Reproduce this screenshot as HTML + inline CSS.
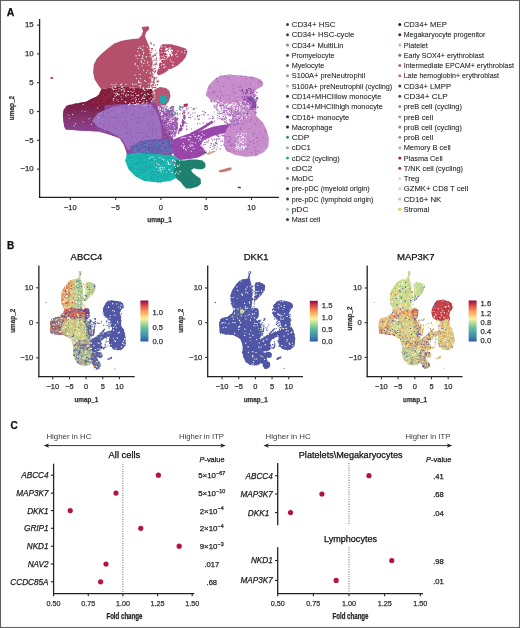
<!DOCTYPE html>
<html><head><meta charset="utf-8"><style>
html,body{margin:0;padding:0;background:#fff;}
body{width:520px;height:628px;overflow:hidden;}
svg{display:block;font-family:"Liberation Sans", sans-serif;will-change:transform;filter:blur(0.3px);}
</style></head><body>
<svg width="520" height="628" viewBox="0 0 520 628">
<rect x="0" y="0" width="520" height="628" fill="#fff"/>
<text x="6.80" y="15.86" font-size="10.5" font-weight="bold" fill="#111" stroke="#111" stroke-width="0.25">A</text>
<defs><linearGradient id="gml" gradientUnits="userSpaceOnUse" x1="0" y1="100" x2="0" y2="131"><stop offset="0" stop-color="#781a3e"/><stop offset="0.3" stop-color="#7c2450"/><stop offset="0.6" stop-color="#86346e"/><stop offset="1" stop-color="#8c4294"/></linearGradient></defs>
<path d="M63.8,109.4 L66.7,105.6 L74.4,103.7 L86.0,101.7 L91.7,98.8 L100.4,95.0 L120.0,94.0 L150.0,97.0 L157.0,104.0 L161.5,119.6 L168.5,123.0 L172.0,135.0 L176.0,150.0 L170.0,156.0 L150.0,157.0 L130.0,158.0 L127.3,160.0 L126.3,151.9 L123.5,144.2 L119.6,138.5 L111.9,135.6 L98.5,131.5 L79.2,130.6 L65.8,129.6 L64.3,126.7 L63.4,121.0 L62.9,114.2Z" fill="#8e4898"/>
<path d="M63.8,109.4 L66.7,105.6 L74.4,103.7 L86.0,101.7 L91.7,98.8 L100.4,95.0 L106.0,100.0 L104.0,110.0 L100.0,122.0 L98.5,131.5 L79.2,130.6 L65.8,129.6 L64.3,126.7 L63.4,121.0 L62.9,114.2Z" fill="url(#gml)"/>
<path d="M98.0,113.0 L115.0,106.0 L135.0,104.0 L150.0,104.0 L157.0,112.0 L161.0,125.0 L162.0,138.0 L155.0,146.0 L140.0,147.0 L128.0,150.0 L124.0,142.0 L118.0,136.0 L108.0,131.0 L98.0,127.0 L92.0,121.0Z" fill="#9e70c0"/>
<path d="M101.3,89.2 L117.7,86.3 L140.8,88.3 L152.0,89.0 L154.0,96.0 L150.0,103.0 L140.0,104.0 L120.0,104.0 L106.0,105.0 L96.0,107.0 L90.0,104.0 L94.0,99.0 L98.5,95.0Z" fill="#84203e"/>
<path d="M141.5,26.9 L148.5,26.2 L149.2,29.2 L146.2,32.3 L145.0,36.0 L146.5,40.0 L149.2,46.2 L150.8,53.8 L152.3,63.1 L152.3,72.3 L151.0,80.0 L150.0,88.0 L140.8,88.3 L117.7,86.3 L101.3,89.2 L98.5,85.4 L94.6,79.6 L93.1,72.3 L93.8,64.6 L96.9,58.5 L101.5,53.8 L107.7,48.5 L113.8,43.8 L121.5,40.8 L130.8,39.2 L138.5,38.5 L141.5,35.4 L143.0,31.0Z" fill="#b4506c"/>
<path d="M162.5,44.3 L171.2,44.3 L178.8,46.2 L185.6,48.6 L187.5,51.5 L185.6,57.2 L182.7,61.1 L176.9,65.9 L169.2,69.7 L163.5,73.6 L158.7,75.5 L156.7,73.6 L158.7,66.8 L159.6,57.2 L159.1,49.5 L160.6,45.7Z" fill="#b84c6c"/>
<path d="M155.0,89.0 L160.0,87.0 L166.0,88.0 L169.5,91.0 L170.5,96.0 L169.0,101.0 L166.0,105.0 L161.0,106.5 L156.0,104.5 L153.0,99.0 L152.0,93.0Z" fill="#b45874"/>
<path d="M160.0,96.0 L164.0,95.0 L167.0,97.0 L167.5,101.0 L165.0,104.0 L161.0,104.5 L159.5,101.0Z" fill="#28a4a8"/>
<path d="M169.6,107.0 L174.2,107.5 L173.5,111.5 L170.0,111.0Z" fill="#40a8b0"/>
<path d="M183.5,104.0 L188.0,103.5 L187.5,106.5 L184.0,107.0Z" fill="#b03050"/>
<path d="M157.0,104.0 L165.0,108.0 L172.0,112.0 L177.0,118.0 L178.0,128.0 L175.0,136.0 L170.0,138.0 L166.0,125.0 L161.5,119.6Z" fill="#9a56ae"/>
<path d="M130.0,147.0 L140.0,141.0 L155.0,139.0 L170.0,140.0 L176.0,147.0 L173.0,154.0 L160.0,154.0 L145.0,153.0 L132.0,153.0Z" fill="#6462b0"/>
<path d="M126.9,154.0 L137.0,153.0 L155.0,154.0 L172.0,155.0 L182.0,161.0 L180.0,172.0 L177.1,177.4 L170.2,180.9 L158.1,182.6 L144.2,180.9 L135.6,176.5 L128.7,169.6 L125.2,161.0Z" fill="#16b6ae"/>
<path d="M176.0,160.0 L184.2,160.6 L190.0,159.6 L196.7,159.6 L202.5,160.6 L205.4,163.5 L205.4,167.3 L202.5,169.2 L197.7,169.2 L193.8,168.3 L191.0,170.2 L192.9,173.1 L196.7,176.0 L200.6,178.8 L201.0,183.7 L197.7,186.5 L191.0,188.5 L186.2,188.5 L183.3,185.6 L180.4,181.7 L176.5,178.8 L174.0,172.0Z" fill="#1e806e"/>
<path d="M172.0,140.0 L176.9,138.0 L188.0,134.0 L200.0,131.2 L213.8,126.5 L225.0,124.5 L233.8,124.2 L235.0,128.0 L233.8,131.2 L225.0,133.0 L213.8,135.8 L204.0,140.0 L200.0,145.0 L204.0,149.0 L205.0,154.0 L198.0,157.5 L190.0,159.0 L180.0,160.0 L174.0,156.0 L172.0,148.0Z" fill="#9846aa"/>
<path d="M190.0,133.0 L200.0,128.0 L212.0,120.5 L213.5,122.5 L202.0,130.0 L192.0,135.5Z" fill="#9846aa"/>
<path d="M183.5,114.5 L186.0,115.0 L184.5,124.0 L181.0,133.0 L177.5,134.0 L180.5,124.0Z" fill="#9846aa"/>
<path d="M214.4,79.4 L220.2,75.8 L228.8,74.4 L243.3,75.8 L254.8,77.3 L260.6,79.4 L263.5,83.0 L262.0,86.6 L256.3,89.5 L253.4,93.8 L251.9,96.7 L256.3,108.3 L256.1,115.8 L262.9,122.5 L266.9,130.6 L268.9,138.6 L268.3,146.7 L264.2,152.1 L256.1,156.1 L245.4,156.8 L234.6,154.8 L226.5,150.8 L223.8,144.0 L223.8,136.0 L226.5,129.2 L230.6,123.8 L231.9,117.1 L229.0,110.0 L222.0,106.0 L215.9,102.5 L211.5,101.1 L205.8,95.3 L207.2,89.5 L208.7,85.2Z" fill="#c78cca"/>
<path d="M247.6,96.7 L252.0,96.0 L256.3,103.0 L256.3,108.3 L252.0,108.0 L249.0,102.0Z" fill="#8c4ea8"/>
<path d="M50.5,77.2 L53.0,77.2 L53.0,78.8 L50.5,78.8Z" fill="#a03040"/>
<path d="M218.5,170.5 L224.0,169.0 L229.0,167.5 L232.0,167.8 L231.0,170.0 L226.0,171.5 L220.0,172.5Z" fill="#c47a74"/>
<path d="M206.0,153.5 L214.0,150.5 L216.0,151.5 L208.0,155.0Z" fill="#d8a090"/>
<path d="M204.5,152.0 L206.5,151.8 L206.5,153.2 L204.5,153.4Z" fill="#444444"/>
<path d="M238.0,186.4 L241.0,187.0 L240.5,188.5 L237.5,188.0Z" fill="#6a3a6a"/>
<path d="M167.0 48.3h1.2v1.2h-1.2zM169.6 47.6h1.2v1.2h-1.2zM168.7 50.4h1.2v1.2h-1.2zM167.8 54.8h1.2v1.2h-1.2zM165.4 49.0h1.2v1.2h-1.2zM169.0 50.7h1.2v1.2h-1.2zM171.3 49.7h1.2v1.2h-1.2zM166.9 54.7h1.2v1.2h-1.2zM165.8 52.4h1.2v1.2h-1.2zM169.5 50.4h1.2v1.2h-1.2zM168.8 47.5h1.2v1.2h-1.2zM164.9 48.9h1.2v1.2h-1.2zM169.8 51.0h1.2v1.2h-1.2zM166.9 52.5h1.2v1.2h-1.2zM168.0 49.7h1.2v1.2h-1.2zM170.8 53.5h1.2v1.2h-1.2zM166.4 52.4h1.2v1.2h-1.2zM168.6 55.2h1.2v1.2h-1.2zM170.2 49.6h1.2v1.2h-1.2zM167.7 54.1h1.2v1.2h-1.2zM165.6 51.5h1.2v1.2h-1.2zM170.5 52.3h1.2v1.2h-1.2zM171.4 49.9h1.2v1.2h-1.2zM170.0 52.5h1.2v1.2h-1.2zM169.0 51.2h1.2v1.2h-1.2zM168.2 53.2h1.2v1.2h-1.2zM171.0 49.6h1.2v1.2h-1.2zM167.5 53.3h1.2v1.2h-1.2zM165.7 48.0h1.2v1.2h-1.2zM165.4 49.3h1.2v1.2h-1.2zM167.5 55.2h1.2v1.2h-1.2zM168.8 55.3h1.2v1.2h-1.2zM171.0 55.1h1.2v1.2h-1.2zM166.6 50.8h1.2v1.2h-1.2zM167.3 55.3h1.2v1.2h-1.2zM165.8 49.1h1.2v1.2h-1.2zM166.3 51.5h1.2v1.2h-1.2zM169.1 49.4h1.2v1.2h-1.2zM167.4 52.3h1.2v1.2h-1.2zM168.5 52.8h1.2v1.2h-1.2zM169.8 47.4h1.2v1.2h-1.2zM171.6 54.3h1.2v1.2h-1.2zM171.4 54.5h1.2v1.2h-1.2z" fill="#ffffff"/>
<path d="M160.2 61.0h1.1v1.1h-1.1zM158.2 60.7h1.1v1.1h-1.1zM161.7 58.8h1.1v1.1h-1.1zM159.2 60.6h1.1v1.1h-1.1zM160.7 61.8h1.1v1.1h-1.1zM159.8 59.8h1.1v1.1h-1.1zM163.3 58.9h1.1v1.1h-1.1zM161.1 58.8h1.1v1.1h-1.1zM163.5 63.7h1.1v1.1h-1.1zM159.3 60.8h1.1v1.1h-1.1zM161.2 64.5h1.1v1.1h-1.1zM159.8 59.5h1.1v1.1h-1.1zM163.2 64.1h1.1v1.1h-1.1zM159.0 62.1h1.1v1.1h-1.1zM157.6 60.0h1.1v1.1h-1.1zM223.1 101.5h1.1v1.1h-1.1zM242.7 110.2h1.1v1.1h-1.1zM221.8 109.5h1.1v1.1h-1.1zM238.7 115.6h1.1v1.1h-1.1zM240.7 102.4h1.1v1.1h-1.1zM248.4 106.5h1.1v1.1h-1.1zM236.4 108.4h1.1v1.1h-1.1zM243.9 104.2h1.1v1.1h-1.1zM222.3 105.3h1.1v1.1h-1.1zM236.9 107.3h1.1v1.1h-1.1zM233.8 105.0h1.1v1.1h-1.1zM247.0 115.1h1.1v1.1h-1.1zM232.3 119.1h1.1v1.1h-1.1zM216.7 104.0h1.1v1.1h-1.1zM252.4 108.4h1.1v1.1h-1.1zM249.6 110.2h1.1v1.1h-1.1zM237.7 114.3h1.1v1.1h-1.1zM221.0 108.3h1.1v1.1h-1.1zM217.7 104.3h1.1v1.1h-1.1zM240.1 104.3h1.1v1.1h-1.1zM241.3 103.9h1.1v1.1h-1.1zM225.2 104.3h1.1v1.1h-1.1zM246.4 112.6h1.1v1.1h-1.1zM214.2 101.9h1.1v1.1h-1.1zM228.8 112.7h1.1v1.1h-1.1zM239.6 101.6h1.1v1.1h-1.1zM229.5 106.2h1.1v1.1h-1.1zM225.2 113.0h1.1v1.1h-1.1zM227.2 109.4h1.1v1.1h-1.1zM227.5 104.2h1.1v1.1h-1.1zM243.5 104.3h1.1v1.1h-1.1zM230.1 119.1h1.1v1.1h-1.1zM229.3 120.6h1.1v1.1h-1.1zM231.7 103.4h1.1v1.1h-1.1zM239.6 121.3h1.1v1.1h-1.1zM227.8 111.6h1.1v1.1h-1.1zM217.9 106.2h1.1v1.1h-1.1zM234.4 121.7h1.1v1.1h-1.1zM220.1 102.5h1.1v1.1h-1.1zM252.2 108.8h1.1v1.1h-1.1zM247.7 103.3h1.1v1.1h-1.1zM246.0 104.8h1.1v1.1h-1.1zM229.2 119.8h1.1v1.1h-1.1zM247.9 103.8h1.1v1.1h-1.1zM221.0 109.0h1.1v1.1h-1.1zM234.2 108.7h1.1v1.1h-1.1zM216.9 105.4h1.1v1.1h-1.1zM244.8 100.4h1.1v1.1h-1.1zM248.3 102.3h1.1v1.1h-1.1zM237.8 112.7h1.1v1.1h-1.1zM239.0 106.8h1.1v1.1h-1.1zM229.9 113.4h1.1v1.1h-1.1zM230.2 115.3h1.1v1.1h-1.1zM231.1 110.0h1.1v1.1h-1.1zM233.0 105.1h1.1v1.1h-1.1zM231.6 103.8h1.1v1.1h-1.1zM232.3 102.0h1.1v1.1h-1.1zM239.5 101.4h1.1v1.1h-1.1zM243.7 118.1h1.1v1.1h-1.1zM233.6 108.5h1.1v1.1h-1.1zM233.1 122.4h1.1v1.1h-1.1zM251.8 103.4h1.1v1.1h-1.1zM244.7 103.3h1.1v1.1h-1.1zM250.9 106.0h1.1v1.1h-1.1zM247.3 102.9h1.1v1.1h-1.1zM233.5 121.5h1.1v1.1h-1.1zM220.6 105.8h1.1v1.1h-1.1zM233.7 107.1h1.1v1.1h-1.1zM239.4 108.1h1.1v1.1h-1.1zM249.9 112.8h1.1v1.1h-1.1zM237.0 120.6h1.1v1.1h-1.1zM239.2 108.9h1.1v1.1h-1.1zM246.5 105.8h1.1v1.1h-1.1zM227.3 117.8h1.1v1.1h-1.1zM230.9 103.7h1.1v1.1h-1.1zM244.2 100.6h1.1v1.1h-1.1zM247.5 105.5h1.1v1.1h-1.1zM237.2 115.4h1.1v1.1h-1.1zM238.6 109.8h1.1v1.1h-1.1zM234.0 120.9h1.1v1.1h-1.1zM217.3 104.9h1.1v1.1h-1.1zM237.4 104.4h1.1v1.1h-1.1zM238.9 110.8h1.1v1.1h-1.1zM222.2 103.0h1.1v1.1h-1.1zM229.1 105.8h1.1v1.1h-1.1zM236.2 107.9h1.1v1.1h-1.1zM239.9 110.1h1.1v1.1h-1.1zM229.3 105.2h1.1v1.1h-1.1zM233.8 114.8h1.1v1.1h-1.1zM247.2 103.6h1.1v1.1h-1.1zM225.1 106.7h1.1v1.1h-1.1zM244.2 110.6h1.1v1.1h-1.1zM244.1 110.3h1.1v1.1h-1.1zM221.4 102.0h1.1v1.1h-1.1zM242.8 105.8h1.1v1.1h-1.1zM235.8 109.9h1.1v1.1h-1.1zM246.1 112.0h1.1v1.1h-1.1zM222.9 105.1h1.1v1.1h-1.1zM244.3 107.3h1.1v1.1h-1.1zM250.2 107.3h1.1v1.1h-1.1zM239.2 116.1h1.1v1.1h-1.1zM232.1 119.6h1.1v1.1h-1.1zM230.7 116.8h1.1v1.1h-1.1zM236.5 106.8h1.1v1.1h-1.1zM217.8 100.1h1.1v1.1h-1.1zM226.6 102.9h1.1v1.1h-1.1zM212.7 100.4h1.1v1.1h-1.1zM241.9 114.7h1.1v1.1h-1.1zM242.1 117.1h1.1v1.1h-1.1zM216.2 104.4h1.1v1.1h-1.1zM216.4 100.3h1.1v1.1h-1.1zM239.4 119.3h1.1v1.1h-1.1zM239.2 106.3h1.1v1.1h-1.1zM215.8 101.8h1.1v1.1h-1.1zM244.8 104.4h1.1v1.1h-1.1zM225.5 109.6h1.1v1.1h-1.1zM227.6 107.1h1.1v1.1h-1.1zM248.9 114.3h1.1v1.1h-1.1zM230.7 118.0h1.1v1.1h-1.1zM226.7 116.4h1.1v1.1h-1.1zM235.1 104.6h1.1v1.1h-1.1zM249.4 101.6h1.1v1.1h-1.1zM247.5 103.5h1.1v1.1h-1.1zM233.1 118.6h1.1v1.1h-1.1zM223.9 104.6h1.1v1.1h-1.1zM242.2 111.4h1.1v1.1h-1.1zM242.1 118.3h1.1v1.1h-1.1zM239.1 108.0h1.1v1.1h-1.1zM229.1 108.9h1.1v1.1h-1.1zM250.6 101.5h1.1v1.1h-1.1zM220.5 105.8h1.1v1.1h-1.1zM251.1 111.5h1.1v1.1h-1.1zM221.7 110.5h1.1v1.1h-1.1zM234.8 117.6h1.1v1.1h-1.1zM244.6 115.0h1.1v1.1h-1.1zM226.8 107.3h1.1v1.1h-1.1zM240.6 117.3h1.1v1.1h-1.1zM245.5 113.4h1.1v1.1h-1.1zM250.4 105.2h1.1v1.1h-1.1zM219.9 106.7h1.1v1.1h-1.1zM218.3 103.2h1.1v1.1h-1.1zM222.3 107.3h1.1v1.1h-1.1zM234.4 103.3h1.1v1.1h-1.1zM225.9 104.0h1.1v1.1h-1.1zM243.7 109.9h1.1v1.1h-1.1zM216.2 104.4h1.1v1.1h-1.1zM229.0 118.4h1.1v1.1h-1.1zM242.0 111.5h1.1v1.1h-1.1zM239.3 110.6h1.1v1.1h-1.1zM229.3 117.2h1.1v1.1h-1.1zM251.4 109.8h1.1v1.1h-1.1zM236.7 117.4h1.1v1.1h-1.1zM230.0 104.9h1.1v1.1h-1.1zM245.5 116.3h1.1v1.1h-1.1zM239.7 110.3h1.1v1.1h-1.1zM225.2 114.5h1.1v1.1h-1.1zM245.9 116.6h1.1v1.1h-1.1zM239.2 105.5h1.1v1.1h-1.1zM230.1 110.4h1.1v1.1h-1.1zM238.8 109.3h1.1v1.1h-1.1zM245.7 108.8h1.1v1.1h-1.1zM233.0 122.8h1.1v1.1h-1.1zM235.3 116.7h1.1v1.1h-1.1zM234.0 114.8h1.1v1.1h-1.1zM247.9 112.0h1.1v1.1h-1.1zM228.7 117.8h1.1v1.1h-1.1zM223.5 109.0h1.1v1.1h-1.1zM230.0 116.2h1.1v1.1h-1.1zM226.9 105.8h1.1v1.1h-1.1zM228.7 104.5h1.1v1.1h-1.1zM247.1 114.7h1.1v1.1h-1.1zM232.1 112.9h1.1v1.1h-1.1zM227.0 114.8h1.1v1.1h-1.1zM232.0 106.5h1.1v1.1h-1.1zM235.6 102.5h1.1v1.1h-1.1zM248.1 108.0h1.1v1.1h-1.1zM248.9 105.9h1.1v1.1h-1.1zM228.0 105.5h1.1v1.1h-1.1zM230.2 103.9h1.1v1.1h-1.1zM223.8 105.3h1.1v1.1h-1.1zM224.7 111.0h1.1v1.1h-1.1zM230.3 114.7h1.1v1.1h-1.1zM240.5 108.1h1.1v1.1h-1.1zM236.1 146.5h1.1v1.1h-1.1zM245.4 145.8h1.1v1.1h-1.1zM237.0 146.6h1.1v1.1h-1.1zM242.4 132.7h1.1v1.1h-1.1zM235.6 148.6h1.1v1.1h-1.1zM242.7 136.7h1.1v1.1h-1.1zM236.6 134.9h1.1v1.1h-1.1zM238.0 145.6h1.1v1.1h-1.1zM239.3 135.0h1.1v1.1h-1.1zM245.4 145.9h1.1v1.1h-1.1zM237.3 147.6h1.1v1.1h-1.1zM242.1 145.7h1.1v1.1h-1.1zM242.8 147.6h1.1v1.1h-1.1zM244.1 146.7h1.1v1.1h-1.1zM237.6 144.2h1.1v1.1h-1.1zM241.3 145.1h1.1v1.1h-1.1zM240.3 147.5h1.1v1.1h-1.1zM241.6 136.9h1.1v1.1h-1.1zM238.0 134.8h1.1v1.1h-1.1zM240.9 133.4h1.1v1.1h-1.1zM240.6 134.9h1.1v1.1h-1.1zM240.9 140.9h1.1v1.1h-1.1zM241.4 147.1h1.1v1.1h-1.1zM235.5 146.7h1.1v1.1h-1.1zM240.6 142.0h1.1v1.1h-1.1zM242.8 146.7h1.1v1.1h-1.1zM239.6 139.6h1.1v1.1h-1.1zM246.0 133.7h1.1v1.1h-1.1zM242.5 143.3h1.1v1.1h-1.1zM235.8 142.8h1.1v1.1h-1.1zM243.0 148.3h1.1v1.1h-1.1zM239.1 149.1h1.1v1.1h-1.1zM241.1 140.7h1.1v1.1h-1.1zM245.3 133.0h1.1v1.1h-1.1zM243.4 143.1h1.1v1.1h-1.1zM239.2 147.1h1.1v1.1h-1.1zM239.5 140.5h1.1v1.1h-1.1zM241.2 145.5h1.1v1.1h-1.1zM237.8 139.8h1.1v1.1h-1.1zM240.1 141.9h1.1v1.1h-1.1zM244.5 137.4h1.1v1.1h-1.1zM244.6 139.3h1.1v1.1h-1.1zM241.0 137.1h1.1v1.1h-1.1zM241.0 149.0h1.1v1.1h-1.1zM242.7 145.9h1.1v1.1h-1.1zM239.1 137.8h1.1v1.1h-1.1zM238.7 142.4h1.1v1.1h-1.1zM242.4 145.8h1.1v1.1h-1.1zM235.9 144.7h1.1v1.1h-1.1zM245.2 141.7h1.1v1.1h-1.1zM236.0 137.6h1.1v1.1h-1.1zM235.5 135.7h1.1v1.1h-1.1zM245.6 142.8h1.1v1.1h-1.1zM242.7 145.9h1.1v1.1h-1.1zM245.5 142.8h1.1v1.1h-1.1zM242.2 143.1h1.1v1.1h-1.1zM243.1 142.6h1.1v1.1h-1.1zM242.9 136.1h1.1v1.1h-1.1zM242.8 140.2h1.1v1.1h-1.1zM243.8 134.2h1.1v1.1h-1.1zM237.4 133.1h1.1v1.1h-1.1zM244.0 148.0h1.1v1.1h-1.1zM242.7 138.7h1.1v1.1h-1.1zM244.5 145.8h1.1v1.1h-1.1zM241.6 136.8h1.1v1.1h-1.1zM179.3 126.9h1.1v1.1h-1.1zM158.1 108.2h1.1v1.1h-1.1zM176.1 113.3h1.1v1.1h-1.1zM173.6 128.5h1.1v1.1h-1.1zM163.9 107.5h1.1v1.1h-1.1zM170.4 109.0h1.1v1.1h-1.1zM163.4 108.2h1.1v1.1h-1.1zM177.2 109.9h1.1v1.1h-1.1zM180.9 124.2h1.1v1.1h-1.1zM169.6 114.7h1.1v1.1h-1.1zM180.3 119.2h1.1v1.1h-1.1zM162.9 105.3h1.1v1.1h-1.1zM177.1 121.7h1.1v1.1h-1.1zM164.2 117.0h1.1v1.1h-1.1zM161.0 112.4h1.1v1.1h-1.1zM180.8 114.5h1.1v1.1h-1.1zM175.8 110.4h1.1v1.1h-1.1zM170.3 112.9h1.1v1.1h-1.1zM163.9 110.1h1.1v1.1h-1.1zM177.5 113.1h1.1v1.1h-1.1zM179.9 114.7h1.1v1.1h-1.1zM180.6 120.8h1.1v1.1h-1.1zM161.8 117.8h1.1v1.1h-1.1zM177.1 109.9h1.1v1.1h-1.1zM158.7 106.3h1.1v1.1h-1.1zM174.1 119.8h1.1v1.1h-1.1zM164.4 110.2h1.1v1.1h-1.1zM174.2 126.8h1.1v1.1h-1.1zM180.0 122.7h1.1v1.1h-1.1zM162.3 105.6h1.1v1.1h-1.1zM177.7 116.9h1.1v1.1h-1.1zM180.0 114.5h1.1v1.1h-1.1zM182.8 119.2h1.1v1.1h-1.1zM181.7 112.2h1.1v1.1h-1.1zM167.1 108.8h1.1v1.1h-1.1zM167.2 123.1h1.1v1.1h-1.1zM169.4 120.5h1.1v1.1h-1.1zM180.1 132.0h1.1v1.1h-1.1zM167.5 128.2h1.1v1.1h-1.1zM184.1 119.8h1.1v1.1h-1.1zM171.3 121.0h1.1v1.1h-1.1zM161.7 106.8h1.1v1.1h-1.1zM176.7 109.9h1.1v1.1h-1.1zM173.2 120.7h1.1v1.1h-1.1zM181.7 127.1h1.1v1.1h-1.1zM157.8 107.5h1.1v1.1h-1.1zM170.8 120.0h1.1v1.1h-1.1zM164.6 107.5h1.1v1.1h-1.1zM168.2 108.0h1.1v1.1h-1.1zM173.6 131.9h1.1v1.1h-1.1zM167.7 117.3h1.1v1.1h-1.1zM180.8 120.8h1.1v1.1h-1.1zM179.0 114.6h1.1v1.1h-1.1zM163.4 114.5h1.1v1.1h-1.1zM180.1 131.4h1.1v1.1h-1.1zM163.7 117.4h1.1v1.1h-1.1zM174.8 115.5h1.1v1.1h-1.1zM169.0 120.1h1.1v1.1h-1.1zM184.6 129.1h1.1v1.1h-1.1zM183.6 124.3h1.1v1.1h-1.1zM175.1 112.2h1.1v1.1h-1.1zM176.1 112.5h1.1v1.1h-1.1zM172.2 134.0h1.1v1.1h-1.1zM174.5 111.7h1.1v1.1h-1.1zM171.5 117.8h1.1v1.1h-1.1zM184.0 112.9h1.1v1.1h-1.1zM165.3 124.8h1.1v1.1h-1.1zM184.2 120.4h1.1v1.1h-1.1zM164.2 118.8h1.1v1.1h-1.1zM171.9 108.3h1.1v1.1h-1.1zM160.0 107.8h1.1v1.1h-1.1zM165.0 116.9h1.1v1.1h-1.1zM164.8 111.5h1.1v1.1h-1.1zM180.8 123.6h1.1v1.1h-1.1zM173.0 124.9h1.1v1.1h-1.1zM169.8 121.5h1.1v1.1h-1.1zM174.2 118.9h1.1v1.1h-1.1zM165.5 111.4h1.1v1.1h-1.1zM162.9 120.4h1.1v1.1h-1.1zM167.6 122.8h1.1v1.1h-1.1zM181.4 111.3h1.1v1.1h-1.1zM172.6 119.7h1.1v1.1h-1.1zM161.0 105.7h1.1v1.1h-1.1zM181.7 118.0h1.1v1.1h-1.1zM169.2 127.7h1.1v1.1h-1.1zM159.6 110.9h1.1v1.1h-1.1zM184.3 127.8h1.1v1.1h-1.1zM160.9 114.6h1.1v1.1h-1.1zM166.7 125.7h1.1v1.1h-1.1zM174.3 131.5h1.1v1.1h-1.1zM180.3 120.5h1.1v1.1h-1.1zM177.9 128.0h1.1v1.1h-1.1zM178.5 119.1h1.1v1.1h-1.1zM179.2 126.8h1.1v1.1h-1.1zM178.7 122.8h1.1v1.1h-1.1zM170.9 135.2h1.1v1.1h-1.1zM173.0 117.2h1.1v1.1h-1.1zM179.2 132.3h1.1v1.1h-1.1zM174.1 116.0h1.1v1.1h-1.1zM169.6 118.6h1.1v1.1h-1.1zM177.4 113.1h1.1v1.1h-1.1zM167.8 121.8h1.1v1.1h-1.1zM167.6 114.1h1.1v1.1h-1.1zM179.3 131.5h1.1v1.1h-1.1zM170.9 118.1h1.1v1.1h-1.1zM161.8 113.5h1.1v1.1h-1.1zM183.1 114.1h1.1v1.1h-1.1zM180.9 131.1h1.1v1.1h-1.1zM172.8 119.9h1.1v1.1h-1.1zM183.1 129.0h1.1v1.1h-1.1zM171.5 120.5h1.1v1.1h-1.1zM176.3 116.3h1.1v1.1h-1.1zM166.8 123.1h1.1v1.1h-1.1zM176.1 120.8h1.1v1.1h-1.1zM168.1 122.0h1.1v1.1h-1.1zM173.1 132.5h1.1v1.1h-1.1zM184.4 119.5h1.1v1.1h-1.1zM169.2 124.1h1.1v1.1h-1.1zM185.3 114.8h1.1v1.1h-1.1zM171.8 130.4h1.1v1.1h-1.1zM161.4 113.9h1.1v1.1h-1.1zM182.4 126.2h1.1v1.1h-1.1zM182.2 117.3h1.1v1.1h-1.1zM161.0 113.0h1.1v1.1h-1.1zM171.3 120.1h1.1v1.1h-1.1zM161.9 109.5h1.1v1.1h-1.1zM174.7 123.4h1.1v1.1h-1.1zM168.4 129.4h1.1v1.1h-1.1zM180.9 122.8h1.1v1.1h-1.1zM175.8 109.9h1.1v1.1h-1.1zM170.9 121.7h1.1v1.1h-1.1zM173.1 117.0h1.1v1.1h-1.1zM160.0 108.6h1.1v1.1h-1.1zM159.4 109.1h1.1v1.1h-1.1zM171.6 130.6h1.1v1.1h-1.1zM174.2 130.1h1.1v1.1h-1.1zM178.8 114.1h1.1v1.1h-1.1zM177.2 115.1h1.1v1.1h-1.1zM161.4 112.2h1.1v1.1h-1.1zM173.3 115.0h1.1v1.1h-1.1zM169.5 116.2h1.1v1.1h-1.1zM173.3 135.1h1.1v1.1h-1.1zM169.2 123.9h1.1v1.1h-1.1zM180.1 113.5h1.1v1.1h-1.1zM173.9 135.1h1.1v1.1h-1.1zM170.8 134.8h1.1v1.1h-1.1zM163.5 116.3h1.1v1.1h-1.1zM177.3 110.8h1.1v1.1h-1.1zM170.5 129.6h1.1v1.1h-1.1zM163.5 109.2h1.1v1.1h-1.1zM166.8 109.6h1.1v1.1h-1.1zM184.6 113.0h1.1v1.1h-1.1zM171.9 116.2h1.1v1.1h-1.1z" fill="#ffffff"/>
<path d="M121.4 98.7h1.0v1.0h-1.0zM153.5 93.3h1.0v1.0h-1.0zM153.4 91.5h1.0v1.0h-1.0zM119.6 88.5h1.0v1.0h-1.0zM118.5 88.0h1.0v1.0h-1.0zM138.2 103.3h1.0v1.0h-1.0zM148.2 94.0h1.0v1.0h-1.0zM139.5 101.1h1.0v1.0h-1.0zM113.4 98.0h1.0v1.0h-1.0zM151.3 100.7h1.0v1.0h-1.0zM144.0 94.0h1.0v1.0h-1.0zM117.7 100.9h1.0v1.0h-1.0zM124.8 101.1h1.0v1.0h-1.0zM154.2 92.2h1.0v1.0h-1.0zM128.0 104.3h1.0v1.0h-1.0zM142.8 87.2h1.0v1.0h-1.0zM115.3 86.8h1.0v1.0h-1.0zM151.1 101.2h1.0v1.0h-1.0zM125.6 95.6h1.0v1.0h-1.0zM115.5 83.8h1.0v1.0h-1.0zM154.2 97.8h1.0v1.0h-1.0zM133.7 104.0h1.0v1.0h-1.0zM129.5 102.7h1.0v1.0h-1.0zM147.5 88.1h1.0v1.0h-1.0zM121.1 89.9h1.0v1.0h-1.0zM120.6 96.4h1.0v1.0h-1.0zM121.4 92.7h1.0v1.0h-1.0zM125.8 93.6h1.0v1.0h-1.0zM136.3 103.4h1.0v1.0h-1.0zM128.8 103.7h1.0v1.0h-1.0zM132.6 95.2h1.0v1.0h-1.0zM133.6 83.9h1.0v1.0h-1.0zM129.7 87.5h1.0v1.0h-1.0zM117.4 93.9h1.0v1.0h-1.0zM142.9 95.7h1.0v1.0h-1.0zM124.5 94.9h1.0v1.0h-1.0zM135.1 100.8h1.0v1.0h-1.0zM114.4 95.8h1.0v1.0h-1.0zM120.9 89.6h1.0v1.0h-1.0zM145.0 94.7h1.0v1.0h-1.0zM135.3 100.2h1.0v1.0h-1.0zM151.5 93.3h1.0v1.0h-1.0zM137.7 94.6h1.0v1.0h-1.0zM133.1 98.7h1.0v1.0h-1.0zM130.3 95.2h1.0v1.0h-1.0zM131.5 104.2h1.0v1.0h-1.0zM141.7 102.8h1.0v1.0h-1.0zM152.8 89.2h1.0v1.0h-1.0zM135.2 104.3h1.0v1.0h-1.0zM148.1 86.5h1.0v1.0h-1.0zM115.1 93.2h1.0v1.0h-1.0zM112.8 88.8h1.0v1.0h-1.0zM112.9 98.2h1.0v1.0h-1.0zM145.6 103.2h1.0v1.0h-1.0zM116.6 99.3h1.0v1.0h-1.0zM139.9 86.6h1.0v1.0h-1.0zM150.1 104.8h1.0v1.0h-1.0zM127.8 94.2h1.0v1.0h-1.0zM116.9 93.0h1.0v1.0h-1.0zM133.2 91.0h1.0v1.0h-1.0zM118.5 90.5h1.0v1.0h-1.0zM135.0 93.2h1.0v1.0h-1.0zM138.2 94.8h1.0v1.0h-1.0zM145.8 104.9h1.0v1.0h-1.0zM114.3 89.3h1.0v1.0h-1.0zM121.9 86.4h1.0v1.0h-1.0zM128.9 103.6h1.0v1.0h-1.0zM147.2 89.2h1.0v1.0h-1.0zM135.7 98.9h1.0v1.0h-1.0zM113.6 84.8h1.0v1.0h-1.0zM141.2 92.9h1.0v1.0h-1.0zM138.7 101.1h1.0v1.0h-1.0zM130.4 91.0h1.0v1.0h-1.0zM134.9 103.9h1.0v1.0h-1.0zM121.8 86.3h1.0v1.0h-1.0zM133.7 88.7h1.0v1.0h-1.0zM114.5 87.1h1.0v1.0h-1.0zM111.8 87.9h1.0v1.0h-1.0zM123.9 90.2h1.0v1.0h-1.0zM144.4 89.9h1.0v1.0h-1.0zM132.5 87.4h1.0v1.0h-1.0zM125.5 83.9h1.0v1.0h-1.0zM121.0 83.8h1.0v1.0h-1.0zM143.2 95.6h1.0v1.0h-1.0zM118.2 93.9h1.0v1.0h-1.0zM147.2 93.0h1.0v1.0h-1.0zM132.3 101.9h1.0v1.0h-1.0zM127.6 94.6h1.0v1.0h-1.0zM141.1 105.1h1.0v1.0h-1.0zM125.3 101.8h1.0v1.0h-1.0zM142.0 97.5h1.0v1.0h-1.0zM128.1 91.1h1.0v1.0h-1.0zM112.0 86.4h1.0v1.0h-1.0zM112.8 99.8h1.0v1.0h-1.0zM121.3 87.1h1.0v1.0h-1.0zM149.5 98.3h1.0v1.0h-1.0zM122.5 88.8h1.0v1.0h-1.0zM123.0 93.6h1.0v1.0h-1.0zM116.7 93.3h1.0v1.0h-1.0zM154.2 95.5h1.0v1.0h-1.0zM123.7 91.3h1.0v1.0h-1.0zM131.3 94.6h1.0v1.0h-1.0zM118.7 94.6h1.0v1.0h-1.0zM113.6 92.3h1.0v1.0h-1.0zM111.4 84.0h1.0v1.0h-1.0zM123.5 88.6h1.0v1.0h-1.0zM136.4 95.1h1.0v1.0h-1.0zM144.0 98.0h1.0v1.0h-1.0zM142.4 102.8h1.0v1.0h-1.0zM127.4 90.7h1.0v1.0h-1.0zM142.8 97.7h1.0v1.0h-1.0zM150.5 97.3h1.0v1.0h-1.0zM143.3 101.4h1.0v1.0h-1.0zM115.9 95.0h1.0v1.0h-1.0zM132.7 101.9h1.0v1.0h-1.0zM146.5 101.7h1.0v1.0h-1.0zM136.4 103.1h1.0v1.0h-1.0zM140.9 98.8h1.0v1.0h-1.0zM120.1 84.2h1.0v1.0h-1.0zM115.6 91.4h1.0v1.0h-1.0zM135.2 97.3h1.0v1.0h-1.0zM138.3 98.5h1.0v1.0h-1.0zM132.0 83.6h1.0v1.0h-1.0zM146.2 100.0h1.0v1.0h-1.0zM132.6 95.3h1.0v1.0h-1.0zM139.8 85.0h1.0v1.0h-1.0zM143.4 89.0h1.0v1.0h-1.0zM112.9 89.3h1.0v1.0h-1.0zM143.0 88.0h1.0v1.0h-1.0zM143.5 105.0h1.0v1.0h-1.0zM132.2 91.9h1.0v1.0h-1.0zM131.5 98.5h1.0v1.0h-1.0zM144.8 97.1h1.0v1.0h-1.0zM139.1 85.2h1.0v1.0h-1.0zM116.3 89.1h1.0v1.0h-1.0zM143.7 90.2h1.0v1.0h-1.0zM135.6 83.8h1.0v1.0h-1.0zM135.5 55.3h1.0v1.0h-1.0zM145.9 72.2h1.0v1.0h-1.0zM146.0 56.1h1.0v1.0h-1.0zM143.3 63.1h1.0v1.0h-1.0zM142.4 49.2h1.0v1.0h-1.0zM149.7 52.5h1.0v1.0h-1.0zM151.1 82.0h1.0v1.0h-1.0zM134.8 62.9h1.0v1.0h-1.0zM148.4 83.2h1.0v1.0h-1.0zM142.1 55.2h1.0v1.0h-1.0zM138.1 82.3h1.0v1.0h-1.0zM138.1 67.8h1.0v1.0h-1.0zM136.9 65.5h1.0v1.0h-1.0zM148.4 64.8h1.0v1.0h-1.0zM149.6 72.6h1.0v1.0h-1.0zM138.4 80.4h1.0v1.0h-1.0zM142.8 45.5h1.0v1.0h-1.0zM134.6 64.2h1.0v1.0h-1.0zM142.2 56.6h1.0v1.0h-1.0zM136.9 58.3h1.0v1.0h-1.0zM139.9 78.1h1.0v1.0h-1.0zM134.5 74.5h1.0v1.0h-1.0zM148.8 49.3h1.0v1.0h-1.0zM150.2 73.0h1.0v1.0h-1.0zM149.8 56.1h1.0v1.0h-1.0zM140.8 60.2h1.0v1.0h-1.0zM140.6 61.6h1.0v1.0h-1.0zM139.2 46.4h1.0v1.0h-1.0zM136.2 77.9h1.0v1.0h-1.0zM139.4 81.9h1.0v1.0h-1.0zM138.7 55.1h1.0v1.0h-1.0zM143.2 52.1h1.0v1.0h-1.0zM140.8 82.7h1.0v1.0h-1.0zM149.5 77.0h1.0v1.0h-1.0zM145.2 81.0h1.0v1.0h-1.0zM150.5 66.5h1.0v1.0h-1.0zM146.7 46.5h1.0v1.0h-1.0zM146.9 62.5h1.0v1.0h-1.0zM147.3 70.3h1.0v1.0h-1.0zM139.4 46.5h1.0v1.0h-1.0zM142.5 58.2h1.0v1.0h-1.0zM139.6 74.1h1.0v1.0h-1.0zM145.7 56.5h1.0v1.0h-1.0zM144.0 60.3h1.0v1.0h-1.0zM137.3 51.0h1.0v1.0h-1.0zM138.0 80.7h1.0v1.0h-1.0zM143.0 53.3h1.0v1.0h-1.0zM149.9 84.4h1.0v1.0h-1.0zM142.1 50.1h1.0v1.0h-1.0zM137.8 48.1h1.0v1.0h-1.0zM140.3 48.1h1.0v1.0h-1.0zM138.6 54.8h1.0v1.0h-1.0zM144.2 80.0h1.0v1.0h-1.0zM147.2 61.0h1.0v1.0h-1.0zM141.5 65.5h1.0v1.0h-1.0zM140.9 58.0h1.0v1.0h-1.0zM135.6 55.6h1.0v1.0h-1.0zM143.1 69.7h1.0v1.0h-1.0zM149.2 53.1h1.0v1.0h-1.0zM139.1 54.4h1.0v1.0h-1.0zM141.3 62.3h1.0v1.0h-1.0zM150.7 78.4h1.0v1.0h-1.0zM149.3 45.4h1.0v1.0h-1.0zM158.4 65.8h1.0v1.0h-1.0zM160.7 49.1h1.0v1.0h-1.0zM172.6 65.0h1.0v1.0h-1.0zM170.8 61.0h1.0v1.0h-1.0zM158.6 68.0h1.0v1.0h-1.0zM176.2 53.6h1.0v1.0h-1.0zM161.2 52.1h1.0v1.0h-1.0zM160.8 46.6h1.0v1.0h-1.0zM172.7 62.0h1.0v1.0h-1.0zM168.8 51.2h1.0v1.0h-1.0zM166.2 58.3h1.0v1.0h-1.0zM164.3 51.9h1.0v1.0h-1.0zM172.0 64.7h1.0v1.0h-1.0zM169.7 52.2h1.0v1.0h-1.0zM167.3 57.1h1.0v1.0h-1.0zM177.3 50.4h1.0v1.0h-1.0zM172.1 50.7h1.0v1.0h-1.0zM181.3 51.4h1.0v1.0h-1.0zM163.9 67.3h1.0v1.0h-1.0zM171.9 50.1h1.0v1.0h-1.0zM164.0 57.0h1.0v1.0h-1.0zM161.7 56.3h1.0v1.0h-1.0zM161.6 46.1h1.0v1.0h-1.0zM159.2 56.3h1.0v1.0h-1.0zM176.8 55.9h1.0v1.0h-1.0zM168.3 54.5h1.0v1.0h-1.0zM165.6 55.0h1.0v1.0h-1.0zM167.8 69.1h1.0v1.0h-1.0zM158.9 58.7h1.0v1.0h-1.0zM163.1 55.4h1.0v1.0h-1.0zM169.4 68.9h1.0v1.0h-1.0zM158.5 46.4h1.0v1.0h-1.0zM184.2 52.2h1.0v1.0h-1.0zM167.3 52.7h1.0v1.0h-1.0zM165.1 66.0h1.0v1.0h-1.0zM166.7 52.8h1.0v1.0h-1.0zM157.6 67.2h1.0v1.0h-1.0zM164.3 58.8h1.0v1.0h-1.0zM168.7 52.0h1.0v1.0h-1.0zM170.0 59.3h1.0v1.0h-1.0zM184.4 50.0h1.0v1.0h-1.0zM175.1 54.3h1.0v1.0h-1.0zM166.8 55.4h1.0v1.0h-1.0zM163.2 67.1h1.0v1.0h-1.0zM164.7 46.4h1.0v1.0h-1.0zM158.5 61.1h1.0v1.0h-1.0zM157.8 163.9h1.0v1.0h-1.0zM158.3 164.1h1.0v1.0h-1.0zM148.8 157.9h1.0v1.0h-1.0zM175.1 167.0h1.0v1.0h-1.0zM178.7 164.4h1.0v1.0h-1.0zM161.5 157.5h1.0v1.0h-1.0zM169.4 159.7h1.0v1.0h-1.0zM172.0 160.3h1.0v1.0h-1.0zM172.4 159.2h1.0v1.0h-1.0zM171.8 172.6h1.0v1.0h-1.0zM168.9 169.7h1.0v1.0h-1.0zM158.1 170.1h1.0v1.0h-1.0zM160.0 167.0h1.0v1.0h-1.0zM162.4 169.0h1.0v1.0h-1.0zM159.9 168.4h1.0v1.0h-1.0zM168.9 163.9h1.0v1.0h-1.0zM160.6 171.2h1.0v1.0h-1.0zM179.6 171.2h1.0v1.0h-1.0zM166.8 161.3h1.0v1.0h-1.0zM171.4 172.0h1.0v1.0h-1.0zM158.8 167.6h1.0v1.0h-1.0zM167.9 161.7h1.0v1.0h-1.0zM160.3 169.2h1.0v1.0h-1.0zM175.0 161.2h1.0v1.0h-1.0zM161.9 167.2h1.0v1.0h-1.0zM175.2 173.2h1.0v1.0h-1.0zM175.1 172.8h1.0v1.0h-1.0zM166.9 161.0h1.0v1.0h-1.0zM176.4 171.6h1.0v1.0h-1.0zM159.3 157.2h1.0v1.0h-1.0zM166.3 171.4h1.0v1.0h-1.0zM179.2 160.2h1.0v1.0h-1.0zM168.1 169.1h1.0v1.0h-1.0zM163.3 159.6h1.0v1.0h-1.0zM174.4 164.7h1.0v1.0h-1.0zM173.8 160.2h1.0v1.0h-1.0zM177.6 165.9h1.0v1.0h-1.0zM163.7 167.3h1.0v1.0h-1.0zM153.9 159.3h1.0v1.0h-1.0zM159.8 166.8h1.0v1.0h-1.0zM161.2 165.8h1.0v1.0h-1.0zM152.6 156.4h1.0v1.0h-1.0zM167.8 162.4h1.0v1.0h-1.0zM176.9 165.2h1.0v1.0h-1.0zM166.8 160.7h1.0v1.0h-1.0zM174.0 164.0h1.0v1.0h-1.0zM179.7 170.8h1.0v1.0h-1.0zM154.3 159.1h1.0v1.0h-1.0zM150.3 156.5h1.0v1.0h-1.0zM167.8 163.4h1.0v1.0h-1.0zM156.2 166.8h1.0v1.0h-1.0zM170.3 163.4h1.0v1.0h-1.0zM162.7 158.7h1.0v1.0h-1.0zM156.2 162.5h1.0v1.0h-1.0zM178.2 173.6h1.0v1.0h-1.0zM183.2 148.0h1.0v1.0h-1.0zM190.0 136.4h1.0v1.0h-1.0zM185.2 137.2h1.0v1.0h-1.0zM199.4 138.3h1.0v1.0h-1.0zM184.2 145.6h1.0v1.0h-1.0zM182.3 136.9h1.0v1.0h-1.0zM192.8 148.2h1.0v1.0h-1.0zM203.6 134.7h1.0v1.0h-1.0zM190.1 145.9h1.0v1.0h-1.0zM190.8 150.7h1.0v1.0h-1.0zM194.6 136.0h1.0v1.0h-1.0zM193.1 134.1h1.0v1.0h-1.0zM200.7 136.7h1.0v1.0h-1.0zM190.5 136.4h1.0v1.0h-1.0zM197.7 135.8h1.0v1.0h-1.0zM194.9 142.4h1.0v1.0h-1.0zM187.6 146.9h1.0v1.0h-1.0zM191.0 144.7h1.0v1.0h-1.0zM196.5 137.7h1.0v1.0h-1.0zM184.8 148.5h1.0v1.0h-1.0zM189.1 144.8h1.0v1.0h-1.0zM182.8 142.7h1.0v1.0h-1.0zM190.3 141.5h1.0v1.0h-1.0zM188.8 136.0h1.0v1.0h-1.0zM183.3 145.8h1.0v1.0h-1.0zM188.0 139.6h1.0v1.0h-1.0zM183.5 137.0h1.0v1.0h-1.0zM199.4 138.5h1.0v1.0h-1.0zM191.9 144.7h1.0v1.0h-1.0zM200.5 136.5h1.0v1.0h-1.0zM204.9 138.5h1.0v1.0h-1.0zM198.4 135.1h1.0v1.0h-1.0zM188.6 139.1h1.0v1.0h-1.0zM180.7 137.7h1.0v1.0h-1.0zM198.6 135.1h1.0v1.0h-1.0zM201.0 136.6h1.0v1.0h-1.0zM192.5 145.2h1.0v1.0h-1.0zM182.8 147.3h1.0v1.0h-1.0zM185.8 149.8h1.0v1.0h-1.0zM202.0 133.2h1.0v1.0h-1.0zM200.3 139.4h1.0v1.0h-1.0zM198.3 140.6h1.0v1.0h-1.0zM181.1 145.5h1.0v1.0h-1.0zM192.4 141.7h1.0v1.0h-1.0z" fill="#ffffff"/>
<path d="M72.2 114.1h0.9v0.9h-0.9zM98.4 117.2h0.9v0.9h-0.9zM82.7 104.0h0.9v0.9h-0.9zM64.7 107.7h0.9v0.9h-0.9zM77.8 102.4h0.9v0.9h-0.9zM88.7 118.3h0.9v0.9h-0.9zM71.4 103.8h0.9v0.9h-0.9zM81.6 110.7h0.9v0.9h-0.9zM97.2 107.5h0.9v0.9h-0.9zM73.6 125.6h0.9v0.9h-0.9zM67.8 114.7h0.9v0.9h-0.9zM74.9 123.3h0.9v0.9h-0.9zM82.8 121.4h0.9v0.9h-0.9zM68.8 118.2h0.9v0.9h-0.9zM84.7 111.2h0.9v0.9h-0.9zM90.9 123.8h0.9v0.9h-0.9zM66.8 105.4h0.9v0.9h-0.9z" fill="#ffffff"/>
<path d="M119.1 100.1h1.0v1.0h-1.0zM112.5 95.7h1.0v1.0h-1.0zM102.4 103.7h1.0v1.0h-1.0zM148.7 96.1h1.0v1.0h-1.0zM139.3 89.5h1.0v1.0h-1.0zM118.3 94.9h1.0v1.0h-1.0zM97.6 95.2h1.0v1.0h-1.0zM140.5 101.9h1.0v1.0h-1.0zM129.4 93.9h1.0v1.0h-1.0zM127.7 86.8h1.0v1.0h-1.0zM118.6 89.6h1.0v1.0h-1.0zM117.1 101.2h1.0v1.0h-1.0zM119.1 90.8h1.0v1.0h-1.0zM99.9 101.2h1.0v1.0h-1.0zM103.5 94.6h1.0v1.0h-1.0zM140.7 99.9h1.0v1.0h-1.0zM147.1 97.7h1.0v1.0h-1.0zM123.8 94.0h1.0v1.0h-1.0zM132.3 99.6h1.0v1.0h-1.0zM107.5 89.9h1.0v1.0h-1.0zM100.6 103.7h1.0v1.0h-1.0zM141.5 94.6h1.0v1.0h-1.0zM142.6 93.9h1.0v1.0h-1.0zM133.2 99.3h1.0v1.0h-1.0zM98.3 104.9h1.0v1.0h-1.0zM105.8 103.6h1.0v1.0h-1.0zM114.1 91.3h1.0v1.0h-1.0zM132.0 97.0h1.0v1.0h-1.0zM137.0 93.0h1.0v1.0h-1.0zM150.5 98.6h1.0v1.0h-1.0zM151.7 96.5h1.0v1.0h-1.0zM150.7 92.3h1.0v1.0h-1.0zM92.2 104.4h1.0v1.0h-1.0zM139.7 89.8h1.0v1.0h-1.0zM124.0 94.7h1.0v1.0h-1.0zM119.6 97.7h1.0v1.0h-1.0zM129.7 95.2h1.0v1.0h-1.0zM139.6 98.9h1.0v1.0h-1.0zM104.5 93.8h1.0v1.0h-1.0zM110.8 103.6h1.0v1.0h-1.0zM108.1 87.7h1.0v1.0h-1.0zM117.8 102.7h1.0v1.0h-1.0zM150.8 89.6h1.0v1.0h-1.0zM151.0 98.2h1.0v1.0h-1.0zM150.5 90.1h1.0v1.0h-1.0zM132.3 99.8h1.0v1.0h-1.0zM116.0 90.7h1.0v1.0h-1.0zM134.8 93.9h1.0v1.0h-1.0zM124.0 98.5h1.0v1.0h-1.0zM109.6 99.5h1.0v1.0h-1.0zM116.5 87.1h1.0v1.0h-1.0zM118.5 87.4h1.0v1.0h-1.0zM125.6 91.5h1.0v1.0h-1.0zM145.2 97.1h1.0v1.0h-1.0zM113.9 98.8h1.0v1.0h-1.0zM143.5 90.4h1.0v1.0h-1.0zM129.3 100.3h1.0v1.0h-1.0zM126.5 101.1h1.0v1.0h-1.0zM128.6 92.7h1.0v1.0h-1.0zM106.1 102.1h1.0v1.0h-1.0zM126.8 92.7h1.0v1.0h-1.0zM97.2 104.2h1.0v1.0h-1.0zM103.6 94.1h1.0v1.0h-1.0zM132.2 102.8h1.0v1.0h-1.0zM146.5 91.5h1.0v1.0h-1.0zM134.1 93.2h1.0v1.0h-1.0zM136.1 100.7h1.0v1.0h-1.0zM116.5 88.4h1.0v1.0h-1.0zM145.4 92.4h1.0v1.0h-1.0zM109.4 99.2h1.0v1.0h-1.0zM132.2 92.7h1.0v1.0h-1.0zM109.6 99.9h1.0v1.0h-1.0zM114.0 89.9h1.0v1.0h-1.0zM108.2 102.0h1.0v1.0h-1.0zM127.4 103.2h1.0v1.0h-1.0zM142.3 95.6h1.0v1.0h-1.0zM128.1 102.9h1.0v1.0h-1.0zM131.2 98.2h1.0v1.0h-1.0zM148.5 89.2h1.0v1.0h-1.0zM140.1 94.0h1.0v1.0h-1.0zM112.5 92.2h1.0v1.0h-1.0zM114.7 89.9h1.0v1.0h-1.0zM150.6 91.7h1.0v1.0h-1.0zM147.1 90.8h1.0v1.0h-1.0zM118.8 92.3h1.0v1.0h-1.0zM146.5 100.7h1.0v1.0h-1.0zM138.5 98.3h1.0v1.0h-1.0zM144.5 88.2h1.0v1.0h-1.0zM102.9 91.9h1.0v1.0h-1.0zM143.8 95.6h1.0v1.0h-1.0zM129.3 100.5h1.0v1.0h-1.0z" fill="#6a1030"/>
<path d="M259.6 131.7h1.0v1.0h-1.0zM237.3 119.5h1.0v1.0h-1.0zM250.1 120.8h1.0v1.0h-1.0zM256.4 119.8h1.0v1.0h-1.0zM245.9 78.2h1.0v1.0h-1.0zM229.5 97.8h1.0v1.0h-1.0zM253.6 122.5h1.0v1.0h-1.0zM206.5 94.7h1.0v1.0h-1.0zM245.8 120.8h1.0v1.0h-1.0zM221.8 94.7h1.0v1.0h-1.0zM215.8 78.3h1.0v1.0h-1.0zM227.8 136.1h1.0v1.0h-1.0zM254.5 112.2h1.0v1.0h-1.0zM231.8 100.9h1.0v1.0h-1.0zM245.1 142.8h1.0v1.0h-1.0zM231.0 145.4h1.0v1.0h-1.0zM233.4 91.2h1.0v1.0h-1.0zM238.8 134.6h1.0v1.0h-1.0zM257.9 83.3h1.0v1.0h-1.0zM239.7 117.0h1.0v1.0h-1.0zM257.7 150.6h1.0v1.0h-1.0zM236.7 123.0h1.0v1.0h-1.0zM236.6 101.4h1.0v1.0h-1.0zM240.3 108.5h1.0v1.0h-1.0zM255.3 151.3h1.0v1.0h-1.0zM228.1 77.4h1.0v1.0h-1.0zM212.5 90.4h1.0v1.0h-1.0zM246.3 143.6h1.0v1.0h-1.0zM257.4 138.3h1.0v1.0h-1.0zM239.7 84.8h1.0v1.0h-1.0zM213.3 93.2h1.0v1.0h-1.0zM260.3 139.2h1.0v1.0h-1.0zM247.1 148.5h1.0v1.0h-1.0zM223.2 102.0h1.0v1.0h-1.0zM236.4 131.9h1.0v1.0h-1.0zM220.4 87.1h1.0v1.0h-1.0zM249.2 140.9h1.0v1.0h-1.0zM245.4 133.9h1.0v1.0h-1.0zM220.2 90.9h1.0v1.0h-1.0zM234.5 92.6h1.0v1.0h-1.0zM257.7 141.1h1.0v1.0h-1.0zM229.2 141.7h1.0v1.0h-1.0zM220.8 105.1h1.0v1.0h-1.0zM244.6 75.8h1.0v1.0h-1.0zM209.1 93.5h1.0v1.0h-1.0zM233.8 121.0h1.0v1.0h-1.0zM255.6 153.6h1.0v1.0h-1.0zM253.3 88.5h1.0v1.0h-1.0zM208.0 91.8h1.0v1.0h-1.0zM251.8 76.5h1.0v1.0h-1.0zM216.1 78.3h1.0v1.0h-1.0zM240.4 127.6h1.0v1.0h-1.0zM223.7 135.1h1.0v1.0h-1.0zM220.5 75.4h1.0v1.0h-1.0zM237.9 114.2h1.0v1.0h-1.0zM230.5 145.0h1.0v1.0h-1.0zM255.1 124.1h1.0v1.0h-1.0zM260.6 123.3h1.0v1.0h-1.0zM244.8 147.9h1.0v1.0h-1.0zM253.6 91.7h1.0v1.0h-1.0zM264.4 131.0h1.0v1.0h-1.0zM240.6 86.8h1.0v1.0h-1.0zM215.0 91.3h1.0v1.0h-1.0zM256.0 137.1h1.0v1.0h-1.0zM246.5 97.6h1.0v1.0h-1.0zM252.6 78.4h1.0v1.0h-1.0zM233.4 150.7h1.0v1.0h-1.0zM255.7 112.2h1.0v1.0h-1.0zM244.9 116.0h1.0v1.0h-1.0zM213.2 91.3h1.0v1.0h-1.0zM263.2 137.1h1.0v1.0h-1.0zM250.5 83.4h1.0v1.0h-1.0zM232.9 88.5h1.0v1.0h-1.0zM229.0 150.6h1.0v1.0h-1.0zM219.8 97.0h1.0v1.0h-1.0zM247.1 100.4h1.0v1.0h-1.0zM236.4 137.3h1.0v1.0h-1.0zM216.3 77.8h1.0v1.0h-1.0zM252.5 140.1h1.0v1.0h-1.0zM217.0 80.9h1.0v1.0h-1.0zM219.8 99.4h1.0v1.0h-1.0zM244.0 143.4h1.0v1.0h-1.0zM226.6 94.7h1.0v1.0h-1.0zM253.9 132.4h1.0v1.0h-1.0zM254.2 149.8h1.0v1.0h-1.0zM260.2 82.5h1.0v1.0h-1.0zM235.3 125.2h1.0v1.0h-1.0zM216.1 101.2h1.0v1.0h-1.0zM250.4 76.8h1.0v1.0h-1.0zM240.0 129.0h1.0v1.0h-1.0zM250.7 118.8h1.0v1.0h-1.0zM216.5 95.8h1.0v1.0h-1.0zM240.7 75.5h1.0v1.0h-1.0zM209.1 87.2h1.0v1.0h-1.0zM251.0 151.9h1.0v1.0h-1.0zM237.7 97.0h1.0v1.0h-1.0zM238.2 86.9h1.0v1.0h-1.0zM257.0 144.8h1.0v1.0h-1.0zM259.9 80.9h1.0v1.0h-1.0zM258.3 80.4h1.0v1.0h-1.0zM261.3 84.8h1.0v1.0h-1.0zM211.2 91.5h1.0v1.0h-1.0zM253.6 143.0h1.0v1.0h-1.0zM224.7 144.2h1.0v1.0h-1.0zM236.7 101.1h1.0v1.0h-1.0zM248.9 144.5h1.0v1.0h-1.0zM250.8 108.1h1.0v1.0h-1.0zM230.6 150.4h1.0v1.0h-1.0zM243.1 123.4h1.0v1.0h-1.0zM238.1 123.6h1.0v1.0h-1.0zM233.1 84.8h1.0v1.0h-1.0zM252.9 133.4h1.0v1.0h-1.0zM241.7 144.3h1.0v1.0h-1.0zM229.2 142.3h1.0v1.0h-1.0zM235.3 100.0h1.0v1.0h-1.0zM233.7 145.0h1.0v1.0h-1.0zM249.0 128.2h1.0v1.0h-1.0zM236.4 113.8h1.0v1.0h-1.0zM224.1 76.0h1.0v1.0h-1.0zM241.4 107.3h1.0v1.0h-1.0zM229.9 79.6h1.0v1.0h-1.0zM241.8 147.8h1.0v1.0h-1.0zM227.0 78.6h1.0v1.0h-1.0zM243.9 139.1h1.0v1.0h-1.0zM264.5 129.1h1.0v1.0h-1.0zM250.5 141.6h1.0v1.0h-1.0zM246.6 99.8h1.0v1.0h-1.0zM220.9 103.5h1.0v1.0h-1.0zM234.7 117.9h1.0v1.0h-1.0zM254.3 147.0h1.0v1.0h-1.0zM227.0 150.6h1.0v1.0h-1.0zM223.3 85.8h1.0v1.0h-1.0zM245.8 91.0h1.0v1.0h-1.0z" fill="#9858b0"/>
<path d="M113.4 119.5h1.0v1.0h-1.0zM159.3 128.9h1.0v1.0h-1.0zM131.6 142.0h1.0v1.0h-1.0zM116.8 111.2h1.0v1.0h-1.0zM144.3 129.5h1.0v1.0h-1.0zM139.9 132.8h1.0v1.0h-1.0zM131.9 129.7h1.0v1.0h-1.0zM135.0 108.6h1.0v1.0h-1.0zM111.5 113.1h1.0v1.0h-1.0zM120.6 117.3h1.0v1.0h-1.0zM128.1 143.8h1.0v1.0h-1.0zM159.6 134.5h1.0v1.0h-1.0zM144.2 133.2h1.0v1.0h-1.0zM140.8 133.7h1.0v1.0h-1.0zM137.9 109.7h1.0v1.0h-1.0zM107.7 130.0h1.0v1.0h-1.0zM104.7 126.3h1.0v1.0h-1.0zM134.8 116.1h1.0v1.0h-1.0zM159.1 133.9h1.0v1.0h-1.0zM125.7 138.8h1.0v1.0h-1.0zM115.4 123.2h1.0v1.0h-1.0zM124.8 122.3h1.0v1.0h-1.0zM129.0 119.6h1.0v1.0h-1.0zM130.5 130.1h1.0v1.0h-1.0zM126.1 142.8h1.0v1.0h-1.0zM137.0 109.1h1.0v1.0h-1.0zM130.4 129.4h1.0v1.0h-1.0zM112.1 118.7h1.0v1.0h-1.0zM139.2 138.2h1.0v1.0h-1.0zM158.4 134.9h1.0v1.0h-1.0zM137.9 104.8h1.0v1.0h-1.0zM144.2 123.5h1.0v1.0h-1.0zM130.3 129.6h1.0v1.0h-1.0zM102.2 122.3h1.0v1.0h-1.0zM129.0 136.5h1.0v1.0h-1.0zM153.3 118.1h1.0v1.0h-1.0zM121.5 127.7h1.0v1.0h-1.0zM104.1 128.4h1.0v1.0h-1.0zM129.1 113.0h1.0v1.0h-1.0zM140.1 118.1h1.0v1.0h-1.0zM110.2 108.1h1.0v1.0h-1.0zM118.8 122.3h1.0v1.0h-1.0zM107.8 126.0h1.0v1.0h-1.0zM109.0 109.9h1.0v1.0h-1.0zM121.8 127.3h1.0v1.0h-1.0zM146.2 137.1h1.0v1.0h-1.0zM135.7 130.2h1.0v1.0h-1.0zM153.6 125.5h1.0v1.0h-1.0zM136.4 107.9h1.0v1.0h-1.0zM131.8 143.7h1.0v1.0h-1.0zM143.3 107.4h1.0v1.0h-1.0zM154.8 135.4h1.0v1.0h-1.0zM113.8 119.4h1.0v1.0h-1.0zM117.6 131.6h1.0v1.0h-1.0zM137.9 119.5h1.0v1.0h-1.0zM117.8 109.5h1.0v1.0h-1.0zM127.7 142.3h1.0v1.0h-1.0zM142.6 104.9h1.0v1.0h-1.0zM143.4 126.5h1.0v1.0h-1.0zM121.6 119.0h1.0v1.0h-1.0zM97.0 115.2h1.0v1.0h-1.0zM149.3 114.1h1.0v1.0h-1.0zM133.8 140.6h1.0v1.0h-1.0zM104.7 111.7h1.0v1.0h-1.0zM149.0 131.8h1.0v1.0h-1.0zM125.7 120.8h1.0v1.0h-1.0zM147.8 118.9h1.0v1.0h-1.0zM118.6 136.2h1.0v1.0h-1.0zM146.8 123.9h1.0v1.0h-1.0zM131.0 137.3h1.0v1.0h-1.0zM158.1 117.2h1.0v1.0h-1.0zM114.9 108.0h1.0v1.0h-1.0zM153.2 124.5h1.0v1.0h-1.0zM159.7 125.8h1.0v1.0h-1.0zM105.6 114.8h1.0v1.0h-1.0zM132.9 106.3h1.0v1.0h-1.0zM96.4 120.5h1.0v1.0h-1.0zM140.4 139.5h1.0v1.0h-1.0zM154.1 136.5h1.0v1.0h-1.0zM155.8 117.8h1.0v1.0h-1.0zM147.7 108.7h1.0v1.0h-1.0zM117.7 110.6h1.0v1.0h-1.0zM159.9 128.9h1.0v1.0h-1.0zM152.4 109.3h1.0v1.0h-1.0zM153.7 115.3h1.0v1.0h-1.0zM140.6 137.5h1.0v1.0h-1.0zM109.6 129.5h1.0v1.0h-1.0zM131.8 104.2h1.0v1.0h-1.0zM127.7 135.2h1.0v1.0h-1.0zM121.5 108.2h1.0v1.0h-1.0zM134.4 107.7h1.0v1.0h-1.0zM140.9 119.6h1.0v1.0h-1.0zM101.1 112.3h1.0v1.0h-1.0zM151.3 123.3h1.0v1.0h-1.0zM133.4 108.5h1.0v1.0h-1.0zM157.9 125.5h1.0v1.0h-1.0zM110.1 119.2h1.0v1.0h-1.0zM154.0 109.7h1.0v1.0h-1.0zM145.4 116.4h1.0v1.0h-1.0zM153.6 133.5h1.0v1.0h-1.0zM98.7 114.4h1.0v1.0h-1.0zM120.3 116.6h1.0v1.0h-1.0zM129.4 108.8h1.0v1.0h-1.0zM101.2 115.7h1.0v1.0h-1.0zM155.4 115.6h1.0v1.0h-1.0zM131.3 116.5h1.0v1.0h-1.0zM155.5 129.6h1.0v1.0h-1.0zM102.0 111.1h1.0v1.0h-1.0zM157.9 136.3h1.0v1.0h-1.0zM156.8 118.5h1.0v1.0h-1.0zM141.9 106.1h1.0v1.0h-1.0zM117.7 107.4h1.0v1.0h-1.0zM140.8 104.9h1.0v1.0h-1.0zM110.7 114.6h1.0v1.0h-1.0zM156.0 111.3h1.0v1.0h-1.0zM99.1 113.0h1.0v1.0h-1.0zM137.2 123.3h1.0v1.0h-1.0zM152.8 115.9h1.0v1.0h-1.0zM140.5 130.6h1.0v1.0h-1.0zM101.1 125.7h1.0v1.0h-1.0zM132.5 121.8h1.0v1.0h-1.0zM119.0 110.3h1.0v1.0h-1.0zM132.5 127.3h1.0v1.0h-1.0zM137.2 127.5h1.0v1.0h-1.0zM143.5 126.8h1.0v1.0h-1.0zM141.5 111.2h1.0v1.0h-1.0zM108.2 117.1h1.0v1.0h-1.0zM134.7 117.7h1.0v1.0h-1.0zM148.4 112.3h1.0v1.0h-1.0zM134.6 139.7h1.0v1.0h-1.0zM109.6 118.5h1.0v1.0h-1.0zM143.5 107.3h1.0v1.0h-1.0zM106.0 120.9h1.0v1.0h-1.0zM140.3 105.1h1.0v1.0h-1.0zM154.2 135.6h1.0v1.0h-1.0zM125.1 136.5h1.0v1.0h-1.0zM138.8 135.3h1.0v1.0h-1.0zM133.0 116.7h1.0v1.0h-1.0zM109.3 125.8h1.0v1.0h-1.0zM146.3 104.8h1.0v1.0h-1.0zM116.4 108.3h1.0v1.0h-1.0zM96.5 121.2h1.0v1.0h-1.0zM132.9 139.6h1.0v1.0h-1.0zM132.3 139.8h1.0v1.0h-1.0zM137.5 109.8h1.0v1.0h-1.0zM148.5 106.3h1.0v1.0h-1.0zM105.2 120.6h1.0v1.0h-1.0zM138.7 133.8h1.0v1.0h-1.0zM96.8 125.5h1.0v1.0h-1.0zM124.7 112.3h1.0v1.0h-1.0zM114.8 110.3h1.0v1.0h-1.0zM145.3 106.2h1.0v1.0h-1.0zM146.3 139.3h1.0v1.0h-1.0zM145.8 104.1h1.0v1.0h-1.0zM145.7 112.2h1.0v1.0h-1.0zM109.3 130.3h1.0v1.0h-1.0zM132.8 131.3h1.0v1.0h-1.0zM106.7 127.1h1.0v1.0h-1.0zM144.3 122.8h1.0v1.0h-1.0z" fill="#a878c8"/>
<path d="M155.1 130.8h1.0v1.0h-1.0zM103.1 124.6h1.0v1.0h-1.0zM128.9 109.1h1.0v1.0h-1.0zM130.7 133.6h1.0v1.0h-1.0zM155.9 129.5h1.0v1.0h-1.0zM149.3 129.0h1.0v1.0h-1.0zM117.1 106.3h1.0v1.0h-1.0zM133.1 113.7h1.0v1.0h-1.0zM116.5 117.3h1.0v1.0h-1.0zM139.4 113.0h1.0v1.0h-1.0zM135.9 121.9h1.0v1.0h-1.0zM130.7 145.7h1.0v1.0h-1.0zM116.7 114.2h1.0v1.0h-1.0zM131.2 119.0h1.0v1.0h-1.0zM135.3 105.7h1.0v1.0h-1.0zM99.3 116.0h1.0v1.0h-1.0zM130.9 104.1h1.0v1.0h-1.0zM150.5 110.1h1.0v1.0h-1.0zM134.3 109.7h1.0v1.0h-1.0zM138.4 117.0h1.0v1.0h-1.0zM152.6 111.1h1.0v1.0h-1.0zM152.0 127.8h1.0v1.0h-1.0zM146.0 137.0h1.0v1.0h-1.0zM155.8 132.7h1.0v1.0h-1.0zM132.8 114.5h1.0v1.0h-1.0zM108.4 125.9h1.0v1.0h-1.0zM104.2 120.9h1.0v1.0h-1.0zM108.4 108.3h1.0v1.0h-1.0zM142.7 132.6h1.0v1.0h-1.0zM132.3 105.4h1.0v1.0h-1.0zM124.8 117.6h1.0v1.0h-1.0zM125.4 120.2h1.0v1.0h-1.0zM133.0 142.7h1.0v1.0h-1.0zM132.6 106.8h1.0v1.0h-1.0zM126.6 132.9h1.0v1.0h-1.0zM153.1 129.6h1.0v1.0h-1.0zM145.0 116.3h1.0v1.0h-1.0zM130.1 128.6h1.0v1.0h-1.0zM149.2 114.0h1.0v1.0h-1.0zM142.7 136.9h1.0v1.0h-1.0zM124.8 105.7h1.0v1.0h-1.0zM143.3 119.0h1.0v1.0h-1.0zM132.7 112.9h1.0v1.0h-1.0zM152.4 113.7h1.0v1.0h-1.0zM155.9 114.0h1.0v1.0h-1.0zM151.4 114.7h1.0v1.0h-1.0zM140.9 139.0h1.0v1.0h-1.0zM125.7 108.3h1.0v1.0h-1.0zM145.0 112.6h1.0v1.0h-1.0zM126.6 137.1h1.0v1.0h-1.0zM108.4 113.0h1.0v1.0h-1.0zM123.6 125.0h1.0v1.0h-1.0zM155.2 112.5h1.0v1.0h-1.0zM123.2 122.7h1.0v1.0h-1.0zM152.2 131.7h1.0v1.0h-1.0zM147.3 123.7h1.0v1.0h-1.0zM141.7 105.2h1.0v1.0h-1.0zM138.7 118.1h1.0v1.0h-1.0zM129.7 131.1h1.0v1.0h-1.0zM103.8 110.5h1.0v1.0h-1.0zM140.5 117.1h1.0v1.0h-1.0zM117.4 106.0h1.0v1.0h-1.0zM151.9 123.0h1.0v1.0h-1.0zM126.2 111.8h1.0v1.0h-1.0zM135.0 118.1h1.0v1.0h-1.0zM148.4 105.0h1.0v1.0h-1.0zM124.8 137.9h1.0v1.0h-1.0zM152.6 125.0h1.0v1.0h-1.0zM115.3 127.8h1.0v1.0h-1.0zM159.5 137.3h1.0v1.0h-1.0zM160.2 124.0h1.0v1.0h-1.0zM142.5 117.3h1.0v1.0h-1.0zM113.1 110.0h1.0v1.0h-1.0zM112.5 126.4h1.0v1.0h-1.0zM137.8 122.0h1.0v1.0h-1.0zM139.4 107.1h1.0v1.0h-1.0zM109.6 117.7h1.0v1.0h-1.0zM121.4 107.4h1.0v1.0h-1.0zM150.7 111.3h1.0v1.0h-1.0zM110.1 110.5h1.0v1.0h-1.0zM159.5 127.2h1.0v1.0h-1.0zM126.6 132.3h1.0v1.0h-1.0zM120.2 127.4h1.0v1.0h-1.0zM148.8 124.0h1.0v1.0h-1.0zM144.6 133.9h1.0v1.0h-1.0zM130.9 125.6h1.0v1.0h-1.0zM99.8 122.2h1.0v1.0h-1.0zM113.4 118.1h1.0v1.0h-1.0zM137.6 122.2h1.0v1.0h-1.0zM126.5 120.4h1.0v1.0h-1.0zM148.6 130.9h1.0v1.0h-1.0zM102.8 114.0h1.0v1.0h-1.0zM115.0 117.3h1.0v1.0h-1.0zM140.3 132.1h1.0v1.0h-1.0zM129.5 146.1h1.0v1.0h-1.0zM130.9 137.1h1.0v1.0h-1.0zM138.4 132.3h1.0v1.0h-1.0zM101.2 117.3h1.0v1.0h-1.0zM119.4 121.3h1.0v1.0h-1.0zM157.5 136.1h1.0v1.0h-1.0zM102.1 115.0h1.0v1.0h-1.0zM115.0 106.1h1.0v1.0h-1.0zM122.8 112.0h1.0v1.0h-1.0zM151.5 134.6h1.0v1.0h-1.0zM146.5 123.0h1.0v1.0h-1.0zM150.9 120.4h1.0v1.0h-1.0zM127.2 123.5h1.0v1.0h-1.0zM131.3 104.5h1.0v1.0h-1.0zM108.5 124.0h1.0v1.0h-1.0zM119.5 115.3h1.0v1.0h-1.0zM103.5 125.2h1.0v1.0h-1.0zM129.0 109.3h1.0v1.0h-1.0zM158.7 119.4h1.0v1.0h-1.0zM124.7 127.6h1.0v1.0h-1.0zM145.7 135.2h1.0v1.0h-1.0zM155.6 127.8h1.0v1.0h-1.0zM149.3 104.5h1.0v1.0h-1.0zM148.4 106.8h1.0v1.0h-1.0zM107.3 111.9h1.0v1.0h-1.0zM117.9 123.3h1.0v1.0h-1.0zM130.1 141.7h1.0v1.0h-1.0zM152.9 120.9h1.0v1.0h-1.0zM103.3 116.1h1.0v1.0h-1.0zM160.4 128.1h1.0v1.0h-1.0zM102.9 112.1h1.0v1.0h-1.0zM116.3 120.1h1.0v1.0h-1.0zM152.9 135.0h1.0v1.0h-1.0zM111.7 116.5h1.0v1.0h-1.0zM125.7 106.8h1.0v1.0h-1.0zM147.7 136.0h1.0v1.0h-1.0zM124.9 105.6h1.0v1.0h-1.0zM115.7 116.6h1.0v1.0h-1.0zM136.9 117.3h1.0v1.0h-1.0zM125.9 108.8h1.0v1.0h-1.0zM125.6 126.2h1.0v1.0h-1.0z" fill="#8a56b0"/>
<path d="M170.7 157.6h1.0v1.0h-1.0zM128.6 157.3h1.0v1.0h-1.0zM150.7 177.9h1.0v1.0h-1.0zM143.6 170.5h1.0v1.0h-1.0zM153.5 154.7h1.0v1.0h-1.0zM158.5 158.6h1.0v1.0h-1.0zM130.0 167.6h1.0v1.0h-1.0zM167.0 167.8h1.0v1.0h-1.0zM145.7 156.4h1.0v1.0h-1.0zM160.4 163.4h1.0v1.0h-1.0zM162.3 157.4h1.0v1.0h-1.0zM164.9 164.9h1.0v1.0h-1.0zM142.6 162.7h1.0v1.0h-1.0zM174.0 162.0h1.0v1.0h-1.0zM157.4 171.2h1.0v1.0h-1.0zM160.9 167.8h1.0v1.0h-1.0zM136.6 161.6h1.0v1.0h-1.0zM167.6 170.3h1.0v1.0h-1.0zM167.9 157.3h1.0v1.0h-1.0zM162.9 164.2h1.0v1.0h-1.0zM138.3 168.8h1.0v1.0h-1.0zM160.8 161.5h1.0v1.0h-1.0zM170.4 155.1h1.0v1.0h-1.0zM150.5 173.2h1.0v1.0h-1.0zM158.1 181.4h1.0v1.0h-1.0zM141.5 169.5h1.0v1.0h-1.0zM145.7 165.9h1.0v1.0h-1.0zM152.2 171.5h1.0v1.0h-1.0z" fill="#5a60a8"/>
<path d="M107.4 105.5h1.0v1.0h-1.0zM162.3 120.8h1.0v1.0h-1.0zM165.0 136.0h1.0v1.0h-1.0zM104.0 130.4h1.0v1.0h-1.0zM165.5 128.3h1.0v1.0h-1.0zM164.1 130.9h1.0v1.0h-1.0zM166.5 134.2h1.0v1.0h-1.0zM125.5 146.5h1.0v1.0h-1.0zM113.9 134.6h1.0v1.0h-1.0zM102.3 131.4h1.0v1.0h-1.0zM170.2 140.1h1.0v1.0h-1.0zM169.6 138.2h1.0v1.0h-1.0zM153.1 100.4h1.0v1.0h-1.0zM99.8 131.4h1.0v1.0h-1.0zM117.0 135.4h1.0v1.0h-1.0zM162.5 124.4h1.0v1.0h-1.0zM153.6 105.1h1.0v1.0h-1.0zM166.5 138.0h1.0v1.0h-1.0zM152.1 103.2h1.0v1.0h-1.0zM162.9 136.7h1.0v1.0h-1.0zM130.1 103.7h1.0v1.0h-1.0zM168.4 135.2h1.0v1.0h-1.0zM120.5 104.6h1.0v1.0h-1.0zM158.8 116.8h1.0v1.0h-1.0zM164.6 132.3h1.0v1.0h-1.0zM158.6 116.9h1.0v1.0h-1.0zM156.0 107.3h1.0v1.0h-1.0zM151.4 100.1h1.0v1.0h-1.0z" fill="#a060b0"/>
<path d="M155.9 174.1h1.0v1.0h-1.0zM154.0 160.9h1.0v1.0h-1.0zM125.8 159.2h1.0v1.0h-1.0zM172.7 168.2h1.0v1.0h-1.0zM151.8 159.7h1.0v1.0h-1.0zM137.4 157.1h1.0v1.0h-1.0zM150.4 159.2h1.0v1.0h-1.0zM163.5 154.6h1.0v1.0h-1.0zM169.9 170.8h1.0v1.0h-1.0zM164.8 160.2h1.0v1.0h-1.0zM136.0 163.4h1.0v1.0h-1.0zM150.6 177.0h1.0v1.0h-1.0zM141.7 162.9h1.0v1.0h-1.0zM146.2 162.9h1.0v1.0h-1.0zM169.3 165.2h1.0v1.0h-1.0zM162.0 160.0h1.0v1.0h-1.0zM172.4 168.4h1.0v1.0h-1.0zM130.0 167.7h1.0v1.0h-1.0zM168.5 172.4h1.0v1.0h-1.0zM156.0 156.0h1.0v1.0h-1.0zM152.8 166.5h1.0v1.0h-1.0zM156.7 160.7h1.0v1.0h-1.0zM171.7 162.9h1.0v1.0h-1.0zM148.5 166.7h1.0v1.0h-1.0zM157.3 176.8h1.0v1.0h-1.0zM169.3 160.0h1.0v1.0h-1.0zM157.0 162.5h1.0v1.0h-1.0zM163.7 170.2h1.0v1.0h-1.0zM160.3 181.7h1.0v1.0h-1.0zM128.4 154.1h1.0v1.0h-1.0zM144.8 154.5h1.0v1.0h-1.0zM156.1 156.2h1.0v1.0h-1.0zM125.5 159.3h1.0v1.0h-1.0zM137.5 161.4h1.0v1.0h-1.0zM156.0 164.0h1.0v1.0h-1.0zM131.0 166.2h1.0v1.0h-1.0zM143.1 171.5h1.0v1.0h-1.0zM166.3 171.3h1.0v1.0h-1.0zM153.8 174.0h1.0v1.0h-1.0zM145.1 161.0h1.0v1.0h-1.0zM159.8 166.2h1.0v1.0h-1.0zM149.8 159.9h1.0v1.0h-1.0zM172.4 172.9h1.0v1.0h-1.0zM166.8 162.0h1.0v1.0h-1.0zM174.1 167.0h1.0v1.0h-1.0zM142.5 178.8h1.0v1.0h-1.0zM145.4 169.9h1.0v1.0h-1.0zM164.8 175.3h1.0v1.0h-1.0zM139.6 157.9h1.0v1.0h-1.0zM154.4 159.3h1.0v1.0h-1.0zM135.9 161.5h1.0v1.0h-1.0z" fill="#1a9aa0"/>
<path d="M243.2 131.0h1.0v1.0h-1.0zM251.8 149.7h1.0v1.0h-1.0zM239.0 154.8h1.0v1.0h-1.0zM234.4 89.4h1.0v1.0h-1.0zM250.1 134.1h1.0v1.0h-1.0zM227.0 79.2h1.0v1.0h-1.0zM229.8 79.7h1.0v1.0h-1.0zM230.5 111.9h1.0v1.0h-1.0zM225.3 99.3h1.0v1.0h-1.0zM252.8 85.3h1.0v1.0h-1.0zM207.1 95.1h1.0v1.0h-1.0zM231.2 98.3h1.0v1.0h-1.0zM248.6 149.5h1.0v1.0h-1.0zM209.5 93.3h1.0v1.0h-1.0zM242.0 85.9h1.0v1.0h-1.0zM241.8 103.6h1.0v1.0h-1.0zM249.4 93.0h1.0v1.0h-1.0zM234.9 109.1h1.0v1.0h-1.0zM226.9 128.2h1.0v1.0h-1.0zM228.8 106.8h1.0v1.0h-1.0zM248.2 124.1h1.0v1.0h-1.0zM217.8 78.2h1.0v1.0h-1.0zM235.2 108.3h1.0v1.0h-1.0zM234.4 126.0h1.0v1.0h-1.0zM235.0 77.0h1.0v1.0h-1.0zM252.6 113.2h1.0v1.0h-1.0zM230.9 78.2h1.0v1.0h-1.0zM244.5 153.2h1.0v1.0h-1.0zM253.3 132.0h1.0v1.0h-1.0zM259.1 128.0h1.0v1.0h-1.0zM240.2 140.4h1.0v1.0h-1.0zM221.3 103.8h1.0v1.0h-1.0zM208.1 96.6h1.0v1.0h-1.0zM229.2 77.6h1.0v1.0h-1.0zM227.3 74.9h1.0v1.0h-1.0zM217.7 91.9h1.0v1.0h-1.0zM231.3 96.6h1.0v1.0h-1.0zM208.8 91.0h1.0v1.0h-1.0zM254.5 90.7h1.0v1.0h-1.0zM255.9 84.2h1.0v1.0h-1.0zM219.8 94.0h1.0v1.0h-1.0zM245.1 91.8h1.0v1.0h-1.0zM240.4 116.9h1.0v1.0h-1.0zM227.2 136.4h1.0v1.0h-1.0zM251.1 138.0h1.0v1.0h-1.0zM215.5 85.0h1.0v1.0h-1.0zM230.7 150.9h1.0v1.0h-1.0zM238.3 76.5h1.0v1.0h-1.0zM250.9 81.8h1.0v1.0h-1.0zM222.8 78.7h1.0v1.0h-1.0zM237.5 78.7h1.0v1.0h-1.0zM233.0 136.3h1.0v1.0h-1.0zM213.5 81.4h1.0v1.0h-1.0zM247.4 101.2h1.0v1.0h-1.0zM240.8 109.5h1.0v1.0h-1.0zM236.8 134.9h1.0v1.0h-1.0zM244.1 116.8h1.0v1.0h-1.0zM212.8 84.1h1.0v1.0h-1.0zM226.5 92.5h1.0v1.0h-1.0zM230.9 151.0h1.0v1.0h-1.0zM207.3 90.9h1.0v1.0h-1.0zM229.7 147.3h1.0v1.0h-1.0zM262.3 148.0h1.0v1.0h-1.0zM227.9 93.5h1.0v1.0h-1.0zM232.0 108.9h1.0v1.0h-1.0zM250.6 124.7h1.0v1.0h-1.0zM221.7 79.3h1.0v1.0h-1.0zM220.2 81.1h1.0v1.0h-1.0zM251.2 143.6h1.0v1.0h-1.0zM266.2 141.8h1.0v1.0h-1.0zM243.4 138.2h1.0v1.0h-1.0zM226.8 104.5h1.0v1.0h-1.0zM220.6 104.1h1.0v1.0h-1.0zM261.4 151.3h1.0v1.0h-1.0zM263.5 147.4h1.0v1.0h-1.0zM249.8 139.8h1.0v1.0h-1.0zM236.9 81.3h1.0v1.0h-1.0zM237.4 76.5h1.0v1.0h-1.0zM230.9 136.3h1.0v1.0h-1.0zM221.8 90.6h1.0v1.0h-1.0zM258.0 147.8h1.0v1.0h-1.0zM256.4 130.8h1.0v1.0h-1.0zM232.4 123.7h1.0v1.0h-1.0zM235.2 127.8h1.0v1.0h-1.0zM217.5 77.9h1.0v1.0h-1.0zM221.4 100.6h1.0v1.0h-1.0zM223.1 94.6h1.0v1.0h-1.0zM243.6 99.8h1.0v1.0h-1.0zM229.2 146.5h1.0v1.0h-1.0zM261.4 130.8h1.0v1.0h-1.0zM261.9 84.7h1.0v1.0h-1.0zM256.5 80.0h1.0v1.0h-1.0zM256.0 144.9h1.0v1.0h-1.0zM236.2 120.6h1.0v1.0h-1.0zM252.7 83.7h1.0v1.0h-1.0zM260.0 138.6h1.0v1.0h-1.0zM259.6 141.0h1.0v1.0h-1.0zM238.8 98.0h1.0v1.0h-1.0zM220.9 80.7h1.0v1.0h-1.0zM232.4 150.8h1.0v1.0h-1.0zM227.1 141.8h1.0v1.0h-1.0zM249.0 130.8h1.0v1.0h-1.0zM211.3 96.5h1.0v1.0h-1.0zM238.9 80.1h1.0v1.0h-1.0zM263.4 126.5h1.0v1.0h-1.0zM239.7 90.1h1.0v1.0h-1.0zM237.4 127.4h1.0v1.0h-1.0zM225.0 144.3h1.0v1.0h-1.0zM249.9 135.8h1.0v1.0h-1.0zM222.9 88.4h1.0v1.0h-1.0zM263.1 129.0h1.0v1.0h-1.0zM236.2 138.1h1.0v1.0h-1.0zM255.2 77.2h1.0v1.0h-1.0zM233.2 110.1h1.0v1.0h-1.0zM211.6 90.2h1.0v1.0h-1.0zM206.3 91.7h1.0v1.0h-1.0zM254.0 140.0h1.0v1.0h-1.0zM245.8 146.7h1.0v1.0h-1.0zM217.6 99.6h1.0v1.0h-1.0zM243.6 90.0h1.0v1.0h-1.0zM242.5 100.7h1.0v1.0h-1.0zM220.2 84.0h1.0v1.0h-1.0zM241.9 128.8h1.0v1.0h-1.0zM237.8 107.5h1.0v1.0h-1.0zM254.9 110.1h1.0v1.0h-1.0zM236.7 95.1h1.0v1.0h-1.0zM249.6 116.1h1.0v1.0h-1.0zM210.9 89.2h1.0v1.0h-1.0zM220.7 87.0h1.0v1.0h-1.0zM247.9 112.6h1.0v1.0h-1.0zM232.4 139.3h1.0v1.0h-1.0zM234.6 83.6h1.0v1.0h-1.0zM245.4 143.4h1.0v1.0h-1.0zM231.2 124.9h1.0v1.0h-1.0zM258.2 152.2h1.0v1.0h-1.0zM240.7 107.3h1.0v1.0h-1.0zM225.6 97.1h1.0v1.0h-1.0zM230.8 125.1h1.0v1.0h-1.0zM236.7 94.4h1.0v1.0h-1.0zM245.6 86.6h1.0v1.0h-1.0zM230.0 75.2h1.0v1.0h-1.0zM229.5 125.9h1.0v1.0h-1.0zM224.2 140.5h1.0v1.0h-1.0zM240.0 139.3h1.0v1.0h-1.0zM263.6 149.0h1.0v1.0h-1.0zM249.7 146.3h1.0v1.0h-1.0zM246.7 101.8h1.0v1.0h-1.0zM254.2 126.2h1.0v1.0h-1.0zM246.4 137.3h1.0v1.0h-1.0zM262.1 144.1h1.0v1.0h-1.0zM242.1 81.4h1.0v1.0h-1.0zM241.0 113.2h1.0v1.0h-1.0zM247.9 125.7h1.0v1.0h-1.0zM225.7 107.7h1.0v1.0h-1.0zM268.0 142.3h1.0v1.0h-1.0zM240.9 104.4h1.0v1.0h-1.0zM250.0 88.1h1.0v1.0h-1.0zM231.9 131.0h1.0v1.0h-1.0zM230.3 74.1h1.0v1.0h-1.0zM255.3 77.4h1.0v1.0h-1.0zM264.1 150.1h1.0v1.0h-1.0zM234.9 133.2h1.0v1.0h-1.0zM251.7 87.7h1.0v1.0h-1.0zM242.4 107.1h1.0v1.0h-1.0zM227.6 84.5h1.0v1.0h-1.0zM244.3 112.6h1.0v1.0h-1.0zM231.1 76.4h1.0v1.0h-1.0zM263.2 130.5h1.0v1.0h-1.0zM250.5 140.0h1.0v1.0h-1.0zM232.4 133.9h1.0v1.0h-1.0zM232.0 111.0h1.0v1.0h-1.0zM244.5 129.9h1.0v1.0h-1.0zM259.2 82.5h1.0v1.0h-1.0z" fill="#d0a0d8"/>
<path d="M103.6 99.2h1.0v1.0h-1.0zM130.5 99.3h1.0v1.0h-1.0zM121.1 96.8h1.0v1.0h-1.0zM111.4 87.8h1.0v1.0h-1.0zM118.5 89.5h1.0v1.0h-1.0zM103.8 97.6h1.0v1.0h-1.0zM104.0 92.3h1.0v1.0h-1.0zM136.9 93.9h1.0v1.0h-1.0zM145.5 92.0h1.0v1.0h-1.0zM127.5 88.6h1.0v1.0h-1.0zM130.0 102.0h1.0v1.0h-1.0zM113.5 98.9h1.0v1.0h-1.0zM142.4 92.0h1.0v1.0h-1.0zM137.4 101.2h1.0v1.0h-1.0zM136.0 101.9h1.0v1.0h-1.0zM104.6 96.5h1.0v1.0h-1.0zM135.5 92.3h1.0v1.0h-1.0zM129.3 88.2h1.0v1.0h-1.0zM133.9 96.9h1.0v1.0h-1.0zM144.9 92.6h1.0v1.0h-1.0zM122.5 91.8h1.0v1.0h-1.0zM113.8 103.3h1.0v1.0h-1.0zM149.2 99.4h1.0v1.0h-1.0zM108.7 103.1h1.0v1.0h-1.0zM121.5 99.7h1.0v1.0h-1.0zM125.3 87.6h1.0v1.0h-1.0zM135.3 102.3h1.0v1.0h-1.0zM113.4 102.7h1.0v1.0h-1.0zM112.1 91.4h1.0v1.0h-1.0zM145.8 94.4h1.0v1.0h-1.0zM111.7 99.4h1.0v1.0h-1.0zM125.7 97.0h1.0v1.0h-1.0zM104.2 101.2h1.0v1.0h-1.0zM146.1 90.2h1.0v1.0h-1.0zM132.7 97.1h1.0v1.0h-1.0zM138.7 91.5h1.0v1.0h-1.0zM148.9 89.0h1.0v1.0h-1.0zM148.2 98.5h1.0v1.0h-1.0zM130.3 103.0h1.0v1.0h-1.0zM131.7 94.6h1.0v1.0h-1.0zM105.9 89.0h1.0v1.0h-1.0zM106.0 97.3h1.0v1.0h-1.0zM138.6 100.5h1.0v1.0h-1.0zM134.3 87.7h1.0v1.0h-1.0zM109.3 87.7h1.0v1.0h-1.0zM98.1 101.7h1.0v1.0h-1.0zM116.8 99.8h1.0v1.0h-1.0zM119.3 89.4h1.0v1.0h-1.0zM110.6 90.5h1.0v1.0h-1.0zM119.8 88.5h1.0v1.0h-1.0zM125.7 92.5h1.0v1.0h-1.0zM120.1 86.3h1.0v1.0h-1.0zM130.5 94.2h1.0v1.0h-1.0zM108.8 95.6h1.0v1.0h-1.0zM106.1 96.4h1.0v1.0h-1.0zM101.8 104.1h1.0v1.0h-1.0zM115.4 97.5h1.0v1.0h-1.0zM108.9 95.0h1.0v1.0h-1.0zM142.1 90.4h1.0v1.0h-1.0zM103.1 94.8h1.0v1.0h-1.0zM119.0 91.2h1.0v1.0h-1.0zM97.7 104.8h1.0v1.0h-1.0zM145.6 101.8h1.0v1.0h-1.0zM112.8 102.1h1.0v1.0h-1.0zM135.7 100.5h1.0v1.0h-1.0zM146.1 101.0h1.0v1.0h-1.0zM134.6 99.1h1.0v1.0h-1.0zM130.2 101.0h1.0v1.0h-1.0zM99.0 105.1h1.0v1.0h-1.0zM137.6 102.0h1.0v1.0h-1.0zM121.1 101.0h1.0v1.0h-1.0zM110.2 93.9h1.0v1.0h-1.0zM149.3 98.5h1.0v1.0h-1.0zM94.7 104.3h1.0v1.0h-1.0zM92.4 101.6h1.0v1.0h-1.0zM139.5 89.0h1.0v1.0h-1.0zM144.3 91.5h1.0v1.0h-1.0zM118.7 99.1h1.0v1.0h-1.0zM114.4 101.8h1.0v1.0h-1.0zM114.9 92.3h1.0v1.0h-1.0zM114.5 101.1h1.0v1.0h-1.0zM111.5 91.4h1.0v1.0h-1.0zM110.9 102.7h1.0v1.0h-1.0zM112.9 86.7h1.0v1.0h-1.0zM132.6 90.7h1.0v1.0h-1.0zM103.2 92.6h1.0v1.0h-1.0zM151.5 90.6h1.0v1.0h-1.0z" fill="#a03050"/>
<path d="M153.4 143.6h1.0v1.0h-1.0zM158.1 143.7h1.0v1.0h-1.0zM168.9 146.8h1.0v1.0h-1.0zM145.0 151.7h1.0v1.0h-1.0zM150.9 142.2h1.0v1.0h-1.0zM140.0 152.1h1.0v1.0h-1.0zM169.9 142.4h1.0v1.0h-1.0zM154.2 148.4h1.0v1.0h-1.0zM137.8 142.6h1.0v1.0h-1.0zM144.3 151.8h1.0v1.0h-1.0zM162.6 147.2h1.0v1.0h-1.0zM144.5 151.9h1.0v1.0h-1.0zM165.1 140.3h1.0v1.0h-1.0zM162.5 148.4h1.0v1.0h-1.0zM165.7 145.0h1.0v1.0h-1.0zM157.2 141.9h1.0v1.0h-1.0zM146.9 150.5h1.0v1.0h-1.0zM169.1 148.9h1.0v1.0h-1.0zM157.1 140.7h1.0v1.0h-1.0zM158.7 142.8h1.0v1.0h-1.0zM134.9 151.3h1.0v1.0h-1.0zM146.2 151.2h1.0v1.0h-1.0zM135.2 146.6h1.0v1.0h-1.0zM148.1 151.9h1.0v1.0h-1.0zM138.0 145.4h1.0v1.0h-1.0zM139.1 147.0h1.0v1.0h-1.0zM142.7 150.5h1.0v1.0h-1.0zM143.6 147.9h1.0v1.0h-1.0zM144.2 144.2h1.0v1.0h-1.0zM141.4 149.3h1.0v1.0h-1.0zM149.2 142.9h1.0v1.0h-1.0zM134.5 149.5h1.0v1.0h-1.0zM146.7 144.0h1.0v1.0h-1.0zM167.0 148.4h1.0v1.0h-1.0zM170.9 141.9h1.0v1.0h-1.0zM137.7 142.8h1.0v1.0h-1.0z" fill="#22aeae"/>
<path d="M158.7 179.4h1.0v1.0h-1.0zM146.7 177.0h1.0v1.0h-1.0zM143.5 174.0h1.0v1.0h-1.0zM153.0 159.2h1.0v1.0h-1.0zM145.6 159.4h1.0v1.0h-1.0zM148.7 177.4h1.0v1.0h-1.0zM160.9 165.6h1.0v1.0h-1.0zM126.1 155.3h1.0v1.0h-1.0zM155.6 172.8h1.0v1.0h-1.0zM140.3 174.1h1.0v1.0h-1.0zM151.8 155.0h1.0v1.0h-1.0zM157.3 174.8h1.0v1.0h-1.0zM133.7 170.3h1.0v1.0h-1.0zM152.6 169.6h1.0v1.0h-1.0zM151.1 157.4h1.0v1.0h-1.0zM161.1 166.6h1.0v1.0h-1.0zM132.1 154.1h1.0v1.0h-1.0zM137.0 153.5h1.0v1.0h-1.0zM160.6 163.5h1.0v1.0h-1.0zM152.9 162.3h1.0v1.0h-1.0zM170.1 157.4h1.0v1.0h-1.0zM164.7 165.3h1.0v1.0h-1.0zM136.3 166.3h1.0v1.0h-1.0zM170.5 162.7h1.0v1.0h-1.0zM133.4 173.7h1.0v1.0h-1.0zM140.2 153.8h1.0v1.0h-1.0zM167.4 179.4h1.0v1.0h-1.0zM136.7 161.1h1.0v1.0h-1.0zM154.5 179.5h1.0v1.0h-1.0zM135.0 165.9h1.0v1.0h-1.0zM157.3 155.0h1.0v1.0h-1.0zM150.1 174.2h1.0v1.0h-1.0zM130.5 158.9h1.0v1.0h-1.0zM166.0 163.4h1.0v1.0h-1.0zM140.7 177.2h1.0v1.0h-1.0zM165.5 164.3h1.0v1.0h-1.0zM144.1 159.6h1.0v1.0h-1.0zM128.3 161.8h1.0v1.0h-1.0zM163.2 169.8h1.0v1.0h-1.0zM159.0 169.5h1.0v1.0h-1.0zM153.2 165.0h1.0v1.0h-1.0zM127.3 159.3h1.0v1.0h-1.0zM134.9 169.6h1.0v1.0h-1.0zM141.9 163.4h1.0v1.0h-1.0zM136.9 153.3h1.0v1.0h-1.0zM163.1 170.9h1.0v1.0h-1.0zM155.9 159.2h1.0v1.0h-1.0zM154.3 159.8h1.0v1.0h-1.0zM170.5 170.1h1.0v1.0h-1.0zM135.3 161.0h1.0v1.0h-1.0zM170.0 167.9h1.0v1.0h-1.0zM151.0 162.0h1.0v1.0h-1.0zM147.7 172.2h1.0v1.0h-1.0zM130.1 162.6h1.0v1.0h-1.0zM158.5 158.1h1.0v1.0h-1.0zM169.8 176.4h1.0v1.0h-1.0zM163.1 163.5h1.0v1.0h-1.0zM127.0 165.6h1.0v1.0h-1.0zM168.6 168.4h1.0v1.0h-1.0zM127.2 156.7h1.0v1.0h-1.0zM165.5 159.8h1.0v1.0h-1.0zM159.4 155.4h1.0v1.0h-1.0zM155.1 167.5h1.0v1.0h-1.0zM151.9 172.5h1.0v1.0h-1.0zM147.8 164.0h1.0v1.0h-1.0zM155.6 155.6h1.0v1.0h-1.0z" fill="#40c0c0"/>
<path d="M170.7 149.1h1.0v1.0h-1.0zM146.1 141.0h1.0v1.0h-1.0zM150.3 141.9h1.0v1.0h-1.0zM150.5 145.3h1.0v1.0h-1.0zM152.7 146.9h1.0v1.0h-1.0zM167.5 144.3h1.0v1.0h-1.0zM151.5 142.7h1.0v1.0h-1.0zM152.4 143.1h1.0v1.0h-1.0zM171.9 150.5h1.0v1.0h-1.0zM155.5 145.3h1.0v1.0h-1.0zM134.9 149.4h1.0v1.0h-1.0zM145.8 150.7h1.0v1.0h-1.0zM160.4 143.3h1.0v1.0h-1.0zM150.7 150.2h1.0v1.0h-1.0zM166.8 139.8h1.0v1.0h-1.0zM171.1 149.5h1.0v1.0h-1.0zM146.4 145.5h1.0v1.0h-1.0zM158.1 149.7h1.0v1.0h-1.0zM141.2 142.4h1.0v1.0h-1.0zM141.5 149.4h1.0v1.0h-1.0zM162.8 144.5h1.0v1.0h-1.0zM137.9 143.6h1.0v1.0h-1.0zM163.1 147.5h1.0v1.0h-1.0zM163.7 152.6h1.0v1.0h-1.0zM163.6 148.5h1.0v1.0h-1.0zM134.3 144.5h1.0v1.0h-1.0zM172.0 152.5h1.0v1.0h-1.0zM140.3 141.4h1.0v1.0h-1.0zM143.2 148.1h1.0v1.0h-1.0zM135.1 148.7h1.0v1.0h-1.0zM137.2 150.7h1.0v1.0h-1.0zM160.4 147.8h1.0v1.0h-1.0zM134.3 150.3h1.0v1.0h-1.0zM138.7 147.0h1.0v1.0h-1.0zM143.6 148.6h1.0v1.0h-1.0zM139.6 147.3h1.0v1.0h-1.0zM136.4 151.6h1.0v1.0h-1.0zM166.0 142.9h1.0v1.0h-1.0zM169.2 150.8h1.0v1.0h-1.0zM140.7 150.5h1.0v1.0h-1.0zM136.5 151.8h1.0v1.0h-1.0zM131.2 150.9h1.0v1.0h-1.0zM161.1 151.7h1.0v1.0h-1.0zM154.8 152.4h1.0v1.0h-1.0zM157.6 149.1h1.0v1.0h-1.0zM146.4 144.8h1.0v1.0h-1.0zM169.4 146.9h1.0v1.0h-1.0zM160.4 141.6h1.0v1.0h-1.0zM170.3 150.2h1.0v1.0h-1.0zM145.8 142.9h1.0v1.0h-1.0zM140.9 150.6h1.0v1.0h-1.0zM147.3 145.6h1.0v1.0h-1.0zM167.4 151.9h1.0v1.0h-1.0zM156.1 139.4h1.0v1.0h-1.0zM161.6 145.7h1.0v1.0h-1.0zM162.6 143.8h1.0v1.0h-1.0zM146.5 151.0h1.0v1.0h-1.0zM160.0 141.9h1.0v1.0h-1.0zM154.7 151.0h1.0v1.0h-1.0zM142.2 149.6h1.0v1.0h-1.0zM147.7 151.6h1.0v1.0h-1.0zM164.0 150.0h1.0v1.0h-1.0zM147.2 141.5h1.0v1.0h-1.0zM156.0 143.8h1.0v1.0h-1.0zM165.0 141.9h1.0v1.0h-1.0zM164.4 140.0h1.0v1.0h-1.0zM149.9 142.5h1.0v1.0h-1.0zM138.7 142.3h1.0v1.0h-1.0zM135.5 147.5h1.0v1.0h-1.0zM138.9 151.7h1.0v1.0h-1.0zM168.9 150.9h1.0v1.0h-1.0zM130.4 148.9h1.0v1.0h-1.0zM143.5 140.9h1.0v1.0h-1.0zM163.6 144.0h1.0v1.0h-1.0zM146.3 144.1h1.0v1.0h-1.0zM154.2 142.6h1.0v1.0h-1.0z" fill="#9a68bc"/>
<path d="M166.4 136.6h1.0v1.0h-1.0zM152.7 104.3h1.0v1.0h-1.0zM161.9 120.6h1.0v1.0h-1.0zM159.7 116.0h1.0v1.0h-1.0zM108.1 108.0h1.0v1.0h-1.0zM107.1 130.7h1.0v1.0h-1.0zM107.7 130.7h1.0v1.0h-1.0zM150.7 102.2h1.0v1.0h-1.0zM167.1 130.7h1.0v1.0h-1.0zM166.4 139.0h1.0v1.0h-1.0zM133.5 103.6h1.0v1.0h-1.0zM121.6 140.4h1.0v1.0h-1.0zM164.1 153.8h1.0v1.0h-1.0zM165.1 134.2h1.0v1.0h-1.0zM104.5 109.0h1.0v1.0h-1.0zM112.2 134.9h1.0v1.0h-1.0zM156.2 110.5h1.0v1.0h-1.0z" fill="#7a3a8a"/>
<path d="M171.2 145.6h1.0v1.0h-1.0zM158.6 140.2h1.0v1.0h-1.0zM168.4 142.8h1.0v1.0h-1.0zM156.5 151.6h1.0v1.0h-1.0zM151.9 142.5h1.0v1.0h-1.0zM162.1 142.7h1.0v1.0h-1.0zM133.4 145.9h1.0v1.0h-1.0zM151.2 142.5h1.0v1.0h-1.0zM143.4 142.5h1.0v1.0h-1.0zM145.1 146.2h1.0v1.0h-1.0zM145.6 140.3h1.0v1.0h-1.0zM156.7 143.1h1.0v1.0h-1.0zM163.8 148.0h1.0v1.0h-1.0zM137.7 151.1h1.0v1.0h-1.0zM165.5 147.7h1.0v1.0h-1.0zM168.5 140.8h1.0v1.0h-1.0zM131.5 151.7h1.0v1.0h-1.0zM157.9 149.1h1.0v1.0h-1.0zM145.2 152.2h1.0v1.0h-1.0zM145.4 140.9h1.0v1.0h-1.0zM170.1 150.4h1.0v1.0h-1.0zM154.8 139.3h1.0v1.0h-1.0zM153.1 147.6h1.0v1.0h-1.0zM169.1 147.3h1.0v1.0h-1.0zM149.0 146.8h1.0v1.0h-1.0zM148.1 147.9h1.0v1.0h-1.0zM170.5 145.8h1.0v1.0h-1.0zM139.0 142.1h1.0v1.0h-1.0zM148.5 139.7h1.0v1.0h-1.0zM141.0 141.1h1.0v1.0h-1.0zM141.7 147.1h1.0v1.0h-1.0zM154.0 147.3h1.0v1.0h-1.0zM144.2 143.1h1.0v1.0h-1.0zM170.3 153.2h1.0v1.0h-1.0zM135.9 145.8h1.0v1.0h-1.0zM131.1 148.6h1.0v1.0h-1.0zM151.1 149.8h1.0v1.0h-1.0zM168.0 143.2h1.0v1.0h-1.0z" fill="#4a50a0"/>
<path d="M151.2 76.9h1.1v1.1h-1.1zM150.1 65.9h1.1v1.1h-1.1zM151.8 76.8h1.1v1.1h-1.1zM153.6 54.6h1.1v1.1h-1.1zM155.4 55.2h1.1v1.1h-1.1zM152.1 69.8h1.1v1.1h-1.1zM152.3 83.9h1.1v1.1h-1.1zM150.0 61.7h1.1v1.1h-1.1zM154.6 70.8h1.1v1.1h-1.1zM153.1 82.1h1.1v1.1h-1.1zM156.0 57.6h1.1v1.1h-1.1zM150.7 48.1h1.1v1.1h-1.1zM151.3 56.5h1.1v1.1h-1.1zM153.3 77.8h1.1v1.1h-1.1zM150.1 59.1h1.1v1.1h-1.1zM156.0 57.8h1.1v1.1h-1.1zM153.9 67.9h1.1v1.1h-1.1zM151.3 70.6h1.1v1.1h-1.1zM152.6 69.1h1.1v1.1h-1.1zM154.9 69.9h1.1v1.1h-1.1zM151.9 48.1h1.1v1.1h-1.1zM154.6 77.1h1.1v1.1h-1.1zM152.5 60.4h1.1v1.1h-1.1zM154.0 68.2h1.1v1.1h-1.1zM154.6 59.5h1.1v1.1h-1.1zM153.6 59.4h1.1v1.1h-1.1zM151.9 73.3h1.1v1.1h-1.1zM154.8 55.1h1.1v1.1h-1.1zM150.3 52.2h1.1v1.1h-1.1zM152.7 84.1h1.1v1.1h-1.1zM154.8 65.5h1.1v1.1h-1.1zM152.1 55.4h1.1v1.1h-1.1zM150.3 57.8h1.1v1.1h-1.1zM152.0 75.6h1.1v1.1h-1.1zM155.9 62.6h1.1v1.1h-1.1zM155.9 59.6h1.1v1.1h-1.1zM152.5 74.3h1.1v1.1h-1.1zM153.5 44.2h1.1v1.1h-1.1zM151.7 62.5h1.1v1.1h-1.1zM155.2 70.5h1.1v1.1h-1.1zM149.8 60.4h1.1v1.1h-1.1zM153.2 44.2h1.1v1.1h-1.1zM151.8 83.7h1.1v1.1h-1.1zM150.6 42.8h1.1v1.1h-1.1zM151.4 60.7h1.1v1.1h-1.1zM151.5 69.5h1.1v1.1h-1.1zM154.0 71.8h1.1v1.1h-1.1zM154.7 63.9h1.1v1.1h-1.1zM150.8 43.5h1.1v1.1h-1.1zM150.5 52.1h1.1v1.1h-1.1z" fill="#b4506c"/>
<path d="M152.4 68.5h1.1v1.1h-1.1zM155.4 62.6h1.1v1.1h-1.1zM154.7 53.6h1.1v1.1h-1.1zM151.0 80.6h1.1v1.1h-1.1zM156.0 52.6h1.1v1.1h-1.1zM149.8 68.0h1.1v1.1h-1.1zM149.7 68.3h1.1v1.1h-1.1zM154.9 49.7h1.1v1.1h-1.1zM151.5 49.7h1.1v1.1h-1.1zM153.6 78.1h1.1v1.1h-1.1zM153.7 72.4h1.1v1.1h-1.1zM156.0 64.0h1.1v1.1h-1.1zM151.5 74.7h1.1v1.1h-1.1zM154.1 63.4h1.1v1.1h-1.1zM153.2 64.4h1.1v1.1h-1.1zM150.9 49.6h1.1v1.1h-1.1zM153.5 44.9h1.1v1.1h-1.1zM154.1 71.7h1.1v1.1h-1.1zM151.3 51.7h1.1v1.1h-1.1zM153.0 55.4h1.1v1.1h-1.1zM155.3 63.9h1.1v1.1h-1.1zM150.9 60.8h1.1v1.1h-1.1zM151.3 58.4h1.1v1.1h-1.1zM152.7 56.3h1.1v1.1h-1.1zM153.5 54.8h1.1v1.1h-1.1zM152.4 64.4h1.1v1.1h-1.1zM149.5 61.5h1.1v1.1h-1.1zM153.4 80.3h1.1v1.1h-1.1zM150.5 78.9h1.1v1.1h-1.1zM152.2 76.7h1.1v1.1h-1.1zM150.7 70.9h1.1v1.1h-1.1zM153.1 71.0h1.1v1.1h-1.1zM155.2 67.9h1.1v1.1h-1.1zM150.1 42.1h1.1v1.1h-1.1zM149.5 56.5h1.1v1.1h-1.1z" fill="#c06a80"/>
<path d="M246.6 90.4h1.1v1.1h-1.1zM244.0 96.5h1.1v1.1h-1.1zM254.9 105.6h1.1v1.1h-1.1zM252.1 107.3h1.1v1.1h-1.1zM251.5 98.4h1.1v1.1h-1.1zM257.4 106.9h1.1v1.1h-1.1zM255.4 104.7h1.1v1.1h-1.1zM246.0 93.0h1.1v1.1h-1.1zM257.4 98.2h1.1v1.1h-1.1zM252.3 103.4h1.1v1.1h-1.1zM246.3 100.7h1.1v1.1h-1.1zM247.1 90.3h1.1v1.1h-1.1zM253.5 96.6h1.1v1.1h-1.1zM250.9 92.4h1.1v1.1h-1.1zM241.6 90.9h1.1v1.1h-1.1zM249.6 100.3h1.1v1.1h-1.1zM249.9 93.0h1.1v1.1h-1.1zM255.4 100.3h1.1v1.1h-1.1zM257.1 106.6h1.1v1.1h-1.1zM250.6 92.5h1.1v1.1h-1.1zM249.4 98.7h1.1v1.1h-1.1zM241.8 89.0h1.1v1.1h-1.1zM249.1 107.6h1.1v1.1h-1.1zM245.4 92.5h1.1v1.1h-1.1zM247.5 103.8h1.1v1.1h-1.1zM251.0 104.6h1.1v1.1h-1.1zM244.3 98.6h1.1v1.1h-1.1zM248.1 87.9h1.1v1.1h-1.1zM246.6 91.6h1.1v1.1h-1.1zM256.3 97.6h1.1v1.1h-1.1zM242.0 89.9h1.1v1.1h-1.1zM242.3 102.2h1.1v1.1h-1.1zM255.5 101.5h1.1v1.1h-1.1zM251.2 107.6h1.1v1.1h-1.1zM246.1 97.9h1.1v1.1h-1.1zM246.1 88.9h1.1v1.1h-1.1z" fill="#7a3a98"/>
<path d="M247.4 99.3h1.1v1.1h-1.1zM250.3 88.3h1.1v1.1h-1.1zM256.3 99.5h1.1v1.1h-1.1zM254.2 95.9h1.1v1.1h-1.1zM256.0 97.0h1.1v1.1h-1.1zM253.3 95.6h1.1v1.1h-1.1zM251.3 97.5h1.1v1.1h-1.1zM253.7 93.9h1.1v1.1h-1.1zM253.4 97.6h1.1v1.1h-1.1zM249.7 88.1h1.1v1.1h-1.1zM248.0 101.3h1.1v1.1h-1.1zM245.9 92.7h1.1v1.1h-1.1zM252.8 94.9h1.1v1.1h-1.1zM252.3 108.5h1.1v1.1h-1.1zM250.3 106.9h1.1v1.1h-1.1zM252.5 90.2h1.1v1.1h-1.1zM247.2 100.3h1.1v1.1h-1.1zM242.1 97.4h1.1v1.1h-1.1zM253.1 99.0h1.1v1.1h-1.1zM247.7 98.8h1.1v1.1h-1.1zM254.3 94.2h1.1v1.1h-1.1zM242.5 102.2h1.1v1.1h-1.1zM245.2 90.0h1.1v1.1h-1.1zM252.8 94.5h1.1v1.1h-1.1zM244.8 105.4h1.1v1.1h-1.1zM250.3 89.8h1.1v1.1h-1.1zM246.2 102.7h1.1v1.1h-1.1zM242.5 97.5h1.1v1.1h-1.1zM244.6 96.2h1.1v1.1h-1.1zM256.8 97.0h1.1v1.1h-1.1zM250.3 88.7h1.1v1.1h-1.1zM254.8 104.3h1.1v1.1h-1.1zM252.4 92.3h1.1v1.1h-1.1zM246.5 95.8h1.1v1.1h-1.1zM249.6 88.6h1.1v1.1h-1.1zM243.6 99.8h1.1v1.1h-1.1zM250.8 100.7h1.1v1.1h-1.1zM250.3 101.9h1.1v1.1h-1.1zM256.2 92.0h1.1v1.1h-1.1zM242.5 93.1h1.1v1.1h-1.1zM241.5 96.2h1.1v1.1h-1.1zM251.2 106.1h1.1v1.1h-1.1zM245.5 104.0h1.1v1.1h-1.1zM247.3 97.0h1.1v1.1h-1.1zM249.4 103.0h1.1v1.1h-1.1zM248.0 100.7h1.1v1.1h-1.1zM250.5 90.6h1.1v1.1h-1.1zM243.5 104.0h1.1v1.1h-1.1zM247.7 97.7h1.1v1.1h-1.1zM255.2 101.0h1.1v1.1h-1.1zM243.4 98.9h1.1v1.1h-1.1zM251.9 103.4h1.1v1.1h-1.1zM255.3 95.0h1.1v1.1h-1.1zM254.4 99.1h1.1v1.1h-1.1zM247.1 89.8h1.1v1.1h-1.1zM252.4 102.6h1.1v1.1h-1.1zM244.6 99.6h1.1v1.1h-1.1zM255.6 98.6h1.1v1.1h-1.1zM244.9 93.1h1.1v1.1h-1.1zM256.4 97.1h1.1v1.1h-1.1zM251.7 105.7h1.1v1.1h-1.1zM243.1 91.7h1.1v1.1h-1.1zM246.9 91.5h1.1v1.1h-1.1zM239.7 89.9h1.1v1.1h-1.1zM252.1 91.9h1.1v1.1h-1.1zM172.5 126.8h1.1v1.1h-1.1zM165.9 125.0h1.1v1.1h-1.1zM169.4 131.9h1.1v1.1h-1.1zM172.8 109.2h1.1v1.1h-1.1zM168.4 116.7h1.1v1.1h-1.1zM172.3 122.1h1.1v1.1h-1.1zM167.9 114.2h1.1v1.1h-1.1zM171.5 131.3h1.1v1.1h-1.1zM164.7 120.5h1.1v1.1h-1.1zM167.5 114.7h1.1v1.1h-1.1zM171.9 127.5h1.1v1.1h-1.1zM177.2 119.1h1.1v1.1h-1.1zM170.1 129.3h1.1v1.1h-1.1zM168.8 127.9h1.1v1.1h-1.1zM176.6 127.3h1.1v1.1h-1.1zM160.2 105.2h1.1v1.1h-1.1zM168.9 134.1h1.1v1.1h-1.1zM166.8 132.1h1.1v1.1h-1.1zM168.4 116.0h1.1v1.1h-1.1zM164.1 126.8h1.1v1.1h-1.1zM166.2 121.3h1.1v1.1h-1.1zM175.9 128.4h1.1v1.1h-1.1zM175.4 123.9h1.1v1.1h-1.1zM165.2 114.4h1.1v1.1h-1.1zM174.6 131.5h1.1v1.1h-1.1zM163.1 121.7h1.1v1.1h-1.1zM163.4 118.1h1.1v1.1h-1.1zM168.9 133.1h1.1v1.1h-1.1zM170.3 109.9h1.1v1.1h-1.1zM176.3 122.6h1.1v1.1h-1.1zM177.3 117.9h1.1v1.1h-1.1zM171.7 124.7h1.1v1.1h-1.1zM167.7 128.9h1.1v1.1h-1.1zM161.6 120.1h1.1v1.1h-1.1zM162.4 116.7h1.1v1.1h-1.1zM163.5 124.5h1.1v1.1h-1.1zM166.8 117.5h1.1v1.1h-1.1zM173.3 113.8h1.1v1.1h-1.1zM174.4 135.5h1.1v1.1h-1.1zM165.8 129.1h1.1v1.1h-1.1zM175.1 127.4h1.1v1.1h-1.1zM164.3 114.5h1.1v1.1h-1.1zM169.3 110.5h1.1v1.1h-1.1zM170.0 127.8h1.1v1.1h-1.1zM166.3 110.5h1.1v1.1h-1.1zM167.6 118.5h1.1v1.1h-1.1zM165.6 112.8h1.1v1.1h-1.1zM162.6 126.5h1.1v1.1h-1.1zM167.1 134.0h1.1v1.1h-1.1zM169.5 115.2h1.1v1.1h-1.1zM171.1 128.7h1.1v1.1h-1.1zM167.6 127.5h1.1v1.1h-1.1zM174.8 124.2h1.1v1.1h-1.1zM167.9 131.1h1.1v1.1h-1.1zM197.0 116.0h1.1v1.1h-1.1zM189.9 117.2h1.1v1.1h-1.1zM204.8 112.1h1.1v1.1h-1.1zM213.0 117.5h1.1v1.1h-1.1zM223.8 118.2h1.1v1.1h-1.1zM212.2 122.0h1.1v1.1h-1.1zM184.6 122.3h1.1v1.1h-1.1zM186.4 129.1h1.1v1.1h-1.1zM218.9 118.2h1.1v1.1h-1.1zM197.6 118.3h1.1v1.1h-1.1zM206.5 122.7h1.1v1.1h-1.1zM230.0 120.3h1.1v1.1h-1.1zM214.0 120.5h1.1v1.1h-1.1zM200.7 143.3h1.1v1.1h-1.1zM193.1 139.2h1.1v1.1h-1.1zM230.3 138.2h1.1v1.1h-1.1zM202.9 137.5h1.1v1.1h-1.1zM193.0 144.7h1.1v1.1h-1.1zM217.7 138.5h1.1v1.1h-1.1zM227.3 141.5h1.1v1.1h-1.1zM225.5 148.3h1.1v1.1h-1.1zM213.7 138.8h1.1v1.1h-1.1zM232.6 144.7h1.1v1.1h-1.1zM217.3 134.5h1.1v1.1h-1.1zM215.8 138.6h1.1v1.1h-1.1zM222.7 135.2h1.1v1.1h-1.1zM207.9 140.2h1.1v1.1h-1.1zM216.1 140.5h1.1v1.1h-1.1zM216.6 143.5h1.1v1.1h-1.1zM203.7 137.5h1.1v1.1h-1.1zM205.3 137.1h1.1v1.1h-1.1zM228.4 140.0h1.1v1.1h-1.1zM200.3 143.6h1.1v1.1h-1.1zM217.3 135.7h1.1v1.1h-1.1zM204.2 150.4h1.1v1.1h-1.1zM203.5 150.8h1.1v1.1h-1.1zM203.3 144.3h1.1v1.1h-1.1zM221.6 140.2h1.1v1.1h-1.1zM210.7 143.1h1.1v1.1h-1.1zM197.1 144.3h1.1v1.1h-1.1zM216.0 142.6h1.1v1.1h-1.1zM216.0 134.7h1.1v1.1h-1.1zM206.5 141.5h1.1v1.1h-1.1zM198.8 141.2h1.1v1.1h-1.1z" fill="#8a48a8"/>
<path d="M169.9 111.6h1.1v1.1h-1.1zM173.2 132.5h1.1v1.1h-1.1zM174.0 119.6h1.1v1.1h-1.1zM167.0 125.6h1.1v1.1h-1.1zM169.3 108.5h1.1v1.1h-1.1zM166.6 132.3h1.1v1.1h-1.1zM165.6 126.7h1.1v1.1h-1.1zM163.7 115.3h1.1v1.1h-1.1zM170.2 128.5h1.1v1.1h-1.1zM162.2 117.3h1.1v1.1h-1.1zM167.4 112.5h1.1v1.1h-1.1zM164.4 124.3h1.1v1.1h-1.1zM162.7 105.4h1.1v1.1h-1.1zM176.4 124.0h1.1v1.1h-1.1zM166.2 116.6h1.1v1.1h-1.1zM163.1 116.9h1.1v1.1h-1.1zM161.2 115.6h1.1v1.1h-1.1zM177.4 123.5h1.1v1.1h-1.1zM173.5 110.4h1.1v1.1h-1.1zM164.6 109.0h1.1v1.1h-1.1zM176.9 114.3h1.1v1.1h-1.1zM166.2 116.5h1.1v1.1h-1.1zM165.4 117.6h1.1v1.1h-1.1zM172.8 133.1h1.1v1.1h-1.1zM172.1 120.4h1.1v1.1h-1.1zM165.7 120.4h1.1v1.1h-1.1zM162.7 119.0h1.1v1.1h-1.1zM162.5 123.4h1.1v1.1h-1.1zM169.4 125.2h1.1v1.1h-1.1zM170.6 110.6h1.1v1.1h-1.1zM174.2 127.3h1.1v1.1h-1.1zM168.6 131.0h1.1v1.1h-1.1zM176.0 124.5h1.1v1.1h-1.1zM172.4 122.4h1.1v1.1h-1.1zM163.5 126.4h1.1v1.1h-1.1zM170.9 125.0h1.1v1.1h-1.1zM175.5 113.0h1.1v1.1h-1.1zM165.9 107.0h1.1v1.1h-1.1zM173.7 128.1h1.1v1.1h-1.1zM168.3 128.1h1.1v1.1h-1.1zM164.5 117.7h1.1v1.1h-1.1zM167.0 121.3h1.1v1.1h-1.1zM163.0 124.0h1.1v1.1h-1.1zM166.6 130.3h1.1v1.1h-1.1zM172.7 108.8h1.1v1.1h-1.1zM171.7 110.8h1.1v1.1h-1.1zM168.7 124.3h1.1v1.1h-1.1zM167.5 128.0h1.1v1.1h-1.1zM168.6 130.8h1.1v1.1h-1.1zM165.1 125.4h1.1v1.1h-1.1zM170.5 116.6h1.1v1.1h-1.1zM164.6 124.3h1.1v1.1h-1.1zM172.8 127.3h1.1v1.1h-1.1zM176.5 129.6h1.1v1.1h-1.1zM160.2 104.9h1.1v1.1h-1.1zM172.7 125.8h1.1v1.1h-1.1zM174.6 111.6h1.1v1.1h-1.1zM172.8 111.5h1.1v1.1h-1.1zM171.3 112.3h1.1v1.1h-1.1zM167.8 112.1h1.1v1.1h-1.1zM176.9 116.7h1.1v1.1h-1.1zM170.6 126.9h1.1v1.1h-1.1zM164.0 116.5h1.1v1.1h-1.1zM174.8 113.4h1.1v1.1h-1.1zM166.0 107.7h1.1v1.1h-1.1zM167.1 131.8h1.1v1.1h-1.1zM173.6 117.9h1.1v1.1h-1.1zM164.9 109.8h1.1v1.1h-1.1zM160.9 104.2h1.1v1.1h-1.1zM168.1 115.0h1.1v1.1h-1.1zM176.0 129.1h1.1v1.1h-1.1zM163.9 106.7h1.1v1.1h-1.1zM162.0 107.3h1.1v1.1h-1.1zM164.9 124.3h1.1v1.1h-1.1zM166.3 111.3h1.1v1.1h-1.1zM161.1 105.3h1.1v1.1h-1.1zM170.3 131.3h1.1v1.1h-1.1zM160.7 107.5h1.1v1.1h-1.1zM169.3 135.0h1.1v1.1h-1.1zM164.8 115.6h1.1v1.1h-1.1zM173.6 136.5h1.1v1.1h-1.1zM174.6 132.6h1.1v1.1h-1.1zM167.3 115.8h1.1v1.1h-1.1zM175.0 112.3h1.1v1.1h-1.1zM165.1 107.8h1.1v1.1h-1.1zM195.6 107.5h1.1v1.1h-1.1zM194.0 108.8h1.1v1.1h-1.1zM186.3 109.1h1.1v1.1h-1.1zM209.6 118.0h1.1v1.1h-1.1zM194.3 112.0h1.1v1.1h-1.1zM182.7 109.8h1.1v1.1h-1.1zM203.2 113.4h1.1v1.1h-1.1zM192.4 109.1h1.1v1.1h-1.1zM222.0 119.6h1.1v1.1h-1.1zM203.6 111.1h1.1v1.1h-1.1zM192.2 112.6h1.1v1.1h-1.1zM190.8 128.3h1.1v1.1h-1.1zM184.1 113.6h1.1v1.1h-1.1zM201.4 114.3h1.1v1.1h-1.1zM208.4 118.5h1.1v1.1h-1.1zM225.8 117.1h1.1v1.1h-1.1zM190.6 107.0h1.1v1.1h-1.1zM191.8 116.0h1.1v1.1h-1.1zM190.0 114.6h1.1v1.1h-1.1zM188.1 116.9h1.1v1.1h-1.1zM183.4 115.9h1.1v1.1h-1.1zM230.0 115.5h1.1v1.1h-1.1zM205.9 123.3h1.1v1.1h-1.1zM199.3 122.9h1.1v1.1h-1.1zM213.6 111.4h1.1v1.1h-1.1zM196.8 114.7h1.1v1.1h-1.1zM203.3 149.8h1.1v1.1h-1.1zM220.3 132.9h1.1v1.1h-1.1zM218.8 137.9h1.1v1.1h-1.1zM221.7 141.2h1.1v1.1h-1.1zM214.7 144.6h1.1v1.1h-1.1zM205.5 141.5h1.1v1.1h-1.1zM233.5 140.3h1.1v1.1h-1.1zM217.5 138.4h1.1v1.1h-1.1zM214.9 144.4h1.1v1.1h-1.1zM219.4 138.4h1.1v1.1h-1.1zM212.0 140.2h1.1v1.1h-1.1zM215.0 144.6h1.1v1.1h-1.1zM228.8 148.2h1.1v1.1h-1.1zM207.4 142.2h1.1v1.1h-1.1zM212.9 143.5h1.1v1.1h-1.1zM216.6 146.8h1.1v1.1h-1.1zM210.3 144.9h1.1v1.1h-1.1zM201.3 139.7h1.1v1.1h-1.1zM234.6 140.2h1.1v1.1h-1.1zM203.4 138.5h1.1v1.1h-1.1zM219.7 148.4h1.1v1.1h-1.1zM203.2 147.8h1.1v1.1h-1.1zM226.9 148.2h1.1v1.1h-1.1zM219.4 135.6h1.1v1.1h-1.1zM222.9 144.2h1.1v1.1h-1.1zM231.7 142.5h1.1v1.1h-1.1zM208.9 150.5h1.1v1.1h-1.1zM213.4 148.1h1.1v1.1h-1.1zM201.3 145.9h1.1v1.1h-1.1zM223.5 135.3h1.1v1.1h-1.1zM226.0 141.5h1.1v1.1h-1.1zM200.6 149.5h1.1v1.1h-1.1zM189.7 143.8h1.1v1.1h-1.1zM212.5 145.9h1.1v1.1h-1.1zM208.3 138.2h1.1v1.1h-1.1zM219.8 140.7h1.1v1.1h-1.1zM224.0 143.5h1.1v1.1h-1.1zM195.3 142.5h1.1v1.1h-1.1zM194.7 148.0h1.1v1.1h-1.1zM205.2 150.7h1.1v1.1h-1.1z" fill="#b282c8"/>
<path d="M170.2 127.3h1.1v1.1h-1.1zM173.8 135.4h1.1v1.1h-1.1zM163.1 119.5h1.1v1.1h-1.1zM176.7 122.4h1.1v1.1h-1.1zM167.6 122.2h1.1v1.1h-1.1zM174.2 124.1h1.1v1.1h-1.1zM168.2 127.8h1.1v1.1h-1.1zM176.7 113.3h1.1v1.1h-1.1zM175.6 132.3h1.1v1.1h-1.1zM164.3 114.3h1.1v1.1h-1.1zM165.8 124.4h1.1v1.1h-1.1zM174.0 120.1h1.1v1.1h-1.1zM172.3 116.6h1.1v1.1h-1.1zM170.8 120.5h1.1v1.1h-1.1zM171.5 126.5h1.1v1.1h-1.1zM166.7 105.9h1.1v1.1h-1.1zM169.5 121.0h1.1v1.1h-1.1zM169.7 114.4h1.1v1.1h-1.1zM165.2 127.8h1.1v1.1h-1.1zM162.8 122.1h1.1v1.1h-1.1zM176.4 120.7h1.1v1.1h-1.1zM166.8 109.6h1.1v1.1h-1.1zM167.5 122.4h1.1v1.1h-1.1zM172.5 118.8h1.1v1.1h-1.1zM171.8 122.6h1.1v1.1h-1.1zM172.5 115.1h1.1v1.1h-1.1zM174.0 124.8h1.1v1.1h-1.1zM175.2 124.3h1.1v1.1h-1.1zM175.8 119.3h1.1v1.1h-1.1zM174.7 119.1h1.1v1.1h-1.1zM171.9 109.2h1.1v1.1h-1.1zM176.7 124.4h1.1v1.1h-1.1zM171.9 108.5h1.1v1.1h-1.1zM174.5 134.7h1.1v1.1h-1.1zM175.2 121.6h1.1v1.1h-1.1zM162.9 114.7h1.1v1.1h-1.1zM169.1 122.7h1.1v1.1h-1.1zM163.2 116.0h1.1v1.1h-1.1zM176.3 123.0h1.1v1.1h-1.1zM173.4 128.8h1.1v1.1h-1.1zM170.7 112.9h1.1v1.1h-1.1zM169.4 113.7h1.1v1.1h-1.1zM165.8 110.2h1.1v1.1h-1.1zM169.6 110.2h1.1v1.1h-1.1zM173.9 132.2h1.1v1.1h-1.1zM166.6 114.8h1.1v1.1h-1.1zM165.2 122.7h1.1v1.1h-1.1zM166.9 114.3h1.1v1.1h-1.1zM170.8 128.2h1.1v1.1h-1.1zM167.5 130.3h1.1v1.1h-1.1zM165.3 105.4h1.1v1.1h-1.1zM164.0 126.9h1.1v1.1h-1.1zM165.8 120.7h1.1v1.1h-1.1zM164.2 125.2h1.1v1.1h-1.1zM167.1 130.4h1.1v1.1h-1.1zM175.6 119.0h1.1v1.1h-1.1zM170.1 132.6h1.1v1.1h-1.1zM221.0 118.7h1.1v1.1h-1.1zM202.6 122.3h1.1v1.1h-1.1zM196.9 123.3h1.1v1.1h-1.1zM192.9 108.0h1.1v1.1h-1.1zM226.6 113.9h1.1v1.1h-1.1zM187.5 107.6h1.1v1.1h-1.1zM184.4 121.0h1.1v1.1h-1.1zM198.9 115.2h1.1v1.1h-1.1zM188.5 116.8h1.1v1.1h-1.1zM198.5 115.1h1.1v1.1h-1.1zM194.6 118.5h1.1v1.1h-1.1zM212.0 117.9h1.1v1.1h-1.1zM207.5 114.3h1.1v1.1h-1.1zM185.9 125.6h1.1v1.1h-1.1zM186.3 122.9h1.1v1.1h-1.1zM193.5 107.9h1.1v1.1h-1.1zM216.8 114.7h1.1v1.1h-1.1zM186.1 128.5h1.1v1.1h-1.1zM202.0 110.7h1.1v1.1h-1.1zM198.7 118.8h1.1v1.1h-1.1zM217.2 117.4h1.1v1.1h-1.1zM184.2 111.5h1.1v1.1h-1.1zM212.0 115.9h1.1v1.1h-1.1zM203.6 114.3h1.1v1.1h-1.1zM213.5 144.8h1.1v1.1h-1.1zM221.7 134.6h1.1v1.1h-1.1zM217.9 135.8h1.1v1.1h-1.1zM190.0 142.7h1.1v1.1h-1.1zM217.1 132.8h1.1v1.1h-1.1zM214.7 142.7h1.1v1.1h-1.1zM204.9 139.0h1.1v1.1h-1.1zM211.5 148.7h1.1v1.1h-1.1zM194.3 146.1h1.1v1.1h-1.1zM229.6 144.3h1.1v1.1h-1.1zM224.4 145.8h1.1v1.1h-1.1zM209.5 146.9h1.1v1.1h-1.1zM214.1 146.7h1.1v1.1h-1.1zM204.2 141.9h1.1v1.1h-1.1zM216.7 132.8h1.1v1.1h-1.1zM219.5 148.5h1.1v1.1h-1.1zM208.9 136.1h1.1v1.1h-1.1zM215.0 142.0h1.1v1.1h-1.1zM215.8 149.2h1.1v1.1h-1.1zM221.4 135.2h1.1v1.1h-1.1zM220.7 144.9h1.1v1.1h-1.1zM211.0 138.7h1.1v1.1h-1.1zM225.9 136.4h1.1v1.1h-1.1zM229.3 135.9h1.1v1.1h-1.1zM204.7 143.8h1.1v1.1h-1.1zM205.1 138.6h1.1v1.1h-1.1zM198.9 149.9h1.1v1.1h-1.1zM204.1 150.6h1.1v1.1h-1.1zM223.5 133.4h1.1v1.1h-1.1zM224.9 136.5h1.1v1.1h-1.1zM196.3 141.8h1.1v1.1h-1.1zM205.4 137.6h1.1v1.1h-1.1zM191.9 142.7h1.1v1.1h-1.1zM217.0 109.1h1.1v1.1h-1.1zM233.7 115.2h1.1v1.1h-1.1zM247.5 102.2h1.1v1.1h-1.1zM239.1 116.7h1.1v1.1h-1.1zM230.8 109.8h1.1v1.1h-1.1zM235.3 107.2h1.1v1.1h-1.1zM226.6 112.3h1.1v1.1h-1.1zM230.9 121.4h1.1v1.1h-1.1zM235.6 108.9h1.1v1.1h-1.1zM227.2 123.1h1.1v1.1h-1.1zM216.7 108.9h1.1v1.1h-1.1zM230.4 119.4h1.1v1.1h-1.1zM234.1 116.0h1.1v1.1h-1.1zM238.5 112.9h1.1v1.1h-1.1zM244.0 108.0h1.1v1.1h-1.1zM221.9 113.4h1.1v1.1h-1.1zM223.3 105.3h1.1v1.1h-1.1zM227.3 124.3h1.1v1.1h-1.1zM223.4 107.5h1.1v1.1h-1.1zM236.7 113.8h1.1v1.1h-1.1zM250.0 108.7h1.1v1.1h-1.1zM238.2 119.7h1.1v1.1h-1.1zM252.5 108.8h1.1v1.1h-1.1zM232.8 120.3h1.1v1.1h-1.1zM243.1 117.1h1.1v1.1h-1.1zM238.3 103.7h1.1v1.1h-1.1zM233.3 124.8h1.1v1.1h-1.1zM228.8 119.3h1.1v1.1h-1.1zM247.4 111.5h1.1v1.1h-1.1zM231.0 112.4h1.1v1.1h-1.1zM236.7 119.4h1.1v1.1h-1.1zM229.9 126.1h1.1v1.1h-1.1zM242.7 118.0h1.1v1.1h-1.1zM247.9 109.0h1.1v1.1h-1.1zM239.3 105.1h1.1v1.1h-1.1zM226.3 111.6h1.1v1.1h-1.1zM224.1 110.3h1.1v1.1h-1.1zM226.5 107.4h1.1v1.1h-1.1zM224.7 121.9h1.1v1.1h-1.1zM231.5 123.4h1.1v1.1h-1.1zM249.8 109.5h1.1v1.1h-1.1zM251.9 110.5h1.1v1.1h-1.1zM214.3 106.6h1.1v1.1h-1.1zM238.9 118.0h1.1v1.1h-1.1zM235.7 118.0h1.1v1.1h-1.1zM250.6 105.4h1.1v1.1h-1.1zM251.4 108.8h1.1v1.1h-1.1zM217.3 102.7h1.1v1.1h-1.1zM229.3 121.5h1.1v1.1h-1.1zM249.7 113.0h1.1v1.1h-1.1zM247.1 112.8h1.1v1.1h-1.1zM232.5 120.4h1.1v1.1h-1.1zM210.4 100.1h1.1v1.1h-1.1zM216.7 104.2h1.1v1.1h-1.1zM233.4 121.5h1.1v1.1h-1.1zM236.2 119.6h1.1v1.1h-1.1zM251.0 106.3h1.1v1.1h-1.1zM242.0 102.8h1.1v1.1h-1.1zM226.1 122.6h1.1v1.1h-1.1zM213.3 101.4h1.1v1.1h-1.1zM228.4 115.5h1.1v1.1h-1.1zM247.4 114.3h1.1v1.1h-1.1zM229.7 114.8h1.1v1.1h-1.1zM219.0 105.3h1.1v1.1h-1.1zM235.1 111.1h1.1v1.1h-1.1zM220.3 117.7h1.1v1.1h-1.1zM216.3 106.6h1.1v1.1h-1.1zM250.5 105.6h1.1v1.1h-1.1zM221.7 119.2h1.1v1.1h-1.1zM215.6 104.4h1.1v1.1h-1.1zM233.7 120.1h1.1v1.1h-1.1zM229.0 113.6h1.1v1.1h-1.1zM230.1 123.5h1.1v1.1h-1.1zM215.6 108.3h1.1v1.1h-1.1zM227.7 114.0h1.1v1.1h-1.1zM244.6 109.4h1.1v1.1h-1.1zM229.4 124.3h1.1v1.1h-1.1zM228.6 108.1h1.1v1.1h-1.1zM233.5 123.1h1.1v1.1h-1.1zM240.2 120.3h1.1v1.1h-1.1zM220.0 105.1h1.1v1.1h-1.1zM247.1 114.8h1.1v1.1h-1.1zM244.3 106.4h1.1v1.1h-1.1zM237.2 124.0h1.1v1.1h-1.1zM228.2 124.6h1.1v1.1h-1.1zM248.9 101.7h1.1v1.1h-1.1zM223.7 111.9h1.1v1.1h-1.1zM246.3 103.4h1.1v1.1h-1.1zM245.9 113.2h1.1v1.1h-1.1zM226.0 120.5h1.1v1.1h-1.1zM242.5 111.7h1.1v1.1h-1.1zM220.6 108.0h1.1v1.1h-1.1zM228.7 123.6h1.1v1.1h-1.1zM210.8 100.8h1.1v1.1h-1.1zM243.6 113.0h1.1v1.1h-1.1zM238.1 112.9h1.1v1.1h-1.1zM242.9 118.6h1.1v1.1h-1.1zM234.5 112.7h1.1v1.1h-1.1zM224.5 113.6h1.1v1.1h-1.1zM243.6 117.8h1.1v1.1h-1.1zM240.4 113.4h1.1v1.1h-1.1zM224.2 119.2h1.1v1.1h-1.1zM246.2 112.9h1.1v1.1h-1.1zM238.0 110.3h1.1v1.1h-1.1zM221.2 107.3h1.1v1.1h-1.1zM243.7 103.4h1.1v1.1h-1.1zM230.9 110.5h1.1v1.1h-1.1zM233.6 122.4h1.1v1.1h-1.1zM226.5 110.2h1.1v1.1h-1.1zM246.6 111.7h1.1v1.1h-1.1zM250.0 105.5h1.1v1.1h-1.1zM223.9 121.2h1.1v1.1h-1.1zM232.9 118.5h1.1v1.1h-1.1zM222.0 104.9h1.1v1.1h-1.1zM222.5 111.2h1.1v1.1h-1.1zM227.2 108.3h1.1v1.1h-1.1zM236.4 121.3h1.1v1.1h-1.1zM244.8 103.7h1.1v1.1h-1.1zM245.7 109.5h1.1v1.1h-1.1zM222.6 112.1h1.1v1.1h-1.1zM222.9 116.0h1.1v1.1h-1.1zM232.7 114.3h1.1v1.1h-1.1zM163.7 105.7h1.1v1.1h-1.1zM180.1 109.7h1.1v1.1h-1.1zM165.6 110.8h1.1v1.1h-1.1zM172.8 110.4h1.1v1.1h-1.1zM167.5 108.7h1.1v1.1h-1.1zM182.6 111.3h1.1v1.1h-1.1zM179.0 108.5h1.1v1.1h-1.1zM182.9 111.8h1.1v1.1h-1.1zM182.0 113.0h1.1v1.1h-1.1zM182.0 106.2h1.1v1.1h-1.1zM179.0 105.7h1.1v1.1h-1.1zM170.0 107.6h1.1v1.1h-1.1zM179.4 113.3h1.1v1.1h-1.1zM184.2 110.1h1.1v1.1h-1.1zM179.9 108.9h1.1v1.1h-1.1zM167.5 109.8h1.1v1.1h-1.1zM171.0 106.0h1.1v1.1h-1.1zM185.8 107.7h1.1v1.1h-1.1zM178.8 107.6h1.1v1.1h-1.1zM174.7 113.8h1.1v1.1h-1.1zM187.8 112.1h1.1v1.1h-1.1zM174.0 112.1h1.1v1.1h-1.1zM173.2 105.7h1.1v1.1h-1.1zM181.6 107.4h1.1v1.1h-1.1z" fill="#9a56b0"/>
<path d="M225.1 121.5h1.1v1.1h-1.1zM216.9 112.4h1.1v1.1h-1.1zM248.6 111.4h1.1v1.1h-1.1zM240.4 116.5h1.1v1.1h-1.1zM222.5 105.3h1.1v1.1h-1.1zM232.9 123.0h1.1v1.1h-1.1zM236.4 114.1h1.1v1.1h-1.1zM227.8 108.1h1.1v1.1h-1.1zM234.4 120.0h1.1v1.1h-1.1zM238.7 105.3h1.1v1.1h-1.1zM218.3 113.1h1.1v1.1h-1.1zM218.9 115.7h1.1v1.1h-1.1zM240.4 107.0h1.1v1.1h-1.1zM238.4 118.1h1.1v1.1h-1.1zM225.2 115.2h1.1v1.1h-1.1zM220.8 109.6h1.1v1.1h-1.1zM247.4 104.9h1.1v1.1h-1.1zM230.3 108.9h1.1v1.1h-1.1zM239.6 110.9h1.1v1.1h-1.1zM220.1 113.0h1.1v1.1h-1.1zM226.0 106.9h1.1v1.1h-1.1zM222.8 109.6h1.1v1.1h-1.1zM244.5 105.5h1.1v1.1h-1.1zM230.1 113.8h1.1v1.1h-1.1zM213.0 105.2h1.1v1.1h-1.1zM232.4 121.1h1.1v1.1h-1.1zM241.7 115.3h1.1v1.1h-1.1zM237.4 111.1h1.1v1.1h-1.1zM245.0 104.3h1.1v1.1h-1.1zM240.4 109.5h1.1v1.1h-1.1zM218.6 112.3h1.1v1.1h-1.1zM213.7 104.7h1.1v1.1h-1.1zM233.2 124.3h1.1v1.1h-1.1zM223.2 110.7h1.1v1.1h-1.1zM243.5 111.1h1.1v1.1h-1.1zM213.8 107.2h1.1v1.1h-1.1zM224.9 116.6h1.1v1.1h-1.1zM232.6 123.4h1.1v1.1h-1.1zM231.3 120.1h1.1v1.1h-1.1zM248.9 106.6h1.1v1.1h-1.1zM218.8 116.0h1.1v1.1h-1.1zM225.6 117.8h1.1v1.1h-1.1zM230.4 125.7h1.1v1.1h-1.1zM250.8 104.5h1.1v1.1h-1.1zM225.1 110.1h1.1v1.1h-1.1zM230.0 119.7h1.1v1.1h-1.1zM233.5 122.9h1.1v1.1h-1.1zM241.8 102.2h1.1v1.1h-1.1zM241.0 105.3h1.1v1.1h-1.1zM245.4 105.3h1.1v1.1h-1.1zM220.0 105.8h1.1v1.1h-1.1zM232.0 118.6h1.1v1.1h-1.1zM231.2 110.2h1.1v1.1h-1.1zM228.3 109.2h1.1v1.1h-1.1zM229.6 108.8h1.1v1.1h-1.1zM217.3 110.4h1.1v1.1h-1.1zM229.1 110.8h1.1v1.1h-1.1zM236.1 121.1h1.1v1.1h-1.1zM216.8 104.5h1.1v1.1h-1.1zM227.1 108.0h1.1v1.1h-1.1zM226.0 110.3h1.1v1.1h-1.1zM224.1 110.6h1.1v1.1h-1.1zM211.2 101.4h1.1v1.1h-1.1zM221.1 112.8h1.1v1.1h-1.1zM216.6 109.2h1.1v1.1h-1.1zM240.0 122.3h1.1v1.1h-1.1zM222.8 118.7h1.1v1.1h-1.1zM235.3 117.9h1.1v1.1h-1.1zM224.7 116.9h1.1v1.1h-1.1zM246.8 108.6h1.1v1.1h-1.1zM238.5 116.6h1.1v1.1h-1.1zM237.4 111.9h1.1v1.1h-1.1zM223.7 108.3h1.1v1.1h-1.1zM244.8 105.7h1.1v1.1h-1.1zM249.4 110.8h1.1v1.1h-1.1zM247.3 108.7h1.1v1.1h-1.1zM250.6 111.7h1.1v1.1h-1.1zM224.2 106.6h1.1v1.1h-1.1zM238.6 108.3h1.1v1.1h-1.1zM231.6 119.5h1.1v1.1h-1.1zM243.3 117.1h1.1v1.1h-1.1zM219.3 110.8h1.1v1.1h-1.1zM250.3 104.2h1.1v1.1h-1.1zM235.1 116.1h1.1v1.1h-1.1zM222.3 116.5h1.1v1.1h-1.1zM250.9 103.2h1.1v1.1h-1.1zM237.6 120.0h1.1v1.1h-1.1zM223.5 114.6h1.1v1.1h-1.1zM214.6 106.0h1.1v1.1h-1.1zM248.7 111.8h1.1v1.1h-1.1zM225.1 109.8h1.1v1.1h-1.1zM234.8 123.4h1.1v1.1h-1.1zM239.7 122.2h1.1v1.1h-1.1zM221.0 107.4h1.1v1.1h-1.1zM225.3 119.0h1.1v1.1h-1.1zM251.5 111.0h1.1v1.1h-1.1zM217.4 109.4h1.1v1.1h-1.1zM240.5 109.5h1.1v1.1h-1.1zM232.9 113.4h1.1v1.1h-1.1zM228.1 112.6h1.1v1.1h-1.1zM227.2 113.8h1.1v1.1h-1.1zM232.2 118.9h1.1v1.1h-1.1zM223.5 107.7h1.1v1.1h-1.1zM245.3 108.5h1.1v1.1h-1.1zM246.5 107.0h1.1v1.1h-1.1zM237.4 121.6h1.1v1.1h-1.1zM216.3 105.7h1.1v1.1h-1.1zM222.1 117.9h1.1v1.1h-1.1zM236.1 122.3h1.1v1.1h-1.1zM238.5 123.5h1.1v1.1h-1.1zM236.5 123.5h1.1v1.1h-1.1zM252.8 108.4h1.1v1.1h-1.1zM226.0 107.6h1.1v1.1h-1.1zM219.1 113.6h1.1v1.1h-1.1z" fill="#b080c8"/>
<path d="M156.1 77.2h1.1v1.1h-1.1zM156.7 84.5h1.1v1.1h-1.1zM152.8 84.6h1.1v1.1h-1.1zM153.3 77.1h1.1v1.1h-1.1zM151.1 84.7h1.1v1.1h-1.1zM156.2 77.7h1.1v1.1h-1.1zM154.2 78.9h1.1v1.1h-1.1zM152.3 86.7h1.1v1.1h-1.1zM150.2 84.4h1.1v1.1h-1.1zM150.7 86.2h1.1v1.1h-1.1zM153.5 76.6h1.1v1.1h-1.1zM157.0 80.6h1.1v1.1h-1.1zM153.3 82.1h1.1v1.1h-1.1zM152.6 85.0h1.1v1.1h-1.1zM155.2 86.8h1.1v1.1h-1.1zM154.0 82.5h1.1v1.1h-1.1zM156.9 84.1h1.1v1.1h-1.1zM152.7 79.2h1.1v1.1h-1.1zM151.9 87.7h1.1v1.1h-1.1zM153.5 86.7h1.1v1.1h-1.1zM158.1 80.4h1.1v1.1h-1.1zM154.8 84.6h1.1v1.1h-1.1zM151.5 81.8h1.1v1.1h-1.1zM152.7 80.9h1.1v1.1h-1.1zM153.4 80.6h1.1v1.1h-1.1zM156.1 81.2h1.1v1.1h-1.1zM153.9 77.1h1.1v1.1h-1.1zM154.1 86.9h1.1v1.1h-1.1zM157.5 81.4h1.1v1.1h-1.1zM151.5 86.3h1.1v1.1h-1.1z" fill="#b84c6c"/>
<path d="M162.7 108.5h1.1v1.1h-1.1zM179.9 105.7h1.1v1.1h-1.1zM173.9 114.2h1.1v1.1h-1.1zM172.0 111.7h1.1v1.1h-1.1zM176.5 110.0h1.1v1.1h-1.1zM187.6 113.5h1.1v1.1h-1.1zM180.9 106.6h1.1v1.1h-1.1zM182.1 108.2h1.1v1.1h-1.1zM183.6 112.2h1.1v1.1h-1.1zM171.3 106.3h1.1v1.1h-1.1zM165.7 109.8h1.1v1.1h-1.1zM176.9 112.3h1.1v1.1h-1.1zM179.4 107.1h1.1v1.1h-1.1zM179.8 107.0h1.1v1.1h-1.1z" fill="#40a8b0"/>
<path d="M182.8 106.4h1.1v1.1h-1.1zM172.6 106.2h1.1v1.1h-1.1zM170.6 110.9h1.1v1.1h-1.1zM184.0 112.2h1.1v1.1h-1.1zM182.5 113.7h1.1v1.1h-1.1zM171.7 106.3h1.1v1.1h-1.1zM168.4 111.6h1.1v1.1h-1.1zM161.2 107.1h1.1v1.1h-1.1z" fill="#b03050"/>
<line x1="39.60" y1="19.00" x2="39.60" y2="197.95" stroke="#222" stroke-width="1.3"/>
<line x1="38.95" y1="197.30" x2="279.00" y2="197.30" stroke="#222" stroke-width="1.3"/>
<line x1="37.00" y1="25.10" x2="39.60" y2="25.10" stroke="#333" stroke-width="1.1"/>
<text x="33.70" y="27.49" font-size="7.8" text-anchor="end" fill="#333" stroke="#333" stroke-width="0.25">15</text>
<line x1="37.00" y1="53.90" x2="39.60" y2="53.90" stroke="#333" stroke-width="1.1"/>
<text x="33.70" y="56.29" font-size="7.8" text-anchor="end" fill="#333" stroke="#333" stroke-width="0.25">10</text>
<line x1="37.00" y1="82.70" x2="39.60" y2="82.70" stroke="#333" stroke-width="1.1"/>
<text x="33.70" y="85.09" font-size="7.8" text-anchor="end" fill="#333" stroke="#333" stroke-width="0.25">5</text>
<line x1="37.00" y1="111.50" x2="39.60" y2="111.50" stroke="#333" stroke-width="1.1"/>
<text x="33.70" y="113.89" font-size="7.8" text-anchor="end" fill="#333" stroke="#333" stroke-width="0.25">0</text>
<line x1="37.00" y1="140.30" x2="39.60" y2="140.30" stroke="#333" stroke-width="1.1"/>
<text x="33.70" y="142.69" font-size="7.8" text-anchor="end" fill="#333" stroke="#333" stroke-width="0.25">−5</text>
<line x1="37.00" y1="169.10" x2="39.60" y2="169.10" stroke="#333" stroke-width="1.1"/>
<text x="33.70" y="171.49" font-size="7.8" text-anchor="end" fill="#333" stroke="#333" stroke-width="0.25">−10</text>
<line x1="70.30" y1="197.30" x2="70.30" y2="200.00" stroke="#333" stroke-width="1.1"/>
<text x="70.30" y="210.19" font-size="7.5" text-anchor="middle" fill="#333" stroke="#333" stroke-width="0.25">−10</text>
<line x1="115.60" y1="197.30" x2="115.60" y2="200.00" stroke="#333" stroke-width="1.1"/>
<text x="115.60" y="210.19" font-size="7.5" text-anchor="middle" fill="#333" stroke="#333" stroke-width="0.25">−5</text>
<line x1="160.90" y1="197.30" x2="160.90" y2="200.00" stroke="#333" stroke-width="1.1"/>
<text x="160.90" y="210.19" font-size="7.5" text-anchor="middle" fill="#333" stroke="#333" stroke-width="0.25">0</text>
<line x1="206.20" y1="197.30" x2="206.20" y2="200.00" stroke="#333" stroke-width="1.1"/>
<text x="206.20" y="210.19" font-size="7.5" text-anchor="middle" fill="#333" stroke="#333" stroke-width="0.25">5</text>
<line x1="251.50" y1="197.30" x2="251.50" y2="200.00" stroke="#333" stroke-width="1.1"/>
<text x="251.50" y="210.19" font-size="7.5" text-anchor="middle" fill="#333" stroke="#333" stroke-width="0.25">10</text>
<text x="159.50" y="222.36" font-size="8" text-anchor="middle" font-weight="bold" textLength="24.5" lengthAdjust="spacingAndGlyphs" fill="#333" stroke="#333" stroke-width="0.25">umap_1</text>
<g transform="translate(11.5,108) rotate(-90)">
<text x="0.00" y="2.86" font-size="8" text-anchor="middle" font-weight="bold" textLength="24.3" lengthAdjust="spacingAndGlyphs" fill="#333" stroke="#333" stroke-width="0.25">umap_2</text>
</g>
<circle cx="287.50" cy="24.40" r="1.5" fill="#3b3d5c"/>
<text x="291.70" y="27.08" font-size="7.5" textLength="43.8" lengthAdjust="spacingAndGlyphs" fill="#262626" stroke="#262626" stroke-width="0.25" stroke-opacity="0.3">CD34+ HSC</text>
<circle cx="287.50" cy="34.67" r="1.5" fill="#4b2d60"/>
<text x="291.70" y="37.36" font-size="7.5" textLength="62.6" lengthAdjust="spacingAndGlyphs" fill="#262626" stroke="#262626" stroke-width="0.25" stroke-opacity="0.3">CD34+ HSC-cycle</text>
<circle cx="287.50" cy="44.94" r="1.5" fill="#9a7ab4"/>
<text x="291.70" y="47.62" font-size="7.5" textLength="51.8" lengthAdjust="spacingAndGlyphs" fill="#262626" stroke="#262626" stroke-width="0.25" stroke-opacity="0.3">CD34+ MultiLin</text>
<circle cx="287.50" cy="55.21" r="1.5" fill="#3d5878"/>
<text x="291.70" y="57.89" font-size="7.5" textLength="42.8" lengthAdjust="spacingAndGlyphs" fill="#262626" stroke="#262626" stroke-width="0.25" stroke-opacity="0.3">Promyelocyte</text>
<circle cx="287.50" cy="65.48" r="1.5" fill="#5a6a94"/>
<text x="291.70" y="68.16" font-size="7.5" textLength="32.6" lengthAdjust="spacingAndGlyphs" fill="#262626" stroke="#262626" stroke-width="0.25" stroke-opacity="0.3">Myelocyte</text>
<circle cx="287.50" cy="75.75" r="1.5" fill="#8a9ac2"/>
<text x="291.70" y="78.44" font-size="7.5" textLength="73.4" lengthAdjust="spacingAndGlyphs" fill="#262626" stroke="#262626" stroke-width="0.25" stroke-opacity="0.3">S100A+ preNeutrophil</text>
<circle cx="287.50" cy="86.02" r="1.5" fill="#a8b8c8"/>
<text x="291.70" y="88.70" font-size="7.5" textLength="100.6" lengthAdjust="spacingAndGlyphs" fill="#262626" stroke="#262626" stroke-width="0.25" stroke-opacity="0.3">S100A+ preNeutrophil (cycling)</text>
<circle cx="287.50" cy="96.29" r="1.5" fill="#2d386a"/>
<text x="291.70" y="98.97" font-size="7.5" textLength="89.6" lengthAdjust="spacingAndGlyphs" fill="#262626" stroke="#262626" stroke-width="0.25" stroke-opacity="0.3">CD14+MHCIIlow monocyte</text>
<circle cx="287.50" cy="106.56" r="1.5" fill="#6a70b4"/>
<text x="291.70" y="109.25" font-size="7.5" textLength="91.2" lengthAdjust="spacingAndGlyphs" fill="#262626" stroke="#262626" stroke-width="0.25" stroke-opacity="0.3">CD14+MHCIIhigh monocyte</text>
<circle cx="287.50" cy="116.83" r="1.5" fill="#223070"/>
<text x="291.70" y="119.51" font-size="7.5" textLength="57.4" lengthAdjust="spacingAndGlyphs" fill="#262626" stroke="#262626" stroke-width="0.25" stroke-opacity="0.3">CD16+ monocyte</text>
<circle cx="287.50" cy="127.10" r="1.5" fill="#1e2450"/>
<text x="291.70" y="129.78" font-size="7.5" textLength="40.8" lengthAdjust="spacingAndGlyphs" fill="#262626" stroke="#262626" stroke-width="0.25" stroke-opacity="0.3">Macrophage</text>
<circle cx="287.50" cy="137.37" r="1.5" fill="#3a8a80"/>
<text x="291.70" y="140.06" font-size="7.5" textLength="17.6" lengthAdjust="spacingAndGlyphs" fill="#262626" stroke="#262626" stroke-width="0.25" stroke-opacity="0.3">CDP</text>
<circle cx="287.50" cy="147.64" r="1.5" fill="#8ab0a8"/>
<text x="291.70" y="150.32" font-size="7.5" textLength="19.2" lengthAdjust="spacingAndGlyphs" fill="#262626" stroke="#262626" stroke-width="0.25" stroke-opacity="0.3">cDC1</text>
<circle cx="287.50" cy="157.91" r="1.5" fill="#30a090"/>
<text x="291.70" y="160.59" font-size="7.5" textLength="48.0" lengthAdjust="spacingAndGlyphs" fill="#262626" stroke="#262626" stroke-width="0.25" stroke-opacity="0.3">cDC2 (cycling)</text>
<circle cx="287.50" cy="168.18" r="1.5" fill="#60a0a0"/>
<text x="291.70" y="170.87" font-size="7.5" textLength="20.6" lengthAdjust="spacingAndGlyphs" fill="#262626" stroke="#262626" stroke-width="0.25" stroke-opacity="0.3">cDC2</text>
<circle cx="287.50" cy="178.45" r="1.5" fill="#6090b0"/>
<text x="291.70" y="181.13" font-size="7.5" textLength="21.8" lengthAdjust="spacingAndGlyphs" fill="#262626" stroke="#262626" stroke-width="0.25" stroke-opacity="0.3">MoDC</text>
<circle cx="287.50" cy="188.72" r="1.5" fill="#1a3a2a"/>
<text x="291.70" y="191.41" font-size="7.5" textLength="78.0" lengthAdjust="spacingAndGlyphs" fill="#262626" stroke="#262626" stroke-width="0.25" stroke-opacity="0.3">pre-pDC (myeloid origin)</text>
<circle cx="287.50" cy="198.99" r="1.5" fill="#2a5a4a"/>
<text x="291.70" y="201.68" font-size="7.5" textLength="81.8" lengthAdjust="spacingAndGlyphs" fill="#262626" stroke="#262626" stroke-width="0.25" stroke-opacity="0.3">pre-pDC (lymphoid origin)</text>
<circle cx="287.50" cy="209.26" r="1.5" fill="#90c0c0"/>
<text x="291.70" y="211.94" font-size="7.5" textLength="16.8" lengthAdjust="spacingAndGlyphs" fill="#262626" stroke="#262626" stroke-width="0.25" stroke-opacity="0.3">pDC</text>
<circle cx="287.50" cy="219.53" r="1.5" fill="#3a3a4a"/>
<text x="291.70" y="222.22" font-size="7.5" textLength="28.6" lengthAdjust="spacingAndGlyphs" fill="#262626" stroke="#262626" stroke-width="0.25" stroke-opacity="0.3">Mast cell</text>
<circle cx="399.80" cy="24.40" r="1.5" fill="#3a1a20"/>
<text x="403.70" y="27.08" font-size="7.5" textLength="43.2" lengthAdjust="spacingAndGlyphs" fill="#262626" stroke="#262626" stroke-width="0.25" stroke-opacity="0.3">CD34+ MEP</text>
<circle cx="399.80" cy="34.67" r="1.5" fill="#6a1a2a"/>
<text x="403.70" y="37.36" font-size="7.5" textLength="81.6" lengthAdjust="spacingAndGlyphs" fill="#262626" stroke="#262626" stroke-width="0.25" stroke-opacity="0.3">Megakaryocyte progenitor</text>
<circle cx="399.80" cy="44.94" r="1.5" fill="#e0a0b0"/>
<text x="403.70" y="47.62" font-size="7.5" textLength="24.2" lengthAdjust="spacingAndGlyphs" fill="#262626" stroke="#262626" stroke-width="0.25" stroke-opacity="0.3">Platelet</text>
<circle cx="399.80" cy="55.21" r="1.5" fill="#a06080"/>
<text x="403.70" y="57.89" font-size="7.5" textLength="80.4" lengthAdjust="spacingAndGlyphs" fill="#262626" stroke="#262626" stroke-width="0.25" stroke-opacity="0.3">Early SOX4+ erythroblast</text>
<circle cx="399.80" cy="65.48" r="1.5" fill="#c06080"/>
<text x="403.70" y="68.16" font-size="7.5" textLength="110.4" lengthAdjust="spacingAndGlyphs" fill="#262626" stroke="#262626" stroke-width="0.25" stroke-opacity="0.3">Intermediate EPCAM+ erythroblast</text>
<circle cx="399.80" cy="75.75" r="1.5" fill="#d07090"/>
<text x="403.70" y="78.44" font-size="7.5" textLength="95.4" lengthAdjust="spacingAndGlyphs" fill="#262626" stroke="#262626" stroke-width="0.25" stroke-opacity="0.3">Late hemoglobin+ erythroblast</text>
<circle cx="399.80" cy="86.02" r="1.5" fill="#4a3a5a"/>
<text x="403.70" y="88.70" font-size="7.5" textLength="47.4" lengthAdjust="spacingAndGlyphs" fill="#262626" stroke="#262626" stroke-width="0.25" stroke-opacity="0.3">CD34+ LMPP</text>
<circle cx="399.80" cy="96.29" r="1.5" fill="#5a4a6a"/>
<text x="403.70" y="98.97" font-size="7.5" textLength="44.0" lengthAdjust="spacingAndGlyphs" fill="#262626" stroke="#262626" stroke-width="0.25" stroke-opacity="0.3">CD34+ CLP</text>
<circle cx="399.80" cy="106.56" r="1.5" fill="#a080b0"/>
<text x="403.70" y="109.25" font-size="7.5" textLength="58.2" lengthAdjust="spacingAndGlyphs" fill="#262626" stroke="#262626" stroke-width="0.25" stroke-opacity="0.3">preB cell (cycling)</text>
<circle cx="399.80" cy="116.83" r="1.5" fill="#b090c0"/>
<text x="403.70" y="119.51" font-size="7.5" textLength="29.4" lengthAdjust="spacingAndGlyphs" fill="#262626" stroke="#262626" stroke-width="0.25" stroke-opacity="0.3">preB cell</text>
<circle cx="399.80" cy="127.10" r="1.5" fill="#9a7aaa"/>
<text x="403.70" y="129.78" font-size="7.5" textLength="58.2" lengthAdjust="spacingAndGlyphs" fill="#262626" stroke="#262626" stroke-width="0.25" stroke-opacity="0.3">proB cell (cycling)</text>
<circle cx="399.80" cy="137.37" r="1.5" fill="#a88ab8"/>
<text x="403.70" y="140.06" font-size="7.5" textLength="29.4" lengthAdjust="spacingAndGlyphs" fill="#262626" stroke="#262626" stroke-width="0.25" stroke-opacity="0.3">proB cell</text>
<circle cx="399.80" cy="147.64" r="1.5" fill="#d0a0c0"/>
<text x="403.70" y="150.32" font-size="7.5" textLength="47.0" lengthAdjust="spacingAndGlyphs" fill="#262626" stroke="#262626" stroke-width="0.25" stroke-opacity="0.3">Memory B cell</text>
<circle cx="399.80" cy="157.91" r="1.5" fill="#8a1a6a"/>
<text x="403.70" y="160.59" font-size="7.5" textLength="39.0" lengthAdjust="spacingAndGlyphs" fill="#262626" stroke="#262626" stroke-width="0.25" stroke-opacity="0.3">Plasma Cell</text>
<circle cx="399.80" cy="168.18" r="1.5" fill="#a04040"/>
<text x="403.70" y="170.87" font-size="7.5" textLength="59.4" lengthAdjust="spacingAndGlyphs" fill="#262626" stroke="#262626" stroke-width="0.25" stroke-opacity="0.3">T/NK cell (cycling)</text>
<circle cx="399.80" cy="178.45" r="1.5" fill="#e8d0c0"/>
<text x="403.70" y="181.13" font-size="7.5" textLength="15.8" lengthAdjust="spacingAndGlyphs" fill="#262626" stroke="#262626" stroke-width="0.25" stroke-opacity="0.3">Treg</text>
<circle cx="399.80" cy="188.72" r="1.5" fill="#e0c8b0"/>
<text x="403.70" y="191.41" font-size="7.5" textLength="64.6" lengthAdjust="spacingAndGlyphs" fill="#262626" stroke="#262626" stroke-width="0.25" stroke-opacity="0.3">GZMK+ CD8 T cell</text>
<circle cx="399.80" cy="198.99" r="1.5" fill="#e0b0b0"/>
<text x="403.70" y="201.68" font-size="7.5" textLength="37.6" lengthAdjust="spacingAndGlyphs" fill="#262626" stroke="#262626" stroke-width="0.25" stroke-opacity="0.3">CD16+ NK</text>
<circle cx="399.80" cy="209.26" r="1.5" fill="#f0c040"/>
<text x="403.70" y="211.94" font-size="7.5" textLength="25.6" lengthAdjust="spacingAndGlyphs" fill="#262626" stroke="#262626" stroke-width="0.25" stroke-opacity="0.3">Stromal</text>
<text x="7.00" y="248.78" font-size="10" font-weight="bold" fill="#111" stroke="#111" stroke-width="0.25">B</text>
<path d="M50.4,321.5 L51.5,319.2 L54.3,318.1 L58.6,316.8 L60.7,315.1 L63.9,312.8 L71.1,312.2 L82.1,314.0 L84.7,318.2 L86.3,327.7 L88.9,329.8 L90.2,337.1 L91.6,346.2 L89.4,349.8 L82.1,350.4 L74.7,351.1 L73.8,352.3 L73.4,347.3 L72.4,342.7 L70.9,339.2 L68.1,337.4 L63.2,335.0 L56.1,334.4 L51.1,333.8 L50.6,332.0 L50.3,328.6 L50.1,324.4Z" fill="#b1a48a"/>
<path d="M50.4,321.5 L51.5,319.2 L54.3,318.1 L58.6,316.8 L60.7,315.1 L63.9,312.8 L65.9,315.8 L65.2,321.9 L63.7,329.2 L63.2,335.0 L56.1,334.4 L51.1,333.8 L50.6,332.0 L50.3,328.6 L50.1,324.4Z" fill="#a07a7f"/>
<path d="M63.0,323.7 L69.2,319.5 L76.6,318.2 L82.1,318.2 L84.7,323.1 L86.1,331.0 L86.5,338.9 L83.9,343.8 L78.4,344.4 L74.0,346.2 L72.5,341.3 L70.3,337.7 L66.7,334.6 L63.0,332.2 L60.8,328.6Z" fill="#c3c48d"/>
<path d="M64.2,309.2 L70.2,307.5 L78.7,308.7 L82.8,309.1 L83.6,313.4 L82.1,317.6 L78.4,318.2 L71.1,318.2 L65.9,318.9 L62.2,320.1 L60.0,318.2 L61.5,315.2 L63.2,312.8Z" fill="#bd7068"/>
<path d="M79.0,271.4 L81.5,271.0 L81.8,272.8 L80.7,274.7 L80.3,276.9 L80.8,279.4 L81.8,283.1 L82.4,287.7 L82.9,293.4 L82.9,299.0 L82.5,303.7 L82.1,308.5 L78.7,308.7 L70.2,307.5 L64.2,309.2 L63.2,306.9 L61.7,303.4 L61.2,299.0 L61.4,294.3 L62.6,290.6 L64.3,287.7 L66.5,284.5 L68.8,281.7 L71.6,279.8 L75.0,278.9 L77.9,278.4 L79.0,276.6 L79.5,273.9Z" fill="#cdc587"/>
<path d="M61.1,293.9 L62.6,290.3 L64.5,287.3 L66.7,284.2 L68.9,281.8 L71.4,280.0 L71.8,285.4 L70.3,292.7 L69.6,300.6 L70.3,308.2 L64.2,309.2 L63.2,306.9 L61.7,303.4 L61.2,299.0Z" fill="#dea871"/>
<path d="M76.6,280.6 L80.8,279.4 L81.8,283.1 L82.4,287.7 L82.9,293.4 L82.9,299.0 L82.5,303.7 L82.1,308.5 L78.4,308.5 L76.9,297.6 L76.2,288.5Z" fill="#a3c398"/>
<path d="M86.7,282.0 L89.9,282.0 L92.7,283.1 L95.2,284.6 L95.9,286.3 L95.2,289.8 L94.1,292.2 L92.0,295.1 L89.2,297.4 L87.1,299.8 L85.3,300.9 L84.6,299.8 L85.3,295.6 L85.6,289.8 L85.4,285.1 L86.0,282.8Z" fill="#b9c88f"/>
<path d="M83.9,309.1 L85.8,307.9 L88.0,308.5 L89.3,310.3 L89.6,313.4 L89.1,316.4 L88.0,318.9 L86.1,319.8 L84.3,318.5 L83.2,315.2 L82.8,311.6Z" fill="#874e7c"/>
<path d="M85.8,313.4 L87.2,312.8 L88.3,314.0 L88.5,316.4 L87.6,318.2 L86.1,318.5 L85.6,316.4Z" fill="#5962a4"/>
<path d="M89.3,320.1 L91.0,320.4 L90.7,322.8 L89.4,322.5Z" fill="#5962a4"/>
<path d="M94.4,318.2 L96.1,317.9 L95.9,319.8 L94.6,320.1Z" fill="#5962a4"/>
<path d="M84.7,318.2 L87.6,320.7 L90.2,323.1 L92.0,326.7 L92.4,332.8 L91.3,337.7 L89.4,338.9 L88.0,331.0 L86.3,327.7Z" fill="#7c7f9b"/>
<path d="M74.7,344.4 L78.4,340.7 L83.9,339.5 L89.4,340.1 L91.6,344.4 L90.5,348.6 L85.8,348.6 L80.3,348.0 L75.5,348.0Z" fill="#a19c92"/>
<path d="M73.6,348.6 L77.3,348.0 L83.9,348.6 L90.2,349.2 L93.9,352.9 L93.1,359.6 L92.1,362.8 L89.5,365.0 L85.1,366.0 L80.0,365.0 L76.8,362.3 L74.3,358.1 L73.0,352.9Z" fill="#a1ae94"/>
<path d="M91.6,352.3 L94.7,352.6 L96.8,352.0 L99.3,352.0 L101.4,352.6 L102.5,354.4 L102.5,356.7 L101.4,357.9 L99.6,357.9 L98.2,357.3 L97.2,358.5 L97.9,360.2 L99.3,362.0 L100.7,363.7 L100.8,366.7 L99.6,368.4 L97.2,369.6 L95.4,369.6 L94.3,367.8 L93.3,365.5 L91.8,363.7 L90.9,359.6Z" fill="#6b709c"/>
<path d="M90.2,340.1 L92.0,338.9 L96.1,336.5 L100.5,334.8 L105.5,331.9 L109.7,330.7 L112.9,330.5 L113.3,332.8 L112.9,334.8 L109.7,335.9 L105.5,337.6 L101.9,340.1 L100.5,343.2 L101.9,345.6 L102.3,348.6 L99.7,350.8 L96.8,351.7 L93.1,352.3 L90.9,349.8 L90.2,345.0Z" fill="#5962a4"/>
<path d="M96.8,335.9 L100.5,332.8 L104.9,328.3 L105.4,329.5 L101.2,334.0 L97.5,337.4Z" fill="#5962a4"/>
<path d="M94.4,324.6 L95.3,324.9 L94.8,330.4 L93.5,335.9 L92.2,336.5 L93.3,330.4Z" fill="#5962a4"/>
<path d="M105.8,303.3 L107.9,301.1 L111.1,300.3 L116.4,301.1 L120.6,302.0 L122.7,303.3 L123.8,305.5 L123.3,307.7 L121.2,309.4 L120.1,312.0 L119.5,313.8 L121.2,320.9 L121.1,325.4 L123.6,329.5 L125.1,334.4 L125.8,339.3 L125.6,344.2 L124.1,347.5 L121.1,349.9 L117.2,350.3 L113.2,349.1 L110.2,346.7 L109.2,342.5 L109.2,337.7 L110.2,333.6 L111.7,330.3 L112.2,326.2 L111.1,321.9 L108.6,319.5 L106.3,317.3 L104.7,316.5 L102.6,313.0 L103.1,309.4 L103.7,306.8Z" fill="#545aa5"/>
<path d="M118.0,313.8 L119.6,313.4 L121.2,317.6 L121.2,320.9 L119.6,320.7 L118.5,317.0Z" fill="#5962a4"/>
<path d="M45.5,302.0 L46.4,302.0 L46.4,302.9 L45.5,302.9Z" fill="#5962a4"/>
<path d="M107.3,358.7 L109.3,357.7 L111.1,356.8 L112.2,357.0 L111.9,358.3 L110.0,359.3 L107.8,359.9Z" fill="#5962a4"/>
<path d="M102.7,348.3 L105.6,346.5 L106.4,347.1 L103.4,349.2Z" fill="#5962a4"/>
<path d="M102.1,347.4 L102.9,347.3 L102.9,348.1 L102.1,348.3Z" fill="#5962a4"/>
<path d="M114.4,368.3 L115.5,368.7 L115.4,369.6 L114.3,369.3Z" fill="#5962a4"/>
<path d="M81.9 292.7h1.1v1.1h-1.1zM83.4 292.1h1.1v1.1h-1.1zM84.0 289.4h1.1v1.1h-1.1zM82.1 285.0h1.1v1.1h-1.1zM82.0 289.7h1.1v1.1h-1.1zM83.5 295.8h1.1v1.1h-1.1zM108.0 338.2h1.1v1.1h-1.1zM107.0 318.0h1.1v1.1h-1.1zM115.1 324.6h1.1v1.1h-1.1zM69.3 285.0h1.1v1.1h-1.1zM66.9 325.9h1.1v1.1h-1.1zM59.8 315.4h1.1v1.1h-1.1zM83.5 364.2h1.1v1.1h-1.1zM61.0 300.7h1.1v1.1h-1.1zM79.0 292.7h1.1v1.1h-1.1zM68.9 334.0h1.1v1.1h-1.1zM73.7 279.1h1.1v1.1h-1.1zM72.8 303.6h1.1v1.1h-1.1zM83.2 334.6h1.1v1.1h-1.1zM81.7 321.8h1.1v1.1h-1.1zM72.8 328.7h1.1v1.1h-1.1zM80.6 331.4h1.1v1.1h-1.1zM63.8 301.2h1.1v1.1h-1.1zM77.5 306.9h1.1v1.1h-1.1zM65.8 332.7h1.1v1.1h-1.1zM85.3 351.4h1.1v1.1h-1.1zM88.9 341.6h1.1v1.1h-1.1zM63.0 296.3h1.1v1.1h-1.1zM76.0 346.2h1.1v1.1h-1.1zM77.8 329.9h1.1v1.1h-1.1zM72.3 316.6h1.1v1.1h-1.1zM78.3 337.8h1.1v1.1h-1.1zM65.6 331.5h1.1v1.1h-1.1zM75.1 295.9h1.1v1.1h-1.1zM77.0 322.6h1.1v1.1h-1.1zM78.6 326.4h1.1v1.1h-1.1zM77.3 325.8h1.1v1.1h-1.1zM87.3 338.2h1.1v1.1h-1.1zM82.5 328.2h1.1v1.1h-1.1zM85.6 291.0h1.1v1.1h-1.1zM79.0 345.3h1.1v1.1h-1.1zM85.3 331.1h1.1v1.1h-1.1zM67.2 334.0h1.1v1.1h-1.1zM88.4 343.2h1.1v1.1h-1.1zM62.9 327.7h1.1v1.1h-1.1zM84.0 347.2h1.1v1.1h-1.1zM91.5 328.1h1.1v1.1h-1.1zM69.8 297.7h1.1v1.1h-1.1zM65.9 304.5h1.1v1.1h-1.1zM73.9 296.3h1.1v1.1h-1.1zM67.0 332.5h1.1v1.1h-1.1zM74.5 284.5h1.1v1.1h-1.1zM68.5 317.1h1.1v1.1h-1.1zM72.9 294.6h1.1v1.1h-1.1zM76.5 327.9h1.1v1.1h-1.1zM80.9 310.7h1.1v1.1h-1.1zM62.1 292.5h1.1v1.1h-1.1zM76.5 341.3h1.1v1.1h-1.1zM79.2 325.0h1.1v1.1h-1.1zM77.2 334.6h1.1v1.1h-1.1zM78.8 335.7h1.1v1.1h-1.1zM62.6 302.2h1.1v1.1h-1.1zM71.8 340.8h1.1v1.1h-1.1zM66.7 299.5h1.1v1.1h-1.1zM66.8 290.1h1.1v1.1h-1.1zM89.1 284.3h1.1v1.1h-1.1zM73.6 313.7h1.1v1.1h-1.1zM83.4 328.7h1.1v1.1h-1.1zM71.4 318.1h1.1v1.1h-1.1zM68.3 326.4h1.1v1.1h-1.1zM80.8 321.0h1.1v1.1h-1.1zM69.6 285.6h1.1v1.1h-1.1zM76.0 331.3h1.1v1.1h-1.1zM73.6 286.4h1.1v1.1h-1.1zM64.9 326.8h1.1v1.1h-1.1zM78.3 332.3h1.1v1.1h-1.1zM77.2 330.9h1.1v1.1h-1.1zM56.1 323.0h1.1v1.1h-1.1zM88.5 356.6h1.1v1.1h-1.1zM79.3 271.2h1.1v1.1h-1.1zM62.8 328.1h1.1v1.1h-1.1zM81.6 298.4h1.1v1.1h-1.1zM115.6 347.8h1.1v1.1h-1.1zM82.9 322.3h1.1v1.1h-1.1zM63.3 304.2h1.1v1.1h-1.1zM114.6 325.4h1.1v1.1h-1.1zM64.2 300.3h1.1v1.1h-1.1zM71.3 333.8h1.1v1.1h-1.1zM70.3 325.3h1.1v1.1h-1.1zM87.6 359.4h1.1v1.1h-1.1zM71.2 307.6h1.1v1.1h-1.1zM89.7 347.9h1.1v1.1h-1.1zM65.2 299.2h1.1v1.1h-1.1zM68.0 320.2h1.1v1.1h-1.1zM69.3 326.4h1.1v1.1h-1.1zM90.7 293.6h1.1v1.1h-1.1zM82.2 338.5h1.1v1.1h-1.1zM71.5 301.3h1.1v1.1h-1.1zM65.1 331.1h1.1v1.1h-1.1zM87.6 355.4h1.1v1.1h-1.1zM81.1 349.3h1.1v1.1h-1.1zM74.4 297.1h1.1v1.1h-1.1zM79.7 352.1h1.1v1.1h-1.1zM90.8 287.8h1.1v1.1h-1.1zM66.5 316.2h1.1v1.1h-1.1zM86.1 291.6h1.1v1.1h-1.1zM55.0 319.5h1.1v1.1h-1.1zM84.6 337.8h1.1v1.1h-1.1zM71.1 319.5h1.1v1.1h-1.1zM76.3 333.2h1.1v1.1h-1.1zM83.5 333.8h1.1v1.1h-1.1zM74.0 304.5h1.1v1.1h-1.1zM76.4 347.6h1.1v1.1h-1.1zM62.8 301.2h1.1v1.1h-1.1zM60.8 299.6h1.1v1.1h-1.1zM70.6 332.9h1.1v1.1h-1.1zM78.0 332.1h1.1v1.1h-1.1zM78.7 276.4h1.1v1.1h-1.1zM76.9 307.0h1.1v1.1h-1.1zM82.0 330.4h1.1v1.1h-1.1zM73.2 290.6h1.1v1.1h-1.1zM78.4 350.3h1.1v1.1h-1.1zM80.1 333.9h1.1v1.1h-1.1zM74.3 298.1h1.1v1.1h-1.1zM62.7 293.0h1.1v1.1h-1.1zM76.1 294.3h1.1v1.1h-1.1zM118.5 332.4h1.1v1.1h-1.1zM75.1 291.3h1.1v1.1h-1.1zM75.1 344.9h1.1v1.1h-1.1zM97.3 342.4h1.1v1.1h-1.1zM89.4 359.6h1.1v1.1h-1.1zM73.0 338.1h1.1v1.1h-1.1zM74.5 281.4h1.1v1.1h-1.1zM69.7 322.9h1.1v1.1h-1.1zM82.3 336.4h1.1v1.1h-1.1zM89.4 341.8h1.1v1.1h-1.1zM81.1 340.0h1.1v1.1h-1.1zM75.1 331.7h1.1v1.1h-1.1zM52.9 324.0h1.1v1.1h-1.1zM78.2 305.0h1.1v1.1h-1.1zM70.7 326.1h1.1v1.1h-1.1zM66.6 324.0h1.1v1.1h-1.1zM85.0 286.8h1.1v1.1h-1.1zM60.7 331.1h1.1v1.1h-1.1zM85.4 330.7h1.1v1.1h-1.1zM66.1 315.4h1.1v1.1h-1.1zM64.7 299.9h1.1v1.1h-1.1zM56.6 330.0h1.1v1.1h-1.1zM83.4 358.8h1.1v1.1h-1.1zM81.8 337.4h1.1v1.1h-1.1zM66.7 330.7h1.1v1.1h-1.1zM70.1 306.3h1.1v1.1h-1.1zM65.8 290.3h1.1v1.1h-1.1zM63.2 326.1h1.1v1.1h-1.1zM90.4 324.2h1.1v1.1h-1.1zM69.6 301.1h1.1v1.1h-1.1zM77.3 334.3h1.1v1.1h-1.1zM74.0 327.4h1.1v1.1h-1.1zM64.0 323.8h1.1v1.1h-1.1zM53.0 327.0h1.1v1.1h-1.1zM69.5 335.4h1.1v1.1h-1.1zM67.0 318.5h1.1v1.1h-1.1zM73.5 299.4h1.1v1.1h-1.1zM67.6 317.5h1.1v1.1h-1.1zM73.6 299.8h1.1v1.1h-1.1zM87.4 288.2h1.1v1.1h-1.1zM79.1 305.0h1.1v1.1h-1.1zM81.5 339.2h1.1v1.1h-1.1zM76.2 289.7h1.1v1.1h-1.1zM67.1 307.6h1.1v1.1h-1.1zM85.9 285.0h1.1v1.1h-1.1zM65.3 287.4h1.1v1.1h-1.1zM76.3 306.3h1.1v1.1h-1.1zM74.2 298.2h1.1v1.1h-1.1zM79.5 291.5h1.1v1.1h-1.1zM85.5 290.5h1.1v1.1h-1.1z" fill="#f4eb98"/>
<path d="M83.5 299.7h1.1v1.1h-1.1zM118.9 311.3h1.1v1.1h-1.1zM120.2 320.1h1.1v1.1h-1.1zM119.4 318.2h1.1v1.1h-1.1zM118.0 314.6h1.1v1.1h-1.1zM118.5 309.9h1.1v1.1h-1.1zM119.1 319.5h1.1v1.1h-1.1zM119.3 309.6h1.1v1.1h-1.1zM116.1 312.1h1.1v1.1h-1.1zM118.7 316.7h1.1v1.1h-1.1zM119.6 315.6h1.1v1.1h-1.1zM115.4 310.5h1.1v1.1h-1.1zM118.1 317.6h1.1v1.1h-1.1zM116.0 313.2h1.1v1.1h-1.1zM120.8 313.3h1.1v1.1h-1.1zM89.5 320.2h1.1v1.1h-1.1zM87.9 328.9h1.1v1.1h-1.1zM88.4 324.8h1.1v1.1h-1.1zM88.2 321.7h1.1v1.1h-1.1zM89.1 322.9h1.1v1.1h-1.1zM89.2 338.0h1.1v1.1h-1.1zM89.9 321.6h1.1v1.1h-1.1zM91.8 325.8h1.1v1.1h-1.1zM87.0 323.3h1.1v1.1h-1.1zM91.8 329.2h1.1v1.1h-1.1zM85.7 323.8h1.1v1.1h-1.1zM89.5 330.6h1.1v1.1h-1.1zM90.9 334.7h1.1v1.1h-1.1zM87.6 331.6h1.1v1.1h-1.1zM88.2 332.7h1.1v1.1h-1.1zM87.6 334.2h1.1v1.1h-1.1zM89.9 328.2h1.1v1.1h-1.1zM86.4 325.6h1.1v1.1h-1.1zM88.2 322.1h1.1v1.1h-1.1zM88.9 323.3h1.1v1.1h-1.1zM89.4 330.8h1.1v1.1h-1.1zM89.1 322.3h1.1v1.1h-1.1zM87.8 327.2h1.1v1.1h-1.1zM89.9 335.5h1.1v1.1h-1.1zM85.8 318.7h1.1v1.1h-1.1zM90.2 329.8h1.1v1.1h-1.1zM90.1 325.5h1.1v1.1h-1.1zM99.3 323.0h1.1v1.1h-1.1zM95.1 323.5h1.1v1.1h-1.1zM108.5 327.7h1.1v1.1h-1.1zM94.9 323.1h1.1v1.1h-1.1zM97.3 322.4h1.1v1.1h-1.1zM106.5 325.0h1.1v1.1h-1.1zM94.1 326.5h1.1v1.1h-1.1zM103.2 324.8h1.1v1.1h-1.1zM100.9 321.3h1.1v1.1h-1.1zM96.9 322.3h1.1v1.1h-1.1zM97.6 322.8h1.1v1.1h-1.1zM110.2 335.2h1.1v1.1h-1.1zM103.9 346.7h1.1v1.1h-1.1zM109.3 339.0h1.1v1.1h-1.1zM111.9 337.8h1.1v1.1h-1.1zM105.5 341.7h1.1v1.1h-1.1zM102.1 338.7h1.1v1.1h-1.1zM111.7 343.7h1.1v1.1h-1.1zM106.1 337.7h1.1v1.1h-1.1zM96.3 342.2h1.1v1.1h-1.1zM110.0 344.9h1.1v1.1h-1.1zM100.9 343.1h1.1v1.1h-1.1zM105.7 340.5h1.1v1.1h-1.1zM107.4 345.5h1.1v1.1h-1.1zM107.6 340.9h1.1v1.1h-1.1zM101.7 346.6h1.1v1.1h-1.1zM104.6 343.8h1.1v1.1h-1.1zM107.6 335.9h1.1v1.1h-1.1zM109.4 342.3h1.1v1.1h-1.1zM112.5 340.5h1.1v1.1h-1.1zM99.9 344.1h1.1v1.1h-1.1zM104.9 345.3h1.1v1.1h-1.1zM111.5 336.9h1.1v1.1h-1.1zM96.4 340.7h1.1v1.1h-1.1zM117.7 323.3h1.1v1.1h-1.1zM115.9 319.3h1.1v1.1h-1.1zM108.6 324.2h1.1v1.1h-1.1zM109.9 321.9h1.1v1.1h-1.1zM115.1 326.8h1.1v1.1h-1.1zM110.5 321.8h1.1v1.1h-1.1zM114.4 319.8h1.1v1.1h-1.1zM115.8 321.5h1.1v1.1h-1.1zM119.1 321.2h1.1v1.1h-1.1zM108.1 322.4h1.1v1.1h-1.1zM108.3 324.5h1.1v1.1h-1.1zM113.9 328.2h1.1v1.1h-1.1zM115.1 326.7h1.1v1.1h-1.1zM110.3 322.7h1.1v1.1h-1.1zM115.9 321.4h1.1v1.1h-1.1zM112.0 322.1h1.1v1.1h-1.1zM112.1 329.1h1.1v1.1h-1.1zM118.1 321.2h1.1v1.1h-1.1zM115.7 325.0h1.1v1.1h-1.1zM112.0 331.1h1.1v1.1h-1.1zM108.2 326.2h1.1v1.1h-1.1zM118.7 319.8h1.1v1.1h-1.1zM106.1 320.5h1.1v1.1h-1.1zM110.7 323.9h1.1v1.1h-1.1zM107.4 319.4h1.1v1.1h-1.1zM105.9 321.3h1.1v1.1h-1.1zM113.6 319.2h1.1v1.1h-1.1zM118.3 320.4h1.1v1.1h-1.1zM112.7 325.3h1.1v1.1h-1.1zM112.9 321.0h1.1v1.1h-1.1zM116.4 325.9h1.1v1.1h-1.1zM112.7 323.5h1.1v1.1h-1.1zM108.2 322.2h1.1v1.1h-1.1zM115.5 327.3h1.1v1.1h-1.1zM119.6 320.8h1.1v1.1h-1.1zM110.5 325.1h1.1v1.1h-1.1zM117.6 317.4h1.1v1.1h-1.1zM110.9 326.1h1.1v1.1h-1.1zM108.5 322.0h1.1v1.1h-1.1zM109.0 326.2h1.1v1.1h-1.1zM111.0 325.1h1.1v1.1h-1.1zM112.5 324.9h1.1v1.1h-1.1zM118.3 316.4h1.1v1.1h-1.1zM115.6 325.0h1.1v1.1h-1.1zM116.2 316.9h1.1v1.1h-1.1zM93.1 322.1h1.1v1.1h-1.1zM91.4 323.6h1.1v1.1h-1.1zM94.3 322.8h1.1v1.1h-1.1zM93.3 322.0h1.1v1.1h-1.1zM85.7 319.9h1.1v1.1h-1.1zM91.5 321.1h1.1v1.1h-1.1zM95.0 320.7h1.1v1.1h-1.1zM90.6 320.1h1.1v1.1h-1.1zM94.5 321.1h1.1v1.1h-1.1zM93.1 323.4h1.1v1.1h-1.1zM90.2 319.6h1.1v1.1h-1.1zM84.6 321.4h1.1v1.1h-1.1zM117.8 326.6h1.1v1.1h-1.1zM111.4 340.3h1.1v1.1h-1.1zM111.1 330.2h1.1v1.1h-1.1zM76.3 349.9h1.1v1.1h-1.1zM117.2 338.1h1.1v1.1h-1.1zM115.8 302.4h1.1v1.1h-1.1zM98.2 343.5h1.1v1.1h-1.1zM98.2 352.5h1.1v1.1h-1.1zM92.6 357.7h1.1v1.1h-1.1zM121.0 330.0h1.1v1.1h-1.1zM95.1 348.1h1.1v1.1h-1.1zM110.8 316.9h1.1v1.1h-1.1zM94.3 360.4h1.1v1.1h-1.1zM91.4 346.2h1.1v1.1h-1.1zM61.0 300.2h1.1v1.1h-1.1zM110.4 300.9h1.1v1.1h-1.1zM66.6 330.3h1.1v1.1h-1.1zM120.1 308.4h1.1v1.1h-1.1zM76.3 348.6h1.1v1.1h-1.1zM117.6 348.8h1.1v1.1h-1.1zM110.0 344.7h1.1v1.1h-1.1zM80.3 314.9h1.1v1.1h-1.1zM99.3 337.4h1.1v1.1h-1.1zM68.3 310.9h1.1v1.1h-1.1zM96.3 359.5h1.1v1.1h-1.1zM113.5 312.9h1.1v1.1h-1.1zM114.8 334.0h1.1v1.1h-1.1zM85.5 313.4h1.1v1.1h-1.1zM108.3 315.5h1.1v1.1h-1.1zM112.2 309.1h1.1v1.1h-1.1zM53.3 318.0h1.1v1.1h-1.1zM116.1 313.1h1.1v1.1h-1.1zM97.1 339.1h1.1v1.1h-1.1zM79.5 347.9h1.1v1.1h-1.1zM118.4 310.8h1.1v1.1h-1.1zM116.8 309.7h1.1v1.1h-1.1zM54.8 328.6h1.1v1.1h-1.1zM108.3 303.9h1.1v1.1h-1.1zM112.5 315.2h1.1v1.1h-1.1zM87.6 343.6h1.1v1.1h-1.1zM111.4 340.1h1.1v1.1h-1.1zM98.6 364.3h1.1v1.1h-1.1zM96.4 358.8h1.1v1.1h-1.1zM96.2 368.5h1.1v1.1h-1.1zM113.2 309.4h1.1v1.1h-1.1zM114.0 343.1h1.1v1.1h-1.1zM120.3 301.7h1.1v1.1h-1.1zM93.2 342.0h1.1v1.1h-1.1zM86.7 348.8h1.1v1.1h-1.1zM52.2 331.6h1.1v1.1h-1.1zM102.1 331.3h1.1v1.1h-1.1zM114.5 335.8h1.1v1.1h-1.1zM74.3 329.2h1.1v1.1h-1.1zM78.2 361.8h1.1v1.1h-1.1zM107.7 335.8h1.1v1.1h-1.1zM110.3 302.0h1.1v1.1h-1.1zM112.1 338.8h1.1v1.1h-1.1zM86.2 309.1h1.1v1.1h-1.1zM113.1 331.1h1.1v1.1h-1.1zM114.4 310.6h1.1v1.1h-1.1zM104.1 314.2h1.1v1.1h-1.1zM114.1 338.0h1.1v1.1h-1.1zM101.1 335.2h1.1v1.1h-1.1zM92.2 359.5h1.1v1.1h-1.1zM84.5 360.3h1.1v1.1h-1.1zM97.3 361.3h1.1v1.1h-1.1zM85.6 314.3h1.1v1.1h-1.1zM102.2 331.7h1.1v1.1h-1.1zM115.2 335.2h1.1v1.1h-1.1zM118.5 345.8h1.1v1.1h-1.1zM118.4 333.4h1.1v1.1h-1.1zM88.1 316.3h1.1v1.1h-1.1zM111.7 308.7h1.1v1.1h-1.1zM108.8 358.2h1.1v1.1h-1.1zM105.2 332.3h1.1v1.1h-1.1zM117.6 332.1h1.1v1.1h-1.1zM122.1 334.4h1.1v1.1h-1.1zM117.5 342.5h1.1v1.1h-1.1zM96.3 365.4h1.1v1.1h-1.1zM77.5 308.0h1.1v1.1h-1.1zM118.7 330.3h1.1v1.1h-1.1zM93.8 343.3h1.1v1.1h-1.1zM112.6 337.1h1.1v1.1h-1.1zM86.9 315.3h1.1v1.1h-1.1zM55.0 328.6h1.1v1.1h-1.1zM86.1 331.2h1.1v1.1h-1.1zM119.6 332.5h1.1v1.1h-1.1zM83.7 346.0h1.1v1.1h-1.1zM121.2 305.6h1.1v1.1h-1.1zM76.7 361.8h1.1v1.1h-1.1zM92.0 349.8h1.1v1.1h-1.1zM117.2 314.6h1.1v1.1h-1.1zM120.0 338.9h1.1v1.1h-1.1zM96.5 339.9h1.1v1.1h-1.1zM62.8 325.1h1.1v1.1h-1.1zM110.3 335.2h1.1v1.1h-1.1zM121.9 304.0h1.1v1.1h-1.1zM67.7 318.2h1.1v1.1h-1.1zM114.9 304.1h1.1v1.1h-1.1zM108.2 334.4h1.1v1.1h-1.1zM119.1 329.6h1.1v1.1h-1.1zM73.2 297.6h1.1v1.1h-1.1zM89.9 329.8h1.1v1.1h-1.1zM89.2 340.4h1.1v1.1h-1.1zM105.8 316.4h1.1v1.1h-1.1zM116.3 327.5h1.1v1.1h-1.1zM116.4 332.2h1.1v1.1h-1.1zM98.4 361.4h1.1v1.1h-1.1zM113.6 343.0h1.1v1.1h-1.1zM73.2 350.4h1.1v1.1h-1.1zM74.4 347.5h1.1v1.1h-1.1zM96.1 368.1h1.1v1.1h-1.1zM89.0 338.8h1.1v1.1h-1.1zM57.2 326.2h1.1v1.1h-1.1zM84.4 315.7h1.1v1.1h-1.1zM105.2 316.3h1.1v1.1h-1.1zM93.2 332.6h1.1v1.1h-1.1zM98.9 362.8h1.1v1.1h-1.1zM99.4 342.8h1.1v1.1h-1.1zM113.6 322.8h1.1v1.1h-1.1zM123.0 329.3h1.1v1.1h-1.1zM118.8 313.7h1.1v1.1h-1.1zM95.8 350.4h1.1v1.1h-1.1zM68.4 318.7h1.1v1.1h-1.1zM87.6 308.6h1.1v1.1h-1.1zM106.3 304.9h1.1v1.1h-1.1zM113.7 329.4h1.1v1.1h-1.1zM85.4 314.4h1.1v1.1h-1.1zM95.2 338.2h1.1v1.1h-1.1zM75.8 356.6h1.1v1.1h-1.1zM95.8 341.7h1.1v1.1h-1.1zM75.2 326.8h1.1v1.1h-1.1zM53.8 331.5h1.1v1.1h-1.1zM73.6 287.4h1.1v1.1h-1.1zM76.4 298.9h1.1v1.1h-1.1zM118.6 331.1h1.1v1.1h-1.1zM97.4 356.0h1.1v1.1h-1.1zM64.9 331.6h1.1v1.1h-1.1zM93.8 284.5h1.1v1.1h-1.1zM111.6 315.8h1.1v1.1h-1.1zM118.6 317.7h1.1v1.1h-1.1zM107.1 333.0h1.1v1.1h-1.1zM96.9 346.7h1.1v1.1h-1.1zM102.9 333.5h1.1v1.1h-1.1zM88.6 315.1h1.1v1.1h-1.1zM119.5 318.5h1.1v1.1h-1.1zM121.3 302.9h1.1v1.1h-1.1zM97.3 335.5h1.1v1.1h-1.1zM120.2 308.9h1.1v1.1h-1.1zM116.2 313.7h1.1v1.1h-1.1zM116.5 327.9h1.1v1.1h-1.1zM99.8 347.2h1.1v1.1h-1.1zM86.0 315.4h1.1v1.1h-1.1zM83.2 314.4h1.1v1.1h-1.1zM79.7 283.0h1.1v1.1h-1.1zM96.9 367.1h1.1v1.1h-1.1zM83.4 315.7h1.1v1.1h-1.1zM88.8 319.6h1.1v1.1h-1.1zM94.2 354.6h1.1v1.1h-1.1zM73.0 335.3h1.1v1.1h-1.1zM101.3 337.1h1.1v1.1h-1.1zM116.5 323.6h1.1v1.1h-1.1zM112.5 308.7h1.1v1.1h-1.1zM118.4 302.1h1.1v1.1h-1.1zM61.6 323.4h1.1v1.1h-1.1zM88.1 358.6h1.1v1.1h-1.1zM58.4 317.9h1.1v1.1h-1.1zM73.7 349.6h1.1v1.1h-1.1zM93.2 361.4h1.1v1.1h-1.1zM61.4 321.1h1.1v1.1h-1.1zM115.7 326.1h1.1v1.1h-1.1zM96.2 354.9h1.1v1.1h-1.1zM104.7 307.4h1.1v1.1h-1.1zM114.3 320.8h1.1v1.1h-1.1zM117.4 348.3h1.1v1.1h-1.1zM66.2 325.8h1.1v1.1h-1.1zM98.3 341.1h1.1v1.1h-1.1zM85.5 328.2h1.1v1.1h-1.1zM96.2 353.1h1.1v1.1h-1.1zM105.9 334.1h1.1v1.1h-1.1zM99.5 337.4h1.1v1.1h-1.1zM56.6 332.6h1.1v1.1h-1.1zM62.7 320.5h1.1v1.1h-1.1zM122.3 336.5h1.1v1.1h-1.1zM117.6 327.6h1.1v1.1h-1.1zM55.0 325.9h1.1v1.1h-1.1zM110.1 344.2h1.1v1.1h-1.1zM95.5 360.4h1.1v1.1h-1.1zM107.5 335.3h1.1v1.1h-1.1zM117.6 321.2h1.1v1.1h-1.1zM92.5 347.7h1.1v1.1h-1.1zM111.4 312.8h1.1v1.1h-1.1zM110.8 337.8h1.1v1.1h-1.1zM81.0 312.3h1.1v1.1h-1.1zM116.7 327.8h1.1v1.1h-1.1zM111.6 318.2h1.1v1.1h-1.1zM56.3 329.5h1.1v1.1h-1.1zM114.1 332.8h1.1v1.1h-1.1zM88.0 343.5h1.1v1.1h-1.1zM69.0 330.2h1.1v1.1h-1.1zM112.5 330.8h1.1v1.1h-1.1zM113.1 332.6h1.1v1.1h-1.1zM83.4 356.6h1.1v1.1h-1.1zM75.1 344.2h1.1v1.1h-1.1zM86.4 315.9h1.1v1.1h-1.1zM112.2 325.6h1.1v1.1h-1.1zM82.5 347.2h1.1v1.1h-1.1zM99.9 339.6h1.1v1.1h-1.1zM52.0 330.1h1.1v1.1h-1.1zM108.3 330.9h1.1v1.1h-1.1zM105.9 308.3h1.1v1.1h-1.1zM118.2 313.3h1.1v1.1h-1.1zM53.2 318.0h1.1v1.1h-1.1zM89.8 284.2h1.1v1.1h-1.1zM87.9 337.7h1.1v1.1h-1.1zM115.3 304.7h1.1v1.1h-1.1zM114.0 319.6h1.1v1.1h-1.1zM95.9 353.4h1.1v1.1h-1.1zM104.6 333.6h1.1v1.1h-1.1zM111.1 312.1h1.1v1.1h-1.1zM73.0 284.5h1.1v1.1h-1.1zM91.1 352.8h1.1v1.1h-1.1zM109.0 342.8h1.1v1.1h-1.1zM116.9 310.8h1.1v1.1h-1.1zM93.5 348.6h1.1v1.1h-1.1zM98.7 345.6h1.1v1.1h-1.1zM50.6 326.9h1.1v1.1h-1.1zM90.3 324.8h1.1v1.1h-1.1zM123.5 342.4h1.1v1.1h-1.1zM92.4 350.2h1.1v1.1h-1.1zM117.4 330.1h1.1v1.1h-1.1zM120.2 302.0h1.1v1.1h-1.1zM89.0 363.5h1.1v1.1h-1.1zM94.0 286.1h1.1v1.1h-1.1zM118.2 334.6h1.1v1.1h-1.1zM95.3 362.6h1.1v1.1h-1.1zM119.8 324.0h1.1v1.1h-1.1zM90.2 327.4h1.1v1.1h-1.1zM112.1 332.9h1.1v1.1h-1.1zM94.4 366.7h1.1v1.1h-1.1zM79.6 351.2h1.1v1.1h-1.1zM123.9 332.4h1.1v1.1h-1.1zM80.1 309.5h1.1v1.1h-1.1zM76.7 286.3h1.1v1.1h-1.1zM122.9 338.0h1.1v1.1h-1.1zM88.4 346.3h1.1v1.1h-1.1zM113.0 340.5h1.1v1.1h-1.1zM85.1 295.1h1.1v1.1h-1.1zM111.7 306.8h1.1v1.1h-1.1zM73.9 320.5h1.1v1.1h-1.1zM118.4 319.0h1.1v1.1h-1.1zM98.7 365.4h1.1v1.1h-1.1zM111.0 331.6h1.1v1.1h-1.1zM104.1 305.6h1.1v1.1h-1.1zM93.7 366.2h1.1v1.1h-1.1zM112.7 334.8h1.1v1.1h-1.1zM98.4 354.8h1.1v1.1h-1.1zM108.4 330.7h1.1v1.1h-1.1zM106.9 303.5h1.1v1.1h-1.1zM66.9 329.2h1.1v1.1h-1.1zM77.6 309.0h1.1v1.1h-1.1zM85.5 359.5h1.1v1.1h-1.1zM77.9 353.9h1.1v1.1h-1.1zM70.7 307.8h1.1v1.1h-1.1zM117.0 301.0h1.1v1.1h-1.1zM86.2 312.6h1.1v1.1h-1.1zM94.5 318.1h1.1v1.1h-1.1zM97.9 336.7h1.1v1.1h-1.1zM68.9 328.9h1.1v1.1h-1.1zM108.8 318.7h1.1v1.1h-1.1zM122.5 337.7h1.1v1.1h-1.1zM117.8 301.7h1.1v1.1h-1.1zM66.9 336.0h1.1v1.1h-1.1zM78.7 363.0h1.1v1.1h-1.1zM116.0 309.4h1.1v1.1h-1.1zM99.1 333.5h1.1v1.1h-1.1zM83.7 321.0h1.1v1.1h-1.1zM72.3 329.3h1.1v1.1h-1.1zM92.5 359.0h1.1v1.1h-1.1zM83.5 348.3h1.1v1.1h-1.1zM71.8 315.9h1.1v1.1h-1.1zM85.4 362.9h1.1v1.1h-1.1zM76.7 357.4h1.1v1.1h-1.1zM102.8 329.8h1.1v1.1h-1.1zM111.4 310.6h1.1v1.1h-1.1zM93.4 344.0h1.1v1.1h-1.1zM107.9 333.8h1.1v1.1h-1.1zM100.3 343.8h1.1v1.1h-1.1zM119.5 331.6h1.1v1.1h-1.1zM111.3 317.8h1.1v1.1h-1.1zM118.1 329.6h1.1v1.1h-1.1zM110.6 307.1h1.1v1.1h-1.1zM91.2 293.6h1.1v1.1h-1.1zM117.7 345.5h1.1v1.1h-1.1zM115.3 304.7h1.1v1.1h-1.1zM84.4 327.5h1.1v1.1h-1.1zM81.8 359.3h1.1v1.1h-1.1zM86.2 360.8h1.1v1.1h-1.1zM69.2 312.5h1.1v1.1h-1.1zM97.4 346.7h1.1v1.1h-1.1zM79.3 362.0h1.1v1.1h-1.1zM88.0 330.7h1.1v1.1h-1.1zM100.9 334.8h1.1v1.1h-1.1zM76.8 285.2h1.1v1.1h-1.1zM103.7 313.1h1.1v1.1h-1.1zM96.3 352.5h1.1v1.1h-1.1zM117.9 329.9h1.1v1.1h-1.1zM59.7 332.9h1.1v1.1h-1.1zM119.1 338.3h1.1v1.1h-1.1zM117.7 338.6h1.1v1.1h-1.1zM117.6 333.0h1.1v1.1h-1.1zM67.8 326.9h1.1v1.1h-1.1zM113.6 335.3h1.1v1.1h-1.1zM92.5 344.7h1.1v1.1h-1.1zM114.7 310.3h1.1v1.1h-1.1zM105.6 316.5h1.1v1.1h-1.1zM96.9 346.8h1.1v1.1h-1.1zM79.8 345.0h1.1v1.1h-1.1zM103.1 347.9h1.1v1.1h-1.1zM124.9 343.0h1.1v1.1h-1.1zM108.5 306.4h1.1v1.1h-1.1zM119.8 306.4h1.1v1.1h-1.1zM93.8 326.3h1.1v1.1h-1.1zM121.4 338.1h1.1v1.1h-1.1zM120.7 330.5h1.1v1.1h-1.1zM91.3 326.5h1.1v1.1h-1.1zM88.2 311.8h1.1v1.1h-1.1zM80.6 307.7h1.1v1.1h-1.1zM78.2 351.7h1.1v1.1h-1.1zM84.6 360.2h1.1v1.1h-1.1zM65.8 316.0h1.1v1.1h-1.1zM89.9 356.2h1.1v1.1h-1.1zM112.5 338.2h1.1v1.1h-1.1zM105.8 303.3h1.1v1.1h-1.1zM112.7 325.5h1.1v1.1h-1.1zM106.2 302.5h1.1v1.1h-1.1zM123.9 339.3h1.1v1.1h-1.1zM78.3 358.1h1.1v1.1h-1.1zM114.7 334.8h1.1v1.1h-1.1zM94.5 356.4h1.1v1.1h-1.1zM80.8 310.2h1.1v1.1h-1.1zM95.9 352.4h1.1v1.1h-1.1zM116.3 330.2h1.1v1.1h-1.1zM85.5 344.3h1.1v1.1h-1.1zM119.0 328.0h1.1v1.1h-1.1zM83.2 344.1h1.1v1.1h-1.1zM119.5 341.1h1.1v1.1h-1.1zM88.5 312.3h1.1v1.1h-1.1zM117.3 317.9h1.1v1.1h-1.1zM51.4 320.4h1.1v1.1h-1.1zM114.8 336.7h1.1v1.1h-1.1zM123.0 329.1h1.1v1.1h-1.1zM79.0 291.5h1.1v1.1h-1.1zM52.7 331.2h1.1v1.1h-1.1zM119.4 310.7h1.1v1.1h-1.1zM119.5 341.4h1.1v1.1h-1.1zM84.0 310.6h1.1v1.1h-1.1zM79.2 340.5h1.1v1.1h-1.1zM65.6 313.7h1.1v1.1h-1.1zM107.5 300.7h1.1v1.1h-1.1zM88.4 293.5h1.1v1.1h-1.1zM81.1 348.3h1.1v1.1h-1.1zM104.3 305.4h1.1v1.1h-1.1zM93.3 354.9h1.1v1.1h-1.1zM120.2 340.9h1.1v1.1h-1.1zM121.0 347.9h1.1v1.1h-1.1zM113.3 328.8h1.1v1.1h-1.1zM117.1 319.4h1.1v1.1h-1.1zM107.6 302.7h1.1v1.1h-1.1zM116.9 316.7h1.1v1.1h-1.1zM83.3 339.9h1.1v1.1h-1.1zM119.3 303.7h1.1v1.1h-1.1zM116.6 342.9h1.1v1.1h-1.1zM94.4 350.0h1.1v1.1h-1.1zM60.4 323.3h1.1v1.1h-1.1zM111.9 324.4h1.1v1.1h-1.1zM93.3 354.0h1.1v1.1h-1.1zM94.8 367.7h1.1v1.1h-1.1zM85.8 335.1h1.1v1.1h-1.1zM111.9 307.9h1.1v1.1h-1.1zM114.5 339.7h1.1v1.1h-1.1zM122.2 340.4h1.1v1.1h-1.1zM107.1 311.9h1.1v1.1h-1.1zM93.1 330.2h1.1v1.1h-1.1zM113.8 348.0h1.1v1.1h-1.1zM122.8 335.8h1.1v1.1h-1.1zM80.2 319.5h1.1v1.1h-1.1zM121.0 345.8h1.1v1.1h-1.1zM99.4 348.6h1.1v1.1h-1.1zM108.5 332.6h1.1v1.1h-1.1zM76.5 354.7h1.1v1.1h-1.1zM107.2 331.5h1.1v1.1h-1.1zM117.8 347.0h1.1v1.1h-1.1zM104.1 332.5h1.1v1.1h-1.1zM114.7 302.3h1.1v1.1h-1.1zM107.8 313.6h1.1v1.1h-1.1zM92.1 355.2h1.1v1.1h-1.1zM109.0 316.9h1.1v1.1h-1.1zM78.5 344.6h1.1v1.1h-1.1zM69.8 321.6h1.1v1.1h-1.1zM110.5 340.4h1.1v1.1h-1.1zM80.8 356.2h1.1v1.1h-1.1zM87.5 336.3h1.1v1.1h-1.1zM104.5 306.9h1.1v1.1h-1.1zM63.5 293.1h1.1v1.1h-1.1zM105.4 346.7h1.1v1.1h-1.1zM91.4 358.8h1.1v1.1h-1.1zM116.9 317.0h1.1v1.1h-1.1zM74.1 316.9h1.1v1.1h-1.1zM104.4 337.2h1.1v1.1h-1.1zM97.4 339.1h1.1v1.1h-1.1zM79.4 352.3h1.1v1.1h-1.1zM98.9 345.7h1.1v1.1h-1.1zM71.0 285.0h1.1v1.1h-1.1zM116.1 325.7h1.1v1.1h-1.1zM115.5 302.2h1.1v1.1h-1.1zM81.3 286.0h1.1v1.1h-1.1zM58.5 333.6h1.1v1.1h-1.1zM66.5 284.8h1.1v1.1h-1.1zM79.1 316.8h1.1v1.1h-1.1zM87.2 357.2h1.1v1.1h-1.1zM117.3 334.4h1.1v1.1h-1.1zM103.3 348.0h1.1v1.1h-1.1zM73.8 308.4h1.1v1.1h-1.1zM82.9 351.1h1.1v1.1h-1.1zM99.1 334.8h1.1v1.1h-1.1zM116.4 340.2h1.1v1.1h-1.1zM112.9 312.8h1.1v1.1h-1.1zM79.4 350.1h1.1v1.1h-1.1zM97.3 367.5h1.1v1.1h-1.1zM116.4 309.7h1.1v1.1h-1.1zM110.8 312.4h1.1v1.1h-1.1zM83.9 346.2h1.1v1.1h-1.1zM97.5 349.4h1.1v1.1h-1.1zM68.3 310.5h1.1v1.1h-1.1zM118.8 316.6h1.1v1.1h-1.1zM105.9 313.3h1.1v1.1h-1.1zM96.3 345.7h1.1v1.1h-1.1zM118.3 305.6h1.1v1.1h-1.1zM122.6 307.1h1.1v1.1h-1.1zM119.9 306.6h1.1v1.1h-1.1zM65.8 312.8h1.1v1.1h-1.1zM114.2 337.3h1.1v1.1h-1.1zM114.8 301.3h1.1v1.1h-1.1zM112.7 305.2h1.1v1.1h-1.1zM96.1 347.4h1.1v1.1h-1.1zM116.7 341.1h1.1v1.1h-1.1zM113.4 313.1h1.1v1.1h-1.1zM118.4 337.2h1.1v1.1h-1.1zM115.6 332.6h1.1v1.1h-1.1zM109.5 316.6h1.1v1.1h-1.1zM90.0 343.7h1.1v1.1h-1.1zM103.1 336.4h1.1v1.1h-1.1zM101.0 335.4h1.1v1.1h-1.1zM117.2 304.2h1.1v1.1h-1.1zM84.4 299.3h1.1v1.1h-1.1zM115.3 308.2h1.1v1.1h-1.1zM110.6 332.4h1.1v1.1h-1.1zM90.2 335.6h1.1v1.1h-1.1zM108.9 358.3h1.1v1.1h-1.1zM121.8 331.3h1.1v1.1h-1.1zM114.3 318.0h1.1v1.1h-1.1zM110.5 357.9h1.1v1.1h-1.1zM81.8 344.3h1.1v1.1h-1.1zM97.4 345.0h1.1v1.1h-1.1zM97.4 343.7h1.1v1.1h-1.1zM93.4 344.7h1.1v1.1h-1.1zM93.6 329.2h1.1v1.1h-1.1zM89.1 333.4h1.1v1.1h-1.1zM107.4 318.2h1.1v1.1h-1.1zM119.5 320.2h1.1v1.1h-1.1zM89.5 320.4h1.1v1.1h-1.1zM80.9 349.8h1.1v1.1h-1.1zM109.0 306.4h1.1v1.1h-1.1zM92.5 334.1h1.1v1.1h-1.1zM118.5 338.6h1.1v1.1h-1.1zM113.7 307.4h1.1v1.1h-1.1zM59.5 327.3h1.1v1.1h-1.1zM122.1 305.6h1.1v1.1h-1.1zM115.8 344.1h1.1v1.1h-1.1zM117.2 305.3h1.1v1.1h-1.1zM113.0 339.5h1.1v1.1h-1.1zM76.5 280.8h1.1v1.1h-1.1zM86.0 295.7h1.1v1.1h-1.1zM96.6 356.7h1.1v1.1h-1.1zM94.1 364.3h1.1v1.1h-1.1zM113.1 348.1h1.1v1.1h-1.1zM109.8 311.7h1.1v1.1h-1.1zM120.2 328.1h1.1v1.1h-1.1zM115.2 344.4h1.1v1.1h-1.1zM86.2 356.9h1.1v1.1h-1.1zM120.8 340.1h1.1v1.1h-1.1zM73.8 309.7h1.1v1.1h-1.1zM91.8 357.5h1.1v1.1h-1.1zM107.6 304.4h1.1v1.1h-1.1zM113.9 338.7h1.1v1.1h-1.1zM110.0 314.5h1.1v1.1h-1.1zM76.0 315.6h1.1v1.1h-1.1zM74.2 318.3h1.1v1.1h-1.1zM113.9 319.5h1.1v1.1h-1.1zM111.2 338.5h1.1v1.1h-1.1zM65.7 329.5h1.1v1.1h-1.1zM108.6 311.0h1.1v1.1h-1.1zM83.8 327.8h1.1v1.1h-1.1zM103.7 314.5h1.1v1.1h-1.1zM103.7 336.8h1.1v1.1h-1.1zM113.7 319.6h1.1v1.1h-1.1zM113.9 317.4h1.1v1.1h-1.1zM117.3 325.7h1.1v1.1h-1.1zM92.1 345.5h1.1v1.1h-1.1zM74.3 344.8h1.1v1.1h-1.1zM100.8 337.9h1.1v1.1h-1.1zM119.4 316.2h1.1v1.1h-1.1zM64.2 315.5h1.1v1.1h-1.1zM62.4 303.5h1.1v1.1h-1.1zM117.2 320.3h1.1v1.1h-1.1zM119.9 315.2h1.1v1.1h-1.1zM119.0 339.5h1.1v1.1h-1.1zM124.4 344.8h1.1v1.1h-1.1zM96.3 340.3h1.1v1.1h-1.1zM66.1 293.9h1.1v1.1h-1.1zM92.2 360.1h1.1v1.1h-1.1zM112.2 343.9h1.1v1.1h-1.1zM88.7 291.6h1.1v1.1h-1.1zM111.3 338.0h1.1v1.1h-1.1zM89.7 332.5h1.1v1.1h-1.1zM95.5 337.2h1.1v1.1h-1.1zM72.0 302.2h1.1v1.1h-1.1zM110.5 319.9h1.1v1.1h-1.1zM110.1 304.3h1.1v1.1h-1.1zM94.5 341.0h1.1v1.1h-1.1zM87.8 361.2h1.1v1.1h-1.1zM61.7 315.8h1.1v1.1h-1.1zM95.7 353.5h1.1v1.1h-1.1zM84.3 348.6h1.1v1.1h-1.1zM95.7 341.5h1.1v1.1h-1.1zM85.1 361.1h1.1v1.1h-1.1zM115.5 305.9h1.1v1.1h-1.1zM113.3 330.2h1.1v1.1h-1.1zM119.7 335.6h1.1v1.1h-1.1zM95.4 338.5h1.1v1.1h-1.1zM96.7 338.6h1.1v1.1h-1.1zM85.0 308.4h1.1v1.1h-1.1zM120.3 329.0h1.1v1.1h-1.1zM61.2 326.0h1.1v1.1h-1.1zM78.9 286.7h1.1v1.1h-1.1zM105.7 302.6h1.1v1.1h-1.1zM114.3 343.5h1.1v1.1h-1.1zM116.4 318.3h1.1v1.1h-1.1zM84.9 344.6h1.1v1.1h-1.1zM50.4 322.5h1.1v1.1h-1.1zM51.8 326.5h1.1v1.1h-1.1zM122.7 335.0h1.1v1.1h-1.1zM112.2 346.0h1.1v1.1h-1.1zM116.8 317.8h1.1v1.1h-1.1zM118.9 331.5h1.1v1.1h-1.1zM110.0 308.7h1.1v1.1h-1.1zM115.3 332.4h1.1v1.1h-1.1zM109.2 303.2h1.1v1.1h-1.1zM53.8 321.9h1.1v1.1h-1.1zM120.9 330.8h1.1v1.1h-1.1zM108.9 340.0h1.1v1.1h-1.1zM102.8 331.2h1.1v1.1h-1.1zM107.1 331.4h1.1v1.1h-1.1zM118.4 337.4h1.1v1.1h-1.1zM115.2 320.9h1.1v1.1h-1.1zM89.7 350.5h1.1v1.1h-1.1zM85.0 319.5h1.1v1.1h-1.1zM112.1 321.8h1.1v1.1h-1.1zM112.7 308.9h1.1v1.1h-1.1zM116.6 304.5h1.1v1.1h-1.1zM112.6 332.5h1.1v1.1h-1.1zM70.0 294.7h1.1v1.1h-1.1zM95.2 345.7h1.1v1.1h-1.1zM91.3 359.6h1.1v1.1h-1.1zM67.9 297.3h1.1v1.1h-1.1zM123.0 329.7h1.1v1.1h-1.1zM107.4 309.4h1.1v1.1h-1.1zM115.1 325.5h1.1v1.1h-1.1zM121.9 334.9h1.1v1.1h-1.1zM101.4 355.6h1.1v1.1h-1.1zM93.5 331.7h1.1v1.1h-1.1zM71.8 336.0h1.1v1.1h-1.1zM91.2 340.8h1.1v1.1h-1.1zM114.9 337.9h1.1v1.1h-1.1zM89.3 336.0h1.1v1.1h-1.1zM97.4 348.5h1.1v1.1h-1.1zM93.0 350.5h1.1v1.1h-1.1zM87.2 286.6h1.1v1.1h-1.1zM113.8 335.4h1.1v1.1h-1.1zM100.9 354.0h1.1v1.1h-1.1zM114.0 334.1h1.1v1.1h-1.1zM111.0 302.8h1.1v1.1h-1.1zM100.9 346.1h1.1v1.1h-1.1zM89.7 358.1h1.1v1.1h-1.1zM119.3 301.6h1.1v1.1h-1.1zM116.9 326.6h1.1v1.1h-1.1zM73.5 316.4h1.1v1.1h-1.1zM110.8 343.1h1.1v1.1h-1.1zM78.5 310.6h1.1v1.1h-1.1zM79.7 273.9h1.1v1.1h-1.1zM87.4 327.7h1.1v1.1h-1.1zM106.8 302.0h1.1v1.1h-1.1zM73.3 355.0h1.1v1.1h-1.1zM115.4 340.1h1.1v1.1h-1.1zM95.3 355.7h1.1v1.1h-1.1zM78.8 352.7h1.1v1.1h-1.1zM98.0 355.7h1.1v1.1h-1.1zM113.5 322.7h1.1v1.1h-1.1zM121.5 304.8h1.1v1.1h-1.1zM106.1 310.5h1.1v1.1h-1.1zM68.7 311.4h1.1v1.1h-1.1zM81.5 354.9h1.1v1.1h-1.1zM95.8 360.6h1.1v1.1h-1.1zM82.9 349.1h1.1v1.1h-1.1zM119.3 304.2h1.1v1.1h-1.1zM98.6 337.5h1.1v1.1h-1.1zM109.1 313.7h1.1v1.1h-1.1zM87.5 336.0h1.1v1.1h-1.1zM104.5 332.4h1.1v1.1h-1.1zM119.8 336.2h1.1v1.1h-1.1zM65.3 290.6h1.1v1.1h-1.1zM120.2 349.2h1.1v1.1h-1.1zM79.2 314.7h1.1v1.1h-1.1zM113.3 320.2h1.1v1.1h-1.1zM110.2 343.6h1.1v1.1h-1.1zM120.9 307.4h1.1v1.1h-1.1zM54.4 333.6h1.1v1.1h-1.1zM114.6 314.7h1.1v1.1h-1.1zM117.2 342.1h1.1v1.1h-1.1zM102.9 307.8h1.1v1.1h-1.1zM70.7 307.1h1.1v1.1h-1.1zM116.6 302.2h1.1v1.1h-1.1zM64.2 316.9h1.1v1.1h-1.1zM51.4 329.6h1.1v1.1h-1.1zM81.3 287.9h1.1v1.1h-1.1zM98.9 339.4h1.1v1.1h-1.1zM88.9 288.9h1.1v1.1h-1.1zM116.6 337.7h1.1v1.1h-1.1zM54.4 318.7h1.1v1.1h-1.1zM106.2 312.4h1.1v1.1h-1.1zM114.6 322.6h1.1v1.1h-1.1zM116.5 338.9h1.1v1.1h-1.1zM85.0 321.4h1.1v1.1h-1.1zM79.7 319.5h1.1v1.1h-1.1zM96.8 359.6h1.1v1.1h-1.1zM87.6 346.3h1.1v1.1h-1.1zM86.4 348.0h1.1v1.1h-1.1zM86.0 345.1h1.1v1.1h-1.1zM86.9 348.3h1.1v1.1h-1.1zM117.1 307.6h1.1v1.1h-1.1zM115.1 345.9h1.1v1.1h-1.1zM75.0 358.4h1.1v1.1h-1.1zM118.7 343.1h1.1v1.1h-1.1zM95.2 346.3h1.1v1.1h-1.1zM115.6 340.2h1.1v1.1h-1.1zM64.8 290.0h1.1v1.1h-1.1zM91.7 353.6h1.1v1.1h-1.1zM78.8 350.6h1.1v1.1h-1.1zM116.0 327.2h1.1v1.1h-1.1zM114.8 326.6h1.1v1.1h-1.1zM73.0 317.4h1.1v1.1h-1.1zM83.5 325.6h1.1v1.1h-1.1zM113.1 328.2h1.1v1.1h-1.1zM70.1 311.5h1.1v1.1h-1.1zM94.9 360.8h1.1v1.1h-1.1zM72.9 334.0h1.1v1.1h-1.1zM80.0 347.4h1.1v1.1h-1.1zM116.3 345.5h1.1v1.1h-1.1zM80.2 324.4h1.1v1.1h-1.1zM82.2 350.4h1.1v1.1h-1.1zM50.3 331.4h1.1v1.1h-1.1zM92.2 338.2h1.1v1.1h-1.1zM90.7 349.2h1.1v1.1h-1.1zM112.0 332.8h1.1v1.1h-1.1zM81.6 344.8h1.1v1.1h-1.1zM100.9 337.6h1.1v1.1h-1.1zM105.6 336.7h1.1v1.1h-1.1zM52.5 326.2h1.1v1.1h-1.1zM78.7 342.8h1.1v1.1h-1.1zM113.6 324.0h1.1v1.1h-1.1zM91.0 330.3h1.1v1.1h-1.1zM107.0 306.8h1.1v1.1h-1.1zM100.8 335.4h1.1v1.1h-1.1zM118.2 314.9h1.1v1.1h-1.1zM109.0 309.6h1.1v1.1h-1.1zM95.8 344.7h1.1v1.1h-1.1zM112.9 301.0h1.1v1.1h-1.1zM110.6 344.7h1.1v1.1h-1.1zM120.7 343.3h1.1v1.1h-1.1zM112.0 312.2h1.1v1.1h-1.1zM70.0 311.2h1.1v1.1h-1.1zM63.2 315.2h1.1v1.1h-1.1zM113.9 303.5h1.1v1.1h-1.1zM102.4 333.2h1.1v1.1h-1.1zM83.0 315.3h1.1v1.1h-1.1zM98.3 352.5h1.1v1.1h-1.1zM96.5 338.5h1.1v1.1h-1.1zM79.2 308.9h1.1v1.1h-1.1zM118.9 341.8h1.1v1.1h-1.1zM121.2 330.3h1.1v1.1h-1.1zM117.4 338.9h1.1v1.1h-1.1zM89.9 344.5h1.1v1.1h-1.1zM115.7 338.3h1.1v1.1h-1.1zM118.9 316.6h1.1v1.1h-1.1zM102.9 347.4h1.1v1.1h-1.1zM86.8 329.8h1.1v1.1h-1.1zM113.9 322.4h1.1v1.1h-1.1zM52.6 331.1h1.1v1.1h-1.1zM72.2 310.5h1.1v1.1h-1.1zM104.4 308.5h1.1v1.1h-1.1zM76.3 342.7h1.1v1.1h-1.1zM99.2 356.6h1.1v1.1h-1.1zM56.6 321.9h1.1v1.1h-1.1zM97.6 334.9h1.1v1.1h-1.1zM93.2 333.1h1.1v1.1h-1.1zM96.8 351.9h1.1v1.1h-1.1zM104.3 305.6h1.1v1.1h-1.1zM118.6 330.1h1.1v1.1h-1.1zM116.3 307.9h1.1v1.1h-1.1zM57.5 327.2h1.1v1.1h-1.1zM51.0 318.9h1.1v1.1h-1.1zM102.8 348.3h1.1v1.1h-1.1zM78.3 340.2h1.1v1.1h-1.1zM87.8 309.9h1.1v1.1h-1.1zM82.1 309.8h1.1v1.1h-1.1zM80.9 309.7h1.1v1.1h-1.1zM91.1 335.0h1.1v1.1h-1.1zM64.5 319.7h1.1v1.1h-1.1zM75.0 301.1h1.1v1.1h-1.1zM111.4 300.2h1.1v1.1h-1.1zM67.8 315.3h1.1v1.1h-1.1zM111.4 312.2h1.1v1.1h-1.1zM109.7 342.4h1.1v1.1h-1.1zM89.1 327.8h1.1v1.1h-1.1zM118.4 326.5h1.1v1.1h-1.1zM90.9 354.6h1.1v1.1h-1.1zM50.9 321.0h1.1v1.1h-1.1zM117.5 302.7h1.1v1.1h-1.1zM117.8 327.5h1.1v1.1h-1.1zM91.5 346.4h1.1v1.1h-1.1zM110.1 314.7h1.1v1.1h-1.1zM72.5 318.4h1.1v1.1h-1.1zM88.4 325.0h1.1v1.1h-1.1zM114.9 331.9h1.1v1.1h-1.1zM94.0 366.9h1.1v1.1h-1.1zM93.6 360.9h1.1v1.1h-1.1zM94.5 357.3h1.1v1.1h-1.1zM99.0 365.8h1.1v1.1h-1.1zM108.0 301.6h1.1v1.1h-1.1zM58.9 326.7h1.1v1.1h-1.1zM112.7 304.0h1.1v1.1h-1.1zM51.9 321.9h1.1v1.1h-1.1zM117.8 302.1h1.1v1.1h-1.1zM92.9 330.5h1.1v1.1h-1.1zM78.7 320.2h1.1v1.1h-1.1zM93.3 350.4h1.1v1.1h-1.1zM121.5 303.8h1.1v1.1h-1.1zM110.6 313.1h1.1v1.1h-1.1zM108.3 335.2h1.1v1.1h-1.1zM116.9 308.3h1.1v1.1h-1.1zM67.8 323.0h1.1v1.1h-1.1zM51.7 322.3h1.1v1.1h-1.1zM110.8 312.6h1.1v1.1h-1.1zM53.2 321.5h1.1v1.1h-1.1zM79.9 318.9h1.1v1.1h-1.1zM104.0 335.4h1.1v1.1h-1.1zM65.4 313.2h1.1v1.1h-1.1zM88.0 353.5h1.1v1.1h-1.1zM80.3 316.9h1.1v1.1h-1.1zM102.0 337.2h1.1v1.1h-1.1zM87.1 354.8h1.1v1.1h-1.1zM115.2 310.8h1.1v1.1h-1.1zM110.4 339.6h1.1v1.1h-1.1zM117.4 306.2h1.1v1.1h-1.1zM112.7 330.1h1.1v1.1h-1.1zM100.2 332.7h1.1v1.1h-1.1zM53.6 321.1h1.1v1.1h-1.1zM73.7 354.3h1.1v1.1h-1.1zM98.0 348.2h1.1v1.1h-1.1zM88.2 327.0h1.1v1.1h-1.1zM121.9 303.4h1.1v1.1h-1.1zM88.4 322.2h1.1v1.1h-1.1zM58.3 334.0h1.1v1.1h-1.1zM112.2 337.6h1.1v1.1h-1.1zM113.3 348.6h1.1v1.1h-1.1zM115.3 343.4h1.1v1.1h-1.1zM92.2 348.7h1.1v1.1h-1.1zM118.7 347.6h1.1v1.1h-1.1zM78.2 326.7h1.1v1.1h-1.1zM110.2 315.8h1.1v1.1h-1.1zM116.4 303.3h1.1v1.1h-1.1zM82.8 310.0h1.1v1.1h-1.1zM116.5 301.2h1.1v1.1h-1.1zM83.6 321.3h1.1v1.1h-1.1zM119.7 345.4h1.1v1.1h-1.1zM111.6 303.6h1.1v1.1h-1.1zM113.5 317.0h1.1v1.1h-1.1zM65.7 312.0h1.1v1.1h-1.1zM83.5 345.8h1.1v1.1h-1.1zM108.0 305.6h1.1v1.1h-1.1zM106.7 310.0h1.1v1.1h-1.1zM112.5 336.2h1.1v1.1h-1.1z" fill="#4f55a5"/>
<path d="M83.6 294.9h1.1v1.1h-1.1zM81.7 292.8h1.1v1.1h-1.1zM82.0 303.5h1.1v1.1h-1.1zM83.9 286.6h1.1v1.1h-1.1zM84.0 305.7h1.1v1.1h-1.1zM64.2 302.9h1.1v1.1h-1.1zM81.4 314.7h1.1v1.1h-1.1zM69.4 294.7h1.1v1.1h-1.1zM63.1 298.0h1.1v1.1h-1.1zM66.4 327.8h1.1v1.1h-1.1zM58.3 323.4h1.1v1.1h-1.1zM61.6 324.4h1.1v1.1h-1.1zM89.7 332.2h1.1v1.1h-1.1zM89.3 323.7h1.1v1.1h-1.1zM82.1 330.8h1.1v1.1h-1.1zM87.0 354.8h1.1v1.1h-1.1zM84.6 342.6h1.1v1.1h-1.1zM91.4 354.2h1.1v1.1h-1.1zM65.9 296.6h1.1v1.1h-1.1zM66.6 313.8h1.1v1.1h-1.1zM95.2 362.3h1.1v1.1h-1.1zM81.3 363.1h1.1v1.1h-1.1zM86.4 336.4h1.1v1.1h-1.1zM86.6 342.1h1.1v1.1h-1.1zM83.0 314.3h1.1v1.1h-1.1zM61.1 300.6h1.1v1.1h-1.1zM75.5 303.2h1.1v1.1h-1.1zM83.1 339.5h1.1v1.1h-1.1zM80.3 323.3h1.1v1.1h-1.1zM79.8 341.6h1.1v1.1h-1.1zM66.3 298.9h1.1v1.1h-1.1zM52.8 320.0h1.1v1.1h-1.1zM67.3 329.4h1.1v1.1h-1.1zM75.6 355.5h1.1v1.1h-1.1zM72.4 320.7h1.1v1.1h-1.1zM65.9 305.5h1.1v1.1h-1.1zM73.1 293.1h1.1v1.1h-1.1zM73.8 323.1h1.1v1.1h-1.1zM60.0 316.7h1.1v1.1h-1.1zM89.0 362.5h1.1v1.1h-1.1zM60.6 320.3h1.1v1.1h-1.1zM76.8 307.1h1.1v1.1h-1.1zM99.4 366.4h1.1v1.1h-1.1zM62.4 304.6h1.1v1.1h-1.1zM66.7 325.6h1.1v1.1h-1.1zM63.1 294.5h1.1v1.1h-1.1zM69.8 280.3h1.1v1.1h-1.1zM86.6 359.0h1.1v1.1h-1.1zM68.3 290.5h1.1v1.1h-1.1zM60.2 322.7h1.1v1.1h-1.1zM67.1 336.0h1.1v1.1h-1.1zM80.5 334.2h1.1v1.1h-1.1zM63.8 318.2h1.1v1.1h-1.1zM77.1 330.8h1.1v1.1h-1.1zM69.0 335.0h1.1v1.1h-1.1zM66.9 298.3h1.1v1.1h-1.1zM54.4 319.0h1.1v1.1h-1.1zM76.3 344.5h1.1v1.1h-1.1zM85.4 358.1h1.1v1.1h-1.1zM90.1 336.9h1.1v1.1h-1.1zM78.6 271.3h1.1v1.1h-1.1zM50.4 321.8h1.1v1.1h-1.1zM72.5 324.5h1.1v1.1h-1.1zM65.4 296.2h1.1v1.1h-1.1zM63.1 318.5h1.1v1.1h-1.1zM63.9 287.1h1.1v1.1h-1.1zM81.8 337.3h1.1v1.1h-1.1zM89.8 291.6h1.1v1.1h-1.1zM68.8 332.5h1.1v1.1h-1.1zM89.0 330.3h1.1v1.1h-1.1zM93.9 366.1h1.1v1.1h-1.1zM73.5 312.0h1.1v1.1h-1.1zM72.6 309.1h1.1v1.1h-1.1zM70.9 319.2h1.1v1.1h-1.1zM91.1 332.6h1.1v1.1h-1.1zM61.9 293.1h1.1v1.1h-1.1zM54.5 333.6h1.1v1.1h-1.1zM91.4 283.0h1.1v1.1h-1.1zM69.0 288.8h1.1v1.1h-1.1zM82.1 361.3h1.1v1.1h-1.1zM67.5 329.5h1.1v1.1h-1.1zM55.3 324.1h1.1v1.1h-1.1zM64.5 293.3h1.1v1.1h-1.1zM71.6 323.7h1.1v1.1h-1.1zM52.7 324.9h1.1v1.1h-1.1zM66.9 320.1h1.1v1.1h-1.1zM64.2 319.1h1.1v1.1h-1.1zM83.6 349.1h1.1v1.1h-1.1zM68.8 292.0h1.1v1.1h-1.1zM70.3 289.2h1.1v1.1h-1.1zM79.3 319.2h1.1v1.1h-1.1zM74.4 296.3h1.1v1.1h-1.1zM82.7 323.0h1.1v1.1h-1.1zM73.4 325.1h1.1v1.1h-1.1zM86.4 284.1h1.1v1.1h-1.1zM88.7 343.0h1.1v1.1h-1.1zM74.6 345.7h1.1v1.1h-1.1zM83.6 311.9h1.1v1.1h-1.1zM76.7 313.2h1.1v1.1h-1.1zM82.1 309.1h1.1v1.1h-1.1zM74.4 294.2h1.1v1.1h-1.1zM76.9 312.4h1.1v1.1h-1.1zM82.7 332.9h1.1v1.1h-1.1zM58.0 332.7h1.1v1.1h-1.1zM82.2 324.4h1.1v1.1h-1.1zM78.1 343.0h1.1v1.1h-1.1zM87.9 344.7h1.1v1.1h-1.1zM49.9 327.8h1.1v1.1h-1.1zM78.7 337.5h1.1v1.1h-1.1zM66.6 286.4h1.1v1.1h-1.1zM62.7 297.5h1.1v1.1h-1.1zM73.8 320.6h1.1v1.1h-1.1zM87.5 342.9h1.1v1.1h-1.1zM87.4 349.4h1.1v1.1h-1.1zM74.4 330.0h1.1v1.1h-1.1zM90.8 287.0h1.1v1.1h-1.1zM71.6 321.9h1.1v1.1h-1.1zM87.7 339.6h1.1v1.1h-1.1zM87.5 343.5h1.1v1.1h-1.1zM96.6 356.8h1.1v1.1h-1.1zM94.6 354.5h1.1v1.1h-1.1zM51.5 329.8h1.1v1.1h-1.1zM70.9 282.9h1.1v1.1h-1.1zM80.5 324.1h1.1v1.1h-1.1zM84.1 314.6h1.1v1.1h-1.1zM67.5 323.4h1.1v1.1h-1.1zM88.5 362.9h1.1v1.1h-1.1zM52.6 332.6h1.1v1.1h-1.1zM75.3 308.2h1.1v1.1h-1.1zM87.9 345.7h1.1v1.1h-1.1zM80.9 338.5h1.1v1.1h-1.1zM64.3 323.7h1.1v1.1h-1.1zM65.1 315.0h1.1v1.1h-1.1zM57.9 321.2h1.1v1.1h-1.1zM63.8 287.9h1.1v1.1h-1.1zM82.2 360.4h1.1v1.1h-1.1zM70.0 302.7h1.1v1.1h-1.1zM69.0 332.9h1.1v1.1h-1.1zM68.2 307.2h1.1v1.1h-1.1zM86.4 320.9h1.1v1.1h-1.1zM73.4 293.5h1.1v1.1h-1.1zM84.0 354.7h1.1v1.1h-1.1zM70.6 314.5h1.1v1.1h-1.1zM71.8 328.6h1.1v1.1h-1.1zM70.5 336.8h1.1v1.1h-1.1zM64.8 308.5h1.1v1.1h-1.1zM64.3 317.9h1.1v1.1h-1.1zM84.8 350.6h1.1v1.1h-1.1zM71.2 319.3h1.1v1.1h-1.1zM70.9 285.5h1.1v1.1h-1.1zM77.9 279.0h1.1v1.1h-1.1zM91.6 288.7h1.1v1.1h-1.1zM65.0 305.5h1.1v1.1h-1.1zM76.2 302.2h1.1v1.1h-1.1zM58.0 321.9h1.1v1.1h-1.1zM75.6 338.8h1.1v1.1h-1.1zM72.5 317.5h1.1v1.1h-1.1zM66.6 329.1h1.1v1.1h-1.1zM69.2 315.1h1.1v1.1h-1.1zM63.0 322.0h1.1v1.1h-1.1zM87.9 341.0h1.1v1.1h-1.1zM73.5 312.0h1.1v1.1h-1.1zM71.6 282.0h1.1v1.1h-1.1zM62.3 332.2h1.1v1.1h-1.1zM66.1 332.8h1.1v1.1h-1.1zM77.3 307.8h1.1v1.1h-1.1zM61.7 298.6h1.1v1.1h-1.1zM78.2 313.7h1.1v1.1h-1.1zM86.5 321.3h1.1v1.1h-1.1zM74.2 300.1h1.1v1.1h-1.1zM84.4 325.6h1.1v1.1h-1.1zM84.4 315.7h1.1v1.1h-1.1zM69.2 309.7h1.1v1.1h-1.1zM70.5 282.5h1.1v1.1h-1.1zM62.7 294.3h1.1v1.1h-1.1zM87.5 337.5h1.1v1.1h-1.1zM62.4 317.4h1.1v1.1h-1.1zM68.3 287.3h1.1v1.1h-1.1zM74.0 315.5h1.1v1.1h-1.1zM63.9 320.6h1.1v1.1h-1.1zM88.2 314.9h1.1v1.1h-1.1zM80.7 343.2h1.1v1.1h-1.1zM79.6 335.8h1.1v1.1h-1.1zM59.7 325.6h1.1v1.1h-1.1zM56.7 326.9h1.1v1.1h-1.1zM62.7 297.1h1.1v1.1h-1.1z" fill="#f5a45c"/>
<path d="M82.3 301.5h1.1v1.1h-1.1zM83.6 284.5h1.1v1.1h-1.1zM82.7 307.1h1.1v1.1h-1.1zM84.3 305.4h1.1v1.1h-1.1zM80.7 332.4h1.1v1.1h-1.1zM84.1 334.1h1.1v1.1h-1.1zM75.6 322.3h1.1v1.1h-1.1zM90.2 284.6h1.1v1.1h-1.1zM74.4 356.7h1.1v1.1h-1.1zM64.4 306.9h1.1v1.1h-1.1zM74.8 303.7h1.1v1.1h-1.1zM88.2 283.0h1.1v1.1h-1.1zM90.4 351.0h1.1v1.1h-1.1zM70.6 289.6h1.1v1.1h-1.1zM74.8 358.0h1.1v1.1h-1.1zM81.9 288.5h1.1v1.1h-1.1zM74.5 356.6h1.1v1.1h-1.1zM76.8 294.0h1.1v1.1h-1.1zM71.9 297.0h1.1v1.1h-1.1zM82.6 327.8h1.1v1.1h-1.1zM69.9 292.6h1.1v1.1h-1.1zM72.2 329.6h1.1v1.1h-1.1zM75.6 321.6h1.1v1.1h-1.1zM67.9 281.6h1.1v1.1h-1.1zM64.1 292.9h1.1v1.1h-1.1zM79.3 329.6h1.1v1.1h-1.1zM71.1 330.9h1.1v1.1h-1.1zM84.7 353.0h1.1v1.1h-1.1zM88.3 290.2h1.1v1.1h-1.1zM67.6 334.2h1.1v1.1h-1.1zM62.3 324.9h1.1v1.1h-1.1zM79.1 358.7h1.1v1.1h-1.1zM88.9 285.0h1.1v1.1h-1.1zM66.2 330.3h1.1v1.1h-1.1zM70.0 324.5h1.1v1.1h-1.1zM72.7 280.0h1.1v1.1h-1.1zM64.8 320.5h1.1v1.1h-1.1zM78.6 290.2h1.1v1.1h-1.1zM87.7 290.1h1.1v1.1h-1.1zM74.7 330.8h1.1v1.1h-1.1zM78.3 324.6h1.1v1.1h-1.1zM73.3 300.6h1.1v1.1h-1.1zM72.0 288.3h1.1v1.1h-1.1zM70.6 324.9h1.1v1.1h-1.1zM69.7 330.7h1.1v1.1h-1.1zM70.1 291.3h1.1v1.1h-1.1zM79.0 358.7h1.1v1.1h-1.1zM70.3 319.4h1.1v1.1h-1.1zM73.6 352.2h1.1v1.1h-1.1zM85.1 355.8h1.1v1.1h-1.1zM63.5 322.6h1.1v1.1h-1.1zM80.6 351.0h1.1v1.1h-1.1zM87.0 355.4h1.1v1.1h-1.1zM79.8 319.4h1.1v1.1h-1.1zM79.8 289.9h1.1v1.1h-1.1zM81.7 305.3h1.1v1.1h-1.1zM71.1 297.5h1.1v1.1h-1.1zM71.0 292.1h1.1v1.1h-1.1zM75.8 351.3h1.1v1.1h-1.1zM65.6 333.5h1.1v1.1h-1.1zM63.3 298.6h1.1v1.1h-1.1zM80.3 333.3h1.1v1.1h-1.1zM71.5 321.0h1.1v1.1h-1.1zM83.3 365.0h1.1v1.1h-1.1zM90.8 288.3h1.1v1.1h-1.1zM78.4 348.4h1.1v1.1h-1.1zM77.3 333.7h1.1v1.1h-1.1zM70.1 289.3h1.1v1.1h-1.1zM67.6 326.5h1.1v1.1h-1.1zM86.0 299.3h1.1v1.1h-1.1zM84.8 357.3h1.1v1.1h-1.1zM79.3 339.0h1.1v1.1h-1.1zM73.6 319.7h1.1v1.1h-1.1zM72.8 320.4h1.1v1.1h-1.1zM77.0 334.0h1.1v1.1h-1.1zM88.3 281.5h1.1v1.1h-1.1zM83.5 325.6h1.1v1.1h-1.1zM67.9 307.0h1.1v1.1h-1.1zM76.1 326.4h1.1v1.1h-1.1zM65.5 306.6h1.1v1.1h-1.1zM76.2 290.0h1.1v1.1h-1.1zM68.5 329.6h1.1v1.1h-1.1zM84.5 325.3h1.1v1.1h-1.1zM73.4 300.8h1.1v1.1h-1.1zM80.2 302.5h1.1v1.1h-1.1zM69.7 297.7h1.1v1.1h-1.1zM81.7 326.6h1.1v1.1h-1.1zM77.7 295.6h1.1v1.1h-1.1zM88.9 354.9h1.1v1.1h-1.1zM77.2 336.4h1.1v1.1h-1.1zM68.6 328.2h1.1v1.1h-1.1zM91.4 285.1h1.1v1.1h-1.1zM84.5 355.7h1.1v1.1h-1.1zM82.3 333.8h1.1v1.1h-1.1zM80.9 288.3h1.1v1.1h-1.1zM91.6 286.5h1.1v1.1h-1.1zM89.7 291.1h1.1v1.1h-1.1zM72.3 337.6h1.1v1.1h-1.1zM63.7 301.3h1.1v1.1h-1.1zM86.3 330.3h1.1v1.1h-1.1zM77.2 340.3h1.1v1.1h-1.1zM69.6 294.7h1.1v1.1h-1.1zM76.6 319.0h1.1v1.1h-1.1zM81.1 319.8h1.1v1.1h-1.1zM79.0 362.1h1.1v1.1h-1.1zM87.8 290.8h1.1v1.1h-1.1zM88.6 294.7h1.1v1.1h-1.1zM67.5 333.8h1.1v1.1h-1.1zM61.1 329.2h1.1v1.1h-1.1zM73.9 337.3h1.1v1.1h-1.1zM81.9 350.1h1.1v1.1h-1.1zM86.4 289.3h1.1v1.1h-1.1zM81.0 303.3h1.1v1.1h-1.1zM75.9 306.3h1.1v1.1h-1.1zM62.7 298.3h1.1v1.1h-1.1zM85.0 296.4h1.1v1.1h-1.1zM72.9 333.1h1.1v1.1h-1.1zM65.2 322.6h1.1v1.1h-1.1zM82.1 336.5h1.1v1.1h-1.1zM83.0 326.5h1.1v1.1h-1.1zM79.6 281.4h1.1v1.1h-1.1zM74.8 335.8h1.1v1.1h-1.1zM81.6 353.4h1.1v1.1h-1.1zM91.0 352.2h1.1v1.1h-1.1zM76.3 331.1h1.1v1.1h-1.1zM84.4 331.4h1.1v1.1h-1.1zM77.0 278.4h1.1v1.1h-1.1zM90.0 284.1h1.1v1.1h-1.1zM75.5 305.9h1.1v1.1h-1.1zM72.4 327.2h1.1v1.1h-1.1zM68.4 332.7h1.1v1.1h-1.1zM90.1 356.3h1.1v1.1h-1.1zM62.7 291.6h1.1v1.1h-1.1zM79.9 278.5h1.1v1.1h-1.1zM70.7 332.7h1.1v1.1h-1.1zM62.2 293.6h1.1v1.1h-1.1zM67.4 329.4h1.1v1.1h-1.1zM79.5 278.6h1.1v1.1h-1.1zM88.2 293.3h1.1v1.1h-1.1zM75.1 338.9h1.1v1.1h-1.1zM68.9 297.3h1.1v1.1h-1.1zM79.1 336.0h1.1v1.1h-1.1zM79.0 292.0h1.1v1.1h-1.1zM75.9 336.7h1.1v1.1h-1.1zM82.1 364.8h1.1v1.1h-1.1zM80.3 303.5h1.1v1.1h-1.1zM74.8 353.0h1.1v1.1h-1.1zM81.4 305.5h1.1v1.1h-1.1zM83.1 316.8h1.1v1.1h-1.1zM91.8 293.4h1.1v1.1h-1.1zM65.7 326.8h1.1v1.1h-1.1zM76.0 295.5h1.1v1.1h-1.1zM74.7 300.9h1.1v1.1h-1.1zM85.7 337.6h1.1v1.1h-1.1zM88.8 296.4h1.1v1.1h-1.1zM80.4 349.6h1.1v1.1h-1.1zM91.0 287.7h1.1v1.1h-1.1zM87.9 353.2h1.1v1.1h-1.1zM77.4 298.5h1.1v1.1h-1.1zM70.2 322.3h1.1v1.1h-1.1zM63.5 322.7h1.1v1.1h-1.1zM77.5 287.3h1.1v1.1h-1.1zM72.3 299.1h1.1v1.1h-1.1zM69.5 329.8h1.1v1.1h-1.1zM75.9 291.6h1.1v1.1h-1.1zM78.8 307.0h1.1v1.1h-1.1zM87.8 282.4h1.1v1.1h-1.1zM72.0 325.5h1.1v1.1h-1.1zM69.6 303.7h1.1v1.1h-1.1zM73.3 329.5h1.1v1.1h-1.1zM75.3 295.3h1.1v1.1h-1.1zM84.2 337.9h1.1v1.1h-1.1zM80.7 360.0h1.1v1.1h-1.1zM85.9 365.0h1.1v1.1h-1.1zM71.2 339.1h1.1v1.1h-1.1zM71.0 324.7h1.1v1.1h-1.1zM85.2 350.5h1.1v1.1h-1.1zM74.7 298.2h1.1v1.1h-1.1zM72.8 320.4h1.1v1.1h-1.1zM81.4 287.7h1.1v1.1h-1.1zM76.2 331.0h1.1v1.1h-1.1zM66.4 326.2h1.1v1.1h-1.1zM81.8 349.6h1.1v1.1h-1.1zM63.0 300.3h1.1v1.1h-1.1zM74.4 279.2h1.1v1.1h-1.1zM88.4 292.3h1.1v1.1h-1.1zM79.4 286.9h1.1v1.1h-1.1zM82.7 337.9h1.1v1.1h-1.1zM81.6 291.0h1.1v1.1h-1.1zM62.6 326.0h1.1v1.1h-1.1zM74.9 302.2h1.1v1.1h-1.1zM90.1 293.2h1.1v1.1h-1.1zM86.5 289.1h1.1v1.1h-1.1zM87.9 354.7h1.1v1.1h-1.1zM69.7 320.8h1.1v1.1h-1.1zM71.1 334.5h1.1v1.1h-1.1zM73.0 285.4h1.1v1.1h-1.1zM72.9 328.2h1.1v1.1h-1.1zM80.9 305.6h1.1v1.1h-1.1zM77.7 320.1h1.1v1.1h-1.1zM79.0 301.1h1.1v1.1h-1.1zM82.4 327.5h1.1v1.1h-1.1zM70.7 300.1h1.1v1.1h-1.1zM63.4 323.0h1.1v1.1h-1.1zM75.2 330.7h1.1v1.1h-1.1zM82.2 327.0h1.1v1.1h-1.1z" fill="#cfe38a"/>
<path d="M83.2 283.5h1.1v1.1h-1.1zM82.7 297.8h1.1v1.1h-1.1zM71.4 289.2h1.1v1.1h-1.1zM68.4 313.4h1.1v1.1h-1.1zM67.8 284.5h1.1v1.1h-1.1zM66.4 302.9h1.1v1.1h-1.1zM68.6 287.2h1.1v1.1h-1.1zM64.5 286.0h1.1v1.1h-1.1zM67.7 292.9h1.1v1.1h-1.1zM70.1 287.7h1.1v1.1h-1.1zM74.6 311.8h1.1v1.1h-1.1zM63.5 296.5h1.1v1.1h-1.1zM50.5 327.7h1.1v1.1h-1.1zM68.4 283.7h1.1v1.1h-1.1zM73.0 308.1h1.1v1.1h-1.1zM65.4 291.3h1.1v1.1h-1.1zM67.2 293.8h1.1v1.1h-1.1zM81.0 311.6h1.1v1.1h-1.1zM66.2 302.2h1.1v1.1h-1.1zM68.5 295.0h1.1v1.1h-1.1zM83.0 317.6h1.1v1.1h-1.1zM67.6 310.6h1.1v1.1h-1.1zM53.6 325.9h1.1v1.1h-1.1zM75.6 308.6h1.1v1.1h-1.1zM54.3 326.8h1.1v1.1h-1.1zM59.9 332.8h1.1v1.1h-1.1zM50.9 329.8h1.1v1.1h-1.1zM76.6 315.8h1.1v1.1h-1.1zM71.8 301.7h1.1v1.1h-1.1zM52.1 322.8h1.1v1.1h-1.1zM78.5 315.0h1.1v1.1h-1.1zM70.2 285.7h1.1v1.1h-1.1zM51.9 330.8h1.1v1.1h-1.1zM78.2 317.2h1.1v1.1h-1.1zM62.8 288.9h1.1v1.1h-1.1zM60.5 334.0h1.1v1.1h-1.1zM74.8 308.6h1.1v1.1h-1.1zM68.8 310.1h1.1v1.1h-1.1zM63.2 314.5h1.1v1.1h-1.1zM63.0 299.4h1.1v1.1h-1.1zM70.9 317.6h1.1v1.1h-1.1zM76.2 316.0h1.1v1.1h-1.1zM78.3 316.2h1.1v1.1h-1.1zM57.4 327.9h1.1v1.1h-1.1zM74.4 303.4h1.1v1.1h-1.1zM73.8 299.9h1.1v1.1h-1.1zM65.1 334.9h1.1v1.1h-1.1zM81.0 308.7h1.1v1.1h-1.1zM70.6 317.1h1.1v1.1h-1.1zM71.6 317.5h1.1v1.1h-1.1zM74.5 313.2h1.1v1.1h-1.1zM70.7 314.3h1.1v1.1h-1.1zM56.5 319.5h1.1v1.1h-1.1zM81.3 312.0h1.1v1.1h-1.1zM73.4 313.8h1.1v1.1h-1.1zM68.2 296.8h1.1v1.1h-1.1zM62.2 294.2h1.1v1.1h-1.1zM81.3 308.5h1.1v1.1h-1.1zM69.4 294.1h1.1v1.1h-1.1zM52.9 320.5h1.1v1.1h-1.1zM82.5 313.1h1.1v1.1h-1.1zM63.0 332.2h1.1v1.1h-1.1zM72.0 309.1h1.1v1.1h-1.1zM74.8 317.1h1.1v1.1h-1.1zM59.8 322.9h1.1v1.1h-1.1zM65.9 301.6h1.1v1.1h-1.1zM68.3 297.3h1.1v1.1h-1.1zM53.0 320.6h1.1v1.1h-1.1zM66.7 293.8h1.1v1.1h-1.1zM68.6 282.4h1.1v1.1h-1.1zM50.2 323.4h1.1v1.1h-1.1zM66.2 301.4h1.1v1.1h-1.1z" fill="#e4643e"/>
<path d="M81.6 291.1h1.1v1.1h-1.1zM86.2 322.0h1.1v1.1h-1.1zM87.9 323.1h1.1v1.1h-1.1zM89.1 320.0h1.1v1.1h-1.1zM86.2 319.9h1.1v1.1h-1.1zM101.0 344.1h1.1v1.1h-1.1zM110.6 343.8h1.1v1.1h-1.1zM83.6 304.6h1.1v1.1h-1.1zM88.6 323.8h1.1v1.1h-1.1zM80.7 336.7h1.1v1.1h-1.1zM92.9 284.5h1.1v1.1h-1.1zM84.4 358.3h1.1v1.1h-1.1zM84.0 341.4h1.1v1.1h-1.1zM79.2 357.5h1.1v1.1h-1.1zM98.6 363.8h1.1v1.1h-1.1zM81.3 283.8h1.1v1.1h-1.1zM78.5 290.6h1.1v1.1h-1.1zM89.7 351.9h1.1v1.1h-1.1zM89.4 292.2h1.1v1.1h-1.1zM80.5 353.5h1.1v1.1h-1.1zM73.9 333.0h1.1v1.1h-1.1zM84.7 332.1h1.1v1.1h-1.1zM79.8 288.4h1.1v1.1h-1.1zM59.5 322.6h1.1v1.1h-1.1zM87.7 335.6h1.1v1.1h-1.1zM82.5 358.9h1.1v1.1h-1.1zM93.9 327.6h1.1v1.1h-1.1zM76.4 305.3h1.1v1.1h-1.1zM73.6 303.3h1.1v1.1h-1.1zM87.1 345.2h1.1v1.1h-1.1zM86.2 345.6h1.1v1.1h-1.1zM77.1 298.5h1.1v1.1h-1.1zM84.6 334.8h1.1v1.1h-1.1zM73.7 326.6h1.1v1.1h-1.1zM75.3 302.1h1.1v1.1h-1.1zM71.0 295.8h1.1v1.1h-1.1zM60.7 320.3h1.1v1.1h-1.1zM77.5 337.8h1.1v1.1h-1.1zM81.9 341.9h1.1v1.1h-1.1zM76.6 357.5h1.1v1.1h-1.1zM79.2 299.6h1.1v1.1h-1.1zM96.6 361.6h1.1v1.1h-1.1zM78.3 324.6h1.1v1.1h-1.1zM85.3 292.4h1.1v1.1h-1.1zM87.3 322.9h1.1v1.1h-1.1zM76.0 318.6h1.1v1.1h-1.1zM66.0 325.4h1.1v1.1h-1.1zM78.7 328.3h1.1v1.1h-1.1zM84.4 327.9h1.1v1.1h-1.1zM81.2 354.6h1.1v1.1h-1.1zM51.3 319.9h1.1v1.1h-1.1zM97.4 356.7h1.1v1.1h-1.1zM72.6 296.7h1.1v1.1h-1.1zM93.3 288.2h1.1v1.1h-1.1zM72.9 296.0h1.1v1.1h-1.1zM71.8 306.9h1.1v1.1h-1.1zM83.6 341.6h1.1v1.1h-1.1zM86.9 294.3h1.1v1.1h-1.1zM70.1 295.1h1.1v1.1h-1.1zM101.1 354.0h1.1v1.1h-1.1zM65.1 332.5h1.1v1.1h-1.1zM73.3 339.6h1.1v1.1h-1.1zM102.7 333.2h1.1v1.1h-1.1zM79.9 299.7h1.1v1.1h-1.1zM71.0 299.0h1.1v1.1h-1.1zM72.9 351.8h1.1v1.1h-1.1zM84.0 364.7h1.1v1.1h-1.1zM99.8 338.3h1.1v1.1h-1.1zM100.8 345.0h1.1v1.1h-1.1zM63.0 332.8h1.1v1.1h-1.1zM91.3 289.3h1.1v1.1h-1.1zM75.2 289.8h1.1v1.1h-1.1zM52.6 331.2h1.1v1.1h-1.1zM75.9 360.7h1.1v1.1h-1.1zM61.4 330.0h1.1v1.1h-1.1zM81.8 289.7h1.1v1.1h-1.1zM88.7 363.7h1.1v1.1h-1.1zM88.7 283.0h1.1v1.1h-1.1zM64.3 329.7h1.1v1.1h-1.1zM79.4 298.7h1.1v1.1h-1.1zM88.7 354.2h1.1v1.1h-1.1zM82.6 353.6h1.1v1.1h-1.1zM91.1 326.6h1.1v1.1h-1.1zM91.1 289.5h1.1v1.1h-1.1zM87.7 297.5h1.1v1.1h-1.1zM71.8 283.6h1.1v1.1h-1.1zM83.3 329.9h1.1v1.1h-1.1zM75.1 352.8h1.1v1.1h-1.1zM83.4 357.1h1.1v1.1h-1.1zM75.5 306.1h1.1v1.1h-1.1zM67.6 328.7h1.1v1.1h-1.1zM100.2 365.8h1.1v1.1h-1.1zM83.1 329.0h1.1v1.1h-1.1zM109.3 332.7h1.1v1.1h-1.1zM97.4 348.1h1.1v1.1h-1.1zM112.9 337.8h1.1v1.1h-1.1zM91.2 326.1h1.1v1.1h-1.1zM80.3 287.9h1.1v1.1h-1.1zM74.7 280.5h1.1v1.1h-1.1zM76.9 294.3h1.1v1.1h-1.1zM81.2 296.5h1.1v1.1h-1.1zM84.6 335.1h1.1v1.1h-1.1zM72.3 291.4h1.1v1.1h-1.1zM77.4 285.0h1.1v1.1h-1.1zM99.1 349.2h1.1v1.1h-1.1zM117.7 306.4h1.1v1.1h-1.1zM77.5 301.5h1.1v1.1h-1.1zM80.3 300.0h1.1v1.1h-1.1zM81.8 295.5h1.1v1.1h-1.1zM82.3 343.0h1.1v1.1h-1.1zM86.1 358.1h1.1v1.1h-1.1zM67.7 320.4h1.1v1.1h-1.1zM86.7 289.0h1.1v1.1h-1.1zM83.7 355.4h1.1v1.1h-1.1zM89.4 286.2h1.1v1.1h-1.1zM90.1 352.2h1.1v1.1h-1.1zM114.8 324.6h1.1v1.1h-1.1zM74.5 334.1h1.1v1.1h-1.1zM80.5 292.3h1.1v1.1h-1.1zM80.7 302.1h1.1v1.1h-1.1zM86.9 339.9h1.1v1.1h-1.1zM86.6 324.4h1.1v1.1h-1.1zM90.7 342.8h1.1v1.1h-1.1zM50.1 326.4h1.1v1.1h-1.1zM81.9 350.5h1.1v1.1h-1.1zM89.0 355.8h1.1v1.1h-1.1zM73.1 296.0h1.1v1.1h-1.1zM92.3 290.3h1.1v1.1h-1.1zM88.4 339.9h1.1v1.1h-1.1zM78.9 362.0h1.1v1.1h-1.1zM55.4 331.0h1.1v1.1h-1.1zM72.4 318.2h1.1v1.1h-1.1zM72.3 329.4h1.1v1.1h-1.1zM107.4 332.3h1.1v1.1h-1.1zM74.3 323.0h1.1v1.1h-1.1zM73.5 353.5h1.1v1.1h-1.1zM88.3 363.1h1.1v1.1h-1.1zM56.4 333.5h1.1v1.1h-1.1zM99.8 365.0h1.1v1.1h-1.1zM51.6 319.9h1.1v1.1h-1.1zM92.4 356.7h1.1v1.1h-1.1zM82.5 351.2h1.1v1.1h-1.1zM76.6 297.7h1.1v1.1h-1.1zM83.3 332.3h1.1v1.1h-1.1zM80.4 348.7h1.1v1.1h-1.1zM82.6 317.5h1.1v1.1h-1.1zM58.3 318.0h1.1v1.1h-1.1zM88.0 294.6h1.1v1.1h-1.1zM58.2 323.8h1.1v1.1h-1.1zM100.3 354.5h1.1v1.1h-1.1zM79.5 282.7h1.1v1.1h-1.1zM88.9 348.6h1.1v1.1h-1.1zM85.6 336.1h1.1v1.1h-1.1zM77.8 335.7h1.1v1.1h-1.1zM83.1 323.4h1.1v1.1h-1.1zM82.1 349.2h1.1v1.1h-1.1zM79.0 290.3h1.1v1.1h-1.1zM77.2 285.9h1.1v1.1h-1.1zM55.5 330.2h1.1v1.1h-1.1zM51.1 330.2h1.1v1.1h-1.1zM84.3 329.0h1.1v1.1h-1.1zM85.8 284.3h1.1v1.1h-1.1zM87.6 294.1h1.1v1.1h-1.1zM83.2 351.6h1.1v1.1h-1.1zM85.1 348.5h1.1v1.1h-1.1zM81.7 339.8h1.1v1.1h-1.1zM79.2 321.4h1.1v1.1h-1.1zM82.2 324.9h1.1v1.1h-1.1zM87.0 362.8h1.1v1.1h-1.1zM83.7 354.8h1.1v1.1h-1.1zM89.8 352.2h1.1v1.1h-1.1zM85.1 292.7h1.1v1.1h-1.1zM88.0 287.2h1.1v1.1h-1.1zM81.8 332.8h1.1v1.1h-1.1zM96.4 335.6h1.1v1.1h-1.1zM88.9 285.0h1.1v1.1h-1.1zM86.4 327.9h1.1v1.1h-1.1zM71.0 338.5h1.1v1.1h-1.1zM80.4 272.0h1.1v1.1h-1.1zM74.3 301.0h1.1v1.1h-1.1zM75.2 323.9h1.1v1.1h-1.1zM122.3 305.2h1.1v1.1h-1.1zM67.7 325.1h1.1v1.1h-1.1zM76.9 359.3h1.1v1.1h-1.1zM85.5 338.1h1.1v1.1h-1.1zM71.6 280.4h1.1v1.1h-1.1zM90.5 284.8h1.1v1.1h-1.1zM69.7 302.9h1.1v1.1h-1.1zM72.9 302.8h1.1v1.1h-1.1zM57.4 328.5h1.1v1.1h-1.1zM73.5 347.6h1.1v1.1h-1.1z" fill="#9ed29a"/>
<path d="M66.0 309.9h1.1v1.1h-1.1zM67.5 301.6h1.1v1.1h-1.1zM70.6 287.9h1.1v1.1h-1.1zM70.7 286.4h1.1v1.1h-1.1zM88.1 308.9h1.1v1.1h-1.1zM54.6 332.3h1.1v1.1h-1.1zM86.2 309.7h1.1v1.1h-1.1zM57.7 316.7h1.1v1.1h-1.1zM55.3 317.1h1.1v1.1h-1.1zM52.1 327.6h1.1v1.1h-1.1zM88.0 313.1h1.1v1.1h-1.1zM57.0 327.4h1.1v1.1h-1.1zM49.8 322.4h1.1v1.1h-1.1zM61.4 324.4h1.1v1.1h-1.1zM71.8 316.0h1.1v1.1h-1.1zM68.8 292.2h1.1v1.1h-1.1zM76.9 312.2h1.1v1.1h-1.1zM65.4 302.9h1.1v1.1h-1.1zM72.5 311.7h1.1v1.1h-1.1zM54.2 323.6h1.1v1.1h-1.1zM64.9 312.7h1.1v1.1h-1.1zM86.3 311.0h1.1v1.1h-1.1zM80.3 308.4h1.1v1.1h-1.1zM66.2 287.3h1.1v1.1h-1.1zM72.8 314.0h1.1v1.1h-1.1zM78.6 312.9h1.1v1.1h-1.1zM68.9 310.0h1.1v1.1h-1.1zM58.2 333.4h1.1v1.1h-1.1zM61.9 298.7h1.1v1.1h-1.1zM71.5 307.5h1.1v1.1h-1.1zM50.2 331.0h1.1v1.1h-1.1zM68.6 314.8h1.1v1.1h-1.1zM66.1 312.5h1.1v1.1h-1.1zM52.9 324.9h1.1v1.1h-1.1z" fill="#cc3442"/>
<path d="M78.0 286.9h1.1v1.1h-1.1zM80.0 303.7h1.1v1.1h-1.1zM80.5 291.0h1.1v1.1h-1.1zM77.4 286.8h1.1v1.1h-1.1zM77.9 280.3h1.1v1.1h-1.1zM77.3 284.2h1.1v1.1h-1.1zM78.2 305.5h1.1v1.1h-1.1zM79.0 280.8h1.1v1.1h-1.1zM77.3 300.1h1.1v1.1h-1.1zM77.5 290.8h1.1v1.1h-1.1zM78.0 287.0h1.1v1.1h-1.1z" fill="#5aa8a8"/>
<path d="M98.4 333.7h1.1v1.1h-1.1zM70.5 338.7h1.1v1.1h-1.1zM72.7 342.1h1.1v1.1h-1.1zM87.2 345.7h1.1v1.1h-1.1zM105.1 346.4h1.1v1.1h-1.1zM78.9 296.1h1.1v1.1h-1.1zM77.3 329.0h1.1v1.1h-1.1zM76.8 313.8h1.1v1.1h-1.1zM85.4 282.4h1.1v1.1h-1.1zM67.0 295.4h1.1v1.1h-1.1zM64.6 298.6h1.1v1.1h-1.1zM75.9 301.6h1.1v1.1h-1.1zM117.6 332.5h1.1v1.1h-1.1zM91.4 329.2h1.1v1.1h-1.1zM89.1 338.7h1.1v1.1h-1.1zM57.9 321.9h1.1v1.1h-1.1zM96.3 360.9h1.1v1.1h-1.1zM85.4 352.4h1.1v1.1h-1.1zM98.3 342.8h1.1v1.1h-1.1zM77.0 314.4h1.1v1.1h-1.1zM59.0 315.7h1.1v1.1h-1.1zM78.6 303.0h1.1v1.1h-1.1zM108.0 306.5h1.1v1.1h-1.1zM74.0 347.2h1.1v1.1h-1.1zM90.9 347.8h1.1v1.1h-1.1zM116.9 320.9h1.1v1.1h-1.1zM68.3 317.8h1.1v1.1h-1.1zM78.9 332.4h1.1v1.1h-1.1zM74.9 333.4h1.1v1.1h-1.1zM81.7 342.0h1.1v1.1h-1.1zM83.4 356.8h1.1v1.1h-1.1zM76.5 324.9h1.1v1.1h-1.1zM74.8 283.7h1.1v1.1h-1.1zM110.9 346.9h1.1v1.1h-1.1zM95.0 368.1h1.1v1.1h-1.1zM60.3 323.4h1.1v1.1h-1.1zM76.8 291.6h1.1v1.1h-1.1zM109.8 315.0h1.1v1.1h-1.1zM59.7 331.5h1.1v1.1h-1.1zM112.2 309.9h1.1v1.1h-1.1zM89.7 330.2h1.1v1.1h-1.1zM96.4 366.4h1.1v1.1h-1.1zM90.0 294.9h1.1v1.1h-1.1zM81.9 301.4h1.1v1.1h-1.1zM121.9 342.8h1.1v1.1h-1.1zM53.5 333.3h1.1v1.1h-1.1zM109.3 317.5h1.1v1.1h-1.1zM86.3 290.3h1.1v1.1h-1.1zM77.2 355.7h1.1v1.1h-1.1zM120.4 304.6h1.1v1.1h-1.1zM75.6 300.8h1.1v1.1h-1.1zM112.1 303.1h1.1v1.1h-1.1zM107.9 306.9h1.1v1.1h-1.1zM62.7 301.1h1.1v1.1h-1.1zM67.3 317.7h1.1v1.1h-1.1zM62.8 300.9h1.1v1.1h-1.1zM119.7 307.1h1.1v1.1h-1.1zM113.0 329.8h1.1v1.1h-1.1zM62.8 313.9h1.1v1.1h-1.1zM113.0 327.0h1.1v1.1h-1.1zM61.9 324.7h1.1v1.1h-1.1zM82.2 358.0h1.1v1.1h-1.1zM78.5 302.5h1.1v1.1h-1.1zM114.8 340.9h1.1v1.1h-1.1zM90.0 360.5h1.1v1.1h-1.1zM51.8 318.9h1.1v1.1h-1.1zM124.3 338.1h1.1v1.1h-1.1zM69.0 306.1h1.1v1.1h-1.1zM61.2 318.2h1.1v1.1h-1.1zM65.9 295.8h1.1v1.1h-1.1zM117.4 322.5h1.1v1.1h-1.1zM76.1 339.7h1.1v1.1h-1.1zM78.0 315.6h1.1v1.1h-1.1zM60.8 318.0h1.1v1.1h-1.1zM67.2 322.4h1.1v1.1h-1.1zM64.8 285.8h1.1v1.1h-1.1zM59.0 331.2h1.1v1.1h-1.1zM65.9 300.2h1.1v1.1h-1.1zM85.8 351.2h1.1v1.1h-1.1zM102.9 312.5h1.1v1.1h-1.1zM100.8 336.7h1.1v1.1h-1.1zM116.6 337.6h1.1v1.1h-1.1zM87.5 315.8h1.1v1.1h-1.1zM71.5 291.4h1.1v1.1h-1.1zM71.5 321.1h1.1v1.1h-1.1zM118.7 331.8h1.1v1.1h-1.1zM99.7 366.9h1.1v1.1h-1.1zM77.1 285.4h1.1v1.1h-1.1zM68.1 298.2h1.1v1.1h-1.1zM99.7 348.5h1.1v1.1h-1.1zM87.6 344.9h1.1v1.1h-1.1zM108.8 357.5h1.1v1.1h-1.1zM75.8 289.2h1.1v1.1h-1.1zM70.4 287.1h1.1v1.1h-1.1zM70.4 337.9h1.1v1.1h-1.1zM76.5 334.4h1.1v1.1h-1.1zM116.3 303.4h1.1v1.1h-1.1zM66.7 333.1h1.1v1.1h-1.1zM76.1 298.1h1.1v1.1h-1.1zM79.6 356.3h1.1v1.1h-1.1zM90.6 342.8h1.1v1.1h-1.1zM90.6 293.7h1.1v1.1h-1.1zM75.9 300.8h1.1v1.1h-1.1zM121.0 346.3h1.1v1.1h-1.1zM123.3 343.6h1.1v1.1h-1.1zM69.1 309.7h1.1v1.1h-1.1zM113.9 310.7h1.1v1.1h-1.1zM64.1 306.2h1.1v1.1h-1.1zM68.0 336.5h1.1v1.1h-1.1zM95.1 349.0h1.1v1.1h-1.1zM84.9 327.7h1.1v1.1h-1.1zM85.5 292.8h1.1v1.1h-1.1zM79.1 334.5h1.1v1.1h-1.1zM64.8 326.7h1.1v1.1h-1.1zM82.9 323.4h1.1v1.1h-1.1zM76.7 283.1h1.1v1.1h-1.1zM114.2 314.7h1.1v1.1h-1.1zM93.2 345.1h1.1v1.1h-1.1zM81.4 294.5h1.1v1.1h-1.1zM87.6 363.1h1.1v1.1h-1.1zM95.6 365.7h1.1v1.1h-1.1zM66.4 289.5h1.1v1.1h-1.1zM88.5 296.8h1.1v1.1h-1.1zM53.8 324.4h1.1v1.1h-1.1zM86.8 314.2h1.1v1.1h-1.1zM74.1 342.7h1.1v1.1h-1.1zM66.6 284.1h1.1v1.1h-1.1zM91.5 360.2h1.1v1.1h-1.1zM77.7 321.6h1.1v1.1h-1.1zM124.2 338.8h1.1v1.1h-1.1zM79.9 278.4h1.1v1.1h-1.1zM82.7 337.9h1.1v1.1h-1.1zM72.9 299.9h1.1v1.1h-1.1zM69.3 318.8h1.1v1.1h-1.1zM90.3 336.3h1.1v1.1h-1.1zM56.3 319.1h1.1v1.1h-1.1zM115.8 327.2h1.1v1.1h-1.1zM66.9 292.2h1.1v1.1h-1.1zM75.1 327.4h1.1v1.1h-1.1zM114.2 339.9h1.1v1.1h-1.1zM123.0 340.8h1.1v1.1h-1.1z" fill="#ffffff"/>
<path d="M83.5 309.7h1.1v1.1h-1.1zM88.6 315.2h1.1v1.1h-1.1zM86.2 311.8h1.1v1.1h-1.1zM85.5 310.4h1.1v1.1h-1.1zM88.6 315.6h1.1v1.1h-1.1z" fill="#a01a4a"/>
<path d="M85.7 310.4h1.1v1.1h-1.1zM86.9 309.8h1.1v1.1h-1.1z" fill="#7a60a0"/>
<line x1="38.85" y1="265.60" x2="38.85" y2="377.25" stroke="#222" stroke-width="1.3"/>
<line x1="38.20" y1="376.60" x2="134.70" y2="376.60" stroke="#222" stroke-width="1.3"/>
<line x1="36.15" y1="287.80" x2="38.85" y2="287.80" stroke="#333" stroke-width="1.1"/>
<text x="33.35" y="290.26" font-size="7.7" text-anchor="end" fill="#333" stroke="#333" stroke-width="0.25">10</text>
<line x1="36.15" y1="322.80" x2="38.85" y2="322.80" stroke="#333" stroke-width="1.1"/>
<text x="33.35" y="325.26" font-size="7.7" text-anchor="end" fill="#333" stroke="#333" stroke-width="0.25">0</text>
<line x1="36.15" y1="357.80" x2="38.85" y2="357.80" stroke="#333" stroke-width="1.1"/>
<text x="33.35" y="360.26" font-size="7.7" text-anchor="end" fill="#333" stroke="#333" stroke-width="0.25">−10</text>
<line x1="52.80" y1="376.60" x2="52.80" y2="379.30" stroke="#333" stroke-width="1.1"/>
<text x="52.80" y="389.49" font-size="7.5" text-anchor="middle" fill="#333" stroke="#333" stroke-width="0.25">−10</text>
<line x1="69.45" y1="376.60" x2="69.45" y2="379.30" stroke="#333" stroke-width="1.1"/>
<text x="69.45" y="389.49" font-size="7.5" text-anchor="middle" fill="#333" stroke="#333" stroke-width="0.25">−5</text>
<line x1="86.10" y1="376.60" x2="86.10" y2="379.30" stroke="#333" stroke-width="1.1"/>
<text x="86.10" y="389.49" font-size="7.5" text-anchor="middle" fill="#333" stroke="#333" stroke-width="0.25">0</text>
<line x1="102.75" y1="376.60" x2="102.75" y2="379.30" stroke="#333" stroke-width="1.1"/>
<text x="102.75" y="389.49" font-size="7.5" text-anchor="middle" fill="#333" stroke="#333" stroke-width="0.25">5</text>
<line x1="119.40" y1="376.60" x2="119.40" y2="379.30" stroke="#333" stroke-width="1.1"/>
<text x="119.40" y="389.49" font-size="7.5" text-anchor="middle" fill="#333" stroke="#333" stroke-width="0.25">10</text>
<text x="86.40" y="402.16" font-size="8" text-anchor="middle" font-weight="bold" textLength="24" lengthAdjust="spacingAndGlyphs" fill="#333" stroke="#333" stroke-width="0.25">umap_1</text>
<g transform="translate(12.5,320.8) rotate(-90)">
<text x="0.00" y="2.86" font-size="8" text-anchor="middle" font-weight="bold" textLength="24" lengthAdjust="spacingAndGlyphs" fill="#333" stroke="#333" stroke-width="0.25">umap_2</text>
</g>
<text x="70.60" y="259.90" font-size="9.5" fill="#111" stroke="#111" stroke-width="0.25">ABCC4</text>
<defs><linearGradient id="cb0" x1="0" y1="1" x2="0" y2="0"><stop offset="0" stop-color="#34589a"/><stop offset="0.12" stop-color="#3f88b0"/><stop offset="0.3" stop-color="#5ab8a0"/><stop offset="0.45" stop-color="#b4da98"/><stop offset="0.55" stop-color="#f6f2a4"/><stop offset="0.66" stop-color="#fcc070"/><stop offset="0.77" stop-color="#f68a50"/><stop offset="0.88" stop-color="#dc4646"/><stop offset="1" stop-color="#8a0a40"/></linearGradient></defs>
<rect x="140.4" y="300.5" width="8" height="41.0" fill="url(#cb0)"/>
<text x="152.40" y="315.12" font-size="7.6" fill="#333" stroke="#333" stroke-width="0.25">1.0</text>
<text x="152.40" y="329.82" font-size="7.6" fill="#333" stroke="#333" stroke-width="0.25">0.5</text>
<text x="152.40" y="344.02" font-size="7.6" fill="#333" stroke="#333" stroke-width="0.25">0.0</text>
<path d="M219.7,321.4 L220.8,319.1 L223.6,318.0 L227.9,316.8 L230.0,315.0 L233.2,312.8 L240.4,312.2 L251.4,314.0 L254.0,318.2 L255.6,327.6 L258.2,329.6 L259.5,336.9 L260.9,345.9 L258.7,349.5 L251.4,350.1 L244.0,350.7 L243.1,351.9 L242.7,347.0 L241.7,342.4 L240.2,339.0 L237.4,337.2 L232.5,334.7 L225.4,334.2 L220.4,333.6 L219.9,331.9 L219.6,328.4 L219.4,324.3Z" fill="#5158a5"/>
<path d="M219.7,321.4 L220.8,319.1 L223.6,318.0 L227.9,316.8 L230.0,315.0 L233.2,312.8 L235.2,315.8 L234.5,321.8 L233.0,329.0 L232.5,334.7 L225.4,334.2 L220.4,333.6 L219.9,331.9 L219.6,328.4 L219.4,324.3Z" fill="#5158a5"/>
<path d="M232.3,323.6 L238.5,319.4 L245.9,318.2 L251.4,318.2 L254.0,323.0 L255.4,330.8 L255.8,338.7 L253.2,343.5 L247.7,344.1 L243.3,345.9 L241.8,341.1 L239.6,337.5 L236.0,334.4 L232.3,332.0 L230.1,328.4Z" fill="#5158a5"/>
<path d="M233.5,309.3 L239.5,307.5 L248.0,308.7 L252.1,309.1 L252.9,313.4 L251.4,317.6 L247.7,318.2 L240.4,318.2 L235.2,318.8 L231.5,320.0 L229.3,318.2 L230.8,315.2 L232.5,312.8Z" fill="#5b63a4"/>
<path d="M248.3,271.7 L250.8,271.3 L251.1,273.1 L250.0,275.0 L249.6,277.2 L250.1,279.6 L251.1,283.4 L251.7,287.9 L252.2,293.5 L252.2,299.1 L251.8,303.7 L251.4,308.5 L248.0,308.7 L239.5,307.5 L233.5,309.3 L232.5,307.0 L231.0,303.5 L230.5,299.1 L230.7,294.4 L231.9,290.8 L233.6,287.9 L235.8,284.7 L238.1,281.9 L240.9,280.1 L244.3,279.1 L247.2,278.7 L248.3,276.9 L248.8,274.2Z" fill="#5158a5"/>
<path d="M256.0,282.2 L259.2,282.2 L262.0,283.4 L264.5,284.8 L265.2,286.6 L264.5,290.0 L263.4,292.3 L261.3,295.2 L258.5,297.5 L256.4,299.9 L254.6,301.0 L253.9,299.9 L254.6,295.8 L254.9,290.0 L254.7,285.3 L255.3,283.1Z" fill="#5158a5"/>
<path d="M253.2,309.1 L255.1,307.9 L257.3,308.5 L258.6,310.4 L258.9,313.4 L258.4,316.4 L257.3,318.8 L255.4,319.7 L253.6,318.5 L252.5,315.2 L252.1,311.6Z" fill="#5158a5"/>
<path d="M255.1,313.4 L256.5,312.8 L257.6,314.0 L257.8,316.4 L256.9,318.2 L255.4,318.5 L254.9,316.4Z" fill="#5158a5"/>
<path d="M258.6,320.0 L260.3,320.3 L260.0,322.7 L258.7,322.4Z" fill="#5158a5"/>
<path d="M263.7,318.2 L265.4,317.9 L265.2,319.7 L263.9,320.0Z" fill="#5158a5"/>
<path d="M254.0,318.2 L256.9,320.6 L259.5,323.0 L261.3,326.6 L261.7,332.6 L260.6,337.5 L258.7,338.7 L257.3,330.8 L255.6,327.6Z" fill="#5158a5"/>
<path d="M244.0,344.1 L247.7,340.5 L253.2,339.3 L258.7,339.9 L260.9,344.1 L259.8,348.3 L255.1,348.3 L249.6,347.7 L244.8,347.7Z" fill="#5158a5"/>
<path d="M242.9,348.3 L246.6,347.7 L253.2,348.3 L259.5,348.9 L263.2,352.5 L262.4,359.1 L261.4,362.4 L258.8,364.5 L254.4,365.5 L249.3,364.5 L246.1,361.9 L243.6,357.7 L242.3,352.5Z" fill="#5158a5"/>
<path d="M260.9,351.9 L264.0,352.3 L266.1,351.7 L268.6,351.7 L270.7,352.3 L271.8,354.0 L271.8,356.3 L270.7,357.5 L268.9,357.5 L267.5,356.9 L266.5,358.1 L267.2,359.8 L268.6,361.6 L270.0,363.2 L270.1,366.2 L268.9,367.9 L266.5,369.1 L264.7,369.1 L263.6,367.3 L262.6,365.0 L261.1,363.2 L260.2,359.1Z" fill="#5158a5"/>
<path d="M259.5,339.9 L261.3,338.7 L265.4,336.3 L269.8,334.6 L274.8,331.7 L279.0,330.5 L282.2,330.4 L282.6,332.6 L282.2,334.6 L279.0,335.7 L274.8,337.3 L271.2,339.9 L269.8,342.9 L271.2,345.3 L271.6,348.3 L269.0,350.4 L266.1,351.3 L262.4,351.9 L260.2,349.5 L259.5,344.7Z" fill="#5158a5"/>
<path d="M266.1,335.7 L269.8,332.6 L274.2,328.1 L274.7,329.3 L270.5,333.8 L266.8,337.2Z" fill="#5158a5"/>
<path d="M263.7,324.5 L264.6,324.8 L264.1,330.2 L262.8,335.7 L261.5,336.3 L262.6,330.2Z" fill="#5158a5"/>
<path d="M275.1,303.4 L277.2,301.2 L280.4,300.3 L285.7,301.2 L289.9,302.1 L292.0,303.4 L293.1,305.5 L292.6,307.7 L290.5,309.4 L289.4,312.0 L288.8,313.8 L290.5,320.8 L290.4,325.3 L292.9,329.3 L294.4,334.2 L295.1,339.0 L294.9,343.9 L293.4,347.2 L290.4,349.6 L286.5,350.0 L282.5,348.8 L279.5,346.4 L278.5,342.3 L278.5,337.5 L279.5,333.4 L281.0,330.1 L281.5,326.1 L280.4,321.8 L277.9,319.4 L275.6,317.3 L274.0,316.4 L271.9,312.9 L272.4,309.4 L273.0,306.9Z" fill="#5158a5"/>
<path d="M287.3,313.8 L288.9,313.4 L290.5,317.6 L290.5,320.8 L288.9,320.6 L287.8,317.0Z" fill="#5158a5"/>
<path d="M214.8,302.0 L215.7,302.0 L215.7,303.0 L214.8,303.0Z" fill="#5158a5"/>
<path d="M276.6,358.2 L278.6,357.3 L280.4,356.4 L281.5,356.6 L281.2,357.9 L279.3,358.8 L277.1,359.4Z" fill="#5158a5"/>
<path d="M272.0,348.0 L274.9,346.2 L275.7,346.8 L272.7,348.9Z" fill="#5158a5"/>
<path d="M271.4,347.1 L272.2,347.0 L272.2,347.8 L271.4,347.9Z" fill="#5158a5"/>
<path d="M283.7,367.8 L284.8,368.2 L284.7,369.1 L283.6,368.8Z" fill="#5158a5"/>
<path d="M240.4,309.7 L243.3,309.1 L244.0,312.2 L242.6,314.0 L240.4,313.4Z" fill="#c3ce96"/>
<path d="M252.3 285.7h1.1v1.1h-1.1zM252.0 298.7h1.1v1.1h-1.1zM251.4 286.4h1.1v1.1h-1.1zM251.6 299.5h1.1v1.1h-1.1zM251.0 285.6h1.1v1.1h-1.1zM251.8 293.4h1.1v1.1h-1.1zM251.7 297.9h1.1v1.1h-1.1zM251.9 286.1h1.1v1.1h-1.1zM252.0 288.7h1.1v1.1h-1.1zM252.6 298.7h1.1v1.1h-1.1zM253.1 291.2h1.1v1.1h-1.1zM251.8 292.0h1.1v1.1h-1.1zM251.9 298.8h1.1v1.1h-1.1zM250.9 293.1h1.1v1.1h-1.1zM252.2 289.9h1.1v1.1h-1.1zM250.9 295.9h1.1v1.1h-1.1zM290.2 319.6h1.1v1.1h-1.1zM288.6 318.3h1.1v1.1h-1.1zM289.3 318.5h1.1v1.1h-1.1zM284.9 310.4h1.1v1.1h-1.1zM289.2 317.8h1.1v1.1h-1.1zM289.8 313.9h1.1v1.1h-1.1zM289.8 309.8h1.1v1.1h-1.1zM290.3 319.7h1.1v1.1h-1.1zM286.2 308.9h1.1v1.1h-1.1zM287.6 317.1h1.1v1.1h-1.1zM286.2 308.8h1.1v1.1h-1.1zM285.6 310.7h1.1v1.1h-1.1zM256.1 323.2h1.1v1.1h-1.1zM258.9 328.9h1.1v1.1h-1.1zM258.1 324.5h1.1v1.1h-1.1zM260.7 323.5h1.1v1.1h-1.1zM259.0 335.9h1.1v1.1h-1.1zM255.5 320.1h1.1v1.1h-1.1zM257.5 331.3h1.1v1.1h-1.1zM259.0 331.7h1.1v1.1h-1.1zM256.9 331.2h1.1v1.1h-1.1zM258.2 320.2h1.1v1.1h-1.1zM258.1 324.2h1.1v1.1h-1.1zM256.1 326.5h1.1v1.1h-1.1zM257.5 323.7h1.1v1.1h-1.1zM254.8 318.6h1.1v1.1h-1.1zM257.4 331.3h1.1v1.1h-1.1zM256.3 332.2h1.1v1.1h-1.1zM260.8 333.5h1.1v1.1h-1.1zM257.2 326.9h1.1v1.1h-1.1zM256.3 330.3h1.1v1.1h-1.1zM259.1 323.1h1.1v1.1h-1.1zM258.7 331.8h1.1v1.1h-1.1zM256.8 332.6h1.1v1.1h-1.1zM257.3 323.1h1.1v1.1h-1.1zM256.1 322.1h1.1v1.1h-1.1zM256.1 321.6h1.1v1.1h-1.1zM258.4 331.2h1.1v1.1h-1.1zM260.5 326.8h1.1v1.1h-1.1zM257.9 332.3h1.1v1.1h-1.1zM260.6 328.1h1.1v1.1h-1.1zM256.0 329.8h1.1v1.1h-1.1zM260.7 324.5h1.1v1.1h-1.1zM258.3 327.5h1.1v1.1h-1.1zM266.4 329.9h1.1v1.1h-1.1zM267.1 326.2h1.1v1.1h-1.1zM265.2 327.2h1.1v1.1h-1.1zM275.7 327.9h1.1v1.1h-1.1zM276.1 323.8h1.1v1.1h-1.1zM275.7 323.8h1.1v1.1h-1.1zM266.3 328.6h1.1v1.1h-1.1zM268.3 324.2h1.1v1.1h-1.1zM277.6 326.0h1.1v1.1h-1.1zM269.3 342.0h1.1v1.1h-1.1zM275.5 336.1h1.1v1.1h-1.1zM266.6 339.8h1.1v1.1h-1.1zM278.1 335.7h1.1v1.1h-1.1zM274.0 345.2h1.1v1.1h-1.1zM272.4 344.3h1.1v1.1h-1.1zM279.3 336.5h1.1v1.1h-1.1zM277.2 340.6h1.1v1.1h-1.1zM278.1 345.5h1.1v1.1h-1.1zM268.8 343.1h1.1v1.1h-1.1zM273.8 341.3h1.1v1.1h-1.1zM269.4 341.3h1.1v1.1h-1.1zM274.2 343.3h1.1v1.1h-1.1zM274.4 344.5h1.1v1.1h-1.1zM273.3 338.2h1.1v1.1h-1.1zM271.9 344.1h1.1v1.1h-1.1zM267.2 344.2h1.1v1.1h-1.1zM268.3 345.2h1.1v1.1h-1.1zM267.0 343.2h1.1v1.1h-1.1zM277.0 322.7h1.1v1.1h-1.1zM287.9 318.8h1.1v1.1h-1.1zM275.7 317.4h1.1v1.1h-1.1zM282.5 322.1h1.1v1.1h-1.1zM282.8 326.8h1.1v1.1h-1.1zM285.6 318.1h1.1v1.1h-1.1zM284.5 318.6h1.1v1.1h-1.1zM284.2 323.4h1.1v1.1h-1.1zM285.2 325.9h1.1v1.1h-1.1zM278.1 322.3h1.1v1.1h-1.1zM280.0 327.1h1.1v1.1h-1.1zM280.8 328.7h1.1v1.1h-1.1zM278.8 324.9h1.1v1.1h-1.1zM285.7 323.1h1.1v1.1h-1.1zM277.7 319.9h1.1v1.1h-1.1zM285.6 325.0h1.1v1.1h-1.1zM287.2 317.7h1.1v1.1h-1.1zM275.9 322.2h1.1v1.1h-1.1zM278.0 320.0h1.1v1.1h-1.1zM282.1 327.8h1.1v1.1h-1.1zM279.6 323.8h1.1v1.1h-1.1zM285.5 319.0h1.1v1.1h-1.1zM278.9 329.1h1.1v1.1h-1.1zM276.7 320.8h1.1v1.1h-1.1zM287.1 316.6h1.1v1.1h-1.1zM284.3 324.1h1.1v1.1h-1.1zM277.5 325.0h1.1v1.1h-1.1zM279.1 327.3h1.1v1.1h-1.1zM278.3 322.2h1.1v1.1h-1.1zM282.2 319.6h1.1v1.1h-1.1zM281.7 328.3h1.1v1.1h-1.1zM274.1 318.6h1.1v1.1h-1.1zM280.4 330.2h1.1v1.1h-1.1zM286.8 320.9h1.1v1.1h-1.1zM284.0 325.6h1.1v1.1h-1.1zM284.4 319.9h1.1v1.1h-1.1zM283.6 327.4h1.1v1.1h-1.1zM276.2 318.5h1.1v1.1h-1.1zM279.7 321.6h1.1v1.1h-1.1zM286.2 325.6h1.1v1.1h-1.1zM285.3 323.9h1.1v1.1h-1.1zM279.5 324.3h1.1v1.1h-1.1zM253.5 306.0h1.1v1.1h-1.1zM252.3 308.0h1.1v1.1h-1.1zM253.8 301.3h1.1v1.1h-1.1zM253.5 306.2h1.1v1.1h-1.1zM251.8 307.6h1.1v1.1h-1.1zM253.7 303.5h1.1v1.1h-1.1zM259.2 323.3h1.1v1.1h-1.1zM261.8 322.1h1.1v1.1h-1.1zM263.5 320.0h1.1v1.1h-1.1zM263.2 319.9h1.1v1.1h-1.1zM260.5 319.5h1.1v1.1h-1.1zM259.6 320.5h1.1v1.1h-1.1zM257.6 321.4h1.1v1.1h-1.1zM259.1 320.1h1.1v1.1h-1.1zM262.1 324.4h1.1v1.1h-1.1zM257.1 321.3h1.1v1.1h-1.1zM248.3 340.3h1.1v1.1h-1.1zM236.8 335.7h1.1v1.1h-1.1zM269.2 347.1h1.1v1.1h-1.1zM225.0 324.7h1.1v1.1h-1.1zM235.5 296.7h1.1v1.1h-1.1zM251.5 332.2h1.1v1.1h-1.1zM236.4 327.3h1.1v1.1h-1.1zM285.0 331.2h1.1v1.1h-1.1zM255.1 349.8h1.1v1.1h-1.1zM260.8 341.0h1.1v1.1h-1.1zM288.0 328.8h1.1v1.1h-1.1zM238.9 321.5h1.1v1.1h-1.1zM263.8 355.2h1.1v1.1h-1.1zM243.7 326.2h1.1v1.1h-1.1zM237.1 287.0h1.1v1.1h-1.1zM239.9 320.5h1.1v1.1h-1.1zM273.2 310.2h1.1v1.1h-1.1zM264.9 365.2h1.1v1.1h-1.1zM285.2 313.6h1.1v1.1h-1.1zM260.2 346.8h1.1v1.1h-1.1zM252.7 338.4h1.1v1.1h-1.1zM281.5 347.3h1.1v1.1h-1.1zM254.2 330.3h1.1v1.1h-1.1zM243.8 356.7h1.1v1.1h-1.1zM266.0 362.3h1.1v1.1h-1.1zM262.6 363.9h1.1v1.1h-1.1zM250.1 271.7h1.1v1.1h-1.1zM286.8 318.9h1.1v1.1h-1.1zM254.5 317.5h1.1v1.1h-1.1zM243.3 282.9h1.1v1.1h-1.1zM237.0 305.3h1.1v1.1h-1.1zM291.9 330.7h1.1v1.1h-1.1zM250.8 339.2h1.1v1.1h-1.1zM245.3 349.7h1.1v1.1h-1.1zM273.9 346.3h1.1v1.1h-1.1zM278.7 311.4h1.1v1.1h-1.1zM258.5 341.0h1.1v1.1h-1.1zM274.9 334.1h1.1v1.1h-1.1zM264.3 337.8h1.1v1.1h-1.1zM245.2 325.5h1.1v1.1h-1.1zM280.1 316.9h1.1v1.1h-1.1zM287.8 309.6h1.1v1.1h-1.1zM233.5 301.6h1.1v1.1h-1.1zM242.3 351.2h1.1v1.1h-1.1zM239.7 322.6h1.1v1.1h-1.1zM277.4 332.0h1.1v1.1h-1.1zM232.6 302.2h1.1v1.1h-1.1zM290.0 340.1h1.1v1.1h-1.1zM245.9 325.4h1.1v1.1h-1.1zM243.5 295.1h1.1v1.1h-1.1zM256.4 355.7h1.1v1.1h-1.1zM234.8 294.3h1.1v1.1h-1.1zM281.1 300.5h1.1v1.1h-1.1zM247.4 339.9h1.1v1.1h-1.1zM288.8 320.7h1.1v1.1h-1.1zM283.0 319.5h1.1v1.1h-1.1zM273.0 305.6h1.1v1.1h-1.1zM268.5 348.3h1.1v1.1h-1.1zM285.2 302.5h1.1v1.1h-1.1zM249.0 273.3h1.1v1.1h-1.1zM262.9 341.1h1.1v1.1h-1.1zM256.0 340.3h1.1v1.1h-1.1zM250.1 321.2h1.1v1.1h-1.1zM247.0 302.2h1.1v1.1h-1.1zM255.6 321.3h1.1v1.1h-1.1zM288.2 303.6h1.1v1.1h-1.1zM273.3 336.9h1.1v1.1h-1.1zM291.9 341.2h1.1v1.1h-1.1zM289.5 346.6h1.1v1.1h-1.1zM258.2 333.1h1.1v1.1h-1.1zM290.4 345.5h1.1v1.1h-1.1zM236.7 283.5h1.1v1.1h-1.1zM289.0 306.1h1.1v1.1h-1.1zM251.8 355.6h1.1v1.1h-1.1zM238.7 303.1h1.1v1.1h-1.1zM250.5 354.3h1.1v1.1h-1.1zM250.8 302.6h1.1v1.1h-1.1zM239.7 282.1h1.1v1.1h-1.1zM293.2 337.7h1.1v1.1h-1.1zM240.5 293.0h1.1v1.1h-1.1zM243.3 297.7h1.1v1.1h-1.1zM261.2 288.8h1.1v1.1h-1.1zM283.7 321.8h1.1v1.1h-1.1zM223.5 320.2h1.1v1.1h-1.1zM282.0 347.9h1.1v1.1h-1.1zM243.6 313.3h1.1v1.1h-1.1zM244.6 288.0h1.1v1.1h-1.1zM245.7 338.4h1.1v1.1h-1.1zM233.8 300.6h1.1v1.1h-1.1zM230.9 318.8h1.1v1.1h-1.1zM253.8 298.0h1.1v1.1h-1.1zM274.8 312.9h1.1v1.1h-1.1zM220.1 331.9h1.1v1.1h-1.1zM258.4 283.9h1.1v1.1h-1.1zM244.2 328.6h1.1v1.1h-1.1zM238.1 316.5h1.1v1.1h-1.1zM243.9 333.7h1.1v1.1h-1.1zM237.1 293.9h1.1v1.1h-1.1zM288.1 305.6h1.1v1.1h-1.1zM290.1 334.8h1.1v1.1h-1.1zM275.5 313.6h1.1v1.1h-1.1zM249.6 284.7h1.1v1.1h-1.1zM278.1 314.3h1.1v1.1h-1.1zM248.6 310.0h1.1v1.1h-1.1zM253.0 341.0h1.1v1.1h-1.1zM248.8 325.5h1.1v1.1h-1.1zM274.6 336.4h1.1v1.1h-1.1zM286.0 313.8h1.1v1.1h-1.1zM289.5 324.1h1.1v1.1h-1.1zM242.9 339.9h1.1v1.1h-1.1zM254.7 284.8h1.1v1.1h-1.1zM219.2 325.1h1.1v1.1h-1.1zM259.5 285.6h1.1v1.1h-1.1zM276.6 331.9h1.1v1.1h-1.1zM283.9 304.3h1.1v1.1h-1.1zM248.8 349.4h1.1v1.1h-1.1zM253.9 336.7h1.1v1.1h-1.1zM254.4 354.1h1.1v1.1h-1.1zM280.6 340.8h1.1v1.1h-1.1zM245.0 307.5h1.1v1.1h-1.1zM241.6 340.6h1.1v1.1h-1.1zM237.2 284.6h1.1v1.1h-1.1zM261.4 292.9h1.1v1.1h-1.1zM244.6 354.6h1.1v1.1h-1.1zM250.6 292.1h1.1v1.1h-1.1zM248.5 285.7h1.1v1.1h-1.1zM231.3 323.6h1.1v1.1h-1.1zM267.7 354.9h1.1v1.1h-1.1zM279.7 308.4h1.1v1.1h-1.1zM239.9 286.9h1.1v1.1h-1.1zM248.3 313.3h1.1v1.1h-1.1zM286.3 310.3h1.1v1.1h-1.1zM237.2 291.1h1.1v1.1h-1.1zM258.9 281.9h1.1v1.1h-1.1zM256.2 355.0h1.1v1.1h-1.1zM250.9 361.3h1.1v1.1h-1.1zM287.5 341.2h1.1v1.1h-1.1zM281.6 329.8h1.1v1.1h-1.1zM232.4 313.6h1.1v1.1h-1.1zM251.5 325.6h1.1v1.1h-1.1zM287.7 332.9h1.1v1.1h-1.1zM283.6 348.6h1.1v1.1h-1.1zM252.4 310.6h1.1v1.1h-1.1zM250.1 321.5h1.1v1.1h-1.1zM232.6 303.9h1.1v1.1h-1.1zM257.1 354.5h1.1v1.1h-1.1zM253.5 313.4h1.1v1.1h-1.1zM282.4 312.8h1.1v1.1h-1.1zM252.5 337.5h1.1v1.1h-1.1zM283.0 315.1h1.1v1.1h-1.1zM247.8 286.8h1.1v1.1h-1.1zM272.3 309.1h1.1v1.1h-1.1zM256.9 292.5h1.1v1.1h-1.1zM246.9 316.8h1.1v1.1h-1.1zM286.8 329.8h1.1v1.1h-1.1zM275.9 308.9h1.1v1.1h-1.1zM248.7 274.1h1.1v1.1h-1.1zM281.6 336.9h1.1v1.1h-1.1zM278.2 307.8h1.1v1.1h-1.1zM257.5 330.2h1.1v1.1h-1.1zM283.9 319.7h1.1v1.1h-1.1zM284.9 337.8h1.1v1.1h-1.1zM247.3 327.6h1.1v1.1h-1.1zM245.2 338.4h1.1v1.1h-1.1zM259.8 357.5h1.1v1.1h-1.1zM247.1 296.2h1.1v1.1h-1.1zM283.8 311.5h1.1v1.1h-1.1zM245.0 307.7h1.1v1.1h-1.1zM242.5 317.7h1.1v1.1h-1.1zM232.7 307.5h1.1v1.1h-1.1zM258.4 348.8h1.1v1.1h-1.1zM283.1 304.2h1.1v1.1h-1.1zM237.7 303.2h1.1v1.1h-1.1zM234.3 301.9h1.1v1.1h-1.1zM269.4 335.0h1.1v1.1h-1.1zM247.7 287.2h1.1v1.1h-1.1zM238.9 323.4h1.1v1.1h-1.1zM245.5 280.7h1.1v1.1h-1.1zM246.7 334.9h1.1v1.1h-1.1zM242.6 347.5h1.1v1.1h-1.1zM257.4 291.1h1.1v1.1h-1.1zM244.5 293.0h1.1v1.1h-1.1zM276.8 333.2h1.1v1.1h-1.1zM246.5 288.9h1.1v1.1h-1.1zM237.6 327.8h1.1v1.1h-1.1zM289.1 348.9h1.1v1.1h-1.1zM243.8 296.5h1.1v1.1h-1.1zM237.2 305.0h1.1v1.1h-1.1zM288.9 308.2h1.1v1.1h-1.1zM259.8 349.6h1.1v1.1h-1.1zM251.0 351.7h1.1v1.1h-1.1zM238.9 330.2h1.1v1.1h-1.1zM286.1 307.9h1.1v1.1h-1.1zM263.8 288.7h1.1v1.1h-1.1zM236.3 289.8h1.1v1.1h-1.1zM255.3 290.1h1.1v1.1h-1.1zM272.5 330.5h1.1v1.1h-1.1zM268.9 337.0h1.1v1.1h-1.1zM250.4 361.3h1.1v1.1h-1.1zM287.7 342.9h1.1v1.1h-1.1zM235.2 310.7h1.1v1.1h-1.1zM261.1 360.1h1.1v1.1h-1.1zM241.0 308.1h1.1v1.1h-1.1zM285.2 320.1h1.1v1.1h-1.1zM242.0 288.4h1.1v1.1h-1.1zM246.1 341.0h1.1v1.1h-1.1zM274.0 304.1h1.1v1.1h-1.1zM250.3 294.2h1.1v1.1h-1.1zM252.3 320.2h1.1v1.1h-1.1zM265.7 357.2h1.1v1.1h-1.1zM233.1 298.4h1.1v1.1h-1.1zM284.5 308.0h1.1v1.1h-1.1zM269.0 340.3h1.1v1.1h-1.1zM242.2 296.7h1.1v1.1h-1.1zM249.8 291.0h1.1v1.1h-1.1zM256.7 349.0h1.1v1.1h-1.1zM282.1 314.4h1.1v1.1h-1.1zM251.2 302.5h1.1v1.1h-1.1zM247.0 317.5h1.1v1.1h-1.1zM244.8 359.7h1.1v1.1h-1.1zM256.5 308.1h1.1v1.1h-1.1zM243.7 337.6h1.1v1.1h-1.1zM266.6 348.5h1.1v1.1h-1.1zM240.1 325.0h1.1v1.1h-1.1zM262.9 342.7h1.1v1.1h-1.1zM234.6 326.7h1.1v1.1h-1.1zM252.9 342.7h1.1v1.1h-1.1zM239.9 304.0h1.1v1.1h-1.1zM238.8 313.2h1.1v1.1h-1.1zM277.9 307.2h1.1v1.1h-1.1zM280.2 311.8h1.1v1.1h-1.1zM226.4 330.6h1.1v1.1h-1.1zM249.4 342.4h1.1v1.1h-1.1zM266.8 352.3h1.1v1.1h-1.1zM255.3 336.8h1.1v1.1h-1.1zM243.8 329.7h1.1v1.1h-1.1zM255.0 354.6h1.1v1.1h-1.1zM282.7 302.1h1.1v1.1h-1.1zM232.3 323.7h1.1v1.1h-1.1zM248.3 306.4h1.1v1.1h-1.1zM239.4 309.1h1.1v1.1h-1.1zM261.6 345.3h1.1v1.1h-1.1zM274.7 309.4h1.1v1.1h-1.1zM256.6 320.9h1.1v1.1h-1.1zM262.9 343.8h1.1v1.1h-1.1zM247.6 345.0h1.1v1.1h-1.1zM250.8 360.3h1.1v1.1h-1.1zM254.7 318.3h1.1v1.1h-1.1zM261.5 286.2h1.1v1.1h-1.1zM281.5 306.3h1.1v1.1h-1.1zM254.2 320.5h1.1v1.1h-1.1zM294.0 337.1h1.1v1.1h-1.1zM229.7 324.2h1.1v1.1h-1.1zM245.9 350.3h1.1v1.1h-1.1zM284.2 341.5h1.1v1.1h-1.1zM243.4 307.2h1.1v1.1h-1.1zM281.0 337.3h1.1v1.1h-1.1zM248.4 315.8h1.1v1.1h-1.1zM242.8 316.9h1.1v1.1h-1.1zM244.4 345.0h1.1v1.1h-1.1zM229.5 316.4h1.1v1.1h-1.1zM249.5 347.9h1.1v1.1h-1.1zM277.8 311.8h1.1v1.1h-1.1zM251.6 358.7h1.1v1.1h-1.1zM282.8 341.3h1.1v1.1h-1.1zM248.5 343.3h1.1v1.1h-1.1zM289.2 348.5h1.1v1.1h-1.1zM249.4 292.6h1.1v1.1h-1.1zM245.6 304.6h1.1v1.1h-1.1zM240.7 315.6h1.1v1.1h-1.1zM288.5 311.3h1.1v1.1h-1.1zM281.8 302.1h1.1v1.1h-1.1zM270.2 339.7h1.1v1.1h-1.1zM244.1 350.6h1.1v1.1h-1.1zM255.6 317.7h1.1v1.1h-1.1zM255.2 348.1h1.1v1.1h-1.1zM265.2 339.2h1.1v1.1h-1.1zM240.6 284.9h1.1v1.1h-1.1zM246.6 339.2h1.1v1.1h-1.1zM249.0 334.2h1.1v1.1h-1.1zM280.3 341.8h1.1v1.1h-1.1zM225.8 326.5h1.1v1.1h-1.1zM262.3 289.1h1.1v1.1h-1.1zM250.6 351.9h1.1v1.1h-1.1zM237.7 322.2h1.1v1.1h-1.1zM242.4 334.7h1.1v1.1h-1.1zM220.8 329.6h1.1v1.1h-1.1zM246.0 357.0h1.1v1.1h-1.1zM240.7 308.7h1.1v1.1h-1.1zM273.8 305.9h1.1v1.1h-1.1zM251.9 339.3h1.1v1.1h-1.1zM245.0 306.4h1.1v1.1h-1.1zM240.9 340.0h1.1v1.1h-1.1zM240.9 333.0h1.1v1.1h-1.1zM242.4 300.7h1.1v1.1h-1.1zM237.2 316.1h1.1v1.1h-1.1zM277.3 318.7h1.1v1.1h-1.1zM283.8 333.7h1.1v1.1h-1.1zM240.9 338.7h1.1v1.1h-1.1zM226.4 320.6h1.1v1.1h-1.1zM249.3 308.4h1.1v1.1h-1.1zM250.4 341.6h1.1v1.1h-1.1zM267.1 335.2h1.1v1.1h-1.1zM230.2 297.3h1.1v1.1h-1.1zM242.3 326.9h1.1v1.1h-1.1zM275.2 306.2h1.1v1.1h-1.1zM284.9 303.9h1.1v1.1h-1.1zM221.2 331.2h1.1v1.1h-1.1zM240.6 294.6h1.1v1.1h-1.1zM260.7 355.2h1.1v1.1h-1.1zM285.5 326.9h1.1v1.1h-1.1zM250.7 318.4h1.1v1.1h-1.1zM228.7 317.5h1.1v1.1h-1.1zM261.6 286.5h1.1v1.1h-1.1zM239.3 308.2h1.1v1.1h-1.1zM238.4 331.3h1.1v1.1h-1.1zM239.8 290.6h1.1v1.1h-1.1zM268.7 361.9h1.1v1.1h-1.1zM287.0 309.9h1.1v1.1h-1.1zM244.0 332.2h1.1v1.1h-1.1zM263.0 363.9h1.1v1.1h-1.1zM289.9 337.3h1.1v1.1h-1.1zM286.4 344.3h1.1v1.1h-1.1zM249.3 283.6h1.1v1.1h-1.1zM235.4 291.5h1.1v1.1h-1.1zM276.1 333.2h1.1v1.1h-1.1zM279.4 340.5h1.1v1.1h-1.1zM246.8 331.3h1.1v1.1h-1.1zM276.5 358.8h1.1v1.1h-1.1zM254.7 297.3h1.1v1.1h-1.1zM284.1 307.2h1.1v1.1h-1.1zM279.7 345.0h1.1v1.1h-1.1zM225.9 333.5h1.1v1.1h-1.1zM256.1 348.6h1.1v1.1h-1.1zM288.7 305.7h1.1v1.1h-1.1zM246.1 310.0h1.1v1.1h-1.1zM260.5 326.4h1.1v1.1h-1.1zM242.1 333.1h1.1v1.1h-1.1zM257.2 341.2h1.1v1.1h-1.1zM261.7 349.5h1.1v1.1h-1.1zM244.2 286.2h1.1v1.1h-1.1zM290.3 343.7h1.1v1.1h-1.1zM245.6 350.9h1.1v1.1h-1.1zM249.3 363.5h1.1v1.1h-1.1zM247.3 310.3h1.1v1.1h-1.1zM250.6 356.5h1.1v1.1h-1.1zM243.0 299.3h1.1v1.1h-1.1zM246.7 334.6h1.1v1.1h-1.1zM239.5 296.5h1.1v1.1h-1.1zM242.2 290.8h1.1v1.1h-1.1zM253.7 349.5h1.1v1.1h-1.1zM279.6 311.2h1.1v1.1h-1.1zM222.8 317.7h1.1v1.1h-1.1zM234.0 327.3h1.1v1.1h-1.1zM241.7 287.8h1.1v1.1h-1.1zM259.6 291.4h1.1v1.1h-1.1zM252.9 340.0h1.1v1.1h-1.1zM257.3 351.0h1.1v1.1h-1.1zM262.6 348.1h1.1v1.1h-1.1zM285.1 305.9h1.1v1.1h-1.1zM254.9 291.7h1.1v1.1h-1.1zM279.1 301.9h1.1v1.1h-1.1zM244.0 320.2h1.1v1.1h-1.1zM229.8 322.4h1.1v1.1h-1.1zM284.5 309.9h1.1v1.1h-1.1zM223.3 327.9h1.1v1.1h-1.1zM238.8 332.1h1.1v1.1h-1.1zM254.6 319.2h1.1v1.1h-1.1zM258.5 357.1h1.1v1.1h-1.1zM247.2 347.1h1.1v1.1h-1.1zM237.6 303.5h1.1v1.1h-1.1zM237.3 307.9h1.1v1.1h-1.1zM230.6 328.3h1.1v1.1h-1.1zM248.3 313.2h1.1v1.1h-1.1zM285.2 310.7h1.1v1.1h-1.1zM277.3 303.6h1.1v1.1h-1.1zM246.8 350.9h1.1v1.1h-1.1zM247.3 323.3h1.1v1.1h-1.1zM260.8 283.9h1.1v1.1h-1.1zM255.0 291.7h1.1v1.1h-1.1zM236.5 295.0h1.1v1.1h-1.1zM289.8 329.0h1.1v1.1h-1.1zM281.5 341.4h1.1v1.1h-1.1zM245.5 342.8h1.1v1.1h-1.1zM257.0 349.5h1.1v1.1h-1.1zM267.5 365.0h1.1v1.1h-1.1zM243.2 300.9h1.1v1.1h-1.1zM283.1 337.2h1.1v1.1h-1.1zM246.5 340.4h1.1v1.1h-1.1zM254.9 309.3h1.1v1.1h-1.1zM245.7 279.3h1.1v1.1h-1.1zM286.2 323.8h1.1v1.1h-1.1zM260.4 342.6h1.1v1.1h-1.1zM250.8 294.6h1.1v1.1h-1.1zM283.7 341.6h1.1v1.1h-1.1zM250.1 292.7h1.1v1.1h-1.1zM229.3 329.2h1.1v1.1h-1.1zM259.7 293.4h1.1v1.1h-1.1zM264.7 336.9h1.1v1.1h-1.1zM230.5 302.7h1.1v1.1h-1.1zM220.8 321.0h1.1v1.1h-1.1zM259.9 286.0h1.1v1.1h-1.1zM221.6 323.3h1.1v1.1h-1.1zM250.6 289.1h1.1v1.1h-1.1zM249.9 293.6h1.1v1.1h-1.1zM244.5 286.4h1.1v1.1h-1.1zM287.5 342.8h1.1v1.1h-1.1zM239.1 280.7h1.1v1.1h-1.1zM260.9 351.4h1.1v1.1h-1.1zM238.9 291.6h1.1v1.1h-1.1zM242.7 334.8h1.1v1.1h-1.1zM282.9 335.7h1.1v1.1h-1.1zM285.6 334.2h1.1v1.1h-1.1zM249.7 317.8h1.1v1.1h-1.1zM254.6 315.4h1.1v1.1h-1.1zM256.9 334.4h1.1v1.1h-1.1zM245.0 353.5h1.1v1.1h-1.1zM243.3 303.0h1.1v1.1h-1.1zM277.8 310.7h1.1v1.1h-1.1zM270.1 347.3h1.1v1.1h-1.1zM246.2 353.3h1.1v1.1h-1.1zM283.0 335.7h1.1v1.1h-1.1zM245.0 300.8h1.1v1.1h-1.1zM263.3 365.9h1.1v1.1h-1.1zM249.5 352.2h1.1v1.1h-1.1zM289.2 339.0h1.1v1.1h-1.1zM271.3 337.5h1.1v1.1h-1.1zM263.3 343.5h1.1v1.1h-1.1zM245.3 360.7h1.1v1.1h-1.1zM247.3 301.6h1.1v1.1h-1.1zM283.1 305.7h1.1v1.1h-1.1zM254.1 327.4h1.1v1.1h-1.1zM248.4 334.1h1.1v1.1h-1.1zM253.9 350.0h1.1v1.1h-1.1zM289.5 327.2h1.1v1.1h-1.1zM282.0 336.0h1.1v1.1h-1.1zM246.6 347.2h1.1v1.1h-1.1zM256.3 316.2h1.1v1.1h-1.1zM276.5 317.2h1.1v1.1h-1.1zM236.7 317.0h1.1v1.1h-1.1zM248.3 303.3h1.1v1.1h-1.1zM243.8 296.2h1.1v1.1h-1.1zM230.4 321.0h1.1v1.1h-1.1zM256.3 332.0h1.1v1.1h-1.1zM243.9 347.8h1.1v1.1h-1.1zM248.8 349.0h1.1v1.1h-1.1zM249.6 307.5h1.1v1.1h-1.1zM251.4 355.9h1.1v1.1h-1.1zM237.0 302.7h1.1v1.1h-1.1zM242.7 325.6h1.1v1.1h-1.1zM254.3 295.3h1.1v1.1h-1.1zM273.3 309.3h1.1v1.1h-1.1zM270.6 353.8h1.1v1.1h-1.1zM257.8 349.7h1.1v1.1h-1.1zM287.0 349.3h1.1v1.1h-1.1zM243.1 290.9h1.1v1.1h-1.1zM251.5 362.6h1.1v1.1h-1.1zM251.4 294.6h1.1v1.1h-1.1zM243.7 351.6h1.1v1.1h-1.1zM226.4 324.4h1.1v1.1h-1.1zM243.1 307.3h1.1v1.1h-1.1zM283.8 347.0h1.1v1.1h-1.1zM282.3 345.1h1.1v1.1h-1.1zM253.9 359.7h1.1v1.1h-1.1zM282.1 337.2h1.1v1.1h-1.1zM240.4 290.3h1.1v1.1h-1.1zM241.7 294.6h1.1v1.1h-1.1zM289.7 334.9h1.1v1.1h-1.1zM255.6 330.2h1.1v1.1h-1.1zM256.0 327.8h1.1v1.1h-1.1zM260.6 286.3h1.1v1.1h-1.1zM292.9 345.2h1.1v1.1h-1.1zM250.6 297.2h1.1v1.1h-1.1zM243.3 351.9h1.1v1.1h-1.1zM252.3 310.3h1.1v1.1h-1.1zM240.0 284.4h1.1v1.1h-1.1zM257.0 291.8h1.1v1.1h-1.1zM236.1 303.0h1.1v1.1h-1.1zM242.9 324.8h1.1v1.1h-1.1zM277.3 358.4h1.1v1.1h-1.1zM248.8 347.6h1.1v1.1h-1.1zM259.2 284.8h1.1v1.1h-1.1zM282.9 319.0h1.1v1.1h-1.1zM256.6 325.3h1.1v1.1h-1.1zM280.2 306.0h1.1v1.1h-1.1zM252.9 315.1h1.1v1.1h-1.1zM237.5 305.5h1.1v1.1h-1.1zM232.6 312.2h1.1v1.1h-1.1zM269.4 336.9h1.1v1.1h-1.1zM284.9 315.0h1.1v1.1h-1.1zM244.7 342.3h1.1v1.1h-1.1zM276.1 301.8h1.1v1.1h-1.1zM258.1 355.4h1.1v1.1h-1.1zM228.9 331.0h1.1v1.1h-1.1zM250.4 362.8h1.1v1.1h-1.1zM259.2 281.9h1.1v1.1h-1.1zM247.6 321.5h1.1v1.1h-1.1zM253.5 358.1h1.1v1.1h-1.1zM238.2 330.3h1.1v1.1h-1.1zM246.3 305.2h1.1v1.1h-1.1zM254.1 314.9h1.1v1.1h-1.1zM251.4 352.0h1.1v1.1h-1.1zM256.5 331.8h1.1v1.1h-1.1zM275.8 333.8h1.1v1.1h-1.1zM289.1 334.2h1.1v1.1h-1.1zM236.0 318.5h1.1v1.1h-1.1zM250.8 335.8h1.1v1.1h-1.1zM241.5 321.8h1.1v1.1h-1.1zM285.4 345.7h1.1v1.1h-1.1zM285.9 301.2h1.1v1.1h-1.1zM233.7 333.3h1.1v1.1h-1.1zM265.8 362.3h1.1v1.1h-1.1zM238.9 334.0h1.1v1.1h-1.1zM254.4 338.2h1.1v1.1h-1.1zM253.0 351.3h1.1v1.1h-1.1zM247.0 279.1h1.1v1.1h-1.1zM254.4 296.5h1.1v1.1h-1.1zM219.5 331.2h1.1v1.1h-1.1zM233.5 301.7h1.1v1.1h-1.1zM251.1 326.2h1.1v1.1h-1.1zM266.4 362.9h1.1v1.1h-1.1zM236.8 295.1h1.1v1.1h-1.1zM246.1 279.9h1.1v1.1h-1.1zM279.8 300.7h1.1v1.1h-1.1zM244.2 283.6h1.1v1.1h-1.1zM285.9 324.4h1.1v1.1h-1.1zM256.1 289.9h1.1v1.1h-1.1zM257.8 289.0h1.1v1.1h-1.1zM257.6 329.5h1.1v1.1h-1.1zM277.9 304.2h1.1v1.1h-1.1zM259.4 334.1h1.1v1.1h-1.1zM223.9 317.8h1.1v1.1h-1.1zM229.4 323.3h1.1v1.1h-1.1zM285.3 306.2h1.1v1.1h-1.1zM283.8 326.8h1.1v1.1h-1.1zM286.6 332.4h1.1v1.1h-1.1zM253.8 338.1h1.1v1.1h-1.1zM243.0 347.5h1.1v1.1h-1.1zM245.8 297.5h1.1v1.1h-1.1zM221.1 318.4h1.1v1.1h-1.1zM263.8 341.4h1.1v1.1h-1.1zM260.7 355.9h1.1v1.1h-1.1zM278.9 316.9h1.1v1.1h-1.1zM258.3 334.6h1.1v1.1h-1.1zM242.7 326.2h1.1v1.1h-1.1zM235.0 291.0h1.1v1.1h-1.1zM285.8 315.2h1.1v1.1h-1.1zM258.0 328.3h1.1v1.1h-1.1zM250.0 323.6h1.1v1.1h-1.1zM291.0 305.3h1.1v1.1h-1.1zM263.8 358.5h1.1v1.1h-1.1zM238.6 294.8h1.1v1.1h-1.1zM259.3 293.0h1.1v1.1h-1.1zM278.2 317.8h1.1v1.1h-1.1zM263.7 342.2h1.1v1.1h-1.1zM263.0 353.4h1.1v1.1h-1.1zM220.9 331.4h1.1v1.1h-1.1zM242.2 322.0h1.1v1.1h-1.1zM219.1 322.1h1.1v1.1h-1.1zM250.8 336.1h1.1v1.1h-1.1zM244.4 329.8h1.1v1.1h-1.1zM263.2 356.5h1.1v1.1h-1.1zM276.8 335.4h1.1v1.1h-1.1zM285.6 339.6h1.1v1.1h-1.1zM253.0 345.0h1.1v1.1h-1.1zM289.5 317.7h1.1v1.1h-1.1zM287.7 316.9h1.1v1.1h-1.1zM243.3 327.1h1.1v1.1h-1.1zM249.5 307.6h1.1v1.1h-1.1zM245.8 301.2h1.1v1.1h-1.1zM224.8 324.1h1.1v1.1h-1.1zM241.7 333.6h1.1v1.1h-1.1zM277.3 335.0h1.1v1.1h-1.1zM254.9 290.7h1.1v1.1h-1.1zM222.7 329.5h1.1v1.1h-1.1zM245.5 328.3h1.1v1.1h-1.1zM284.4 341.1h1.1v1.1h-1.1zM248.1 359.3h1.1v1.1h-1.1zM279.9 309.8h1.1v1.1h-1.1zM265.3 357.1h1.1v1.1h-1.1zM263.9 354.1h1.1v1.1h-1.1zM289.6 338.4h1.1v1.1h-1.1zM243.3 313.0h1.1v1.1h-1.1zM234.2 297.6h1.1v1.1h-1.1zM283.1 334.8h1.1v1.1h-1.1zM253.8 358.5h1.1v1.1h-1.1zM255.5 346.5h1.1v1.1h-1.1zM292.1 336.9h1.1v1.1h-1.1zM249.3 348.4h1.1v1.1h-1.1zM236.9 323.2h1.1v1.1h-1.1zM238.3 318.8h1.1v1.1h-1.1zM248.7 344.2h1.1v1.1h-1.1zM244.6 336.2h1.1v1.1h-1.1zM281.4 332.4h1.1v1.1h-1.1zM236.9 323.1h1.1v1.1h-1.1zM246.2 296.0h1.1v1.1h-1.1zM231.4 326.5h1.1v1.1h-1.1zM244.0 280.6h1.1v1.1h-1.1zM245.6 318.2h1.1v1.1h-1.1zM254.2 335.7h1.1v1.1h-1.1zM234.7 322.5h1.1v1.1h-1.1zM230.5 298.5h1.1v1.1h-1.1zM233.6 316.4h1.1v1.1h-1.1zM224.4 329.7h1.1v1.1h-1.1zM244.2 287.6h1.1v1.1h-1.1zM232.8 322.2h1.1v1.1h-1.1zM269.8 356.7h1.1v1.1h-1.1zM290.0 331.0h1.1v1.1h-1.1zM241.7 335.8h1.1v1.1h-1.1zM288.8 320.9h1.1v1.1h-1.1zM243.2 309.0h1.1v1.1h-1.1zM281.7 325.0h1.1v1.1h-1.1zM263.7 349.6h1.1v1.1h-1.1zM251.3 354.8h1.1v1.1h-1.1zM259.1 285.9h1.1v1.1h-1.1zM252.0 362.0h1.1v1.1h-1.1zM289.5 326.2h1.1v1.1h-1.1zM243.2 324.1h1.1v1.1h-1.1zM255.1 283.9h1.1v1.1h-1.1zM253.5 362.1h1.1v1.1h-1.1zM257.4 294.6h1.1v1.1h-1.1zM248.4 287.8h1.1v1.1h-1.1zM242.1 352.3h1.1v1.1h-1.1zM256.9 312.7h1.1v1.1h-1.1zM263.1 289.6h1.1v1.1h-1.1zM259.5 356.3h1.1v1.1h-1.1zM280.0 315.3h1.1v1.1h-1.1zM230.6 297.9h1.1v1.1h-1.1zM289.0 322.3h1.1v1.1h-1.1zM283.6 300.5h1.1v1.1h-1.1zM250.2 343.4h1.1v1.1h-1.1zM261.9 292.2h1.1v1.1h-1.1zM284.8 330.1h1.1v1.1h-1.1zM290.9 342.3h1.1v1.1h-1.1zM231.8 320.9h1.1v1.1h-1.1zM244.7 286.1h1.1v1.1h-1.1zM240.7 337.9h1.1v1.1h-1.1zM264.0 285.5h1.1v1.1h-1.1zM254.4 295.9h1.1v1.1h-1.1zM232.6 329.7h1.1v1.1h-1.1zM254.4 319.3h1.1v1.1h-1.1zM284.3 320.4h1.1v1.1h-1.1zM288.2 321.4h1.1v1.1h-1.1zM235.9 292.4h1.1v1.1h-1.1zM256.3 292.8h1.1v1.1h-1.1zM254.4 310.6h1.1v1.1h-1.1zM288.2 324.8h1.1v1.1h-1.1zM290.4 337.9h1.1v1.1h-1.1zM270.4 339.7h1.1v1.1h-1.1zM233.7 289.1h1.1v1.1h-1.1zM246.1 305.9h1.1v1.1h-1.1zM294.3 338.2h1.1v1.1h-1.1zM284.5 346.8h1.1v1.1h-1.1zM248.3 337.1h1.1v1.1h-1.1zM254.8 344.1h1.1v1.1h-1.1zM283.1 337.2h1.1v1.1h-1.1zM264.2 342.5h1.1v1.1h-1.1zM265.6 344.3h1.1v1.1h-1.1zM248.6 344.4h1.1v1.1h-1.1zM267.0 342.7h1.1v1.1h-1.1zM248.1 316.6h1.1v1.1h-1.1zM286.4 303.1h1.1v1.1h-1.1zM241.9 283.6h1.1v1.1h-1.1zM273.6 346.6h1.1v1.1h-1.1zM252.4 318.7h1.1v1.1h-1.1zM258.0 361.7h1.1v1.1h-1.1zM254.5 319.6h1.1v1.1h-1.1zM286.1 314.2h1.1v1.1h-1.1zM233.9 302.1h1.1v1.1h-1.1zM248.5 333.5h1.1v1.1h-1.1zM240.9 322.2h1.1v1.1h-1.1zM284.3 343.3h1.1v1.1h-1.1zM249.4 353.6h1.1v1.1h-1.1zM252.4 363.3h1.1v1.1h-1.1zM245.2 297.3h1.1v1.1h-1.1zM267.4 364.4h1.1v1.1h-1.1zM255.7 315.4h1.1v1.1h-1.1zM244.0 322.3h1.1v1.1h-1.1zM267.2 353.1h1.1v1.1h-1.1zM262.2 354.3h1.1v1.1h-1.1zM242.3 336.5h1.1v1.1h-1.1zM263.2 285.0h1.1v1.1h-1.1zM274.7 306.3h1.1v1.1h-1.1zM287.1 302.3h1.1v1.1h-1.1zM245.3 297.9h1.1v1.1h-1.1zM260.4 290.3h1.1v1.1h-1.1zM275.2 308.9h1.1v1.1h-1.1zM229.3 320.5h1.1v1.1h-1.1zM255.2 324.9h1.1v1.1h-1.1zM279.6 307.5h1.1v1.1h-1.1zM249.1 364.0h1.1v1.1h-1.1zM260.4 355.8h1.1v1.1h-1.1zM249.7 355.9h1.1v1.1h-1.1zM242.3 295.7h1.1v1.1h-1.1zM244.6 325.9h1.1v1.1h-1.1zM258.9 289.5h1.1v1.1h-1.1zM277.0 303.1h1.1v1.1h-1.1zM263.6 356.4h1.1v1.1h-1.1zM255.2 295.1h1.1v1.1h-1.1zM223.7 331.0h1.1v1.1h-1.1zM267.4 353.5h1.1v1.1h-1.1zM288.6 311.0h1.1v1.1h-1.1zM267.0 365.9h1.1v1.1h-1.1zM283.8 338.4h1.1v1.1h-1.1zM257.4 321.0h1.1v1.1h-1.1zM263.3 360.0h1.1v1.1h-1.1zM275.7 331.7h1.1v1.1h-1.1zM258.3 292.1h1.1v1.1h-1.1zM253.4 342.9h1.1v1.1h-1.1zM285.2 325.2h1.1v1.1h-1.1zM253.5 340.5h1.1v1.1h-1.1zM252.7 354.2h1.1v1.1h-1.1zM232.8 328.6h1.1v1.1h-1.1zM223.4 327.3h1.1v1.1h-1.1zM279.6 357.4h1.1v1.1h-1.1zM250.5 361.4h1.1v1.1h-1.1zM244.6 342.4h1.1v1.1h-1.1zM268.6 348.3h1.1v1.1h-1.1zM286.8 346.2h1.1v1.1h-1.1zM265.1 352.6h1.1v1.1h-1.1zM293.3 345.3h1.1v1.1h-1.1zM220.0 326.1h1.1v1.1h-1.1zM249.6 328.2h1.1v1.1h-1.1zM248.9 327.3h1.1v1.1h-1.1zM257.3 334.8h1.1v1.1h-1.1zM259.6 356.6h1.1v1.1h-1.1zM248.5 320.3h1.1v1.1h-1.1zM234.9 327.7h1.1v1.1h-1.1zM279.1 316.6h1.1v1.1h-1.1zM289.1 345.5h1.1v1.1h-1.1zM238.1 287.1h1.1v1.1h-1.1zM251.5 346.7h1.1v1.1h-1.1zM249.0 312.2h1.1v1.1h-1.1zM265.9 339.7h1.1v1.1h-1.1zM236.1 292.7h1.1v1.1h-1.1zM249.2 329.1h1.1v1.1h-1.1zM287.6 308.6h1.1v1.1h-1.1zM279.4 346.0h1.1v1.1h-1.1zM272.4 348.0h1.1v1.1h-1.1zM255.3 361.5h1.1v1.1h-1.1zM286.6 338.3h1.1v1.1h-1.1zM290.8 327.5h1.1v1.1h-1.1zM244.6 322.9h1.1v1.1h-1.1zM221.2 325.4h1.1v1.1h-1.1zM244.4 313.3h1.1v1.1h-1.1zM251.6 299.6h1.1v1.1h-1.1zM248.6 351.1h1.1v1.1h-1.1zM246.5 311.5h1.1v1.1h-1.1zM282.8 336.4h1.1v1.1h-1.1zM277.9 358.3h1.1v1.1h-1.1zM260.2 330.1h1.1v1.1h-1.1zM226.1 332.2h1.1v1.1h-1.1zM278.9 300.9h1.1v1.1h-1.1zM256.0 284.4h1.1v1.1h-1.1zM289.3 346.7h1.1v1.1h-1.1zM243.9 285.3h1.1v1.1h-1.1zM227.3 329.6h1.1v1.1h-1.1zM238.4 307.3h1.1v1.1h-1.1zM236.3 286.3h1.1v1.1h-1.1zM276.8 302.8h1.1v1.1h-1.1zM235.4 330.7h1.1v1.1h-1.1zM232.7 320.2h1.1v1.1h-1.1zM242.1 283.8h1.1v1.1h-1.1zM281.8 316.3h1.1v1.1h-1.1zM284.4 300.9h1.1v1.1h-1.1zM244.1 282.5h1.1v1.1h-1.1zM248.8 360.2h1.1v1.1h-1.1zM275.2 305.8h1.1v1.1h-1.1zM245.5 345.1h1.1v1.1h-1.1zM283.6 337.8h1.1v1.1h-1.1zM261.5 287.0h1.1v1.1h-1.1zM224.6 322.2h1.1v1.1h-1.1zM266.9 361.2h1.1v1.1h-1.1zM243.0 329.3h1.1v1.1h-1.1zM259.7 351.5h1.1v1.1h-1.1zM257.6 342.4h1.1v1.1h-1.1zM260.9 346.9h1.1v1.1h-1.1zM237.4 329.0h1.1v1.1h-1.1zM237.4 335.9h1.1v1.1h-1.1zM281.6 309.8h1.1v1.1h-1.1zM267.1 365.2h1.1v1.1h-1.1zM234.1 298.2h1.1v1.1h-1.1zM242.4 289.6h1.1v1.1h-1.1zM240.1 336.9h1.1v1.1h-1.1zM240.6 338.0h1.1v1.1h-1.1zM236.6 306.4h1.1v1.1h-1.1zM229.1 331.8h1.1v1.1h-1.1zM244.5 307.2h1.1v1.1h-1.1zM270.7 336.6h1.1v1.1h-1.1zM257.3 332.3h1.1v1.1h-1.1zM256.6 309.5h1.1v1.1h-1.1zM263.1 343.1h1.1v1.1h-1.1zM262.8 352.9h1.1v1.1h-1.1zM255.6 330.3h1.1v1.1h-1.1zM249.3 360.6h1.1v1.1h-1.1zM290.3 336.9h1.1v1.1h-1.1zM261.6 282.9h1.1v1.1h-1.1zM239.6 323.6h1.1v1.1h-1.1zM260.5 356.9h1.1v1.1h-1.1zM233.9 312.3h1.1v1.1h-1.1zM277.8 318.8h1.1v1.1h-1.1zM256.3 310.2h1.1v1.1h-1.1zM281.0 342.0h1.1v1.1h-1.1zM240.8 300.0h1.1v1.1h-1.1zM250.1 302.4h1.1v1.1h-1.1zM286.1 315.7h1.1v1.1h-1.1zM278.8 301.5h1.1v1.1h-1.1zM242.9 348.8h1.1v1.1h-1.1zM214.9 302.0h1.1v1.1h-1.1zM283.9 329.0h1.1v1.1h-1.1zM225.9 331.6h1.1v1.1h-1.1zM247.0 294.8h1.1v1.1h-1.1zM256.4 359.3h1.1v1.1h-1.1zM257.5 345.0h1.1v1.1h-1.1zM267.8 356.6h1.1v1.1h-1.1zM248.4 305.3h1.1v1.1h-1.1zM231.1 302.3h1.1v1.1h-1.1zM222.7 322.9h1.1v1.1h-1.1zM248.0 276.1h1.1v1.1h-1.1zM236.5 324.4h1.1v1.1h-1.1zM249.8 292.0h1.1v1.1h-1.1zM245.2 352.4h1.1v1.1h-1.1zM237.8 296.8h1.1v1.1h-1.1zM258.4 320.3h1.1v1.1h-1.1zM251.6 317.0h1.1v1.1h-1.1zM239.2 331.1h1.1v1.1h-1.1zM251.3 319.4h1.1v1.1h-1.1zM291.9 344.7h1.1v1.1h-1.1zM250.7 312.2h1.1v1.1h-1.1zM257.7 347.9h1.1v1.1h-1.1zM255.7 364.5h1.1v1.1h-1.1zM262.0 338.6h1.1v1.1h-1.1zM287.2 330.2h1.1v1.1h-1.1zM257.5 347.8h1.1v1.1h-1.1zM248.8 351.3h1.1v1.1h-1.1zM288.0 318.6h1.1v1.1h-1.1zM287.1 337.4h1.1v1.1h-1.1zM244.5 336.5h1.1v1.1h-1.1zM291.7 341.4h1.1v1.1h-1.1zM278.8 340.9h1.1v1.1h-1.1zM258.4 354.8h1.1v1.1h-1.1zM291.0 340.0h1.1v1.1h-1.1zM255.4 319.6h1.1v1.1h-1.1zM268.4 356.4h1.1v1.1h-1.1zM259.4 335.9h1.1v1.1h-1.1zM260.3 289.1h1.1v1.1h-1.1zM254.5 347.0h1.1v1.1h-1.1zM282.7 329.4h1.1v1.1h-1.1zM287.7 323.7h1.1v1.1h-1.1zM246.6 316.7h1.1v1.1h-1.1zM279.5 310.2h1.1v1.1h-1.1zM256.3 311.5h1.1v1.1h-1.1zM252.9 318.9h1.1v1.1h-1.1zM274.7 314.1h1.1v1.1h-1.1zM264.2 343.0h1.1v1.1h-1.1zM256.8 326.6h1.1v1.1h-1.1zM246.8 295.7h1.1v1.1h-1.1zM273.8 328.5h1.1v1.1h-1.1zM238.9 322.8h1.1v1.1h-1.1zM241.2 323.8h1.1v1.1h-1.1zM258.1 292.1h1.1v1.1h-1.1zM276.6 317.2h1.1v1.1h-1.1zM242.6 305.3h1.1v1.1h-1.1zM280.3 301.3h1.1v1.1h-1.1zM240.1 300.3h1.1v1.1h-1.1zM228.3 325.9h1.1v1.1h-1.1zM251.1 328.4h1.1v1.1h-1.1zM263.1 356.3h1.1v1.1h-1.1zM280.2 342.0h1.1v1.1h-1.1zM233.3 292.9h1.1v1.1h-1.1zM281.0 305.4h1.1v1.1h-1.1zM247.4 345.3h1.1v1.1h-1.1zM230.4 295.4h1.1v1.1h-1.1zM290.3 306.6h1.1v1.1h-1.1zM235.9 321.4h1.1v1.1h-1.1zM256.4 345.1h1.1v1.1h-1.1zM235.6 323.1h1.1v1.1h-1.1zM225.8 326.2h1.1v1.1h-1.1zM248.6 330.5h1.1v1.1h-1.1zM245.2 333.6h1.1v1.1h-1.1zM278.5 335.3h1.1v1.1h-1.1zM244.2 355.1h1.1v1.1h-1.1zM238.0 321.8h1.1v1.1h-1.1zM250.4 310.3h1.1v1.1h-1.1zM247.3 302.4h1.1v1.1h-1.1zM244.5 291.1h1.1v1.1h-1.1zM226.0 321.0h1.1v1.1h-1.1zM264.8 345.9h1.1v1.1h-1.1zM243.3 334.1h1.1v1.1h-1.1zM240.2 293.4h1.1v1.1h-1.1zM243.3 353.6h1.1v1.1h-1.1zM246.5 305.3h1.1v1.1h-1.1zM250.5 324.8h1.1v1.1h-1.1zM250.0 313.2h1.1v1.1h-1.1zM274.5 312.3h1.1v1.1h-1.1zM287.9 343.0h1.1v1.1h-1.1zM254.9 308.0h1.1v1.1h-1.1zM230.4 295.1h1.1v1.1h-1.1zM275.1 331.3h1.1v1.1h-1.1zM251.3 315.3h1.1v1.1h-1.1zM249.9 316.0h1.1v1.1h-1.1zM238.0 301.2h1.1v1.1h-1.1zM232.0 297.6h1.1v1.1h-1.1zM258.8 284.2h1.1v1.1h-1.1zM221.4 328.5h1.1v1.1h-1.1zM246.0 358.9h1.1v1.1h-1.1zM258.7 356.3h1.1v1.1h-1.1zM247.8 301.5h1.1v1.1h-1.1zM286.1 322.6h1.1v1.1h-1.1zM227.5 317.3h1.1v1.1h-1.1zM263.6 346.6h1.1v1.1h-1.1zM244.2 332.4h1.1v1.1h-1.1zM251.7 357.9h1.1v1.1h-1.1zM291.1 305.2h1.1v1.1h-1.1zM243.2 328.7h1.1v1.1h-1.1zM288.4 303.9h1.1v1.1h-1.1zM286.9 313.2h1.1v1.1h-1.1zM226.6 332.4h1.1v1.1h-1.1zM288.8 346.3h1.1v1.1h-1.1zM243.3 323.5h1.1v1.1h-1.1zM242.3 315.2h1.1v1.1h-1.1zM247.7 283.2h1.1v1.1h-1.1zM247.9 290.8h1.1v1.1h-1.1zM230.9 325.2h1.1v1.1h-1.1zM281.0 322.2h1.1v1.1h-1.1zM250.3 298.2h1.1v1.1h-1.1zM225.3 330.7h1.1v1.1h-1.1zM242.8 287.4h1.1v1.1h-1.1zM283.3 328.4h1.1v1.1h-1.1zM259.3 335.1h1.1v1.1h-1.1zM284.4 324.0h1.1v1.1h-1.1zM287.8 325.1h1.1v1.1h-1.1zM254.2 324.1h1.1v1.1h-1.1zM252.1 362.8h1.1v1.1h-1.1zM255.4 346.2h1.1v1.1h-1.1zM239.6 337.6h1.1v1.1h-1.1zM247.6 331.6h1.1v1.1h-1.1zM274.9 313.3h1.1v1.1h-1.1zM256.0 347.6h1.1v1.1h-1.1zM247.9 356.5h1.1v1.1h-1.1zM247.8 308.1h1.1v1.1h-1.1zM262.8 364.8h1.1v1.1h-1.1zM224.6 320.1h1.1v1.1h-1.1zM250.7 364.3h1.1v1.1h-1.1zM283.0 303.4h1.1v1.1h-1.1zM289.4 320.4h1.1v1.1h-1.1zM275.5 311.7h1.1v1.1h-1.1zM247.2 356.0h1.1v1.1h-1.1zM259.6 356.7h1.1v1.1h-1.1zM258.5 348.1h1.1v1.1h-1.1zM251.4 312.4h1.1v1.1h-1.1zM256.4 333.2h1.1v1.1h-1.1zM231.8 294.4h1.1v1.1h-1.1zM254.3 352.1h1.1v1.1h-1.1zM242.1 285.7h1.1v1.1h-1.1zM285.7 321.8h1.1v1.1h-1.1zM250.8 297.3h1.1v1.1h-1.1zM269.2 334.4h1.1v1.1h-1.1zM244.0 284.4h1.1v1.1h-1.1zM282.5 307.5h1.1v1.1h-1.1zM284.9 309.0h1.1v1.1h-1.1zM249.4 347.0h1.1v1.1h-1.1zM241.2 298.1h1.1v1.1h-1.1zM262.0 362.9h1.1v1.1h-1.1zM244.3 296.6h1.1v1.1h-1.1zM258.2 335.9h1.1v1.1h-1.1zM284.3 342.2h1.1v1.1h-1.1zM262.4 286.4h1.1v1.1h-1.1zM227.6 323.9h1.1v1.1h-1.1zM247.1 280.0h1.1v1.1h-1.1zM251.6 311.0h1.1v1.1h-1.1zM290.1 329.4h1.1v1.1h-1.1zM263.5 336.5h1.1v1.1h-1.1zM248.1 281.0h1.1v1.1h-1.1zM245.3 325.1h1.1v1.1h-1.1zM244.5 354.3h1.1v1.1h-1.1zM220.1 330.4h1.1v1.1h-1.1zM269.6 333.0h1.1v1.1h-1.1zM291.0 340.8h1.1v1.1h-1.1zM286.7 347.3h1.1v1.1h-1.1zM292.1 340.8h1.1v1.1h-1.1zM245.5 318.4h1.1v1.1h-1.1zM221.3 322.6h1.1v1.1h-1.1zM293.9 340.4h1.1v1.1h-1.1zM260.0 288.6h1.1v1.1h-1.1zM248.3 312.8h1.1v1.1h-1.1zM264.3 361.4h1.1v1.1h-1.1zM250.5 319.5h1.1v1.1h-1.1zM252.1 317.2h1.1v1.1h-1.1zM231.6 333.5h1.1v1.1h-1.1zM248.2 312.9h1.1v1.1h-1.1zM222.8 324.5h1.1v1.1h-1.1zM255.5 327.9h1.1v1.1h-1.1zM242.5 281.3h1.1v1.1h-1.1zM222.7 326.8h1.1v1.1h-1.1zM278.5 330.6h1.1v1.1h-1.1zM250.4 286.5h1.1v1.1h-1.1zM219.9 332.7h1.1v1.1h-1.1zM264.1 347.6h1.1v1.1h-1.1zM281.3 344.6h1.1v1.1h-1.1zM248.5 320.9h1.1v1.1h-1.1zM243.0 317.0h1.1v1.1h-1.1zM288.9 309.4h1.1v1.1h-1.1zM236.9 291.6h1.1v1.1h-1.1zM245.1 306.7h1.1v1.1h-1.1zM268.6 339.9h1.1v1.1h-1.1zM225.4 332.0h1.1v1.1h-1.1zM220.1 319.4h1.1v1.1h-1.1zM237.7 293.1h1.1v1.1h-1.1zM252.3 334.8h1.1v1.1h-1.1zM262.9 343.6h1.1v1.1h-1.1zM255.4 298.4h1.1v1.1h-1.1zM278.5 303.3h1.1v1.1h-1.1zM241.8 351.7h1.1v1.1h-1.1zM283.8 312.7h1.1v1.1h-1.1zM243.5 287.8h1.1v1.1h-1.1zM246.3 336.1h1.1v1.1h-1.1zM257.7 322.1h1.1v1.1h-1.1zM263.3 364.7h1.1v1.1h-1.1zM245.2 327.1h1.1v1.1h-1.1zM279.1 356.9h1.1v1.1h-1.1zM240.4 329.8h1.1v1.1h-1.1zM239.8 324.8h1.1v1.1h-1.1zM283.2 347.9h1.1v1.1h-1.1zM255.9 331.8h1.1v1.1h-1.1zM230.6 321.7h1.1v1.1h-1.1zM263.2 360.3h1.1v1.1h-1.1zM255.3 317.6h1.1v1.1h-1.1zM259.6 324.4h1.1v1.1h-1.1zM224.5 317.8h1.1v1.1h-1.1zM278.1 342.0h1.1v1.1h-1.1zM260.6 349.2h1.1v1.1h-1.1zM269.1 364.2h1.1v1.1h-1.1zM235.6 324.7h1.1v1.1h-1.1zM234.7 331.6h1.1v1.1h-1.1zM241.8 321.9h1.1v1.1h-1.1zM277.7 357.2h1.1v1.1h-1.1zM283.0 347.4h1.1v1.1h-1.1zM253.6 354.7h1.1v1.1h-1.1zM283.5 308.0h1.1v1.1h-1.1zM238.8 288.2h1.1v1.1h-1.1zM252.8 313.1h1.1v1.1h-1.1zM290.3 339.7h1.1v1.1h-1.1zM241.0 283.3h1.1v1.1h-1.1zM247.2 283.6h1.1v1.1h-1.1zM252.4 320.6h1.1v1.1h-1.1zM281.5 325.7h1.1v1.1h-1.1zM267.0 346.5h1.1v1.1h-1.1zM274.6 314.7h1.1v1.1h-1.1zM285.0 345.2h1.1v1.1h-1.1zM276.6 335.6h1.1v1.1h-1.1zM293.0 342.7h1.1v1.1h-1.1zM233.2 328.0h1.1v1.1h-1.1zM236.6 312.2h1.1v1.1h-1.1zM244.5 314.9h1.1v1.1h-1.1zM237.1 320.0h1.1v1.1h-1.1zM256.8 314.9h1.1v1.1h-1.1zM255.1 324.7h1.1v1.1h-1.1zM279.7 312.5h1.1v1.1h-1.1zM240.1 314.9h1.1v1.1h-1.1zM284.6 347.9h1.1v1.1h-1.1zM241.2 301.4h1.1v1.1h-1.1zM287.0 304.6h1.1v1.1h-1.1zM237.4 284.5h1.1v1.1h-1.1zM229.1 322.2h1.1v1.1h-1.1zM240.3 321.2h1.1v1.1h-1.1zM284.1 328.1h1.1v1.1h-1.1zM221.0 328.7h1.1v1.1h-1.1zM281.4 309.1h1.1v1.1h-1.1zM238.7 311.5h1.1v1.1h-1.1zM245.5 311.8h1.1v1.1h-1.1zM240.9 279.7h1.1v1.1h-1.1zM241.3 307.9h1.1v1.1h-1.1zM246.3 354.3h1.1v1.1h-1.1zM264.2 339.5h1.1v1.1h-1.1zM269.1 363.9h1.1v1.1h-1.1zM243.7 338.0h1.1v1.1h-1.1zM281.3 310.1h1.1v1.1h-1.1zM255.2 296.7h1.1v1.1h-1.1zM243.0 307.4h1.1v1.1h-1.1zM265.0 351.7h1.1v1.1h-1.1zM256.9 344.1h1.1v1.1h-1.1zM280.3 313.3h1.1v1.1h-1.1zM247.7 345.1h1.1v1.1h-1.1zM292.3 336.8h1.1v1.1h-1.1zM234.0 301.6h1.1v1.1h-1.1zM252.5 361.1h1.1v1.1h-1.1zM251.0 354.3h1.1v1.1h-1.1zM261.0 355.3h1.1v1.1h-1.1zM261.6 334.9h1.1v1.1h-1.1zM248.3 308.5h1.1v1.1h-1.1zM264.3 348.5h1.1v1.1h-1.1zM259.5 287.3h1.1v1.1h-1.1zM246.5 333.6h1.1v1.1h-1.1zM266.7 353.9h1.1v1.1h-1.1zM245.2 313.0h1.1v1.1h-1.1zM256.9 316.4h1.1v1.1h-1.1zM292.5 330.3h1.1v1.1h-1.1zM256.3 338.8h1.1v1.1h-1.1zM262.8 360.9h1.1v1.1h-1.1zM273.2 306.4h1.1v1.1h-1.1zM226.7 322.1h1.1v1.1h-1.1zM225.0 317.5h1.1v1.1h-1.1zM250.1 361.8h1.1v1.1h-1.1zM252.6 319.0h1.1v1.1h-1.1zM253.4 353.8h1.1v1.1h-1.1zM247.6 309.9h1.1v1.1h-1.1zM278.3 301.4h1.1v1.1h-1.1zM238.5 318.1h1.1v1.1h-1.1zM253.7 313.1h1.1v1.1h-1.1zM265.5 339.6h1.1v1.1h-1.1zM242.2 316.0h1.1v1.1h-1.1zM261.3 353.2h1.1v1.1h-1.1zM240.4 286.3h1.1v1.1h-1.1zM257.9 290.9h1.1v1.1h-1.1zM261.4 355.9h1.1v1.1h-1.1zM265.9 359.7h1.1v1.1h-1.1zM250.2 304.4h1.1v1.1h-1.1zM243.8 356.2h1.1v1.1h-1.1zM234.9 309.4h1.1v1.1h-1.1zM270.6 338.1h1.1v1.1h-1.1zM232.2 296.8h1.1v1.1h-1.1zM280.0 339.8h1.1v1.1h-1.1zM228.9 323.8h1.1v1.1h-1.1zM291.9 340.0h1.1v1.1h-1.1zM254.4 326.9h1.1v1.1h-1.1zM255.6 347.0h1.1v1.1h-1.1zM245.0 347.2h1.1v1.1h-1.1zM251.0 310.4h1.1v1.1h-1.1zM282.7 312.0h1.1v1.1h-1.1zM266.4 356.8h1.1v1.1h-1.1zM248.0 289.8h1.1v1.1h-1.1zM284.3 311.4h1.1v1.1h-1.1zM240.9 335.1h1.1v1.1h-1.1zM235.2 300.1h1.1v1.1h-1.1zM231.4 317.8h1.1v1.1h-1.1zM247.1 300.8h1.1v1.1h-1.1zM264.6 337.8h1.1v1.1h-1.1zM255.4 313.5h1.1v1.1h-1.1zM258.4 332.4h1.1v1.1h-1.1zM236.3 284.1h1.1v1.1h-1.1zM243.0 315.4h1.1v1.1h-1.1zM252.0 331.8h1.1v1.1h-1.1zM236.0 295.2h1.1v1.1h-1.1zM244.3 357.6h1.1v1.1h-1.1zM236.5 299.9h1.1v1.1h-1.1zM253.6 318.2h1.1v1.1h-1.1zM291.6 332.4h1.1v1.1h-1.1zM239.3 324.1h1.1v1.1h-1.1zM254.8 362.7h1.1v1.1h-1.1zM233.4 319.9h1.1v1.1h-1.1zM226.9 320.5h1.1v1.1h-1.1zM243.2 335.8h1.1v1.1h-1.1zM219.5 330.8h1.1v1.1h-1.1zM288.9 344.9h1.1v1.1h-1.1zM239.9 332.2h1.1v1.1h-1.1zM248.8 337.3h1.1v1.1h-1.1zM260.8 359.2h1.1v1.1h-1.1zM253.6 351.9h1.1v1.1h-1.1zM254.1 308.6h1.1v1.1h-1.1zM235.2 292.9h1.1v1.1h-1.1zM256.6 361.2h1.1v1.1h-1.1zM232.6 314.7h1.1v1.1h-1.1zM230.5 331.6h1.1v1.1h-1.1zM282.1 328.6h1.1v1.1h-1.1zM282.1 339.9h1.1v1.1h-1.1zM260.8 283.7h1.1v1.1h-1.1zM282.7 316.1h1.1v1.1h-1.1zM260.6 290.2h1.1v1.1h-1.1zM268.2 339.2h1.1v1.1h-1.1zM255.7 337.1h1.1v1.1h-1.1zM259.3 327.9h1.1v1.1h-1.1zM265.1 356.5h1.1v1.1h-1.1zM224.6 329.6h1.1v1.1h-1.1zM273.3 333.3h1.1v1.1h-1.1zM244.7 287.8h1.1v1.1h-1.1zM226.2 326.2h1.1v1.1h-1.1zM268.2 362.4h1.1v1.1h-1.1zM258.9 331.1h1.1v1.1h-1.1zM261.3 341.6h1.1v1.1h-1.1zM222.1 326.2h1.1v1.1h-1.1zM281.9 342.8h1.1v1.1h-1.1zM241.8 301.1h1.1v1.1h-1.1zM226.1 322.8h1.1v1.1h-1.1zM243.3 309.9h1.1v1.1h-1.1zM264.9 358.4h1.1v1.1h-1.1zM264.9 345.6h1.1v1.1h-1.1zM229.8 325.7h1.1v1.1h-1.1zM245.5 297.9h1.1v1.1h-1.1zM233.0 302.5h1.1v1.1h-1.1zM264.2 362.8h1.1v1.1h-1.1zM261.4 289.2h1.1v1.1h-1.1zM278.1 315.8h1.1v1.1h-1.1zM282.5 305.8h1.1v1.1h-1.1zM279.0 331.2h1.1v1.1h-1.1zM275.9 316.1h1.1v1.1h-1.1zM233.3 325.3h1.1v1.1h-1.1zM229.4 333.1h1.1v1.1h-1.1zM237.6 325.7h1.1v1.1h-1.1zM220.4 325.1h1.1v1.1h-1.1zM251.3 349.3h1.1v1.1h-1.1zM247.7 360.1h1.1v1.1h-1.1zM244.8 301.8h1.1v1.1h-1.1zM236.1 333.4h1.1v1.1h-1.1zM289.3 316.3h1.1v1.1h-1.1zM234.3 324.0h1.1v1.1h-1.1zM233.1 323.3h1.1v1.1h-1.1zM233.5 318.0h1.1v1.1h-1.1zM273.9 314.3h1.1v1.1h-1.1zM257.5 314.6h1.1v1.1h-1.1zM262.9 347.3h1.1v1.1h-1.1zM246.0 337.6h1.1v1.1h-1.1zM240.9 324.3h1.1v1.1h-1.1zM234.5 330.5h1.1v1.1h-1.1zM280.7 332.4h1.1v1.1h-1.1zM243.9 333.3h1.1v1.1h-1.1zM290.1 340.1h1.1v1.1h-1.1zM260.2 355.7h1.1v1.1h-1.1zM293.4 341.8h1.1v1.1h-1.1zM276.3 302.1h1.1v1.1h-1.1zM291.7 344.8h1.1v1.1h-1.1zM288.0 329.2h1.1v1.1h-1.1zM240.4 336.6h1.1v1.1h-1.1zM248.3 351.6h1.1v1.1h-1.1zM255.5 330.5h1.1v1.1h-1.1zM226.1 317.1h1.1v1.1h-1.1zM289.3 316.9h1.1v1.1h-1.1zM281.8 320.7h1.1v1.1h-1.1zM256.1 350.0h1.1v1.1h-1.1zM247.6 326.6h1.1v1.1h-1.1zM246.1 304.8h1.1v1.1h-1.1zM229.4 333.8h1.1v1.1h-1.1zM292.5 341.0h1.1v1.1h-1.1zM283.2 341.8h1.1v1.1h-1.1zM226.5 324.4h1.1v1.1h-1.1zM261.5 342.8h1.1v1.1h-1.1zM249.9 302.7h1.1v1.1h-1.1zM237.1 308.0h1.1v1.1h-1.1zM239.4 299.7h1.1v1.1h-1.1zM268.1 348.3h1.1v1.1h-1.1zM246.1 359.2h1.1v1.1h-1.1zM252.2 344.4h1.1v1.1h-1.1zM256.4 357.7h1.1v1.1h-1.1zM260.8 330.9h1.1v1.1h-1.1zM275.3 310.7h1.1v1.1h-1.1zM289.8 342.2h1.1v1.1h-1.1zM281.8 315.1h1.1v1.1h-1.1zM275.2 308.8h1.1v1.1h-1.1zM251.2 333.5h1.1v1.1h-1.1zM236.9 288.6h1.1v1.1h-1.1zM268.2 347.3h1.1v1.1h-1.1zM278.9 357.0h1.1v1.1h-1.1zM241.1 321.6h1.1v1.1h-1.1zM273.9 312.1h1.1v1.1h-1.1zM268.2 349.0h1.1v1.1h-1.1zM240.3 337.2h1.1v1.1h-1.1zM259.6 287.9h1.1v1.1h-1.1zM286.5 335.1h1.1v1.1h-1.1zM230.6 324.6h1.1v1.1h-1.1zM256.4 288.4h1.1v1.1h-1.1zM250.4 341.6h1.1v1.1h-1.1zM247.3 314.7h1.1v1.1h-1.1zM251.1 302.5h1.1v1.1h-1.1zM259.1 328.9h1.1v1.1h-1.1zM243.9 331.0h1.1v1.1h-1.1zM243.8 331.6h1.1v1.1h-1.1zM232.7 331.8h1.1v1.1h-1.1zM258.1 360.6h1.1v1.1h-1.1zM221.6 321.7h1.1v1.1h-1.1zM250.8 336.0h1.1v1.1h-1.1zM252.1 350.5h1.1v1.1h-1.1zM268.1 352.8h1.1v1.1h-1.1zM259.5 349.7h1.1v1.1h-1.1zM257.1 285.9h1.1v1.1h-1.1zM272.4 337.5h1.1v1.1h-1.1zM223.5 322.3h1.1v1.1h-1.1zM239.8 311.0h1.1v1.1h-1.1zM240.3 284.7h1.1v1.1h-1.1zM278.0 334.5h1.1v1.1h-1.1zM244.9 358.4h1.1v1.1h-1.1zM255.4 358.8h1.1v1.1h-1.1zM249.5 292.2h1.1v1.1h-1.1zM289.8 333.9h1.1v1.1h-1.1zM285.5 305.7h1.1v1.1h-1.1zM227.8 324.4h1.1v1.1h-1.1zM265.1 344.9h1.1v1.1h-1.1zM260.0 327.1h1.1v1.1h-1.1zM258.2 362.8h1.1v1.1h-1.1zM255.8 341.4h1.1v1.1h-1.1zM286.2 321.1h1.1v1.1h-1.1zM263.4 284.8h1.1v1.1h-1.1zM248.7 320.4h1.1v1.1h-1.1zM241.0 307.1h1.1v1.1h-1.1zM261.4 283.6h1.1v1.1h-1.1zM265.9 352.3h1.1v1.1h-1.1zM261.3 286.5h1.1v1.1h-1.1zM226.1 317.7h1.1v1.1h-1.1zM255.1 327.3h1.1v1.1h-1.1zM289.0 343.9h1.1v1.1h-1.1zM279.6 313.6h1.1v1.1h-1.1zM245.9 295.2h1.1v1.1h-1.1zM256.1 337.1h1.1v1.1h-1.1zM240.8 288.1h1.1v1.1h-1.1zM250.8 361.2h1.1v1.1h-1.1zM222.3 326.6h1.1v1.1h-1.1zM287.5 309.4h1.1v1.1h-1.1zM231.7 332.0h1.1v1.1h-1.1zM258.3 363.3h1.1v1.1h-1.1zM235.6 319.7h1.1v1.1h-1.1zM246.4 359.7h1.1v1.1h-1.1zM223.2 322.4h1.1v1.1h-1.1zM248.8 305.9h1.1v1.1h-1.1zM261.1 357.5h1.1v1.1h-1.1zM226.9 325.1h1.1v1.1h-1.1zM278.0 340.0h1.1v1.1h-1.1zM220.3 324.4h1.1v1.1h-1.1zM239.1 335.9h1.1v1.1h-1.1zM244.5 357.4h1.1v1.1h-1.1zM278.9 302.5h1.1v1.1h-1.1zM276.0 302.0h1.1v1.1h-1.1zM263.0 345.3h1.1v1.1h-1.1zM254.1 349.1h1.1v1.1h-1.1zM230.9 298.9h1.1v1.1h-1.1zM266.2 365.9h1.1v1.1h-1.1zM287.3 316.1h1.1v1.1h-1.1zM282.1 330.6h1.1v1.1h-1.1zM244.9 341.0h1.1v1.1h-1.1zM286.8 309.9h1.1v1.1h-1.1zM246.5 331.2h1.1v1.1h-1.1zM256.4 315.9h1.1v1.1h-1.1zM283.4 328.6h1.1v1.1h-1.1zM237.3 329.2h1.1v1.1h-1.1zM290.4 326.6h1.1v1.1h-1.1zM260.9 285.7h1.1v1.1h-1.1zM270.1 333.9h1.1v1.1h-1.1zM265.8 345.6h1.1v1.1h-1.1zM257.2 293.0h1.1v1.1h-1.1zM271.5 334.9h1.1v1.1h-1.1zM248.3 323.3h1.1v1.1h-1.1zM282.3 320.8h1.1v1.1h-1.1zM222.9 324.5h1.1v1.1h-1.1zM284.9 345.4h1.1v1.1h-1.1zM236.3 332.1h1.1v1.1h-1.1zM268.5 337.3h1.1v1.1h-1.1zM290.6 328.3h1.1v1.1h-1.1zM288.9 344.8h1.1v1.1h-1.1zM247.5 348.0h1.1v1.1h-1.1zM284.5 314.0h1.1v1.1h-1.1zM251.3 308.6h1.1v1.1h-1.1zM258.2 344.3h1.1v1.1h-1.1zM242.3 318.8h1.1v1.1h-1.1zM252.5 337.2h1.1v1.1h-1.1zM273.8 315.7h1.1v1.1h-1.1zM238.9 329.7h1.1v1.1h-1.1zM286.4 333.0h1.1v1.1h-1.1zM246.6 283.1h1.1v1.1h-1.1zM256.9 338.8h1.1v1.1h-1.1zM258.6 284.5h1.1v1.1h-1.1zM251.0 321.2h1.1v1.1h-1.1zM259.0 332.7h1.1v1.1h-1.1zM250.6 344.3h1.1v1.1h-1.1zM258.2 347.6h1.1v1.1h-1.1zM224.6 326.1h1.1v1.1h-1.1zM238.4 328.4h1.1v1.1h-1.1zM253.9 329.5h1.1v1.1h-1.1zM252.8 340.5h1.1v1.1h-1.1zM220.2 325.3h1.1v1.1h-1.1zM234.7 319.7h1.1v1.1h-1.1zM255.3 327.5h1.1v1.1h-1.1zM265.7 336.0h1.1v1.1h-1.1zM254.2 358.6h1.1v1.1h-1.1zM274.8 316.4h1.1v1.1h-1.1zM253.4 361.7h1.1v1.1h-1.1zM252.4 336.1h1.1v1.1h-1.1zM235.1 291.7h1.1v1.1h-1.1zM245.2 284.6h1.1v1.1h-1.1zM261.7 283.6h1.1v1.1h-1.1zM288.8 331.1h1.1v1.1h-1.1zM246.3 341.8h1.1v1.1h-1.1zM257.0 321.7h1.1v1.1h-1.1zM263.6 289.1h1.1v1.1h-1.1zM245.9 305.8h1.1v1.1h-1.1zM259.1 328.0h1.1v1.1h-1.1zM243.1 285.3h1.1v1.1h-1.1zM257.1 343.8h1.1v1.1h-1.1zM266.8 348.4h1.1v1.1h-1.1zM274.5 333.8h1.1v1.1h-1.1zM248.6 336.4h1.1v1.1h-1.1zM235.1 292.3h1.1v1.1h-1.1zM255.8 352.0h1.1v1.1h-1.1zM224.2 319.6h1.1v1.1h-1.1zM251.7 336.1h1.1v1.1h-1.1zM232.0 329.7h1.1v1.1h-1.1zM268.7 356.5h1.1v1.1h-1.1zM250.8 347.1h1.1v1.1h-1.1zM246.1 307.6h1.1v1.1h-1.1zM241.0 292.7h1.1v1.1h-1.1zM248.8 354.1h1.1v1.1h-1.1zM246.6 281.3h1.1v1.1h-1.1zM260.8 339.9h1.1v1.1h-1.1zM249.9 339.5h1.1v1.1h-1.1zM261.3 291.4h1.1v1.1h-1.1zM278.9 316.4h1.1v1.1h-1.1zM231.2 323.2h1.1v1.1h-1.1zM256.1 288.1h1.1v1.1h-1.1zM281.3 334.4h1.1v1.1h-1.1zM276.8 304.8h1.1v1.1h-1.1zM239.7 304.6h1.1v1.1h-1.1zM231.7 304.9h1.1v1.1h-1.1zM233.7 308.7h1.1v1.1h-1.1zM251.0 347.7h1.1v1.1h-1.1zM239.6 288.7h1.1v1.1h-1.1zM289.3 303.5h1.1v1.1h-1.1zM284.7 301.2h1.1v1.1h-1.1zM255.5 363.5h1.1v1.1h-1.1zM223.6 332.2h1.1v1.1h-1.1zM220.6 325.7h1.1v1.1h-1.1zM224.7 333.5h1.1v1.1h-1.1zM246.3 361.9h1.1v1.1h-1.1zM248.9 272.3h1.1v1.1h-1.1zM242.2 285.4h1.1v1.1h-1.1zM243.8 288.4h1.1v1.1h-1.1zM253.7 363.0h1.1v1.1h-1.1zM257.3 358.3h1.1v1.1h-1.1zM246.1 343.7h1.1v1.1h-1.1zM244.3 356.3h1.1v1.1h-1.1zM222.2 330.5h1.1v1.1h-1.1zM226.6 324.4h1.1v1.1h-1.1zM240.6 324.9h1.1v1.1h-1.1zM267.0 338.3h1.1v1.1h-1.1zM259.8 344.7h1.1v1.1h-1.1zM252.0 330.6h1.1v1.1h-1.1zM287.2 343.8h1.1v1.1h-1.1zM263.7 318.5h1.1v1.1h-1.1zM245.0 282.4h1.1v1.1h-1.1zM250.1 295.1h1.1v1.1h-1.1zM284.3 345.1h1.1v1.1h-1.1zM265.0 347.6h1.1v1.1h-1.1zM244.1 299.6h1.1v1.1h-1.1zM286.9 342.2h1.1v1.1h-1.1zM267.9 363.4h1.1v1.1h-1.1zM277.6 334.8h1.1v1.1h-1.1zM263.2 361.3h1.1v1.1h-1.1zM245.2 291.2h1.1v1.1h-1.1zM292.3 330.9h1.1v1.1h-1.1zM246.9 336.7h1.1v1.1h-1.1zM249.4 299.4h1.1v1.1h-1.1zM239.9 334.8h1.1v1.1h-1.1zM246.8 283.6h1.1v1.1h-1.1zM225.3 322.7h1.1v1.1h-1.1zM245.7 354.7h1.1v1.1h-1.1zM247.7 296.3h1.1v1.1h-1.1zM246.2 316.4h1.1v1.1h-1.1zM244.5 333.5h1.1v1.1h-1.1zM234.9 328.8h1.1v1.1h-1.1zM250.3 305.0h1.1v1.1h-1.1zM257.5 310.1h1.1v1.1h-1.1zM245.1 334.6h1.1v1.1h-1.1zM259.8 290.7h1.1v1.1h-1.1zM244.6 348.1h1.1v1.1h-1.1zM246.7 349.7h1.1v1.1h-1.1zM248.8 273.5h1.1v1.1h-1.1zM256.9 289.9h1.1v1.1h-1.1zM280.8 331.9h1.1v1.1h-1.1zM231.7 329.0h1.1v1.1h-1.1zM292.8 332.8h1.1v1.1h-1.1zM241.1 298.9h1.1v1.1h-1.1zM234.3 317.5h1.1v1.1h-1.1zM235.6 322.1h1.1v1.1h-1.1zM246.2 280.4h1.1v1.1h-1.1zM263.5 365.4h1.1v1.1h-1.1zM224.3 321.7h1.1v1.1h-1.1zM222.7 319.3h1.1v1.1h-1.1zM257.6 363.9h1.1v1.1h-1.1zM245.4 317.1h1.1v1.1h-1.1zM255.1 358.4h1.1v1.1h-1.1zM275.8 315.2h1.1v1.1h-1.1zM274.8 333.1h1.1v1.1h-1.1zM278.4 334.7h1.1v1.1h-1.1zM252.0 343.1h1.1v1.1h-1.1zM257.0 326.7h1.1v1.1h-1.1zM234.0 298.0h1.1v1.1h-1.1zM244.6 308.0h1.1v1.1h-1.1zM243.6 329.0h1.1v1.1h-1.1zM242.6 327.8h1.1v1.1h-1.1zM263.6 289.5h1.1v1.1h-1.1zM230.9 298.8h1.1v1.1h-1.1zM233.7 295.6h1.1v1.1h-1.1zM281.3 317.0h1.1v1.1h-1.1zM233.9 319.3h1.1v1.1h-1.1zM293.0 336.5h1.1v1.1h-1.1zM243.0 323.6h1.1v1.1h-1.1zM246.1 279.7h1.1v1.1h-1.1zM262.1 348.4h1.1v1.1h-1.1zM223.6 319.7h1.1v1.1h-1.1zM252.0 312.8h1.1v1.1h-1.1zM243.4 286.8h1.1v1.1h-1.1zM221.7 329.7h1.1v1.1h-1.1zM254.7 344.2h1.1v1.1h-1.1zM242.1 279.4h1.1v1.1h-1.1zM279.8 330.7h1.1v1.1h-1.1zM245.2 286.3h1.1v1.1h-1.1zM289.4 330.5h1.1v1.1h-1.1zM261.6 347.4h1.1v1.1h-1.1zM242.5 336.2h1.1v1.1h-1.1zM244.9 351.1h1.1v1.1h-1.1zM283.4 333.2h1.1v1.1h-1.1zM247.1 283.4h1.1v1.1h-1.1zM243.4 308.2h1.1v1.1h-1.1zM250.4 357.8h1.1v1.1h-1.1zM245.6 336.4h1.1v1.1h-1.1zM250.5 358.3h1.1v1.1h-1.1zM282.2 333.3h1.1v1.1h-1.1zM274.0 306.3h1.1v1.1h-1.1zM236.8 292.5h1.1v1.1h-1.1zM250.0 320.2h1.1v1.1h-1.1zM257.7 293.6h1.1v1.1h-1.1zM237.0 301.3h1.1v1.1h-1.1zM263.4 353.5h1.1v1.1h-1.1zM251.6 326.2h1.1v1.1h-1.1zM239.9 288.4h1.1v1.1h-1.1zM286.5 333.6h1.1v1.1h-1.1zM249.2 296.1h1.1v1.1h-1.1zM233.0 318.7h1.1v1.1h-1.1zM243.1 287.0h1.1v1.1h-1.1zM279.2 308.1h1.1v1.1h-1.1zM251.5 329.9h1.1v1.1h-1.1zM286.9 338.6h1.1v1.1h-1.1zM245.4 289.2h1.1v1.1h-1.1zM293.8 333.8h1.1v1.1h-1.1zM287.2 325.5h1.1v1.1h-1.1zM252.4 311.7h1.1v1.1h-1.1zM242.9 287.5h1.1v1.1h-1.1zM248.2 338.4h1.1v1.1h-1.1zM254.1 320.4h1.1v1.1h-1.1zM227.6 317.1h1.1v1.1h-1.1zM236.5 319.5h1.1v1.1h-1.1zM258.1 320.1h1.1v1.1h-1.1zM228.0 324.0h1.1v1.1h-1.1zM264.3 360.3h1.1v1.1h-1.1zM246.5 316.2h1.1v1.1h-1.1zM288.9 307.1h1.1v1.1h-1.1zM274.8 315.8h1.1v1.1h-1.1zM230.6 314.6h1.1v1.1h-1.1zM287.3 318.7h1.1v1.1h-1.1zM259.0 339.1h1.1v1.1h-1.1zM252.6 354.0h1.1v1.1h-1.1zM224.3 325.9h1.1v1.1h-1.1zM241.3 300.7h1.1v1.1h-1.1zM243.3 356.0h1.1v1.1h-1.1zM245.0 286.0h1.1v1.1h-1.1zM231.1 296.6h1.1v1.1h-1.1zM248.3 345.2h1.1v1.1h-1.1zM230.6 333.2h1.1v1.1h-1.1zM263.9 361.2h1.1v1.1h-1.1zM282.4 321.0h1.1v1.1h-1.1zM256.4 336.4h1.1v1.1h-1.1zM261.1 349.6h1.1v1.1h-1.1zM245.3 312.7h1.1v1.1h-1.1zM263.9 365.3h1.1v1.1h-1.1zM240.8 290.6h1.1v1.1h-1.1zM286.4 347.1h1.1v1.1h-1.1zM251.0 340.2h1.1v1.1h-1.1zM269.1 355.3h1.1v1.1h-1.1zM231.0 319.6h1.1v1.1h-1.1zM245.9 283.5h1.1v1.1h-1.1zM231.1 296.0h1.1v1.1h-1.1zM262.9 330.9h1.1v1.1h-1.1zM286.8 334.9h1.1v1.1h-1.1zM239.3 292.4h1.1v1.1h-1.1zM253.2 322.9h1.1v1.1h-1.1zM265.6 360.2h1.1v1.1h-1.1zM261.8 352.6h1.1v1.1h-1.1zM278.8 340.2h1.1v1.1h-1.1zM251.1 347.0h1.1v1.1h-1.1zM281.7 339.2h1.1v1.1h-1.1zM293.2 333.9h1.1v1.1h-1.1zM254.6 328.1h1.1v1.1h-1.1zM247.8 327.1h1.1v1.1h-1.1zM237.8 289.0h1.1v1.1h-1.1zM240.6 319.6h1.1v1.1h-1.1zM240.1 303.4h1.1v1.1h-1.1zM241.6 341.2h1.1v1.1h-1.1zM254.6 299.0h1.1v1.1h-1.1zM280.0 307.9h1.1v1.1h-1.1zM238.4 306.8h1.1v1.1h-1.1zM222.2 320.6h1.1v1.1h-1.1zM252.1 346.2h1.1v1.1h-1.1zM242.1 282.5h1.1v1.1h-1.1zM288.7 329.0h1.1v1.1h-1.1zM252.6 357.2h1.1v1.1h-1.1zM234.6 312.2h1.1v1.1h-1.1zM225.0 320.8h1.1v1.1h-1.1zM227.0 323.0h1.1v1.1h-1.1zM286.2 302.5h1.1v1.1h-1.1zM287.1 323.1h1.1v1.1h-1.1zM275.5 333.5h1.1v1.1h-1.1zM255.1 313.7h1.1v1.1h-1.1zM267.5 348.2h1.1v1.1h-1.1zM255.1 333.2h1.1v1.1h-1.1zM277.4 314.9h1.1v1.1h-1.1zM243.4 339.6h1.1v1.1h-1.1zM248.8 299.4h1.1v1.1h-1.1zM249.5 283.2h1.1v1.1h-1.1zM267.2 354.4h1.1v1.1h-1.1zM251.9 354.2h1.1v1.1h-1.1zM236.9 333.8h1.1v1.1h-1.1zM253.3 339.3h1.1v1.1h-1.1zM237.8 312.8h1.1v1.1h-1.1zM237.1 293.9h1.1v1.1h-1.1zM255.1 348.9h1.1v1.1h-1.1zM251.7 343.9h1.1v1.1h-1.1zM242.5 329.6h1.1v1.1h-1.1zM250.0 340.4h1.1v1.1h-1.1zM264.0 341.4h1.1v1.1h-1.1zM261.3 338.3h1.1v1.1h-1.1zM281.7 331.5h1.1v1.1h-1.1zM260.3 284.9h1.1v1.1h-1.1zM246.2 341.2h1.1v1.1h-1.1zM243.0 355.8h1.1v1.1h-1.1zM289.8 305.3h1.1v1.1h-1.1zM259.3 349.9h1.1v1.1h-1.1zM257.3 315.9h1.1v1.1h-1.1zM239.8 289.9h1.1v1.1h-1.1zM244.4 303.2h1.1v1.1h-1.1z" fill="#4f55a5"/>
<path d="M289.5 309.6h1.1v1.1h-1.1zM259.0 332.7h1.1v1.1h-1.1zM240.0 307.4h1.1v1.1h-1.1zM262.7 291.1h1.1v1.1h-1.1zM231.7 316.7h1.1v1.1h-1.1zM233.2 303.5h1.1v1.1h-1.1zM237.6 313.5h1.1v1.1h-1.1zM282.4 315.0h1.1v1.1h-1.1zM244.6 332.5h1.1v1.1h-1.1zM236.7 297.9h1.1v1.1h-1.1zM247.5 315.2h1.1v1.1h-1.1zM232.3 315.6h1.1v1.1h-1.1zM262.2 334.4h1.1v1.1h-1.1zM255.4 310.8h1.1v1.1h-1.1zM244.7 315.3h1.1v1.1h-1.1zM259.9 329.9h1.1v1.1h-1.1zM244.8 307.8h1.1v1.1h-1.1zM284.9 346.0h1.1v1.1h-1.1zM232.7 307.7h1.1v1.1h-1.1zM254.4 291.0h1.1v1.1h-1.1zM250.9 316.8h1.1v1.1h-1.1zM280.7 315.0h1.1v1.1h-1.1zM279.9 300.9h1.1v1.1h-1.1zM257.9 328.4h1.1v1.1h-1.1zM277.0 335.1h1.1v1.1h-1.1zM282.5 308.9h1.1v1.1h-1.1zM254.3 294.9h1.1v1.1h-1.1zM283.3 317.5h1.1v1.1h-1.1zM250.1 340.4h1.1v1.1h-1.1z" fill="#9ed29a"/>
<path d="M256.0 319.0h1.1v1.1h-1.1zM256.8 325.2h1.1v1.1h-1.1zM259.8 322.2h1.1v1.1h-1.1zM252.7 363.1h1.1v1.1h-1.1zM249.0 302.6h1.1v1.1h-1.1zM281.5 327.8h1.1v1.1h-1.1zM285.6 327.9h1.1v1.1h-1.1zM272.2 310.8h1.1v1.1h-1.1zM240.3 310.3h1.1v1.1h-1.1zM236.9 317.7h1.1v1.1h-1.1zM254.3 358.6h1.1v1.1h-1.1zM241.0 309.7h1.1v1.1h-1.1zM248.7 314.0h1.1v1.1h-1.1zM234.0 309.1h1.1v1.1h-1.1zM240.7 315.1h1.1v1.1h-1.1zM291.9 342.6h1.1v1.1h-1.1zM255.7 291.1h1.1v1.1h-1.1zM264.1 324.5h1.1v1.1h-1.1zM254.5 297.9h1.1v1.1h-1.1zM222.7 322.0h1.1v1.1h-1.1zM287.6 330.4h1.1v1.1h-1.1zM252.1 354.9h1.1v1.1h-1.1zM250.2 330.2h1.1v1.1h-1.1zM243.2 310.9h1.1v1.1h-1.1zM240.1 311.4h1.1v1.1h-1.1zM240.5 280.6h1.1v1.1h-1.1zM262.2 356.2h1.1v1.1h-1.1zM261.8 292.9h1.1v1.1h-1.1z" fill="#f4eb98"/>
<path d="M254.1 294.9h1.1v1.1h-1.1zM272.3 311.2h1.1v1.1h-1.1zM264.7 344.1h1.1v1.1h-1.1zM221.3 322.6h1.1v1.1h-1.1zM286.2 340.5h1.1v1.1h-1.1zM278.4 303.7h1.1v1.1h-1.1zM232.6 297.0h1.1v1.1h-1.1zM236.3 286.5h1.1v1.1h-1.1zM283.5 335.6h1.1v1.1h-1.1zM233.3 308.1h1.1v1.1h-1.1zM273.1 309.9h1.1v1.1h-1.1zM286.7 315.8h1.1v1.1h-1.1zM277.9 313.8h1.1v1.1h-1.1zM260.6 346.4h1.1v1.1h-1.1zM241.0 293.6h1.1v1.1h-1.1zM263.2 339.7h1.1v1.1h-1.1zM285.8 330.3h1.1v1.1h-1.1zM277.0 313.4h1.1v1.1h-1.1zM288.7 342.8h1.1v1.1h-1.1zM256.6 323.1h1.1v1.1h-1.1zM249.7 273.7h1.1v1.1h-1.1zM265.1 351.4h1.1v1.1h-1.1zM257.2 284.7h1.1v1.1h-1.1zM222.7 327.2h1.1v1.1h-1.1zM239.0 319.8h1.1v1.1h-1.1zM280.4 318.6h1.1v1.1h-1.1zM284.8 325.1h1.1v1.1h-1.1zM262.4 340.9h1.1v1.1h-1.1zM225.3 326.8h1.1v1.1h-1.1zM245.2 342.6h1.1v1.1h-1.1zM274.6 311.0h1.1v1.1h-1.1zM230.2 297.3h1.1v1.1h-1.1zM226.3 318.8h1.1v1.1h-1.1zM244.0 302.9h1.1v1.1h-1.1zM252.4 334.8h1.1v1.1h-1.1zM282.4 300.9h1.1v1.1h-1.1zM247.6 346.3h1.1v1.1h-1.1zM245.4 318.5h1.1v1.1h-1.1zM282.3 318.7h1.1v1.1h-1.1zM284.0 313.0h1.1v1.1h-1.1zM228.4 323.2h1.1v1.1h-1.1zM291.3 331.6h1.1v1.1h-1.1zM224.6 322.2h1.1v1.1h-1.1zM257.6 290.9h1.1v1.1h-1.1zM258.2 346.6h1.1v1.1h-1.1zM252.2 356.5h1.1v1.1h-1.1zM243.3 310.0h1.1v1.1h-1.1zM259.1 294.5h1.1v1.1h-1.1zM289.5 317.1h1.1v1.1h-1.1zM249.7 285.7h1.1v1.1h-1.1zM238.9 320.2h1.1v1.1h-1.1zM249.6 336.9h1.1v1.1h-1.1zM262.8 332.0h1.1v1.1h-1.1zM238.2 327.0h1.1v1.1h-1.1zM253.4 325.1h1.1v1.1h-1.1zM280.7 305.7h1.1v1.1h-1.1zM246.7 286.4h1.1v1.1h-1.1zM254.4 322.9h1.1v1.1h-1.1zM281.3 345.1h1.1v1.1h-1.1zM289.3 343.9h1.1v1.1h-1.1zM279.6 314.5h1.1v1.1h-1.1zM247.2 292.4h1.1v1.1h-1.1zM247.9 351.7h1.1v1.1h-1.1zM245.4 291.6h1.1v1.1h-1.1zM245.4 308.1h1.1v1.1h-1.1zM248.9 271.9h1.1v1.1h-1.1zM256.0 358.5h1.1v1.1h-1.1zM238.1 329.0h1.1v1.1h-1.1zM255.5 352.0h1.1v1.1h-1.1zM244.8 306.3h1.1v1.1h-1.1zM285.8 327.7h1.1v1.1h-1.1zM286.7 339.0h1.1v1.1h-1.1zM242.0 294.6h1.1v1.1h-1.1zM276.0 330.7h1.1v1.1h-1.1zM258.7 342.5h1.1v1.1h-1.1zM267.9 334.0h1.1v1.1h-1.1zM221.2 332.9h1.1v1.1h-1.1zM290.5 332.5h1.1v1.1h-1.1zM253.7 313.3h1.1v1.1h-1.1zM256.0 339.0h1.1v1.1h-1.1zM244.4 328.6h1.1v1.1h-1.1zM283.0 328.1h1.1v1.1h-1.1zM248.9 301.6h1.1v1.1h-1.1zM264.2 359.0h1.1v1.1h-1.1zM234.5 322.1h1.1v1.1h-1.1zM233.9 312.6h1.1v1.1h-1.1zM261.0 290.3h1.1v1.1h-1.1zM260.3 328.0h1.1v1.1h-1.1zM263.8 351.6h1.1v1.1h-1.1zM272.7 307.1h1.1v1.1h-1.1zM290.1 326.1h1.1v1.1h-1.1zM260.5 355.3h1.1v1.1h-1.1zM233.0 318.7h1.1v1.1h-1.1zM251.6 313.3h1.1v1.1h-1.1zM254.1 317.3h1.1v1.1h-1.1zM240.0 322.1h1.1v1.1h-1.1zM280.3 316.5h1.1v1.1h-1.1zM287.5 333.5h1.1v1.1h-1.1zM230.4 302.0h1.1v1.1h-1.1zM277.8 307.5h1.1v1.1h-1.1zM252.0 355.1h1.1v1.1h-1.1zM245.3 288.6h1.1v1.1h-1.1zM247.1 307.5h1.1v1.1h-1.1zM232.3 321.9h1.1v1.1h-1.1zM283.8 304.9h1.1v1.1h-1.1zM238.6 325.7h1.1v1.1h-1.1zM261.9 363.7h1.1v1.1h-1.1zM244.0 334.9h1.1v1.1h-1.1zM234.0 332.8h1.1v1.1h-1.1zM239.1 326.0h1.1v1.1h-1.1zM251.3 364.4h1.1v1.1h-1.1zM263.6 327.0h1.1v1.1h-1.1zM252.2 351.1h1.1v1.1h-1.1zM283.7 306.9h1.1v1.1h-1.1zM278.7 314.6h1.1v1.1h-1.1zM267.5 360.6h1.1v1.1h-1.1zM270.2 346.6h1.1v1.1h-1.1zM248.9 333.4h1.1v1.1h-1.1zM255.7 293.8h1.1v1.1h-1.1zM237.1 290.0h1.1v1.1h-1.1zM285.3 324.3h1.1v1.1h-1.1zM252.9 360.9h1.1v1.1h-1.1zM292.3 345.2h1.1v1.1h-1.1zM266.4 338.8h1.1v1.1h-1.1zM249.9 319.6h1.1v1.1h-1.1zM237.5 308.6h1.1v1.1h-1.1z" fill="#ffffff"/>
<path d="M242.1 310.1h1.1v1.1h-1.1zM240.4 309.2h1.1v1.1h-1.1z" fill="#cfe38a"/>
<line x1="207.70" y1="265.60" x2="207.70" y2="377.25" stroke="#222" stroke-width="1.3"/>
<line x1="207.05" y1="376.60" x2="303.00" y2="376.60" stroke="#222" stroke-width="1.3"/>
<line x1="205.00" y1="288.00" x2="207.70" y2="288.00" stroke="#333" stroke-width="1.1"/>
<text x="202.20" y="290.46" font-size="7.7" text-anchor="end" fill="#333" stroke="#333" stroke-width="0.25">10</text>
<line x1="205.00" y1="322.70" x2="207.70" y2="322.70" stroke="#333" stroke-width="1.1"/>
<text x="202.20" y="325.16" font-size="7.7" text-anchor="end" fill="#333" stroke="#333" stroke-width="0.25">0</text>
<line x1="205.00" y1="357.40" x2="207.70" y2="357.40" stroke="#333" stroke-width="1.1"/>
<text x="202.20" y="359.86" font-size="7.7" text-anchor="end" fill="#333" stroke="#333" stroke-width="0.25">−10</text>
<line x1="222.10" y1="376.60" x2="222.10" y2="379.30" stroke="#333" stroke-width="1.1"/>
<text x="222.10" y="389.49" font-size="7.5" text-anchor="middle" fill="#333" stroke="#333" stroke-width="0.25">−10</text>
<line x1="238.75" y1="376.60" x2="238.75" y2="379.30" stroke="#333" stroke-width="1.1"/>
<text x="238.75" y="389.49" font-size="7.5" text-anchor="middle" fill="#333" stroke="#333" stroke-width="0.25">−5</text>
<line x1="255.40" y1="376.60" x2="255.40" y2="379.30" stroke="#333" stroke-width="1.1"/>
<text x="255.40" y="389.49" font-size="7.5" text-anchor="middle" fill="#333" stroke="#333" stroke-width="0.25">0</text>
<line x1="272.05" y1="376.60" x2="272.05" y2="379.30" stroke="#333" stroke-width="1.1"/>
<text x="272.05" y="389.49" font-size="7.5" text-anchor="middle" fill="#333" stroke="#333" stroke-width="0.25">5</text>
<line x1="288.70" y1="376.60" x2="288.70" y2="379.30" stroke="#333" stroke-width="1.1"/>
<text x="288.70" y="389.49" font-size="7.5" text-anchor="middle" fill="#333" stroke="#333" stroke-width="0.25">10</text>
<text x="255.70" y="402.16" font-size="8" text-anchor="middle" font-weight="bold" textLength="24" lengthAdjust="spacingAndGlyphs" fill="#333" stroke="#333" stroke-width="0.25">umap_1</text>
<g transform="translate(180.6,320.8) rotate(-90)">
<text x="0.00" y="2.86" font-size="8" text-anchor="middle" font-weight="bold" textLength="24" lengthAdjust="spacingAndGlyphs" fill="#333" stroke="#333" stroke-width="0.25">umap_2</text>
</g>
<text x="243.70" y="259.90" font-size="9.5" fill="#111" stroke="#111" stroke-width="0.25">DKK1</text>
<defs><linearGradient id="cb1" x1="0" y1="1" x2="0" y2="0"><stop offset="0" stop-color="#34589a"/><stop offset="0.12" stop-color="#3f88b0"/><stop offset="0.3" stop-color="#5ab8a0"/><stop offset="0.45" stop-color="#b4da98"/><stop offset="0.55" stop-color="#f6f2a4"/><stop offset="0.66" stop-color="#fcc070"/><stop offset="0.77" stop-color="#f68a50"/><stop offset="0.88" stop-color="#dc4646"/><stop offset="1" stop-color="#8a0a40"/></linearGradient></defs>
<rect x="309.8" y="300.8" width="8" height="40.7" fill="url(#cb1)"/>
<text x="321.80" y="307.52" font-size="7.6" fill="#333" stroke="#333" stroke-width="0.25">1.5</text>
<text x="321.80" y="319.72" font-size="7.6" fill="#333" stroke="#333" stroke-width="0.25">1.0</text>
<text x="321.80" y="332.12" font-size="7.6" fill="#333" stroke="#333" stroke-width="0.25">0.5</text>
<text x="321.80" y="344.12" font-size="7.6" fill="#333" stroke="#333" stroke-width="0.25">0.0</text>
<path d="M379.0,321.4 L380.1,319.1 L382.9,318.0 L387.2,316.8 L389.3,315.0 L392.5,312.8 L399.7,312.2 L410.8,314.0 L413.4,318.2 L415.0,327.6 L417.6,329.6 L418.9,336.9 L420.4,345.9 L418.2,349.5 L410.8,350.1 L403.4,350.7 L402.4,351.9 L402.0,347.0 L401.0,342.4 L399.6,339.0 L396.7,337.2 L391.8,334.7 L384.7,334.2 L379.7,333.6 L379.2,331.9 L378.9,328.4 L378.7,324.3Z" fill="#ccbf88"/>
<path d="M379.0,321.4 L380.1,319.1 L382.9,318.0 L387.2,316.8 L389.3,315.0 L392.5,312.8 L394.6,315.8 L393.8,321.8 L392.3,329.0 L391.8,334.7 L384.7,334.2 L379.7,333.6 L379.2,331.9 L378.9,328.4 L378.7,324.3Z" fill="#d8b07c"/>
<path d="M391.6,323.6 L397.9,319.4 L405.3,318.2 L410.8,318.2 L413.4,323.0 L414.8,330.8 L415.2,338.7 L412.6,343.5 L407.1,344.1 L402.7,345.9 L401.2,341.1 L399.0,337.5 L395.3,334.4 L391.6,332.0 L389.4,328.4Z" fill="#cecc8c"/>
<path d="M392.8,309.3 L398.9,307.5 L407.4,308.7 L411.5,309.1 L412.3,313.4 L410.8,317.6 L407.1,318.2 L399.7,318.2 L394.6,318.8 L390.9,320.0 L388.7,318.2 L390.1,315.2 L391.8,312.8Z" fill="#dab07a"/>
<path d="M407.6,271.7 L410.2,271.3 L410.5,273.1 L409.4,275.0 L408.9,277.2 L409.5,279.6 L410.5,283.4 L411.1,287.9 L411.6,293.5 L411.6,299.1 L411.2,303.7 L410.8,308.5 L407.4,308.7 L398.9,307.5 L392.8,309.3 L391.8,307.0 L390.4,303.5 L389.8,299.1 L390.1,294.4 L391.2,290.8 L392.9,287.9 L395.2,284.7 L397.4,281.9 L400.3,280.1 L403.7,279.1 L406.5,278.7 L407.6,276.9 L408.2,274.2Z" fill="#c8d78f"/>
<path d="M415.4,282.2 L418.6,282.2 L421.4,283.4 L423.9,284.8 L424.6,286.6 L423.9,290.0 L422.8,292.3 L420.7,295.2 L417.9,297.5 L415.8,299.9 L414.0,301.0 L413.3,299.9 L414.0,295.8 L414.3,290.0 L414.1,285.3 L414.7,283.1Z" fill="#bcd093"/>
<path d="M412.6,309.1 L414.5,307.9 L416.7,308.5 L418.0,310.4 L418.3,313.4 L417.8,316.4 L416.7,318.8 L414.8,319.7 L413.0,318.5 L411.9,315.2 L411.5,311.6Z" fill="#c87363"/>
<path d="M414.5,313.4 L415.9,312.8 L417.0,314.0 L417.2,316.4 L416.3,318.2 L414.8,318.5 L414.3,316.4Z" fill="#c6af87"/>
<path d="M418.0,320.0 L419.7,320.3 L419.4,322.7 L418.2,322.4Z" fill="#c6af87"/>
<path d="M423.1,318.2 L424.8,317.9 L424.6,319.7 L423.3,320.0Z" fill="#c6af87"/>
<path d="M413.4,318.2 L416.3,320.6 L418.9,323.0 L420.7,326.6 L421.1,332.6 L420.0,337.5 L418.2,338.7 L416.7,330.8 L415.0,327.6Z" fill="#b3a38b"/>
<path d="M403.4,344.1 L407.1,340.5 L412.6,339.3 L418.2,339.9 L420.4,344.1 L419.3,348.3 L414.5,348.3 L408.9,347.7 L404.1,347.7Z" fill="#ceaf80"/>
<path d="M402.3,348.3 L406.0,347.7 L412.6,348.3 L418.9,348.9 L422.6,352.5 L421.8,359.1 L420.8,362.4 L418.2,364.5 L413.8,365.5 L408.6,364.5 L405.5,361.9 L402.9,357.7 L401.6,352.5Z" fill="#bbc58f"/>
<path d="M420.4,351.9 L423.4,352.3 L425.5,351.7 L428.0,351.7 L430.1,352.3 L431.2,354.0 L431.2,356.3 L430.1,357.5 L428.4,357.5 L426.9,356.9 L425.9,358.1 L426.6,359.8 L428.0,361.6 L429.4,363.2 L429.6,366.2 L428.4,367.9 L425.9,369.1 L424.1,369.1 L423.1,367.3 L422.0,365.0 L420.6,363.2 L419.6,359.1Z" fill="#bba787"/>
<path d="M418.9,339.9 L420.7,338.7 L424.8,336.3 L429.2,334.6 L434.3,331.7 L438.4,330.5 L441.7,330.4 L442.1,332.6 L441.7,334.6 L438.4,335.7 L434.3,337.3 L430.7,339.9 L429.2,342.9 L430.7,345.3 L431.1,348.3 L428.5,350.4 L425.5,351.3 L421.8,351.9 L419.6,349.5 L418.9,344.7Z" fill="#c6af87"/>
<path d="M425.5,335.7 L429.2,332.6 L433.6,328.1 L434.2,329.3 L430.0,333.8 L426.3,337.2Z" fill="#c6af87"/>
<path d="M423.1,324.5 L424.1,324.8 L423.5,330.2 L422.2,335.7 L420.9,336.3 L422.0,330.2Z" fill="#c6af87"/>
<path d="M434.5,303.4 L436.7,301.2 L439.8,300.3 L445.2,301.2 L449.4,302.1 L451.6,303.4 L452.6,305.5 L452.1,307.7 L450.0,309.4 L448.9,312.0 L448.3,313.8 L450.0,320.8 L449.9,325.3 L452.4,329.3 L453.9,334.2 L454.6,339.0 L454.4,343.9 L452.9,347.2 L449.9,349.6 L446.0,350.0 L442.0,348.8 L439.0,346.4 L438.0,342.3 L438.0,337.5 L439.0,333.4 L440.5,330.1 L441.0,326.1 L439.9,321.8 L437.3,319.4 L435.1,317.3 L433.5,316.4 L431.4,312.9 L431.9,309.4 L432.4,306.9Z" fill="#d5c485"/>
<path d="M446.8,313.8 L448.4,313.4 L450.0,317.6 L450.0,320.8 L448.4,320.6 L447.3,317.0Z" fill="#c6474b"/>
<path d="M374.1,302.0 L375.0,302.0 L375.0,303.0 L374.1,303.0Z" fill="#c6af87"/>
<path d="M436.0,358.2 L438.1,357.3 L439.9,356.4 L441.0,356.6 L440.6,357.9 L438.8,358.8 L436.6,359.4Z" fill="#c6af87"/>
<path d="M431.4,348.0 L434.4,346.2 L435.1,346.8 L432.2,348.9Z" fill="#c6af87"/>
<path d="M430.9,347.1 L431.6,347.0 L431.6,347.8 L430.9,347.9Z" fill="#c6af87"/>
<path d="M443.2,367.8 L444.3,368.2 L444.1,369.1 L443.0,368.8Z" fill="#c6af87"/>
<path d="M434.0,304.6 L436.6,300.5 L442.6,299.8 L448.5,301.2 L451.9,304.0 L452.3,308.1 L450.2,311.6 L448.5,315.8 L447.6,319.4 L442.1,320.6 L435.7,319.4 L432.3,317.2 L431.5,313.0 L431.9,310.2Z" fill="#c6474b"/>
<path d="M410.6 297.4h1.1v1.1h-1.1zM411.8 290.9h1.1v1.1h-1.1zM411.8 294.7h1.1v1.1h-1.1zM410.8 295.0h1.1v1.1h-1.1zM411.9 298.9h1.1v1.1h-1.1zM411.5 301.0h1.1v1.1h-1.1zM412.6 284.9h1.1v1.1h-1.1zM410.8 296.6h1.1v1.1h-1.1zM446.2 319.8h1.1v1.1h-1.1zM439.6 327.2h1.1v1.1h-1.1zM444.2 325.4h1.1v1.1h-1.1zM412.6 303.8h1.1v1.1h-1.1zM404.0 355.5h1.1v1.1h-1.1zM404.0 301.2h1.1v1.1h-1.1zM441.9 343.2h1.1v1.1h-1.1zM408.5 284.3h1.1v1.1h-1.1zM408.1 361.9h1.1v1.1h-1.1zM420.7 287.5h1.1v1.1h-1.1zM396.0 322.3h1.1v1.1h-1.1zM407.5 322.6h1.1v1.1h-1.1zM408.5 304.7h1.1v1.1h-1.1zM415.0 353.8h1.1v1.1h-1.1zM445.7 321.2h1.1v1.1h-1.1zM410.6 301.7h1.1v1.1h-1.1zM416.1 288.1h1.1v1.1h-1.1zM401.1 352.0h1.1v1.1h-1.1zM402.3 353.1h1.1v1.1h-1.1zM401.0 338.3h1.1v1.1h-1.1zM446.0 337.5h1.1v1.1h-1.1zM400.0 286.6h1.1v1.1h-1.1zM393.3 299.8h1.1v1.1h-1.1zM410.4 330.9h1.1v1.1h-1.1zM401.8 344.1h1.1v1.1h-1.1zM395.2 288.2h1.1v1.1h-1.1zM408.9 279.3h1.1v1.1h-1.1zM415.0 359.2h1.1v1.1h-1.1zM405.3 348.1h1.1v1.1h-1.1zM391.7 295.2h1.1v1.1h-1.1zM398.5 298.2h1.1v1.1h-1.1zM414.1 288.9h1.1v1.1h-1.1zM441.0 341.6h1.1v1.1h-1.1zM402.2 348.0h1.1v1.1h-1.1zM413.4 353.9h1.1v1.1h-1.1zM408.6 283.6h1.1v1.1h-1.1zM419.3 349.7h1.1v1.1h-1.1zM418.8 357.7h1.1v1.1h-1.1zM400.1 286.4h1.1v1.1h-1.1zM403.9 350.4h1.1v1.1h-1.1zM395.6 303.0h1.1v1.1h-1.1zM408.1 285.7h1.1v1.1h-1.1zM402.3 338.0h1.1v1.1h-1.1zM444.0 324.8h1.1v1.1h-1.1zM402.6 307.3h1.1v1.1h-1.1zM394.3 286.1h1.1v1.1h-1.1zM400.3 300.4h1.1v1.1h-1.1zM416.5 283.8h1.1v1.1h-1.1zM396.9 297.2h1.1v1.1h-1.1zM408.8 281.9h1.1v1.1h-1.1zM407.5 281.5h1.1v1.1h-1.1zM413.2 355.5h1.1v1.1h-1.1zM408.9 272.1h1.1v1.1h-1.1zM390.0 303.3h1.1v1.1h-1.1zM414.4 336.3h1.1v1.1h-1.1zM423.4 284.6h1.1v1.1h-1.1zM448.6 321.7h1.1v1.1h-1.1zM417.9 284.7h1.1v1.1h-1.1zM408.3 271.3h1.1v1.1h-1.1zM446.8 345.6h1.1v1.1h-1.1zM392.9 326.8h1.1v1.1h-1.1zM400.7 285.2h1.1v1.1h-1.1zM403.8 286.2h1.1v1.1h-1.1zM404.0 357.5h1.1v1.1h-1.1zM412.5 330.3h1.1v1.1h-1.1zM398.9 295.9h1.1v1.1h-1.1zM409.0 302.5h1.1v1.1h-1.1zM408.2 356.1h1.1v1.1h-1.1zM415.3 351.8h1.1v1.1h-1.1zM406.3 353.7h1.1v1.1h-1.1zM419.5 287.2h1.1v1.1h-1.1zM421.9 289.8h1.1v1.1h-1.1zM417.2 290.3h1.1v1.1h-1.1zM443.1 322.7h1.1v1.1h-1.1zM400.9 317.8h1.1v1.1h-1.1zM438.9 332.3h1.1v1.1h-1.1zM412.7 356.2h1.1v1.1h-1.1zM396.8 292.5h1.1v1.1h-1.1zM408.8 272.7h1.1v1.1h-1.1zM407.5 325.2h1.1v1.1h-1.1zM421.9 286.0h1.1v1.1h-1.1zM412.7 363.4h1.1v1.1h-1.1zM399.9 282.9h1.1v1.1h-1.1zM411.4 338.1h1.1v1.1h-1.1zM414.8 360.2h1.1v1.1h-1.1zM401.6 303.3h1.1v1.1h-1.1zM397.1 299.8h1.1v1.1h-1.1zM412.7 332.5h1.1v1.1h-1.1zM448.6 337.4h1.1v1.1h-1.1zM418.6 353.5h1.1v1.1h-1.1zM446.6 328.2h1.1v1.1h-1.1zM400.5 296.3h1.1v1.1h-1.1zM445.2 349.0h1.1v1.1h-1.1zM398.7 300.9h1.1v1.1h-1.1zM419.9 291.2h1.1v1.1h-1.1zM413.4 296.2h1.1v1.1h-1.1zM406.1 306.0h1.1v1.1h-1.1zM401.7 295.9h1.1v1.1h-1.1zM409.1 304.5h1.1v1.1h-1.1zM404.8 302.2h1.1v1.1h-1.1zM406.1 307.0h1.1v1.1h-1.1zM404.5 288.4h1.1v1.1h-1.1zM413.3 321.0h1.1v1.1h-1.1zM404.1 293.5h1.1v1.1h-1.1zM412.2 320.7h1.1v1.1h-1.1zM415.9 288.1h1.1v1.1h-1.1zM401.9 306.6h1.1v1.1h-1.1zM394.0 288.1h1.1v1.1h-1.1zM405.4 299.2h1.1v1.1h-1.1zM404.1 330.2h1.1v1.1h-1.1zM408.9 274.2h1.1v1.1h-1.1zM442.3 324.2h1.1v1.1h-1.1zM395.4 330.4h1.1v1.1h-1.1zM391.6 294.6h1.1v1.1h-1.1zM390.0 325.9h1.1v1.1h-1.1zM402.5 318.9h1.1v1.1h-1.1zM398.5 299.2h1.1v1.1h-1.1zM391.2 304.7h1.1v1.1h-1.1zM404.2 300.0h1.1v1.1h-1.1zM414.1 325.1h1.1v1.1h-1.1zM418.4 355.2h1.1v1.1h-1.1zM448.8 323.6h1.1v1.1h-1.1zM442.3 344.9h1.1v1.1h-1.1zM412.3 337.5h1.1v1.1h-1.1zM408.4 357.8h1.1v1.1h-1.1zM415.8 351.0h1.1v1.1h-1.1zM410.6 353.4h1.1v1.1h-1.1zM405.5 324.4h1.1v1.1h-1.1zM409.5 323.7h1.1v1.1h-1.1zM404.0 350.5h1.1v1.1h-1.1zM397.9 297.8h1.1v1.1h-1.1zM417.4 355.8h1.1v1.1h-1.1zM416.2 285.3h1.1v1.1h-1.1zM406.0 289.4h1.1v1.1h-1.1zM414.2 333.0h1.1v1.1h-1.1zM401.3 324.9h1.1v1.1h-1.1zM407.5 285.3h1.1v1.1h-1.1z" fill="#9ed29a"/>
<path d="M410.7 300.0h1.1v1.1h-1.1zM411.2 286.6h1.1v1.1h-1.1zM411.4 294.2h1.1v1.1h-1.1zM410.9 282.8h1.1v1.1h-1.1zM418.2 332.0h1.1v1.1h-1.1zM416.9 330.0h1.1v1.1h-1.1zM417.6 336.6h1.1v1.1h-1.1zM418.9 337.3h1.1v1.1h-1.1zM417.6 329.9h1.1v1.1h-1.1zM418.9 330.9h1.1v1.1h-1.1zM420.5 328.5h1.1v1.1h-1.1zM417.1 335.0h1.1v1.1h-1.1zM416.9 325.4h1.1v1.1h-1.1zM430.0 330.5h1.1v1.1h-1.1zM425.8 324.0h1.1v1.1h-1.1zM437.9 340.3h1.1v1.1h-1.1zM426.5 344.4h1.1v1.1h-1.1zM427.2 343.0h1.1v1.1h-1.1zM431.9 339.0h1.1v1.1h-1.1zM437.3 338.5h1.1v1.1h-1.1zM440.2 328.9h1.1v1.1h-1.1zM447.2 316.8h1.1v1.1h-1.1zM435.9 321.7h1.1v1.1h-1.1zM439.2 330.1h1.1v1.1h-1.1zM441.8 320.7h1.1v1.1h-1.1zM410.9 307.8h1.1v1.1h-1.1zM411.2 308.2h1.1v1.1h-1.1zM421.0 318.9h1.1v1.1h-1.1zM414.8 316.8h1.1v1.1h-1.1zM401.0 298.1h1.1v1.1h-1.1zM445.0 333.4h1.1v1.1h-1.1zM407.0 361.7h1.1v1.1h-1.1zM420.2 289.7h1.1v1.1h-1.1zM392.1 297.0h1.1v1.1h-1.1zM443.6 320.1h1.1v1.1h-1.1zM400.5 309.9h1.1v1.1h-1.1zM404.4 298.5h1.1v1.1h-1.1zM413.7 338.6h1.1v1.1h-1.1zM453.1 342.6h1.1v1.1h-1.1zM396.7 324.8h1.1v1.1h-1.1zM404.6 299.6h1.1v1.1h-1.1zM415.8 290.0h1.1v1.1h-1.1zM411.4 334.4h1.1v1.1h-1.1zM390.7 290.7h1.1v1.1h-1.1zM447.2 333.1h1.1v1.1h-1.1zM408.0 329.7h1.1v1.1h-1.1zM400.8 329.9h1.1v1.1h-1.1zM394.8 302.1h1.1v1.1h-1.1zM393.6 304.0h1.1v1.1h-1.1zM405.1 349.0h1.1v1.1h-1.1zM402.1 306.2h1.1v1.1h-1.1zM396.8 281.7h1.1v1.1h-1.1zM394.6 284.5h1.1v1.1h-1.1zM394.6 300.3h1.1v1.1h-1.1zM415.1 288.1h1.1v1.1h-1.1zM405.0 358.5h1.1v1.1h-1.1zM452.3 336.9h1.1v1.1h-1.1zM409.4 327.2h1.1v1.1h-1.1zM416.3 326.2h1.1v1.1h-1.1zM398.7 313.8h1.1v1.1h-1.1zM401.2 314.2h1.1v1.1h-1.1zM415.0 353.0h1.1v1.1h-1.1zM398.6 307.0h1.1v1.1h-1.1zM409.3 283.0h1.1v1.1h-1.1zM406.2 345.6h1.1v1.1h-1.1zM391.6 289.8h1.1v1.1h-1.1zM395.4 333.9h1.1v1.1h-1.1zM403.8 314.5h1.1v1.1h-1.1zM400.2 298.1h1.1v1.1h-1.1zM395.9 293.3h1.1v1.1h-1.1zM383.6 325.4h1.1v1.1h-1.1zM394.0 307.7h1.1v1.1h-1.1zM390.0 292.3h1.1v1.1h-1.1zM416.0 292.7h1.1v1.1h-1.1zM421.4 283.3h1.1v1.1h-1.1zM451.9 335.9h1.1v1.1h-1.1zM410.1 340.2h1.1v1.1h-1.1zM394.7 328.3h1.1v1.1h-1.1zM405.7 358.8h1.1v1.1h-1.1zM396.5 295.3h1.1v1.1h-1.1zM404.5 284.1h1.1v1.1h-1.1zM416.9 324.4h1.1v1.1h-1.1zM404.5 358.9h1.1v1.1h-1.1zM406.2 326.0h1.1v1.1h-1.1zM419.6 345.6h1.1v1.1h-1.1zM393.0 303.5h1.1v1.1h-1.1zM448.0 343.7h1.1v1.1h-1.1zM442.9 342.7h1.1v1.1h-1.1zM407.5 302.4h1.1v1.1h-1.1zM401.2 283.3h1.1v1.1h-1.1zM415.1 358.5h1.1v1.1h-1.1zM448.2 321.1h1.1v1.1h-1.1zM404.8 328.3h1.1v1.1h-1.1zM408.3 285.7h1.1v1.1h-1.1zM398.6 305.3h1.1v1.1h-1.1zM446.7 319.0h1.1v1.1h-1.1zM406.4 297.8h1.1v1.1h-1.1zM442.3 340.8h1.1v1.1h-1.1zM413.9 289.1h1.1v1.1h-1.1zM411.3 320.5h1.1v1.1h-1.1zM420.9 353.6h1.1v1.1h-1.1zM402.7 293.4h1.1v1.1h-1.1zM406.5 298.8h1.1v1.1h-1.1zM396.0 282.6h1.1v1.1h-1.1zM405.1 340.5h1.1v1.1h-1.1zM415.8 290.3h1.1v1.1h-1.1zM417.7 346.6h1.1v1.1h-1.1zM395.0 308.6h1.1v1.1h-1.1zM406.0 278.7h1.1v1.1h-1.1zM418.2 288.8h1.1v1.1h-1.1zM444.1 339.6h1.1v1.1h-1.1zM422.6 325.3h1.1v1.1h-1.1zM406.7 279.4h1.1v1.1h-1.1zM411.0 355.3h1.1v1.1h-1.1zM416.0 355.0h1.1v1.1h-1.1zM397.2 289.0h1.1v1.1h-1.1zM400.6 294.6h1.1v1.1h-1.1zM401.6 329.3h1.1v1.1h-1.1zM398.1 297.8h1.1v1.1h-1.1zM403.7 327.2h1.1v1.1h-1.1zM450.0 329.3h1.1v1.1h-1.1zM396.8 289.6h1.1v1.1h-1.1zM410.2 299.0h1.1v1.1h-1.1zM394.2 333.0h1.1v1.1h-1.1zM432.4 335.7h1.1v1.1h-1.1zM391.6 298.6h1.1v1.1h-1.1zM408.9 271.6h1.1v1.1h-1.1zM407.0 325.7h1.1v1.1h-1.1zM400.8 309.2h1.1v1.1h-1.1zM412.4 353.4h1.1v1.1h-1.1zM442.2 333.4h1.1v1.1h-1.1zM417.9 295.4h1.1v1.1h-1.1zM444.6 335.4h1.1v1.1h-1.1zM397.5 296.3h1.1v1.1h-1.1zM448.6 343.3h1.1v1.1h-1.1zM430.0 334.4h1.1v1.1h-1.1zM398.4 318.5h1.1v1.1h-1.1zM400.6 281.0h1.1v1.1h-1.1zM405.6 328.5h1.1v1.1h-1.1zM401.2 295.2h1.1v1.1h-1.1zM408.9 296.2h1.1v1.1h-1.1zM393.1 306.0h1.1v1.1h-1.1zM442.8 342.4h1.1v1.1h-1.1zM391.6 325.4h1.1v1.1h-1.1zM407.2 278.8h1.1v1.1h-1.1zM389.3 315.1h1.1v1.1h-1.1zM401.7 339.1h1.1v1.1h-1.1zM446.2 322.2h1.1v1.1h-1.1zM451.7 344.0h1.1v1.1h-1.1zM430.1 331.2h1.1v1.1h-1.1zM387.1 320.1h1.1v1.1h-1.1zM454.0 339.7h1.1v1.1h-1.1zM407.0 317.0h1.1v1.1h-1.1zM404.2 335.9h1.1v1.1h-1.1zM399.2 283.6h1.1v1.1h-1.1zM394.3 332.8h1.1v1.1h-1.1zM448.1 330.5h1.1v1.1h-1.1zM404.7 281.4h1.1v1.1h-1.1zM409.9 341.4h1.1v1.1h-1.1zM410.0 306.8h1.1v1.1h-1.1zM403.7 340.1h1.1v1.1h-1.1zM396.1 283.2h1.1v1.1h-1.1zM404.7 298.1h1.1v1.1h-1.1zM424.5 359.5h1.1v1.1h-1.1zM399.4 318.9h1.1v1.1h-1.1zM439.0 320.9h1.1v1.1h-1.1zM391.5 295.9h1.1v1.1h-1.1zM408.6 307.1h1.1v1.1h-1.1zM401.4 351.3h1.1v1.1h-1.1zM403.3 328.7h1.1v1.1h-1.1zM419.4 352.7h1.1v1.1h-1.1zM405.5 307.4h1.1v1.1h-1.1zM414.3 290.4h1.1v1.1h-1.1zM401.8 322.6h1.1v1.1h-1.1zM408.6 353.4h1.1v1.1h-1.1zM383.2 319.2h1.1v1.1h-1.1zM418.2 283.4h1.1v1.1h-1.1zM412.9 354.4h1.1v1.1h-1.1zM382.8 318.6h1.1v1.1h-1.1zM410.0 307.2h1.1v1.1h-1.1zM390.8 299.0h1.1v1.1h-1.1zM411.3 341.2h1.1v1.1h-1.1zM422.9 284.5h1.1v1.1h-1.1zM389.7 294.4h1.1v1.1h-1.1zM426.2 365.5h1.1v1.1h-1.1zM399.7 322.7h1.1v1.1h-1.1zM392.5 306.5h1.1v1.1h-1.1zM411.1 324.1h1.1v1.1h-1.1zM398.3 288.3h1.1v1.1h-1.1zM408.6 284.5h1.1v1.1h-1.1zM415.2 289.0h1.1v1.1h-1.1zM402.4 307.5h1.1v1.1h-1.1zM418.9 294.1h1.1v1.1h-1.1zM418.3 284.7h1.1v1.1h-1.1zM409.2 294.6h1.1v1.1h-1.1zM412.7 333.4h1.1v1.1h-1.1zM401.3 301.5h1.1v1.1h-1.1zM400.8 295.0h1.1v1.1h-1.1zM394.0 294.5h1.1v1.1h-1.1zM406.5 362.2h1.1v1.1h-1.1zM415.0 353.6h1.1v1.1h-1.1zM413.4 351.4h1.1v1.1h-1.1zM403.9 281.6h1.1v1.1h-1.1zM404.0 324.1h1.1v1.1h-1.1zM450.6 338.4h1.1v1.1h-1.1zM406.1 325.8h1.1v1.1h-1.1zM417.4 283.1h1.1v1.1h-1.1zM446.6 321.8h1.1v1.1h-1.1zM413.6 360.6h1.1v1.1h-1.1zM419.5 360.7h1.1v1.1h-1.1zM393.4 326.9h1.1v1.1h-1.1zM390.4 297.2h1.1v1.1h-1.1zM394.7 294.8h1.1v1.1h-1.1zM403.0 302.7h1.1v1.1h-1.1zM395.5 284.2h1.1v1.1h-1.1zM389.3 315.4h1.1v1.1h-1.1zM393.5 290.1h1.1v1.1h-1.1zM389.8 315.6h1.1v1.1h-1.1zM423.8 349.2h1.1v1.1h-1.1zM399.3 284.2h1.1v1.1h-1.1zM397.7 296.6h1.1v1.1h-1.1zM418.6 356.5h1.1v1.1h-1.1zM387.1 316.6h1.1v1.1h-1.1zM421.9 352.6h1.1v1.1h-1.1zM440.5 324.8h1.1v1.1h-1.1zM390.5 292.8h1.1v1.1h-1.1zM399.0 282.8h1.1v1.1h-1.1zM438.2 337.1h1.1v1.1h-1.1zM412.1 328.0h1.1v1.1h-1.1zM427.4 361.6h1.1v1.1h-1.1zM389.7 320.5h1.1v1.1h-1.1zM391.1 330.6h1.1v1.1h-1.1zM450.5 327.9h1.1v1.1h-1.1zM411.8 357.8h1.1v1.1h-1.1zM413.8 329.5h1.1v1.1h-1.1zM409.5 283.5h1.1v1.1h-1.1zM401.2 290.4h1.1v1.1h-1.1zM415.6 294.5h1.1v1.1h-1.1zM444.3 342.7h1.1v1.1h-1.1zM399.8 291.9h1.1v1.1h-1.1zM404.1 296.7h1.1v1.1h-1.1zM413.4 330.2h1.1v1.1h-1.1zM408.4 362.4h1.1v1.1h-1.1zM391.9 326.5h1.1v1.1h-1.1zM406.4 333.2h1.1v1.1h-1.1zM439.7 336.8h1.1v1.1h-1.1zM399.5 302.4h1.1v1.1h-1.1zM392.8 304.0h1.1v1.1h-1.1zM403.5 353.1h1.1v1.1h-1.1zM407.2 357.2h1.1v1.1h-1.1zM403.9 291.5h1.1v1.1h-1.1zM414.8 353.5h1.1v1.1h-1.1zM414.0 337.7h1.1v1.1h-1.1zM404.0 287.7h1.1v1.1h-1.1zM444.2 322.0h1.1v1.1h-1.1zM407.6 317.9h1.1v1.1h-1.1zM452.3 334.1h1.1v1.1h-1.1zM394.0 325.0h1.1v1.1h-1.1zM438.8 345.3h1.1v1.1h-1.1zM450.4 335.9h1.1v1.1h-1.1zM396.9 289.1h1.1v1.1h-1.1zM401.8 348.2h1.1v1.1h-1.1zM401.1 292.3h1.1v1.1h-1.1zM394.6 295.4h1.1v1.1h-1.1zM405.9 302.7h1.1v1.1h-1.1zM383.8 320.3h1.1v1.1h-1.1zM444.6 338.7h1.1v1.1h-1.1zM414.1 295.2h1.1v1.1h-1.1zM409.7 328.2h1.1v1.1h-1.1zM451.5 345.8h1.1v1.1h-1.1zM407.2 342.4h1.1v1.1h-1.1zM401.3 325.4h1.1v1.1h-1.1zM408.5 281.9h1.1v1.1h-1.1zM397.6 297.0h1.1v1.1h-1.1zM405.4 348.5h1.1v1.1h-1.1zM401.8 297.0h1.1v1.1h-1.1zM397.5 323.0h1.1v1.1h-1.1zM416.2 292.1h1.1v1.1h-1.1zM405.7 317.9h1.1v1.1h-1.1zM439.1 339.3h1.1v1.1h-1.1zM424.7 338.5h1.1v1.1h-1.1zM395.6 303.6h1.1v1.1h-1.1zM418.1 339.0h1.1v1.1h-1.1zM416.7 294.2h1.1v1.1h-1.1zM413.7 299.0h1.1v1.1h-1.1zM424.7 337.4h1.1v1.1h-1.1zM437.7 336.3h1.1v1.1h-1.1zM411.8 328.8h1.1v1.1h-1.1zM407.6 294.4h1.1v1.1h-1.1zM411.7 341.1h1.1v1.1h-1.1zM425.5 340.8h1.1v1.1h-1.1zM420.6 338.4h1.1v1.1h-1.1zM409.4 305.8h1.1v1.1h-1.1zM412.5 356.7h1.1v1.1h-1.1zM415.5 282.6h1.1v1.1h-1.1zM398.5 288.4h1.1v1.1h-1.1zM384.4 325.1h1.1v1.1h-1.1zM403.6 284.8h1.1v1.1h-1.1zM396.6 325.5h1.1v1.1h-1.1zM429.8 345.7h1.1v1.1h-1.1zM416.5 323.4h1.1v1.1h-1.1zM414.7 342.6h1.1v1.1h-1.1zM398.6 307.3h1.1v1.1h-1.1zM394.7 320.9h1.1v1.1h-1.1zM408.4 351.0h1.1v1.1h-1.1zM445.3 336.1h1.1v1.1h-1.1zM417.1 294.3h1.1v1.1h-1.1zM398.2 334.0h1.1v1.1h-1.1zM415.9 330.4h1.1v1.1h-1.1zM394.3 325.4h1.1v1.1h-1.1zM410.3 335.5h1.1v1.1h-1.1zM417.2 352.6h1.1v1.1h-1.1zM401.4 286.0h1.1v1.1h-1.1zM449.9 339.1h1.1v1.1h-1.1zM422.3 284.3h1.1v1.1h-1.1zM392.8 320.1h1.1v1.1h-1.1zM416.5 321.0h1.1v1.1h-1.1zM418.8 324.4h1.1v1.1h-1.1zM402.2 327.7h1.1v1.1h-1.1zM413.0 357.0h1.1v1.1h-1.1zM400.6 330.1h1.1v1.1h-1.1zM442.3 345.9h1.1v1.1h-1.1zM394.0 324.0h1.1v1.1h-1.1zM421.1 285.5h1.1v1.1h-1.1zM401.9 280.9h1.1v1.1h-1.1zM418.2 346.0h1.1v1.1h-1.1zM408.3 363.9h1.1v1.1h-1.1zM429.2 355.4h1.1v1.1h-1.1zM437.8 340.6h1.1v1.1h-1.1zM400.6 282.2h1.1v1.1h-1.1zM401.1 302.8h1.1v1.1h-1.1zM404.5 298.8h1.1v1.1h-1.1zM410.7 291.4h1.1v1.1h-1.1zM406.9 287.6h1.1v1.1h-1.1zM409.2 301.2h1.1v1.1h-1.1zM396.2 331.1h1.1v1.1h-1.1zM403.2 292.0h1.1v1.1h-1.1zM399.4 287.9h1.1v1.1h-1.1zM396.6 299.5h1.1v1.1h-1.1zM398.1 287.4h1.1v1.1h-1.1zM395.1 304.5h1.1v1.1h-1.1zM415.9 290.6h1.1v1.1h-1.1zM405.4 332.8h1.1v1.1h-1.1zM440.4 327.3h1.1v1.1h-1.1zM388.3 326.5h1.1v1.1h-1.1zM406.3 297.4h1.1v1.1h-1.1zM401.9 292.7h1.1v1.1h-1.1zM409.6 353.2h1.1v1.1h-1.1zM413.3 300.1h1.1v1.1h-1.1zM425.5 347.2h1.1v1.1h-1.1zM403.1 354.7h1.1v1.1h-1.1zM389.6 300.7h1.1v1.1h-1.1zM408.7 322.6h1.1v1.1h-1.1zM449.1 327.4h1.1v1.1h-1.1zM413.4 345.2h1.1v1.1h-1.1zM401.9 306.5h1.1v1.1h-1.1zM394.5 291.6h1.1v1.1h-1.1zM417.9 294.4h1.1v1.1h-1.1zM410.0 343.9h1.1v1.1h-1.1zM421.3 285.4h1.1v1.1h-1.1zM396.2 307.6h1.1v1.1h-1.1zM414.7 362.1h1.1v1.1h-1.1zM410.1 324.7h1.1v1.1h-1.1zM393.7 331.6h1.1v1.1h-1.1zM411.8 357.4h1.1v1.1h-1.1zM404.7 287.7h1.1v1.1h-1.1zM403.4 351.9h1.1v1.1h-1.1zM409.4 305.1h1.1v1.1h-1.1zM381.4 325.3h1.1v1.1h-1.1zM394.0 315.9h1.1v1.1h-1.1zM422.2 284.0h1.1v1.1h-1.1zM396.5 293.6h1.1v1.1h-1.1zM404.6 293.1h1.1v1.1h-1.1zM397.6 311.1h1.1v1.1h-1.1zM449.3 341.8h1.1v1.1h-1.1zM415.1 293.5h1.1v1.1h-1.1zM442.0 329.1h1.1v1.1h-1.1zM412.5 363.0h1.1v1.1h-1.1zM398.7 306.3h1.1v1.1h-1.1zM404.1 291.2h1.1v1.1h-1.1zM401.7 318.2h1.1v1.1h-1.1zM418.4 283.8h1.1v1.1h-1.1zM446.8 344.5h1.1v1.1h-1.1zM405.6 306.8h1.1v1.1h-1.1zM410.5 345.3h1.1v1.1h-1.1zM390.7 325.4h1.1v1.1h-1.1zM402.7 287.7h1.1v1.1h-1.1zM424.5 344.4h1.1v1.1h-1.1zM401.8 349.2h1.1v1.1h-1.1zM394.2 304.8h1.1v1.1h-1.1zM414.5 288.3h1.1v1.1h-1.1zM416.5 287.9h1.1v1.1h-1.1zM400.6 341.1h1.1v1.1h-1.1zM391.2 301.1h1.1v1.1h-1.1zM413.6 329.8h1.1v1.1h-1.1zM412.4 333.2h1.1v1.1h-1.1zM425.7 360.5h1.1v1.1h-1.1zM408.7 303.5h1.1v1.1h-1.1zM414.7 354.4h1.1v1.1h-1.1zM398.9 304.2h1.1v1.1h-1.1zM390.5 333.3h1.1v1.1h-1.1zM449.7 346.6h1.1v1.1h-1.1zM402.8 299.7h1.1v1.1h-1.1zM437.6 331.7h1.1v1.1h-1.1zM389.9 296.0h1.1v1.1h-1.1zM412.4 351.6h1.1v1.1h-1.1zM415.7 292.0h1.1v1.1h-1.1zM396.6 302.1h1.1v1.1h-1.1zM406.3 328.0h1.1v1.1h-1.1zM415.7 288.1h1.1v1.1h-1.1zM407.2 302.5h1.1v1.1h-1.1zM433.6 335.1h1.1v1.1h-1.1zM417.2 287.2h1.1v1.1h-1.1zM427.5 345.0h1.1v1.1h-1.1zM422.4 327.8h1.1v1.1h-1.1zM398.8 305.1h1.1v1.1h-1.1zM416.5 359.4h1.1v1.1h-1.1zM398.2 326.3h1.1v1.1h-1.1zM412.1 327.4h1.1v1.1h-1.1zM385.8 330.4h1.1v1.1h-1.1zM406.4 357.7h1.1v1.1h-1.1zM421.7 343.4h1.1v1.1h-1.1zM414.5 291.5h1.1v1.1h-1.1zM410.5 291.8h1.1v1.1h-1.1zM423.1 345.5h1.1v1.1h-1.1zM404.0 280.9h1.1v1.1h-1.1zM446.1 341.1h1.1v1.1h-1.1zM396.3 301.0h1.1v1.1h-1.1zM419.2 350.0h1.1v1.1h-1.1zM416.6 342.4h1.1v1.1h-1.1zM406.5 354.1h1.1v1.1h-1.1zM402.7 297.1h1.1v1.1h-1.1zM407.4 317.6h1.1v1.1h-1.1zM439.9 337.5h1.1v1.1h-1.1zM451.7 344.5h1.1v1.1h-1.1zM406.3 287.2h1.1v1.1h-1.1zM382.3 330.6h1.1v1.1h-1.1zM403.2 283.5h1.1v1.1h-1.1zM407.7 299.4h1.1v1.1h-1.1zM451.9 333.8h1.1v1.1h-1.1zM407.7 328.9h1.1v1.1h-1.1zM396.9 309.6h1.1v1.1h-1.1zM410.8 356.7h1.1v1.1h-1.1zM446.7 348.8h1.1v1.1h-1.1zM386.6 317.6h1.1v1.1h-1.1zM405.1 281.2h1.1v1.1h-1.1zM403.1 293.7h1.1v1.1h-1.1zM418.2 286.5h1.1v1.1h-1.1zM405.8 349.7h1.1v1.1h-1.1zM451.2 342.7h1.1v1.1h-1.1zM403.1 322.3h1.1v1.1h-1.1zM404.7 355.1h1.1v1.1h-1.1zM399.8 297.1h1.1v1.1h-1.1zM401.6 279.3h1.1v1.1h-1.1zM426.7 364.9h1.1v1.1h-1.1zM404.9 328.5h1.1v1.1h-1.1zM414.1 289.3h1.1v1.1h-1.1zM448.6 321.6h1.1v1.1h-1.1zM414.8 353.9h1.1v1.1h-1.1zM413.5 334.8h1.1v1.1h-1.1zM444.5 348.6h1.1v1.1h-1.1zM423.9 286.2h1.1v1.1h-1.1zM403.2 316.6h1.1v1.1h-1.1zM394.8 308.5h1.1v1.1h-1.1zM389.4 320.9h1.1v1.1h-1.1zM408.0 296.4h1.1v1.1h-1.1zM419.5 355.4h1.1v1.1h-1.1zM412.1 361.7h1.1v1.1h-1.1zM430.4 355.3h1.1v1.1h-1.1zM408.0 336.2h1.1v1.1h-1.1zM395.7 293.3h1.1v1.1h-1.1zM450.8 332.3h1.1v1.1h-1.1zM440.2 334.4h1.1v1.1h-1.1zM401.0 287.1h1.1v1.1h-1.1zM401.1 301.0h1.1v1.1h-1.1zM396.2 325.3h1.1v1.1h-1.1zM415.9 353.5h1.1v1.1h-1.1zM443.8 347.6h1.1v1.1h-1.1zM407.3 278.8h1.1v1.1h-1.1zM408.5 297.1h1.1v1.1h-1.1zM407.8 362.1h1.1v1.1h-1.1zM398.6 307.0h1.1v1.1h-1.1z" fill="#cfe38a"/>
<path d="M411.8 296.0h1.1v1.1h-1.1zM410.3 295.0h1.1v1.1h-1.1zM410.6 297.5h1.1v1.1h-1.1zM411.1 299.3h1.1v1.1h-1.1zM420.3 330.7h1.1v1.1h-1.1zM416.5 326.7h1.1v1.1h-1.1zM423.3 326.1h1.1v1.1h-1.1zM423.6 330.1h1.1v1.1h-1.1zM423.7 325.3h1.1v1.1h-1.1zM432.0 323.9h1.1v1.1h-1.1zM438.4 337.4h1.1v1.1h-1.1zM438.8 338.4h1.1v1.1h-1.1zM431.2 346.4h1.1v1.1h-1.1zM438.9 340.8h1.1v1.1h-1.1zM440.0 341.7h1.1v1.1h-1.1zM447.3 322.2h1.1v1.1h-1.1zM434.3 316.9h1.1v1.1h-1.1zM445.2 316.4h1.1v1.1h-1.1zM444.9 318.4h1.1v1.1h-1.1zM441.9 330.2h1.1v1.1h-1.1zM437.2 323.5h1.1v1.1h-1.1zM447.6 318.8h1.1v1.1h-1.1zM444.3 325.6h1.1v1.1h-1.1zM444.0 318.2h1.1v1.1h-1.1zM439.2 325.2h1.1v1.1h-1.1zM440.3 329.0h1.1v1.1h-1.1zM446.5 318.8h1.1v1.1h-1.1zM438.6 327.7h1.1v1.1h-1.1zM439.4 327.2h1.1v1.1h-1.1zM440.8 322.9h1.1v1.1h-1.1zM442.6 318.6h1.1v1.1h-1.1zM411.3 306.8h1.1v1.1h-1.1zM420.1 323.4h1.1v1.1h-1.1zM416.3 322.0h1.1v1.1h-1.1zM418.5 319.3h1.1v1.1h-1.1zM402.9 305.7h1.1v1.1h-1.1zM397.4 329.6h1.1v1.1h-1.1zM415.0 293.0h1.1v1.1h-1.1zM399.3 325.9h1.1v1.1h-1.1zM404.2 279.0h1.1v1.1h-1.1zM447.1 319.6h1.1v1.1h-1.1zM423.0 339.0h1.1v1.1h-1.1zM413.8 354.3h1.1v1.1h-1.1zM404.4 341.9h1.1v1.1h-1.1zM395.5 291.9h1.1v1.1h-1.1zM401.7 315.0h1.1v1.1h-1.1zM405.3 354.3h1.1v1.1h-1.1zM429.4 354.8h1.1v1.1h-1.1zM413.9 334.9h1.1v1.1h-1.1zM446.9 328.8h1.1v1.1h-1.1zM417.3 282.9h1.1v1.1h-1.1zM396.4 336.1h1.1v1.1h-1.1zM414.4 353.2h1.1v1.1h-1.1zM393.8 313.0h1.1v1.1h-1.1zM420.2 348.8h1.1v1.1h-1.1zM393.2 319.5h1.1v1.1h-1.1zM421.8 356.6h1.1v1.1h-1.1zM418.1 330.3h1.1v1.1h-1.1zM398.5 304.8h1.1v1.1h-1.1zM413.0 355.2h1.1v1.1h-1.1zM409.1 310.0h1.1v1.1h-1.1zM383.3 328.7h1.1v1.1h-1.1zM405.6 299.9h1.1v1.1h-1.1zM404.4 311.9h1.1v1.1h-1.1zM400.4 292.2h1.1v1.1h-1.1zM388.6 318.9h1.1v1.1h-1.1zM426.7 356.5h1.1v1.1h-1.1zM441.1 323.0h1.1v1.1h-1.1zM398.6 337.9h1.1v1.1h-1.1zM400.9 283.5h1.1v1.1h-1.1zM427.1 343.1h1.1v1.1h-1.1zM402.1 318.5h1.1v1.1h-1.1zM409.8 360.0h1.1v1.1h-1.1zM392.2 301.1h1.1v1.1h-1.1zM396.5 325.4h1.1v1.1h-1.1zM402.7 337.2h1.1v1.1h-1.1zM417.9 289.3h1.1v1.1h-1.1zM414.4 324.0h1.1v1.1h-1.1zM406.6 329.7h1.1v1.1h-1.1zM397.6 294.6h1.1v1.1h-1.1zM393.1 288.8h1.1v1.1h-1.1zM447.8 325.9h1.1v1.1h-1.1zM441.7 324.6h1.1v1.1h-1.1zM397.0 319.2h1.1v1.1h-1.1zM400.6 297.0h1.1v1.1h-1.1zM407.9 343.2h1.1v1.1h-1.1zM411.3 351.9h1.1v1.1h-1.1zM411.7 329.8h1.1v1.1h-1.1zM402.7 353.4h1.1v1.1h-1.1zM400.0 320.6h1.1v1.1h-1.1zM400.2 304.1h1.1v1.1h-1.1zM452.1 343.8h1.1v1.1h-1.1zM406.3 312.0h1.1v1.1h-1.1zM420.7 339.8h1.1v1.1h-1.1zM401.0 293.1h1.1v1.1h-1.1zM393.4 322.2h1.1v1.1h-1.1zM417.9 350.4h1.1v1.1h-1.1zM428.4 345.4h1.1v1.1h-1.1zM414.7 356.8h1.1v1.1h-1.1zM409.4 351.1h1.1v1.1h-1.1zM441.4 326.7h1.1v1.1h-1.1zM398.2 308.6h1.1v1.1h-1.1zM403.9 327.0h1.1v1.1h-1.1zM438.7 342.3h1.1v1.1h-1.1zM422.1 346.1h1.1v1.1h-1.1zM423.0 354.7h1.1v1.1h-1.1zM407.1 298.4h1.1v1.1h-1.1zM440.5 337.1h1.1v1.1h-1.1zM418.8 291.3h1.1v1.1h-1.1zM450.0 328.7h1.1v1.1h-1.1zM398.7 331.6h1.1v1.1h-1.1zM410.4 296.9h1.1v1.1h-1.1zM440.6 334.6h1.1v1.1h-1.1zM408.7 356.8h1.1v1.1h-1.1zM408.0 297.8h1.1v1.1h-1.1zM417.3 323.7h1.1v1.1h-1.1zM404.7 317.2h1.1v1.1h-1.1zM407.9 323.3h1.1v1.1h-1.1zM444.0 323.7h1.1v1.1h-1.1zM405.1 287.2h1.1v1.1h-1.1zM427.0 364.5h1.1v1.1h-1.1zM427.8 349.9h1.1v1.1h-1.1zM425.8 336.3h1.1v1.1h-1.1zM414.7 330.4h1.1v1.1h-1.1zM440.4 344.7h1.1v1.1h-1.1zM407.6 362.0h1.1v1.1h-1.1zM396.0 329.6h1.1v1.1h-1.1zM387.5 331.6h1.1v1.1h-1.1zM395.2 300.9h1.1v1.1h-1.1zM381.7 318.3h1.1v1.1h-1.1zM405.1 279.0h1.1v1.1h-1.1zM402.2 303.8h1.1v1.1h-1.1zM383.8 331.6h1.1v1.1h-1.1zM436.6 357.3h1.1v1.1h-1.1zM387.4 315.6h1.1v1.1h-1.1zM415.4 351.3h1.1v1.1h-1.1zM433.4 335.7h1.1v1.1h-1.1zM446.7 343.6h1.1v1.1h-1.1zM379.3 332.3h1.1v1.1h-1.1zM412.9 333.8h1.1v1.1h-1.1zM423.2 343.1h1.1v1.1h-1.1zM382.1 318.3h1.1v1.1h-1.1zM389.7 300.8h1.1v1.1h-1.1zM421.9 348.1h1.1v1.1h-1.1zM444.3 346.4h1.1v1.1h-1.1zM391.8 326.8h1.1v1.1h-1.1zM430.7 336.3h1.1v1.1h-1.1zM411.0 309.6h1.1v1.1h-1.1zM401.5 346.0h1.1v1.1h-1.1zM416.0 324.3h1.1v1.1h-1.1zM385.9 320.1h1.1v1.1h-1.1zM438.5 320.4h1.1v1.1h-1.1zM402.9 343.9h1.1v1.1h-1.1zM441.3 326.8h1.1v1.1h-1.1zM401.3 338.1h1.1v1.1h-1.1zM400.3 329.9h1.1v1.1h-1.1zM397.6 312.3h1.1v1.1h-1.1zM406.3 325.1h1.1v1.1h-1.1zM423.5 355.7h1.1v1.1h-1.1zM391.5 330.5h1.1v1.1h-1.1zM388.8 324.0h1.1v1.1h-1.1zM390.6 297.1h1.1v1.1h-1.1zM380.5 323.6h1.1v1.1h-1.1zM392.2 292.4h1.1v1.1h-1.1zM423.0 353.0h1.1v1.1h-1.1zM385.3 329.1h1.1v1.1h-1.1zM418.6 292.5h1.1v1.1h-1.1zM397.4 331.5h1.1v1.1h-1.1zM396.6 326.9h1.1v1.1h-1.1zM415.5 327.9h1.1v1.1h-1.1zM404.0 317.0h1.1v1.1h-1.1zM385.8 321.9h1.1v1.1h-1.1zM380.8 322.8h1.1v1.1h-1.1zM397.3 332.9h1.1v1.1h-1.1zM423.7 349.0h1.1v1.1h-1.1zM452.7 344.9h1.1v1.1h-1.1zM408.1 338.1h1.1v1.1h-1.1zM399.2 324.7h1.1v1.1h-1.1zM386.0 332.9h1.1v1.1h-1.1zM415.2 291.5h1.1v1.1h-1.1zM422.6 326.9h1.1v1.1h-1.1zM445.9 348.0h1.1v1.1h-1.1zM401.2 288.2h1.1v1.1h-1.1zM438.6 341.4h1.1v1.1h-1.1zM406.6 346.0h1.1v1.1h-1.1zM445.3 319.7h1.1v1.1h-1.1zM412.0 357.7h1.1v1.1h-1.1zM428.3 345.4h1.1v1.1h-1.1zM445.5 320.7h1.1v1.1h-1.1zM446.8 331.4h1.1v1.1h-1.1zM403.4 278.9h1.1v1.1h-1.1zM422.5 324.3h1.1v1.1h-1.1zM429.2 343.8h1.1v1.1h-1.1zM451.4 340.1h1.1v1.1h-1.1zM417.7 351.6h1.1v1.1h-1.1zM441.5 329.2h1.1v1.1h-1.1zM405.2 314.5h1.1v1.1h-1.1zM405.8 338.0h1.1v1.1h-1.1zM401.1 315.5h1.1v1.1h-1.1zM379.2 320.4h1.1v1.1h-1.1zM405.3 305.4h1.1v1.1h-1.1zM425.0 345.3h1.1v1.1h-1.1zM414.1 347.0h1.1v1.1h-1.1zM400.3 301.8h1.1v1.1h-1.1zM413.4 342.5h1.1v1.1h-1.1zM421.7 333.4h1.1v1.1h-1.1zM422.6 342.3h1.1v1.1h-1.1zM404.2 334.3h1.1v1.1h-1.1zM407.5 352.5h1.1v1.1h-1.1zM403.4 293.9h1.1v1.1h-1.1zM415.1 283.1h1.1v1.1h-1.1zM400.5 289.4h1.1v1.1h-1.1zM427.1 336.1h1.1v1.1h-1.1zM413.7 328.7h1.1v1.1h-1.1zM419.4 330.8h1.1v1.1h-1.1zM413.4 338.4h1.1v1.1h-1.1zM411.6 343.0h1.1v1.1h-1.1zM444.0 334.3h1.1v1.1h-1.1zM408.3 359.6h1.1v1.1h-1.1zM444.0 330.2h1.1v1.1h-1.1zM410.1 331.2h1.1v1.1h-1.1zM399.5 327.0h1.1v1.1h-1.1zM409.6 326.8h1.1v1.1h-1.1zM390.1 329.7h1.1v1.1h-1.1zM400.7 300.4h1.1v1.1h-1.1zM393.5 328.2h1.1v1.1h-1.1zM412.3 339.4h1.1v1.1h-1.1zM407.0 319.3h1.1v1.1h-1.1zM448.6 320.9h1.1v1.1h-1.1zM400.8 289.6h1.1v1.1h-1.1zM398.4 314.0h1.1v1.1h-1.1zM401.2 280.0h1.1v1.1h-1.1zM400.0 316.6h1.1v1.1h-1.1zM393.7 322.2h1.1v1.1h-1.1zM418.7 346.3h1.1v1.1h-1.1zM417.6 346.4h1.1v1.1h-1.1zM404.9 340.7h1.1v1.1h-1.1zM410.4 316.3h1.1v1.1h-1.1zM401.6 333.4h1.1v1.1h-1.1zM391.5 293.5h1.1v1.1h-1.1zM425.0 364.8h1.1v1.1h-1.1zM402.3 341.6h1.1v1.1h-1.1zM383.4 329.2h1.1v1.1h-1.1zM400.2 306.1h1.1v1.1h-1.1zM408.4 294.1h1.1v1.1h-1.1zM447.3 345.2h1.1v1.1h-1.1zM381.2 319.8h1.1v1.1h-1.1zM437.0 357.2h1.1v1.1h-1.1zM402.4 326.0h1.1v1.1h-1.1zM405.3 317.7h1.1v1.1h-1.1zM378.3 323.7h1.1v1.1h-1.1zM441.3 329.5h1.1v1.1h-1.1zM393.0 313.7h1.1v1.1h-1.1zM441.0 332.4h1.1v1.1h-1.1zM395.0 335.2h1.1v1.1h-1.1zM439.0 320.5h1.1v1.1h-1.1zM408.1 344.0h1.1v1.1h-1.1zM407.0 318.7h1.1v1.1h-1.1zM427.0 344.7h1.1v1.1h-1.1zM430.3 337.4h1.1v1.1h-1.1zM401.7 339.0h1.1v1.1h-1.1zM407.9 319.2h1.1v1.1h-1.1zM393.7 285.8h1.1v1.1h-1.1zM448.9 334.9h1.1v1.1h-1.1zM449.6 340.2h1.1v1.1h-1.1zM410.3 312.1h1.1v1.1h-1.1zM407.1 328.3h1.1v1.1h-1.1zM415.0 292.4h1.1v1.1h-1.1zM396.2 318.6h1.1v1.1h-1.1zM408.4 338.6h1.1v1.1h-1.1zM396.5 288.4h1.1v1.1h-1.1zM416.6 294.8h1.1v1.1h-1.1zM410.8 339.1h1.1v1.1h-1.1zM406.3 331.6h1.1v1.1h-1.1zM422.0 354.6h1.1v1.1h-1.1zM384.2 323.5h1.1v1.1h-1.1zM411.5 315.7h1.1v1.1h-1.1zM447.9 340.6h1.1v1.1h-1.1zM423.8 317.7h1.1v1.1h-1.1zM421.1 345.0h1.1v1.1h-1.1zM405.5 323.0h1.1v1.1h-1.1zM394.9 331.9h1.1v1.1h-1.1zM396.5 329.5h1.1v1.1h-1.1zM407.2 306.5h1.1v1.1h-1.1zM395.9 319.4h1.1v1.1h-1.1zM411.3 333.6h1.1v1.1h-1.1zM425.7 347.7h1.1v1.1h-1.1zM404.8 303.1h1.1v1.1h-1.1zM403.4 356.4h1.1v1.1h-1.1zM394.3 321.0h1.1v1.1h-1.1zM391.5 295.6h1.1v1.1h-1.1zM414.9 286.1h1.1v1.1h-1.1zM416.8 360.6h1.1v1.1h-1.1zM394.4 324.4h1.1v1.1h-1.1zM407.8 361.4h1.1v1.1h-1.1zM382.9 326.5h1.1v1.1h-1.1zM395.8 290.5h1.1v1.1h-1.1zM383.5 324.3h1.1v1.1h-1.1zM415.0 282.2h1.1v1.1h-1.1zM433.2 336.7h1.1v1.1h-1.1zM398.0 288.4h1.1v1.1h-1.1zM395.3 315.2h1.1v1.1h-1.1zM382.5 329.7h1.1v1.1h-1.1zM446.5 325.6h1.1v1.1h-1.1zM422.2 328.6h1.1v1.1h-1.1zM401.8 308.6h1.1v1.1h-1.1zM405.6 284.7h1.1v1.1h-1.1zM415.5 338.9h1.1v1.1h-1.1zM405.7 332.9h1.1v1.1h-1.1zM415.1 334.3h1.1v1.1h-1.1zM405.9 324.0h1.1v1.1h-1.1zM427.4 348.2h1.1v1.1h-1.1zM417.6 286.2h1.1v1.1h-1.1zM406.7 335.6h1.1v1.1h-1.1zM398.5 325.2h1.1v1.1h-1.1zM402.5 294.4h1.1v1.1h-1.1zM410.8 359.4h1.1v1.1h-1.1zM399.2 305.9h1.1v1.1h-1.1zM411.6 322.2h1.1v1.1h-1.1zM426.4 344.6h1.1v1.1h-1.1zM441.4 336.9h1.1v1.1h-1.1zM444.4 324.6h1.1v1.1h-1.1zM398.6 312.3h1.1v1.1h-1.1zM446.2 346.6h1.1v1.1h-1.1zM450.4 329.7h1.1v1.1h-1.1zM431.5 334.5h1.1v1.1h-1.1zM408.1 301.4h1.1v1.1h-1.1zM444.0 339.6h1.1v1.1h-1.1zM408.9 331.4h1.1v1.1h-1.1zM415.8 360.0h1.1v1.1h-1.1zM407.7 281.9h1.1v1.1h-1.1zM448.5 324.0h1.1v1.1h-1.1zM419.1 331.4h1.1v1.1h-1.1zM396.1 329.7h1.1v1.1h-1.1zM433.2 332.9h1.1v1.1h-1.1zM405.3 288.6h1.1v1.1h-1.1zM410.3 340.7h1.1v1.1h-1.1zM428.8 341.1h1.1v1.1h-1.1zM409.1 326.7h1.1v1.1h-1.1zM449.3 326.4h1.1v1.1h-1.1zM400.9 306.3h1.1v1.1h-1.1zM407.1 344.6h1.1v1.1h-1.1zM410.5 339.9h1.1v1.1h-1.1zM402.3 308.9h1.1v1.1h-1.1zM448.2 321.9h1.1v1.1h-1.1zM382.4 320.8h1.1v1.1h-1.1zM426.1 349.5h1.1v1.1h-1.1zM429.6 356.4h1.1v1.1h-1.1zM408.7 349.1h1.1v1.1h-1.1zM384.0 324.0h1.1v1.1h-1.1zM443.6 348.7h1.1v1.1h-1.1zM417.4 347.7h1.1v1.1h-1.1zM416.8 321.2h1.1v1.1h-1.1zM410.2 322.6h1.1v1.1h-1.1zM419.4 347.7h1.1v1.1h-1.1zM446.9 329.4h1.1v1.1h-1.1zM404.9 305.0h1.1v1.1h-1.1zM446.9 335.1h1.1v1.1h-1.1zM408.8 314.3h1.1v1.1h-1.1zM425.3 360.3h1.1v1.1h-1.1zM415.0 334.7h1.1v1.1h-1.1zM422.1 292.0h1.1v1.1h-1.1zM401.7 304.7h1.1v1.1h-1.1zM414.1 331.2h1.1v1.1h-1.1zM406.1 362.2h1.1v1.1h-1.1zM400.8 308.5h1.1v1.1h-1.1zM430.6 353.5h1.1v1.1h-1.1zM403.2 314.2h1.1v1.1h-1.1zM409.4 333.2h1.1v1.1h-1.1zM421.4 338.1h1.1v1.1h-1.1zM414.6 349.0h1.1v1.1h-1.1zM415.7 327.0h1.1v1.1h-1.1zM436.6 358.1h1.1v1.1h-1.1zM448.0 337.3h1.1v1.1h-1.1zM398.8 283.8h1.1v1.1h-1.1zM414.5 336.2h1.1v1.1h-1.1zM413.1 343.5h1.1v1.1h-1.1zM421.2 339.6h1.1v1.1h-1.1zM416.9 324.6h1.1v1.1h-1.1zM399.4 293.6h1.1v1.1h-1.1zM404.2 291.0h1.1v1.1h-1.1zM395.5 330.4h1.1v1.1h-1.1zM405.6 315.3h1.1v1.1h-1.1zM395.9 289.7h1.1v1.1h-1.1zM449.6 347.4h1.1v1.1h-1.1zM447.5 323.8h1.1v1.1h-1.1zM424.8 341.1h1.1v1.1h-1.1zM427.4 348.0h1.1v1.1h-1.1zM422.2 326.6h1.1v1.1h-1.1zM392.9 311.8h1.1v1.1h-1.1zM443.0 322.8h1.1v1.1h-1.1zM405.5 333.5h1.1v1.1h-1.1zM446.3 323.1h1.1v1.1h-1.1zM385.2 322.0h1.1v1.1h-1.1zM396.4 296.9h1.1v1.1h-1.1zM437.3 334.6h1.1v1.1h-1.1zM423.2 353.1h1.1v1.1h-1.1zM406.1 322.6h1.1v1.1h-1.1zM397.0 320.6h1.1v1.1h-1.1zM408.9 346.0h1.1v1.1h-1.1zM402.7 310.0h1.1v1.1h-1.1z" fill="#f4eb98"/>
<path d="M412.0 297.2h1.1v1.1h-1.1zM411.3 291.3h1.1v1.1h-1.1zM445.5 317.6h1.1v1.1h-1.1zM415.8 322.1h1.1v1.1h-1.1zM417.1 334.8h1.1v1.1h-1.1zM415.7 333.6h1.1v1.1h-1.1zM418.7 335.4h1.1v1.1h-1.1zM414.3 321.5h1.1v1.1h-1.1zM417.1 335.6h1.1v1.1h-1.1zM420.3 324.6h1.1v1.1h-1.1zM418.6 337.3h1.1v1.1h-1.1zM415.3 319.9h1.1v1.1h-1.1zM418.5 324.6h1.1v1.1h-1.1zM417.2 331.8h1.1v1.1h-1.1zM414.5 318.7h1.1v1.1h-1.1zM430.7 322.5h1.1v1.1h-1.1zM430.0 328.5h1.1v1.1h-1.1zM438.4 325.9h1.1v1.1h-1.1zM435.4 338.6h1.1v1.1h-1.1zM426.6 339.0h1.1v1.1h-1.1zM439.7 341.2h1.1v1.1h-1.1zM428.0 343.7h1.1v1.1h-1.1zM426.4 341.9h1.1v1.1h-1.1zM434.6 341.5h1.1v1.1h-1.1zM425.9 341.1h1.1v1.1h-1.1zM429.6 340.7h1.1v1.1h-1.1zM442.4 328.5h1.1v1.1h-1.1zM443.0 318.1h1.1v1.1h-1.1zM443.3 319.1h1.1v1.1h-1.1zM438.8 330.4h1.1v1.1h-1.1zM441.6 327.8h1.1v1.1h-1.1zM415.3 319.7h1.1v1.1h-1.1zM416.6 322.3h1.1v1.1h-1.1zM422.4 319.7h1.1v1.1h-1.1zM418.2 321.2h1.1v1.1h-1.1zM423.3 343.7h1.1v1.1h-1.1zM432.7 313.9h1.1v1.1h-1.1zM400.9 297.4h1.1v1.1h-1.1zM428.9 351.9h1.1v1.1h-1.1zM417.3 309.8h1.1v1.1h-1.1zM438.2 343.1h1.1v1.1h-1.1zM387.3 320.1h1.1v1.1h-1.1zM397.8 320.9h1.1v1.1h-1.1zM420.2 356.0h1.1v1.1h-1.1zM443.0 331.9h1.1v1.1h-1.1zM421.5 349.6h1.1v1.1h-1.1zM416.9 345.4h1.1v1.1h-1.1zM406.2 355.7h1.1v1.1h-1.1zM451.7 337.5h1.1v1.1h-1.1zM394.3 330.5h1.1v1.1h-1.1zM428.9 365.3h1.1v1.1h-1.1zM445.3 340.4h1.1v1.1h-1.1zM392.3 312.0h1.1v1.1h-1.1zM428.1 365.0h1.1v1.1h-1.1zM417.3 358.7h1.1v1.1h-1.1zM402.6 340.9h1.1v1.1h-1.1zM413.8 347.4h1.1v1.1h-1.1zM422.0 365.6h1.1v1.1h-1.1zM399.6 291.5h1.1v1.1h-1.1zM396.8 331.8h1.1v1.1h-1.1zM386.5 328.5h1.1v1.1h-1.1zM420.2 327.3h1.1v1.1h-1.1zM434.3 310.9h1.1v1.1h-1.1zM410.7 362.9h1.1v1.1h-1.1zM446.7 318.2h1.1v1.1h-1.1zM421.8 339.3h1.1v1.1h-1.1zM447.6 324.5h1.1v1.1h-1.1zM416.0 298.3h1.1v1.1h-1.1zM427.9 333.4h1.1v1.1h-1.1zM386.4 331.6h1.1v1.1h-1.1zM423.4 365.2h1.1v1.1h-1.1zM414.0 330.9h1.1v1.1h-1.1zM412.2 311.1h1.1v1.1h-1.1zM419.8 351.5h1.1v1.1h-1.1zM390.8 293.5h1.1v1.1h-1.1zM425.8 354.7h1.1v1.1h-1.1zM414.5 350.4h1.1v1.1h-1.1zM411.8 361.6h1.1v1.1h-1.1zM414.4 345.7h1.1v1.1h-1.1zM440.0 332.5h1.1v1.1h-1.1zM404.7 300.1h1.1v1.1h-1.1zM425.3 366.3h1.1v1.1h-1.1zM405.1 282.0h1.1v1.1h-1.1zM400.0 338.4h1.1v1.1h-1.1zM408.8 318.9h1.1v1.1h-1.1zM445.5 346.6h1.1v1.1h-1.1zM405.2 341.5h1.1v1.1h-1.1zM418.0 330.4h1.1v1.1h-1.1zM419.1 319.8h1.1v1.1h-1.1zM411.7 343.0h1.1v1.1h-1.1zM416.5 315.0h1.1v1.1h-1.1zM409.6 337.7h1.1v1.1h-1.1zM445.9 302.4h1.1v1.1h-1.1zM425.0 354.0h1.1v1.1h-1.1zM430.1 347.0h1.1v1.1h-1.1zM420.0 353.6h1.1v1.1h-1.1zM399.4 331.6h1.1v1.1h-1.1zM394.2 312.3h1.1v1.1h-1.1zM395.8 332.4h1.1v1.1h-1.1zM414.2 326.4h1.1v1.1h-1.1zM426.4 343.8h1.1v1.1h-1.1zM415.1 342.3h1.1v1.1h-1.1zM424.3 359.7h1.1v1.1h-1.1zM397.5 315.3h1.1v1.1h-1.1zM402.1 307.1h1.1v1.1h-1.1zM397.2 329.8h1.1v1.1h-1.1zM393.2 321.0h1.1v1.1h-1.1zM409.8 344.4h1.1v1.1h-1.1zM404.9 286.6h1.1v1.1h-1.1zM418.3 361.3h1.1v1.1h-1.1zM413.7 318.2h1.1v1.1h-1.1zM451.8 346.6h1.1v1.1h-1.1zM396.4 304.1h1.1v1.1h-1.1zM401.5 322.9h1.1v1.1h-1.1zM430.9 330.6h1.1v1.1h-1.1zM402.2 288.0h1.1v1.1h-1.1zM408.6 319.1h1.1v1.1h-1.1zM446.8 309.9h1.1v1.1h-1.1zM427.8 338.9h1.1v1.1h-1.1zM422.8 366.1h1.1v1.1h-1.1zM416.5 344.3h1.1v1.1h-1.1zM441.6 323.6h1.1v1.1h-1.1zM417.0 342.2h1.1v1.1h-1.1zM444.9 305.3h1.1v1.1h-1.1zM417.2 333.2h1.1v1.1h-1.1zM417.7 295.8h1.1v1.1h-1.1zM428.1 362.8h1.1v1.1h-1.1zM441.3 302.7h1.1v1.1h-1.1zM388.3 333.9h1.1v1.1h-1.1zM439.2 344.7h1.1v1.1h-1.1zM407.4 341.3h1.1v1.1h-1.1zM395.9 298.0h1.1v1.1h-1.1zM415.8 321.8h1.1v1.1h-1.1zM414.1 299.6h1.1v1.1h-1.1zM407.4 347.5h1.1v1.1h-1.1zM445.1 328.9h1.1v1.1h-1.1zM407.2 356.1h1.1v1.1h-1.1zM423.0 349.9h1.1v1.1h-1.1zM417.6 331.1h1.1v1.1h-1.1zM425.7 352.5h1.1v1.1h-1.1zM441.3 345.5h1.1v1.1h-1.1zM444.1 345.7h1.1v1.1h-1.1zM394.8 294.1h1.1v1.1h-1.1zM399.9 308.2h1.1v1.1h-1.1zM421.5 346.4h1.1v1.1h-1.1zM405.1 291.4h1.1v1.1h-1.1zM427.4 338.5h1.1v1.1h-1.1zM424.0 341.3h1.1v1.1h-1.1zM424.4 356.8h1.1v1.1h-1.1zM419.7 334.0h1.1v1.1h-1.1zM411.6 357.1h1.1v1.1h-1.1zM437.6 314.8h1.1v1.1h-1.1zM432.6 334.3h1.1v1.1h-1.1zM418.4 333.0h1.1v1.1h-1.1zM409.8 327.9h1.1v1.1h-1.1zM429.9 338.7h1.1v1.1h-1.1zM434.0 304.5h1.1v1.1h-1.1zM381.9 320.8h1.1v1.1h-1.1zM399.5 321.2h1.1v1.1h-1.1zM448.0 306.0h1.1v1.1h-1.1zM439.6 320.0h1.1v1.1h-1.1zM406.4 352.2h1.1v1.1h-1.1zM415.0 295.7h1.1v1.1h-1.1zM409.7 343.0h1.1v1.1h-1.1zM381.2 331.5h1.1v1.1h-1.1zM421.2 343.7h1.1v1.1h-1.1zM418.7 355.1h1.1v1.1h-1.1zM426.2 339.3h1.1v1.1h-1.1zM411.3 359.4h1.1v1.1h-1.1zM397.7 314.1h1.1v1.1h-1.1zM424.9 346.5h1.1v1.1h-1.1zM433.5 305.8h1.1v1.1h-1.1zM416.7 328.0h1.1v1.1h-1.1zM383.8 330.1h1.1v1.1h-1.1zM444.2 335.6h1.1v1.1h-1.1zM396.0 312.6h1.1v1.1h-1.1zM419.6 352.8h1.1v1.1h-1.1zM448.6 340.6h1.1v1.1h-1.1zM402.2 337.3h1.1v1.1h-1.1zM392.7 334.1h1.1v1.1h-1.1zM415.6 351.2h1.1v1.1h-1.1zM387.1 328.1h1.1v1.1h-1.1zM441.3 306.2h1.1v1.1h-1.1zM385.3 327.1h1.1v1.1h-1.1zM426.4 363.3h1.1v1.1h-1.1zM403.1 338.3h1.1v1.1h-1.1zM395.8 317.7h1.1v1.1h-1.1zM416.0 325.2h1.1v1.1h-1.1zM415.9 315.1h1.1v1.1h-1.1zM447.4 348.7h1.1v1.1h-1.1zM398.6 337.0h1.1v1.1h-1.1zM414.5 341.4h1.1v1.1h-1.1zM392.0 329.0h1.1v1.1h-1.1zM410.2 300.1h1.1v1.1h-1.1zM445.0 301.4h1.1v1.1h-1.1zM396.6 314.4h1.1v1.1h-1.1zM423.4 338.4h1.1v1.1h-1.1zM409.4 288.1h1.1v1.1h-1.1zM428.6 363.6h1.1v1.1h-1.1zM441.2 317.5h1.1v1.1h-1.1zM403.6 353.5h1.1v1.1h-1.1zM394.6 320.1h1.1v1.1h-1.1zM423.7 286.4h1.1v1.1h-1.1zM429.5 338.7h1.1v1.1h-1.1zM423.4 355.9h1.1v1.1h-1.1zM397.7 323.6h1.1v1.1h-1.1zM411.0 333.8h1.1v1.1h-1.1zM425.4 353.4h1.1v1.1h-1.1zM392.0 320.0h1.1v1.1h-1.1zM407.1 309.4h1.1v1.1h-1.1zM385.1 332.8h1.1v1.1h-1.1zM428.7 334.8h1.1v1.1h-1.1zM399.3 334.8h1.1v1.1h-1.1zM382.3 329.0h1.1v1.1h-1.1zM418.3 333.8h1.1v1.1h-1.1zM411.1 316.2h1.1v1.1h-1.1zM389.7 329.9h1.1v1.1h-1.1zM423.8 344.4h1.1v1.1h-1.1zM405.7 343.3h1.1v1.1h-1.1zM401.1 286.7h1.1v1.1h-1.1zM432.9 305.8h1.1v1.1h-1.1zM406.4 337.4h1.1v1.1h-1.1zM428.3 352.5h1.1v1.1h-1.1zM400.4 296.7h1.1v1.1h-1.1zM404.7 335.5h1.1v1.1h-1.1zM404.6 318.0h1.1v1.1h-1.1zM415.8 315.5h1.1v1.1h-1.1zM414.7 318.3h1.1v1.1h-1.1zM404.1 352.5h1.1v1.1h-1.1zM393.9 335.0h1.1v1.1h-1.1zM394.7 331.8h1.1v1.1h-1.1zM437.8 318.8h1.1v1.1h-1.1zM447.2 306.5h1.1v1.1h-1.1zM402.0 326.5h1.1v1.1h-1.1zM399.3 290.1h1.1v1.1h-1.1z" fill="#4f55a5"/>
<path d="M411.9 292.3h1.1v1.1h-1.1zM446.2 311.2h1.1v1.1h-1.1zM420.0 332.1h1.1v1.1h-1.1zM416.9 322.7h1.1v1.1h-1.1zM417.8 323.4h1.1v1.1h-1.1zM417.0 323.2h1.1v1.1h-1.1zM415.3 320.8h1.1v1.1h-1.1zM414.4 321.3h1.1v1.1h-1.1zM416.2 327.3h1.1v1.1h-1.1zM415.5 327.5h1.1v1.1h-1.1zM427.9 323.1h1.1v1.1h-1.1zM427.7 327.2h1.1v1.1h-1.1zM426.4 338.9h1.1v1.1h-1.1zM441.4 339.4h1.1v1.1h-1.1zM440.1 343.5h1.1v1.1h-1.1zM434.6 343.6h1.1v1.1h-1.1zM437.8 324.5h1.1v1.1h-1.1zM447.0 323.0h1.1v1.1h-1.1zM447.5 322.2h1.1v1.1h-1.1zM440.2 327.8h1.1v1.1h-1.1zM443.1 327.2h1.1v1.1h-1.1zM446.0 319.4h1.1v1.1h-1.1zM441.7 324.1h1.1v1.1h-1.1zM442.9 325.8h1.1v1.1h-1.1zM441.7 320.7h1.1v1.1h-1.1zM438.3 328.3h1.1v1.1h-1.1zM438.9 324.4h1.1v1.1h-1.1zM445.5 319.3h1.1v1.1h-1.1zM439.5 322.1h1.1v1.1h-1.1zM439.3 325.3h1.1v1.1h-1.1zM436.4 319.8h1.1v1.1h-1.1zM437.0 319.1h1.1v1.1h-1.1zM439.8 324.9h1.1v1.1h-1.1zM420.6 319.7h1.1v1.1h-1.1zM383.2 329.1h1.1v1.1h-1.1zM418.7 319.9h1.1v1.1h-1.1zM412.1 341.9h1.1v1.1h-1.1zM449.5 332.4h1.1v1.1h-1.1zM449.7 345.6h1.1v1.1h-1.1zM422.4 360.2h1.1v1.1h-1.1zM388.4 318.3h1.1v1.1h-1.1zM443.5 327.8h1.1v1.1h-1.1zM440.0 333.9h1.1v1.1h-1.1zM441.5 325.5h1.1v1.1h-1.1zM408.0 311.7h1.1v1.1h-1.1zM443.4 328.4h1.1v1.1h-1.1zM386.4 317.5h1.1v1.1h-1.1zM403.9 303.7h1.1v1.1h-1.1zM427.8 336.3h1.1v1.1h-1.1zM409.6 324.7h1.1v1.1h-1.1zM383.2 320.0h1.1v1.1h-1.1zM412.4 349.0h1.1v1.1h-1.1zM427.0 354.3h1.1v1.1h-1.1zM413.6 358.4h1.1v1.1h-1.1zM402.1 346.0h1.1v1.1h-1.1zM408.9 315.1h1.1v1.1h-1.1zM410.6 313.5h1.1v1.1h-1.1zM396.8 290.4h1.1v1.1h-1.1zM411.0 345.6h1.1v1.1h-1.1zM419.5 325.9h1.1v1.1h-1.1zM441.0 335.4h1.1v1.1h-1.1zM412.5 313.0h1.1v1.1h-1.1zM389.3 324.5h1.1v1.1h-1.1zM448.1 327.4h1.1v1.1h-1.1zM416.1 327.3h1.1v1.1h-1.1zM452.5 343.0h1.1v1.1h-1.1zM416.4 323.8h1.1v1.1h-1.1zM415.8 321.9h1.1v1.1h-1.1zM431.7 330.3h1.1v1.1h-1.1zM426.7 344.9h1.1v1.1h-1.1zM415.9 315.6h1.1v1.1h-1.1zM446.8 342.2h1.1v1.1h-1.1zM401.7 306.4h1.1v1.1h-1.1zM383.4 320.0h1.1v1.1h-1.1zM403.7 313.9h1.1v1.1h-1.1zM397.1 308.3h1.1v1.1h-1.1zM451.8 339.1h1.1v1.1h-1.1zM445.3 334.9h1.1v1.1h-1.1zM387.4 330.0h1.1v1.1h-1.1zM419.2 336.3h1.1v1.1h-1.1zM447.6 343.8h1.1v1.1h-1.1zM424.0 339.7h1.1v1.1h-1.1zM414.9 324.2h1.1v1.1h-1.1zM397.0 313.9h1.1v1.1h-1.1zM414.9 340.8h1.1v1.1h-1.1zM406.1 316.9h1.1v1.1h-1.1zM411.7 339.6h1.1v1.1h-1.1zM418.5 343.8h1.1v1.1h-1.1zM419.5 328.1h1.1v1.1h-1.1zM412.8 315.8h1.1v1.1h-1.1zM408.7 310.1h1.1v1.1h-1.1zM415.1 311.3h1.1v1.1h-1.1zM452.4 337.5h1.1v1.1h-1.1zM411.5 318.8h1.1v1.1h-1.1zM391.1 328.7h1.1v1.1h-1.1zM405.7 327.6h1.1v1.1h-1.1zM448.1 323.6h1.1v1.1h-1.1zM438.6 330.2h1.1v1.1h-1.1zM409.3 312.1h1.1v1.1h-1.1zM414.6 344.9h1.1v1.1h-1.1zM393.4 288.6h1.1v1.1h-1.1zM446.2 328.9h1.1v1.1h-1.1zM396.6 315.7h1.1v1.1h-1.1zM389.0 329.3h1.1v1.1h-1.1zM387.7 330.7h1.1v1.1h-1.1zM399.2 322.1h1.1v1.1h-1.1zM437.6 319.4h1.1v1.1h-1.1zM402.4 328.1h1.1v1.1h-1.1zM394.6 313.6h1.1v1.1h-1.1zM438.3 340.7h1.1v1.1h-1.1zM427.1 362.1h1.1v1.1h-1.1zM416.2 336.0h1.1v1.1h-1.1zM380.5 318.8h1.1v1.1h-1.1zM427.2 365.2h1.1v1.1h-1.1zM428.1 347.7h1.1v1.1h-1.1zM384.7 318.9h1.1v1.1h-1.1zM410.5 343.4h1.1v1.1h-1.1zM450.4 345.7h1.1v1.1h-1.1zM404.8 338.1h1.1v1.1h-1.1zM407.4 309.1h1.1v1.1h-1.1zM445.2 347.0h1.1v1.1h-1.1zM386.3 317.8h1.1v1.1h-1.1zM411.4 324.7h1.1v1.1h-1.1zM431.5 310.8h1.1v1.1h-1.1zM425.3 336.3h1.1v1.1h-1.1zM428.3 340.3h1.1v1.1h-1.1zM394.0 294.0h1.1v1.1h-1.1zM427.0 351.1h1.1v1.1h-1.1zM429.8 332.3h1.1v1.1h-1.1zM403.7 327.4h1.1v1.1h-1.1zM448.6 324.9h1.1v1.1h-1.1zM420.7 334.8h1.1v1.1h-1.1zM421.1 347.6h1.1v1.1h-1.1zM423.7 341.7h1.1v1.1h-1.1zM403.8 359.1h1.1v1.1h-1.1zM424.2 342.9h1.1v1.1h-1.1zM406.8 326.4h1.1v1.1h-1.1zM394.0 312.4h1.1v1.1h-1.1zM447.1 332.2h1.1v1.1h-1.1zM406.4 314.1h1.1v1.1h-1.1zM418.3 337.3h1.1v1.1h-1.1zM411.1 332.4h1.1v1.1h-1.1zM423.4 339.7h1.1v1.1h-1.1zM452.3 336.2h1.1v1.1h-1.1zM399.7 288.7h1.1v1.1h-1.1zM408.8 309.5h1.1v1.1h-1.1zM396.0 308.0h1.1v1.1h-1.1zM383.3 332.3h1.1v1.1h-1.1zM414.9 357.7h1.1v1.1h-1.1zM429.3 344.2h1.1v1.1h-1.1zM407.1 356.5h1.1v1.1h-1.1zM425.6 340.3h1.1v1.1h-1.1zM407.0 342.4h1.1v1.1h-1.1zM391.0 322.6h1.1v1.1h-1.1zM396.4 315.6h1.1v1.1h-1.1zM422.8 324.7h1.1v1.1h-1.1zM411.0 349.2h1.1v1.1h-1.1zM408.0 345.9h1.1v1.1h-1.1zM433.0 307.7h1.1v1.1h-1.1zM445.0 301.9h1.1v1.1h-1.1zM440.6 328.1h1.1v1.1h-1.1zM388.8 326.5h1.1v1.1h-1.1zM382.6 328.8h1.1v1.1h-1.1zM443.6 335.5h1.1v1.1h-1.1zM427.7 346.4h1.1v1.1h-1.1zM394.7 308.9h1.1v1.1h-1.1zM394.2 317.5h1.1v1.1h-1.1zM417.4 328.9h1.1v1.1h-1.1zM405.1 335.9h1.1v1.1h-1.1zM411.5 313.4h1.1v1.1h-1.1zM404.1 336.5h1.1v1.1h-1.1zM396.5 312.1h1.1v1.1h-1.1zM437.7 342.8h1.1v1.1h-1.1zM407.0 312.2h1.1v1.1h-1.1zM414.9 347.4h1.1v1.1h-1.1zM412.0 314.1h1.1v1.1h-1.1zM409.9 323.8h1.1v1.1h-1.1zM413.9 313.1h1.1v1.1h-1.1zM446.1 326.4h1.1v1.1h-1.1zM423.8 362.6h1.1v1.1h-1.1zM404.8 319.7h1.1v1.1h-1.1zM401.1 314.6h1.1v1.1h-1.1zM423.6 345.0h1.1v1.1h-1.1zM400.9 335.6h1.1v1.1h-1.1zM450.2 303.8h1.1v1.1h-1.1zM420.2 354.1h1.1v1.1h-1.1zM407.0 317.8h1.1v1.1h-1.1zM407.3 310.7h1.1v1.1h-1.1zM445.7 348.7h1.1v1.1h-1.1zM451.1 332.9h1.1v1.1h-1.1zM394.0 333.9h1.1v1.1h-1.1zM423.3 341.3h1.1v1.1h-1.1zM396.4 313.0h1.1v1.1h-1.1zM429.4 334.6h1.1v1.1h-1.1zM448.5 327.3h1.1v1.1h-1.1zM440.7 325.9h1.1v1.1h-1.1zM422.2 329.0h1.1v1.1h-1.1zM409.7 288.0h1.1v1.1h-1.1zM404.6 311.9h1.1v1.1h-1.1zM442.1 335.5h1.1v1.1h-1.1zM415.0 314.3h1.1v1.1h-1.1zM405.4 309.1h1.1v1.1h-1.1zM399.8 336.0h1.1v1.1h-1.1zM381.2 322.4h1.1v1.1h-1.1zM451.4 306.7h1.1v1.1h-1.1zM387.2 322.5h1.1v1.1h-1.1zM427.4 366.7h1.1v1.1h-1.1zM409.6 344.2h1.1v1.1h-1.1zM413.8 328.4h1.1v1.1h-1.1zM392.0 291.4h1.1v1.1h-1.1zM431.9 332.3h1.1v1.1h-1.1zM439.9 318.9h1.1v1.1h-1.1zM442.1 321.6h1.1v1.1h-1.1zM401.5 325.1h1.1v1.1h-1.1zM416.7 326.2h1.1v1.1h-1.1zM389.8 299.0h1.1v1.1h-1.1zM406.9 347.0h1.1v1.1h-1.1zM417.1 340.2h1.1v1.1h-1.1zM432.4 329.5h1.1v1.1h-1.1zM388.5 324.7h1.1v1.1h-1.1zM391.8 331.5h1.1v1.1h-1.1zM412.7 345.0h1.1v1.1h-1.1zM409.1 349.5h1.1v1.1h-1.1zM395.4 312.0h1.1v1.1h-1.1zM432.5 347.2h1.1v1.1h-1.1zM446.1 343.7h1.1v1.1h-1.1zM412.2 318.1h1.1v1.1h-1.1zM431.7 330.6h1.1v1.1h-1.1zM414.2 307.9h1.1v1.1h-1.1zM415.1 359.9h1.1v1.1h-1.1zM448.0 332.1h1.1v1.1h-1.1zM408.7 349.6h1.1v1.1h-1.1zM420.1 354.4h1.1v1.1h-1.1zM441.7 331.9h1.1v1.1h-1.1zM448.3 347.0h1.1v1.1h-1.1zM420.7 346.8h1.1v1.1h-1.1zM388.8 320.5h1.1v1.1h-1.1zM412.3 329.7h1.1v1.1h-1.1zM443.6 332.1h1.1v1.1h-1.1zM423.2 341.4h1.1v1.1h-1.1zM406.7 346.9h1.1v1.1h-1.1zM378.4 327.2h1.1v1.1h-1.1zM392.2 298.1h1.1v1.1h-1.1zM417.1 333.1h1.1v1.1h-1.1zM450.6 344.6h1.1v1.1h-1.1zM442.4 348.5h1.1v1.1h-1.1zM415.7 322.6h1.1v1.1h-1.1zM382.3 317.9h1.1v1.1h-1.1zM438.8 346.1h1.1v1.1h-1.1zM453.5 339.3h1.1v1.1h-1.1zM425.6 338.5h1.1v1.1h-1.1zM411.7 319.5h1.1v1.1h-1.1zM404.5 342.3h1.1v1.1h-1.1zM396.0 331.1h1.1v1.1h-1.1zM405.9 312.5h1.1v1.1h-1.1zM414.2 322.4h1.1v1.1h-1.1zM441.9 336.1h1.1v1.1h-1.1zM391.8 292.6h1.1v1.1h-1.1zM439.2 356.0h1.1v1.1h-1.1zM410.4 317.5h1.1v1.1h-1.1zM415.1 307.8h1.1v1.1h-1.1zM380.7 326.4h1.1v1.1h-1.1zM410.6 315.8h1.1v1.1h-1.1zM413.0 319.2h1.1v1.1h-1.1zM450.9 329.8h1.1v1.1h-1.1zM390.6 315.6h1.1v1.1h-1.1zM405.3 333.8h1.1v1.1h-1.1zM406.9 311.6h1.1v1.1h-1.1zM449.8 336.8h1.1v1.1h-1.1zM394.4 332.4h1.1v1.1h-1.1zM434.8 308.5h1.1v1.1h-1.1zM442.5 342.1h1.1v1.1h-1.1zM409.9 310.8h1.1v1.1h-1.1zM421.5 330.1h1.1v1.1h-1.1zM416.5 356.2h1.1v1.1h-1.1zM383.3 332.0h1.1v1.1h-1.1zM399.8 330.0h1.1v1.1h-1.1zM411.5 311.3h1.1v1.1h-1.1zM447.4 341.3h1.1v1.1h-1.1zM405.6 344.2h1.1v1.1h-1.1zM426.2 345.6h1.1v1.1h-1.1zM383.9 332.0h1.1v1.1h-1.1zM445.6 321.3h1.1v1.1h-1.1zM383.2 321.4h1.1v1.1h-1.1zM421.3 334.4h1.1v1.1h-1.1zM410.2 359.5h1.1v1.1h-1.1zM428.2 340.1h1.1v1.1h-1.1zM407.8 303.7h1.1v1.1h-1.1zM400.3 310.5h1.1v1.1h-1.1zM386.8 330.7h1.1v1.1h-1.1zM413.4 337.8h1.1v1.1h-1.1zM418.5 357.2h1.1v1.1h-1.1zM393.7 315.1h1.1v1.1h-1.1zM405.1 350.4h1.1v1.1h-1.1zM446.5 340.0h1.1v1.1h-1.1zM445.5 331.9h1.1v1.1h-1.1zM422.9 346.5h1.1v1.1h-1.1zM413.9 307.7h1.1v1.1h-1.1zM397.4 321.2h1.1v1.1h-1.1zM410.0 336.3h1.1v1.1h-1.1zM442.5 322.2h1.1v1.1h-1.1zM450.3 327.9h1.1v1.1h-1.1zM426.4 355.8h1.1v1.1h-1.1zM426.2 344.5h1.1v1.1h-1.1zM428.5 355.6h1.1v1.1h-1.1zM438.2 341.0h1.1v1.1h-1.1zM419.7 359.8h1.1v1.1h-1.1zM407.6 292.8h1.1v1.1h-1.1zM388.0 327.6h1.1v1.1h-1.1zM406.7 351.8h1.1v1.1h-1.1zM429.8 336.7h1.1v1.1h-1.1zM383.1 319.1h1.1v1.1h-1.1zM418.8 320.8h1.1v1.1h-1.1zM394.0 320.6h1.1v1.1h-1.1zM439.2 337.3h1.1v1.1h-1.1zM409.3 323.7h1.1v1.1h-1.1zM408.9 295.7h1.1v1.1h-1.1zM414.1 311.6h1.1v1.1h-1.1zM399.8 315.0h1.1v1.1h-1.1zM424.6 348.5h1.1v1.1h-1.1zM406.6 316.0h1.1v1.1h-1.1zM393.7 318.1h1.1v1.1h-1.1zM393.5 310.7h1.1v1.1h-1.1zM415.8 345.8h1.1v1.1h-1.1zM413.3 307.8h1.1v1.1h-1.1zM393.5 301.9h1.1v1.1h-1.1zM403.3 320.0h1.1v1.1h-1.1zM388.7 329.0h1.1v1.1h-1.1zM408.0 318.9h1.1v1.1h-1.1zM383.7 321.1h1.1v1.1h-1.1zM439.6 312.6h1.1v1.1h-1.1zM433.8 305.0h1.1v1.1h-1.1zM412.8 322.1h1.1v1.1h-1.1zM402.6 312.4h1.1v1.1h-1.1zM446.2 328.5h1.1v1.1h-1.1zM399.3 312.4h1.1v1.1h-1.1zM441.0 307.7h1.1v1.1h-1.1zM384.1 318.9h1.1v1.1h-1.1zM451.5 343.1h1.1v1.1h-1.1zM414.8 347.9h1.1v1.1h-1.1zM439.0 344.5h1.1v1.1h-1.1zM415.2 360.2h1.1v1.1h-1.1zM422.4 346.0h1.1v1.1h-1.1zM415.7 311.3h1.1v1.1h-1.1zM444.3 335.9h1.1v1.1h-1.1zM398.3 309.6h1.1v1.1h-1.1zM417.5 312.6h1.1v1.1h-1.1zM429.0 355.2h1.1v1.1h-1.1zM416.4 355.0h1.1v1.1h-1.1zM419.2 335.3h1.1v1.1h-1.1zM424.1 350.6h1.1v1.1h-1.1zM439.8 356.3h1.1v1.1h-1.1zM427.3 352.1h1.1v1.1h-1.1zM444.7 341.4h1.1v1.1h-1.1zM390.6 314.5h1.1v1.1h-1.1zM404.7 329.5h1.1v1.1h-1.1zM432.4 332.8h1.1v1.1h-1.1zM388.1 324.9h1.1v1.1h-1.1zM397.3 283.0h1.1v1.1h-1.1z" fill="#f5a45c"/>
<path d="M446.9 313.3h1.1v1.1h-1.1zM446.0 311.4h1.1v1.1h-1.1zM444.8 313.9h1.1v1.1h-1.1zM444.7 311.9h1.1v1.1h-1.1zM434.7 313.8h1.1v1.1h-1.1zM441.0 319.4h1.1v1.1h-1.1zM444.7 306.0h1.1v1.1h-1.1zM444.9 300.4h1.1v1.1h-1.1zM443.7 306.0h1.1v1.1h-1.1zM448.5 302.6h1.1v1.1h-1.1zM441.5 304.3h1.1v1.1h-1.1zM443.8 304.4h1.1v1.1h-1.1zM447.0 301.9h1.1v1.1h-1.1zM440.8 301.9h1.1v1.1h-1.1zM432.5 315.2h1.1v1.1h-1.1zM433.6 315.9h1.1v1.1h-1.1zM450.4 303.0h1.1v1.1h-1.1zM437.8 315.1h1.1v1.1h-1.1zM432.2 311.5h1.1v1.1h-1.1zM437.3 307.7h1.1v1.1h-1.1zM444.1 300.5h1.1v1.1h-1.1zM435.9 315.6h1.1v1.1h-1.1zM449.1 307.0h1.1v1.1h-1.1zM434.2 307.0h1.1v1.1h-1.1zM447.8 310.5h1.1v1.1h-1.1zM440.3 311.8h1.1v1.1h-1.1zM434.1 311.8h1.1v1.1h-1.1zM438.6 315.9h1.1v1.1h-1.1zM437.9 313.3h1.1v1.1h-1.1zM446.1 317.9h1.1v1.1h-1.1zM435.8 317.1h1.1v1.1h-1.1zM432.5 307.5h1.1v1.1h-1.1zM447.9 309.8h1.1v1.1h-1.1zM435.7 314.6h1.1v1.1h-1.1zM450.6 308.8h1.1v1.1h-1.1zM447.9 305.7h1.1v1.1h-1.1zM448.0 303.5h1.1v1.1h-1.1zM438.8 317.6h1.1v1.1h-1.1zM441.9 303.9h1.1v1.1h-1.1zM447.6 307.6h1.1v1.1h-1.1zM437.3 311.5h1.1v1.1h-1.1zM441.5 304.5h1.1v1.1h-1.1zM442.7 306.2h1.1v1.1h-1.1zM449.2 306.4h1.1v1.1h-1.1zM449.0 308.5h1.1v1.1h-1.1zM442.7 309.2h1.1v1.1h-1.1zM436.3 313.4h1.1v1.1h-1.1zM433.5 307.5h1.1v1.1h-1.1z" fill="#e4643e"/>
<path d="M444.6 309.0h1.1v1.1h-1.1zM449.1 319.7h1.1v1.1h-1.1zM448.0 320.5h1.1v1.1h-1.1zM443.9 313.2h1.1v1.1h-1.1zM444.4 313.5h1.1v1.1h-1.1zM436.5 308.8h1.1v1.1h-1.1zM447.5 305.3h1.1v1.1h-1.1zM450.0 303.6h1.1v1.1h-1.1zM434.7 309.9h1.1v1.1h-1.1zM443.8 305.0h1.1v1.1h-1.1zM450.6 308.1h1.1v1.1h-1.1zM441.3 319.8h1.1v1.1h-1.1zM438.2 318.0h1.1v1.1h-1.1zM436.1 301.4h1.1v1.1h-1.1zM447.4 314.2h1.1v1.1h-1.1zM449.2 303.1h1.1v1.1h-1.1zM445.5 310.7h1.1v1.1h-1.1zM447.3 308.3h1.1v1.1h-1.1zM435.0 316.9h1.1v1.1h-1.1zM438.4 315.9h1.1v1.1h-1.1zM446.4 313.5h1.1v1.1h-1.1zM442.6 308.4h1.1v1.1h-1.1zM442.3 302.5h1.1v1.1h-1.1zM444.7 314.6h1.1v1.1h-1.1zM438.1 315.3h1.1v1.1h-1.1zM435.1 314.1h1.1v1.1h-1.1zM447.9 301.2h1.1v1.1h-1.1zM434.9 303.1h1.1v1.1h-1.1zM443.7 301.1h1.1v1.1h-1.1zM442.1 319.0h1.1v1.1h-1.1zM446.1 311.3h1.1v1.1h-1.1zM431.9 309.4h1.1v1.1h-1.1zM442.6 299.5h1.1v1.1h-1.1z" fill="#a01a4a"/>
<path d="M447.8 310.9h1.1v1.1h-1.1zM446.2 309.9h1.1v1.1h-1.1zM446.6 311.0h1.1v1.1h-1.1zM444.4 309.6h1.1v1.1h-1.1zM448.3 310.7h1.1v1.1h-1.1zM436.5 314.2h1.1v1.1h-1.1zM446.6 306.2h1.1v1.1h-1.1zM438.1 309.8h1.1v1.1h-1.1zM433.4 315.3h1.1v1.1h-1.1zM450.5 304.6h1.1v1.1h-1.1zM434.5 318.3h1.1v1.1h-1.1zM437.2 304.9h1.1v1.1h-1.1zM436.7 304.7h1.1v1.1h-1.1zM451.0 305.9h1.1v1.1h-1.1zM443.6 304.7h1.1v1.1h-1.1zM436.5 306.0h1.1v1.1h-1.1zM436.1 318.8h1.1v1.1h-1.1zM434.6 311.0h1.1v1.1h-1.1zM389.0 316.7h1.1v1.1h-1.1zM436.8 318.2h1.1v1.1h-1.1zM443.4 303.6h1.1v1.1h-1.1zM443.3 310.3h1.1v1.1h-1.1zM437.2 306.3h1.1v1.1h-1.1zM434.6 314.3h1.1v1.1h-1.1zM443.2 300.2h1.1v1.1h-1.1zM387.5 326.0h1.1v1.1h-1.1zM447.0 305.4h1.1v1.1h-1.1zM449.5 302.3h1.1v1.1h-1.1zM445.3 306.5h1.1v1.1h-1.1zM445.8 313.8h1.1v1.1h-1.1zM447.4 316.9h1.1v1.1h-1.1zM441.5 304.6h1.1v1.1h-1.1zM438.7 315.3h1.1v1.1h-1.1zM436.2 304.9h1.1v1.1h-1.1zM450.5 305.8h1.1v1.1h-1.1zM445.2 311.6h1.1v1.1h-1.1zM389.3 334.0h1.1v1.1h-1.1zM433.2 312.2h1.1v1.1h-1.1zM441.8 307.1h1.1v1.1h-1.1zM381.1 329.8h1.1v1.1h-1.1zM447.9 312.7h1.1v1.1h-1.1zM446.4 318.2h1.1v1.1h-1.1zM434.2 308.1h1.1v1.1h-1.1zM433.0 307.2h1.1v1.1h-1.1zM400.6 310.5h1.1v1.1h-1.1zM445.1 301.8h1.1v1.1h-1.1zM381.0 332.6h1.1v1.1h-1.1zM437.6 302.2h1.1v1.1h-1.1zM410.7 309.5h1.1v1.1h-1.1zM437.6 307.0h1.1v1.1h-1.1zM439.4 318.2h1.1v1.1h-1.1zM434.8 309.4h1.1v1.1h-1.1zM444.7 317.1h1.1v1.1h-1.1zM440.3 300.2h1.1v1.1h-1.1zM443.9 307.4h1.1v1.1h-1.1zM448.1 308.8h1.1v1.1h-1.1zM444.0 305.3h1.1v1.1h-1.1zM450.7 309.1h1.1v1.1h-1.1zM412.9 314.4h1.1v1.1h-1.1zM441.3 316.3h1.1v1.1h-1.1zM434.4 311.4h1.1v1.1h-1.1zM438.2 312.2h1.1v1.1h-1.1zM450.2 306.5h1.1v1.1h-1.1zM439.1 316.8h1.1v1.1h-1.1zM446.5 308.5h1.1v1.1h-1.1zM440.6 318.2h1.1v1.1h-1.1zM438.7 319.5h1.1v1.1h-1.1zM435.1 304.5h1.1v1.1h-1.1zM444.7 314.4h1.1v1.1h-1.1zM379.1 332.2h1.1v1.1h-1.1zM439.0 313.6h1.1v1.1h-1.1zM444.0 303.6h1.1v1.1h-1.1zM439.2 301.4h1.1v1.1h-1.1zM403.0 312.4h1.1v1.1h-1.1zM406.7 310.7h1.1v1.1h-1.1zM448.9 303.9h1.1v1.1h-1.1zM451.6 307.1h1.1v1.1h-1.1zM412.2 311.3h1.1v1.1h-1.1zM441.4 302.9h1.1v1.1h-1.1zM435.0 309.2h1.1v1.1h-1.1zM439.6 311.3h1.1v1.1h-1.1zM442.0 313.5h1.1v1.1h-1.1zM446.0 308.9h1.1v1.1h-1.1zM446.0 316.1h1.1v1.1h-1.1zM431.9 312.4h1.1v1.1h-1.1zM445.7 308.9h1.1v1.1h-1.1zM431.8 308.6h1.1v1.1h-1.1zM432.9 311.0h1.1v1.1h-1.1zM442.9 317.1h1.1v1.1h-1.1zM398.8 313.2h1.1v1.1h-1.1zM449.0 311.4h1.1v1.1h-1.1zM385.4 333.3h1.1v1.1h-1.1zM445.5 317.1h1.1v1.1h-1.1zM411.4 312.3h1.1v1.1h-1.1zM446.3 309.6h1.1v1.1h-1.1zM448.6 313.4h1.1v1.1h-1.1zM439.6 319.0h1.1v1.1h-1.1zM379.2 329.6h1.1v1.1h-1.1zM441.6 300.5h1.1v1.1h-1.1zM406.8 315.6h1.1v1.1h-1.1zM433.9 311.1h1.1v1.1h-1.1zM441.8 317.4h1.1v1.1h-1.1zM446.5 314.5h1.1v1.1h-1.1zM438.9 312.1h1.1v1.1h-1.1zM393.9 316.0h1.1v1.1h-1.1zM441.9 313.8h1.1v1.1h-1.1zM404.8 316.9h1.1v1.1h-1.1zM394.5 315.4h1.1v1.1h-1.1zM400.0 312.2h1.1v1.1h-1.1z" fill="#cc3442"/>
<path d="M428.6 340.1h1.1v1.1h-1.1zM409.5 293.7h1.1v1.1h-1.1zM384.4 323.5h1.1v1.1h-1.1zM444.0 328.7h1.1v1.1h-1.1zM418.7 351.1h1.1v1.1h-1.1zM412.7 338.3h1.1v1.1h-1.1zM406.0 361.8h1.1v1.1h-1.1zM397.9 298.8h1.1v1.1h-1.1zM435.5 332.5h1.1v1.1h-1.1zM412.9 342.5h1.1v1.1h-1.1zM402.8 285.2h1.1v1.1h-1.1zM386.8 319.7h1.1v1.1h-1.1zM445.6 306.1h1.1v1.1h-1.1zM403.9 346.4h1.1v1.1h-1.1zM397.9 313.2h1.1v1.1h-1.1zM392.6 307.4h1.1v1.1h-1.1zM387.3 316.9h1.1v1.1h-1.1zM442.2 329.6h1.1v1.1h-1.1zM385.3 328.4h1.1v1.1h-1.1zM451.7 330.3h1.1v1.1h-1.1zM409.8 309.3h1.1v1.1h-1.1zM445.4 338.1h1.1v1.1h-1.1zM406.9 315.9h1.1v1.1h-1.1zM449.4 329.5h1.1v1.1h-1.1zM443.1 316.9h1.1v1.1h-1.1zM417.3 357.1h1.1v1.1h-1.1zM396.4 328.6h1.1v1.1h-1.1zM427.0 354.4h1.1v1.1h-1.1zM401.8 281.6h1.1v1.1h-1.1zM444.7 306.5h1.1v1.1h-1.1zM403.9 345.1h1.1v1.1h-1.1zM407.4 287.2h1.1v1.1h-1.1zM448.1 310.5h1.1v1.1h-1.1zM446.4 313.4h1.1v1.1h-1.1zM399.0 283.5h1.1v1.1h-1.1zM413.8 339.4h1.1v1.1h-1.1zM417.3 345.3h1.1v1.1h-1.1zM443.9 312.3h1.1v1.1h-1.1zM397.5 320.0h1.1v1.1h-1.1zM411.1 329.1h1.1v1.1h-1.1zM402.1 283.0h1.1v1.1h-1.1zM433.3 310.7h1.1v1.1h-1.1zM403.5 338.1h1.1v1.1h-1.1zM440.1 344.4h1.1v1.1h-1.1zM440.6 312.0h1.1v1.1h-1.1zM437.5 308.2h1.1v1.1h-1.1zM404.2 330.2h1.1v1.1h-1.1zM431.4 334.9h1.1v1.1h-1.1zM405.3 303.9h1.1v1.1h-1.1zM402.6 283.1h1.1v1.1h-1.1zM442.2 300.5h1.1v1.1h-1.1zM417.2 349.6h1.1v1.1h-1.1zM388.4 331.2h1.1v1.1h-1.1zM395.4 319.9h1.1v1.1h-1.1zM433.9 316.1h1.1v1.1h-1.1zM401.9 283.3h1.1v1.1h-1.1zM400.1 306.7h1.1v1.1h-1.1zM446.8 343.6h1.1v1.1h-1.1zM451.4 336.1h1.1v1.1h-1.1zM406.4 350.4h1.1v1.1h-1.1zM452.0 342.5h1.1v1.1h-1.1zM440.2 328.8h1.1v1.1h-1.1zM384.4 318.2h1.1v1.1h-1.1zM413.9 347.1h1.1v1.1h-1.1zM391.7 293.6h1.1v1.1h-1.1zM406.1 283.5h1.1v1.1h-1.1zM414.5 364.6h1.1v1.1h-1.1zM442.2 310.2h1.1v1.1h-1.1zM407.5 357.3h1.1v1.1h-1.1zM414.9 353.2h1.1v1.1h-1.1zM423.5 338.8h1.1v1.1h-1.1zM393.0 328.2h1.1v1.1h-1.1zM417.6 322.0h1.1v1.1h-1.1zM390.5 323.6h1.1v1.1h-1.1zM400.1 311.3h1.1v1.1h-1.1zM446.7 331.8h1.1v1.1h-1.1zM398.3 310.3h1.1v1.1h-1.1zM435.1 314.1h1.1v1.1h-1.1zM448.0 305.6h1.1v1.1h-1.1zM411.9 353.7h1.1v1.1h-1.1zM452.8 343.6h1.1v1.1h-1.1zM416.0 350.5h1.1v1.1h-1.1zM422.9 285.1h1.1v1.1h-1.1zM426.3 339.6h1.1v1.1h-1.1zM391.8 301.5h1.1v1.1h-1.1zM397.2 296.2h1.1v1.1h-1.1zM396.8 331.0h1.1v1.1h-1.1zM399.1 287.8h1.1v1.1h-1.1zM379.6 324.7h1.1v1.1h-1.1zM418.8 320.7h1.1v1.1h-1.1zM415.2 289.6h1.1v1.1h-1.1zM396.9 286.5h1.1v1.1h-1.1zM425.1 356.2h1.1v1.1h-1.1zM425.8 350.5h1.1v1.1h-1.1zM409.2 313.9h1.1v1.1h-1.1zM419.7 285.5h1.1v1.1h-1.1zM449.3 324.8h1.1v1.1h-1.1zM399.4 301.6h1.1v1.1h-1.1zM418.8 324.6h1.1v1.1h-1.1zM444.8 339.9h1.1v1.1h-1.1zM400.7 287.1h1.1v1.1h-1.1zM422.1 361.1h1.1v1.1h-1.1zM439.4 317.0h1.1v1.1h-1.1zM415.7 285.0h1.1v1.1h-1.1zM440.9 314.6h1.1v1.1h-1.1zM403.3 317.1h1.1v1.1h-1.1zM418.5 335.0h1.1v1.1h-1.1zM400.1 300.0h1.1v1.1h-1.1zM446.5 341.2h1.1v1.1h-1.1zM422.6 326.6h1.1v1.1h-1.1zM443.6 340.6h1.1v1.1h-1.1zM411.6 324.7h1.1v1.1h-1.1zM395.0 318.9h1.1v1.1h-1.1zM393.6 321.9h1.1v1.1h-1.1zM401.7 346.1h1.1v1.1h-1.1zM427.0 362.4h1.1v1.1h-1.1zM391.0 332.0h1.1v1.1h-1.1zM428.8 341.0h1.1v1.1h-1.1zM406.7 345.3h1.1v1.1h-1.1zM394.4 318.6h1.1v1.1h-1.1zM409.6 308.6h1.1v1.1h-1.1zM415.8 295.9h1.1v1.1h-1.1zM393.7 312.7h1.1v1.1h-1.1zM399.6 337.0h1.1v1.1h-1.1zM395.6 308.6h1.1v1.1h-1.1zM402.4 323.1h1.1v1.1h-1.1zM444.5 327.5h1.1v1.1h-1.1zM448.7 319.8h1.1v1.1h-1.1z" fill="#ffffff"/>
<line x1="367.20" y1="265.60" x2="367.20" y2="377.25" stroke="#222" stroke-width="1.3"/>
<line x1="366.55" y1="376.60" x2="462.50" y2="376.60" stroke="#222" stroke-width="1.3"/>
<line x1="364.50" y1="288.00" x2="367.20" y2="288.00" stroke="#333" stroke-width="1.1"/>
<text x="361.70" y="290.46" font-size="7.7" text-anchor="end" fill="#333" stroke="#333" stroke-width="0.25">10</text>
<line x1="364.50" y1="322.70" x2="367.20" y2="322.70" stroke="#333" stroke-width="1.1"/>
<text x="361.70" y="325.16" font-size="7.7" text-anchor="end" fill="#333" stroke="#333" stroke-width="0.25">0</text>
<line x1="364.50" y1="357.40" x2="367.20" y2="357.40" stroke="#333" stroke-width="1.1"/>
<text x="361.70" y="359.86" font-size="7.7" text-anchor="end" fill="#333" stroke="#333" stroke-width="0.25">−10</text>
<line x1="381.40" y1="376.60" x2="381.40" y2="379.30" stroke="#333" stroke-width="1.1"/>
<text x="381.40" y="389.49" font-size="7.5" text-anchor="middle" fill="#333" stroke="#333" stroke-width="0.25">−10</text>
<line x1="398.10" y1="376.60" x2="398.10" y2="379.30" stroke="#333" stroke-width="1.1"/>
<text x="398.10" y="389.49" font-size="7.5" text-anchor="middle" fill="#333" stroke="#333" stroke-width="0.25">−5</text>
<line x1="414.80" y1="376.60" x2="414.80" y2="379.30" stroke="#333" stroke-width="1.1"/>
<text x="414.80" y="389.49" font-size="7.5" text-anchor="middle" fill="#333" stroke="#333" stroke-width="0.25">0</text>
<line x1="431.50" y1="376.60" x2="431.50" y2="379.30" stroke="#333" stroke-width="1.1"/>
<text x="431.50" y="389.49" font-size="7.5" text-anchor="middle" fill="#333" stroke="#333" stroke-width="0.25">5</text>
<line x1="448.20" y1="376.60" x2="448.20" y2="379.30" stroke="#333" stroke-width="1.1"/>
<text x="448.20" y="389.49" font-size="7.5" text-anchor="middle" fill="#333" stroke="#333" stroke-width="0.25">10</text>
<text x="415.10" y="402.16" font-size="8" text-anchor="middle" font-weight="bold" textLength="24" lengthAdjust="spacingAndGlyphs" fill="#333" stroke="#333" stroke-width="0.25">umap_1</text>
<g transform="translate(349.0,318.5) rotate(-90)">
<text x="0.00" y="2.86" font-size="8" text-anchor="middle" font-weight="bold" textLength="24" lengthAdjust="spacingAndGlyphs" fill="#333" stroke="#333" stroke-width="0.25">umap_2</text>
</g>
<text x="397.00" y="259.90" font-size="9.5" fill="#111" stroke="#111" stroke-width="0.25">MAP3K7</text>
<defs><linearGradient id="cb2" x1="0" y1="1" x2="0" y2="0"><stop offset="0" stop-color="#34589a"/><stop offset="0.12" stop-color="#3f88b0"/><stop offset="0.3" stop-color="#5ab8a0"/><stop offset="0.45" stop-color="#b4da98"/><stop offset="0.55" stop-color="#f6f2a4"/><stop offset="0.66" stop-color="#fcc070"/><stop offset="0.77" stop-color="#f68a50"/><stop offset="0.88" stop-color="#dc4646"/><stop offset="1" stop-color="#8a0a40"/></linearGradient></defs>
<rect x="468.6" y="300.5" width="8" height="41.0" fill="url(#cb2)"/>
<text x="480.60" y="305.72" font-size="7.6" fill="#333" stroke="#333" stroke-width="0.25">1.6</text>
<text x="480.60" y="315.62" font-size="7.6" fill="#333" stroke="#333" stroke-width="0.25">1.2</text>
<text x="480.60" y="324.92" font-size="7.6" fill="#333" stroke="#333" stroke-width="0.25">0.8</text>
<text x="480.60" y="334.12" font-size="7.6" fill="#333" stroke="#333" stroke-width="0.25">0.4</text>
<text x="480.60" y="343.32" font-size="7.6" fill="#333" stroke="#333" stroke-width="0.25">0.0</text>
<text x="10.50" y="429.38" font-size="10" font-weight="bold" fill="#111" stroke="#111" stroke-width="0.25">C</text>
<line x1="46.70" y1="445.60" x2="222.80" y2="445.60" stroke="#222" stroke-width="0.9"/>
<path d="M43.7,445.6 L49.0,443.5 L47.8,445.6 L49.0,447.70000000000005Z" fill="#222"/>
<path d="M225.8,445.6 L220.5,443.5 L221.7,445.6 L220.5,447.70000000000005Z" fill="#222"/>
<text x="46.40" y="439.42" font-size="7.6" textLength="45" lengthAdjust="spacingAndGlyphs" fill="#3a3a3a" stroke="#3a3a3a" stroke-width="0.25" stroke-opacity="0">Higher in HC</text>
<text x="224.00" y="439.42" font-size="7.6" text-anchor="end" textLength="45" lengthAdjust="spacingAndGlyphs" fill="#3a3a3a" stroke="#3a3a3a" stroke-width="0.25" stroke-opacity="0">Higher in ITP</text>
<line x1="266.50" y1="445.60" x2="449.20" y2="445.60" stroke="#222" stroke-width="0.9"/>
<path d="M263.5,445.6 L268.8,443.5 L267.6,445.6 L268.8,447.70000000000005Z" fill="#222"/>
<path d="M452.2,445.6 L446.9,443.5 L448.1,445.6 L446.9,447.70000000000005Z" fill="#222"/>
<text x="265.60" y="439.42" font-size="7.6" textLength="45" lengthAdjust="spacingAndGlyphs" fill="#3a3a3a" stroke="#3a3a3a" stroke-width="0.25" stroke-opacity="0">Higher in HC</text>
<text x="450.40" y="439.42" font-size="7.6" text-anchor="end" textLength="45" lengthAdjust="spacingAndGlyphs" fill="#3a3a3a" stroke="#3a3a3a" stroke-width="0.25" stroke-opacity="0">Higher in ITP</text>
<line x1="53.60" y1="463.70" x2="53.60" y2="594.25" stroke="#222" stroke-width="1.3"/>
<line x1="52.95" y1="593.60" x2="194.30" y2="593.60" stroke="#222" stroke-width="1.3"/>
<line x1="53.60" y1="593.60" x2="53.60" y2="596.30" stroke="#222" stroke-width="1.1"/>
<text x="53.60" y="605.88" font-size="7.2" text-anchor="middle" fill="#333" stroke="#333" stroke-width="0.25">0.50</text>
<line x1="88.25" y1="593.60" x2="88.25" y2="596.30" stroke="#222" stroke-width="1.1"/>
<text x="88.25" y="605.88" font-size="7.2" text-anchor="middle" fill="#333" stroke="#333" stroke-width="0.25">0.75</text>
<line x1="122.90" y1="593.60" x2="122.90" y2="596.30" stroke="#222" stroke-width="1.1"/>
<text x="122.90" y="605.88" font-size="7.2" text-anchor="middle" fill="#333" stroke="#333" stroke-width="0.25">1.00</text>
<line x1="157.55" y1="593.60" x2="157.55" y2="596.30" stroke="#222" stroke-width="1.1"/>
<text x="157.55" y="605.88" font-size="7.2" text-anchor="middle" fill="#333" stroke="#333" stroke-width="0.25">1.25</text>
<line x1="192.20" y1="593.60" x2="192.20" y2="596.30" stroke="#222" stroke-width="1.1"/>
<text x="192.20" y="605.88" font-size="7.2" text-anchor="middle" fill="#333" stroke="#333" stroke-width="0.25">1.50</text>
<line x1="122.9" y1="463.7" x2="122.9" y2="593.6" stroke="#555" stroke-width="0.9" stroke-dasharray="1,1.4"/>
<text x="124.40" y="619.35" font-size="8.8" text-anchor="middle" font-weight="bold" textLength="36" lengthAdjust="spacingAndGlyphs" fill="#222" stroke="#222" stroke-width="0.25">Fold change</text>
<text x="108.60" y="458.11" font-size="8.7" textLength="31.6" lengthAdjust="spacingAndGlyphs" fill="#111" stroke="#111" stroke-width="0.25">All cells</text>
<text x="199.50" y="462.25" font-size="7.4" textLength="25" lengthAdjust="spacingAndGlyphs" fill="#222" stroke="#222" stroke-width="0.25"><tspan font-style="italic">P</tspan>-value</text>
<line x1="50.80" y1="475.20" x2="53.60" y2="475.20" stroke="#222" stroke-width="1.1"/>
<text x="48.60" y="478.14" font-size="8.2" text-anchor="end" font-style="italic" fill="#222" stroke="#222" stroke-width="0.25">ABCC4</text>
<circle cx="158.38" cy="475.20" r="2.6" fill="#b41540"/>
<text x="211.7" y="478.23" font-size="7.9" text-anchor="middle" fill="#222" stroke="#222" stroke-width="0.25">5×10<tspan font-size="5.4" dy="-3.5">−67</tspan></text>
<line x1="50.80" y1="493.10" x2="53.60" y2="493.10" stroke="#222" stroke-width="1.1"/>
<text x="48.60" y="496.04" font-size="8.2" text-anchor="end" font-style="italic" fill="#222" stroke="#222" stroke-width="0.25">MAP3K7</text>
<circle cx="115.97" cy="493.10" r="2.6" fill="#b41540"/>
<text x="211.7" y="496.13" font-size="7.9" text-anchor="middle" fill="#222" stroke="#222" stroke-width="0.25">5×10<tspan font-size="5.4" dy="-3.5">−10</tspan></text>
<line x1="50.80" y1="510.60" x2="53.60" y2="510.60" stroke="#222" stroke-width="1.1"/>
<text x="48.60" y="513.54" font-size="8.2" text-anchor="end" font-style="italic" fill="#222" stroke="#222" stroke-width="0.25">DKK1</text>
<circle cx="70.23" cy="510.60" r="2.6" fill="#b41540"/>
<text x="211.7" y="513.63" font-size="7.9" text-anchor="middle" fill="#222" stroke="#222" stroke-width="0.25">2×10<tspan font-size="5.4" dy="-3.5">−4</tspan></text>
<line x1="50.80" y1="528.30" x2="53.60" y2="528.30" stroke="#222" stroke-width="1.1"/>
<text x="48.60" y="531.24" font-size="8.2" text-anchor="end" font-style="italic" fill="#222" stroke="#222" stroke-width="0.25">GRIP1</text>
<circle cx="140.78" cy="528.30" r="2.6" fill="#b41540"/>
<text x="211.7" y="531.33" font-size="7.9" text-anchor="middle" fill="#222" stroke="#222" stroke-width="0.25">2×10<tspan font-size="5.4" dy="-3.5">−4</tspan></text>
<line x1="50.80" y1="546.20" x2="53.60" y2="546.20" stroke="#222" stroke-width="1.1"/>
<text x="48.60" y="549.14" font-size="8.2" text-anchor="end" font-style="italic" fill="#222" stroke="#222" stroke-width="0.25">NKD1</text>
<circle cx="179.17" cy="546.20" r="2.6" fill="#b41540"/>
<text x="211.7" y="549.23" font-size="7.9" text-anchor="middle" fill="#222" stroke="#222" stroke-width="0.25">9×10<tspan font-size="5.4" dy="-3.5">−3</tspan></text>
<line x1="50.80" y1="564.00" x2="53.60" y2="564.00" stroke="#222" stroke-width="1.1"/>
<text x="48.60" y="566.94" font-size="8.2" text-anchor="end" font-style="italic" fill="#222" stroke="#222" stroke-width="0.25">NAV2</text>
<circle cx="105.99" cy="564.00" r="2.6" fill="#b41540"/>
<text x="211.80" y="566.72" font-size="7.6" text-anchor="middle" fill="#222" stroke="#222" stroke-width="0.25">.017</text>
<line x1="50.80" y1="581.80" x2="53.60" y2="581.80" stroke="#222" stroke-width="1.1"/>
<text x="48.60" y="584.74" font-size="8.2" text-anchor="end" font-style="italic" fill="#222" stroke="#222" stroke-width="0.25">CCDC85A</text>
<circle cx="100.59" cy="581.80" r="2.6" fill="#b41540"/>
<text x="211.80" y="584.52" font-size="7.6" text-anchor="middle" fill="#222" stroke="#222" stroke-width="0.25">.68</text>
<line x1="277.70" y1="463.00" x2="277.70" y2="525.20" stroke="#222" stroke-width="1.3"/>
<line x1="277.70" y1="547.30" x2="277.70" y2="594.00" stroke="#222" stroke-width="1.3"/>
<line x1="277.05" y1="593.60" x2="423.00" y2="593.60" stroke="#222" stroke-width="1.3"/>
<line x1="277.70" y1="593.60" x2="277.70" y2="596.30" stroke="#222" stroke-width="1.1"/>
<text x="277.70" y="605.88" font-size="7.2" text-anchor="middle" fill="#333" stroke="#333" stroke-width="0.25">0.50</text>
<line x1="313.35" y1="593.60" x2="313.35" y2="596.30" stroke="#222" stroke-width="1.1"/>
<text x="313.35" y="605.88" font-size="7.2" text-anchor="middle" fill="#333" stroke="#333" stroke-width="0.25">0.75</text>
<line x1="349.00" y1="593.60" x2="349.00" y2="596.30" stroke="#222" stroke-width="1.1"/>
<text x="349.00" y="605.88" font-size="7.2" text-anchor="middle" fill="#333" stroke="#333" stroke-width="0.25">1.00</text>
<line x1="384.65" y1="593.60" x2="384.65" y2="596.30" stroke="#222" stroke-width="1.1"/>
<text x="384.65" y="605.88" font-size="7.2" text-anchor="middle" fill="#333" stroke="#333" stroke-width="0.25">1.25</text>
<line x1="420.30" y1="593.60" x2="420.30" y2="596.30" stroke="#222" stroke-width="1.1"/>
<text x="420.30" y="605.88" font-size="7.2" text-anchor="middle" fill="#333" stroke="#333" stroke-width="0.25">1.50</text>
<line x1="349.0" y1="463" x2="349.0" y2="525.2" stroke="#555" stroke-width="0.9" stroke-dasharray="1,1.4"/>
<line x1="349.0" y1="547.3" x2="349.0" y2="594" stroke="#555" stroke-width="0.9" stroke-dasharray="1,1.4"/>
<text x="350.50" y="619.35" font-size="8.8" text-anchor="middle" font-weight="bold" textLength="36" lengthAdjust="spacingAndGlyphs" fill="#222" stroke="#222" stroke-width="0.25">Fold change</text>
<text x="298.80" y="458.11" font-size="8.7" textLength="103.8" lengthAdjust="spacingAndGlyphs" fill="#111" stroke="#111" stroke-width="0.25">Platelets\Megakaryocytes</text>
<text x="350.50" y="542.31" font-size="8.7" text-anchor="middle" textLength="53" lengthAdjust="spacingAndGlyphs" fill="#111" stroke="#111" stroke-width="0.25">Lymphocytes</text>
<text x="426.00" y="462.25" font-size="7.4" textLength="25.5" lengthAdjust="spacingAndGlyphs" fill="#222" stroke="#222" stroke-width="0.25"><tspan font-style="italic">P</tspan>-value</text>
<line x1="275.00" y1="475.70" x2="277.70" y2="475.70" stroke="#222" stroke-width="1.1"/>
<text x="272.80" y="478.64" font-size="8.2" text-anchor="end" font-style="italic" fill="#222" stroke="#222" stroke-width="0.25">ABCC4</text>
<circle cx="368.96" cy="475.70" r="2.6" fill="#b41540"/>
<text x="438.50" y="478.92" font-size="7.6" text-anchor="middle" fill="#222" stroke="#222" stroke-width="0.25">.41</text>
<line x1="275.00" y1="494.00" x2="277.70" y2="494.00" stroke="#222" stroke-width="1.1"/>
<text x="272.80" y="496.94" font-size="8.2" text-anchor="end" font-style="italic" fill="#222" stroke="#222" stroke-width="0.25">MAP3K7</text>
<circle cx="321.91" cy="494.00" r="2.6" fill="#b41540"/>
<text x="438.50" y="497.22" font-size="7.6" text-anchor="middle" fill="#222" stroke="#222" stroke-width="0.25">.68</text>
<line x1="275.00" y1="512.60" x2="277.70" y2="512.60" stroke="#222" stroke-width="1.1"/>
<text x="269.20" y="515.54" font-size="8.2" text-anchor="end" font-style="italic" fill="#222" stroke="#222" stroke-width="0.25">DKK1</text>
<circle cx="290.53" cy="512.60" r="2.6" fill="#b41540"/>
<text x="438.50" y="515.82" font-size="7.6" text-anchor="middle" fill="#222" stroke="#222" stroke-width="0.25">.04</text>
<line x1="275.00" y1="560.50" x2="277.70" y2="560.50" stroke="#222" stroke-width="1.1"/>
<text x="272.80" y="563.44" font-size="8.2" text-anchor="end" font-style="italic" fill="#222" stroke="#222" stroke-width="0.25">NKD1</text>
<circle cx="391.78" cy="560.50" r="2.6" fill="#b41540"/>
<text x="438.50" y="563.72" font-size="7.6" text-anchor="middle" fill="#222" stroke="#222" stroke-width="0.25">.98</text>
<line x1="275.00" y1="580.40" x2="277.70" y2="580.40" stroke="#222" stroke-width="1.1"/>
<text x="272.80" y="583.34" font-size="8.2" text-anchor="end" font-style="italic" fill="#222" stroke="#222" stroke-width="0.25">MAP3K7</text>
<circle cx="336.17" cy="580.40" r="2.6" fill="#b41540"/>
<text x="438.50" y="583.62" font-size="7.6" text-anchor="middle" fill="#222" stroke="#222" stroke-width="0.25">.01</text>
<rect x="0.5" y="0.5" width="519" height="627" fill="none" stroke="#606060" stroke-width="1.1"/>
</svg>
</body></html>
